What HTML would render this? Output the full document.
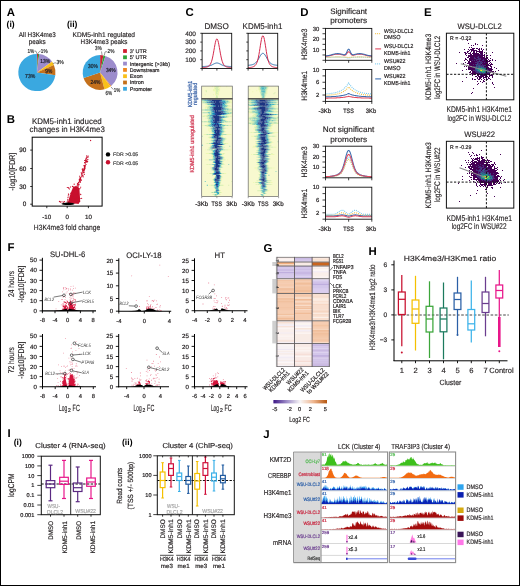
<!DOCTYPE html>
<html><head><meta charset="utf-8"><style>
html,body{margin:0;padding:0;background:#fff;overflow:hidden;}
#w{position:relative;width:520px;height:586px;}
#b{position:absolute;left:0;top:0;width:520px;height:586px;box-sizing:border-box;border:1px solid #000;}
svg{display:block;filter:blur(0.3px);}
text{font-family:"Liberation Sans",sans-serif;text-rendering:geometricPrecision;}
</style></head><body>
<div id="w">
<svg width="520" height="586" viewBox="0 0 520 586" font-family="Liberation Sans, sans-serif" font-size="6.6">
<rect x="0" y="0" width="520" height="586" fill="#fff"/>
<text x="6.8" y="16.3" font-size="11.4" font-weight="bold" fill="#000">A</text>
<text x="6.6" y="26.6" font-size="8.6" font-weight="bold" fill="#000">(i)</text>
<text x="66.9" y="26.6" font-size="8.6" font-weight="bold" fill="#000">(ii)</text>
<text x="18.8" y="36.7" font-size="6.9" fill="#231f20" textLength="36.9" lengthAdjust="spacingAndGlyphs" stroke="#231f20" stroke-width="0.17">All H3K4me3</text>
<text x="28.7" y="43.6" font-size="6.9" fill="#231f20" textLength="17" lengthAdjust="spacingAndGlyphs" stroke="#231f20" stroke-width="0.17">peaks</text>
<text x="72.6" y="36.7" font-size="6.9" fill="#231f20" textLength="62.4" lengthAdjust="spacingAndGlyphs" stroke="#231f20" stroke-width="0.17">KDM5-inh1 regulated</text>
<text x="80.6" y="43.6" font-size="6.9" fill="#231f20" textLength="46.7" lengthAdjust="spacingAndGlyphs" stroke="#231f20" stroke-width="0.17">H3K4me3 peaks</text>
<path d="M36.9 72.5L36.9 53.9A18.6 18.6 0 0 1 38.07 53.94Z" fill="#cf1f2e"/>
<path d="M36.9 72.5L38.07 53.94A18.6 18.6 0 0 1 39.23 54.05Z" fill="#2fa43a"/>
<path d="M36.9 72.5L39.23 54.05A18.6 18.6 0 0 1 51.95 61.57Z" fill="#9c8ccc"/>
<path d="M36.9 72.5L51.95 61.57A18.6 18.6 0 0 1 52.15 61.85Z" fill="#f0861f"/>
<path d="M36.9 72.5L52.15 61.85A18.6 18.6 0 0 1 53.88 64.9Z" fill="#f9c019"/>
<path d="M36.9 72.5L53.88 64.9A18.6 18.6 0 0 1 55.31 75.18Z" fill="#c4701b"/>
<path d="M36.9 72.5L55.31 75.18A18.6 18.6 0 1 1 36.9 53.9Z" fill="#3aa8e0"/>
<path d="M100.1 72.5L100.1 55.1A17.4 17.4 0 0 1 103.36 55.41Z" fill="#cf1f2e"/>
<path d="M100.1 72.5L103.36 55.41A17.4 17.4 0 0 1 105.48 55.95Z" fill="#2fa43a"/>
<path d="M100.1 72.5L105.48 55.95A17.4 17.4 0 0 1 111.19 85.91Z" fill="#9c8ccc"/>
<path d="M100.1 72.5L111.19 85.91A17.4 17.4 0 0 1 110.33 86.58Z" fill="#f0861f"/>
<path d="M100.1 72.5L110.33 86.58A17.4 17.4 0 0 1 104.43 89.35Z" fill="#f9c019"/>
<path d="M100.1 72.5L104.43 89.35A17.4 17.4 0 0 1 83.55 77.88Z" fill="#c4701b"/>
<path d="M100.1 72.5L83.55 77.88A17.4 17.4 0 0 1 100.1 55.1Z" fill="#3aa8e0"/>
<text x="27.4" y="52.6" font-size="5.8" fill="#2a2a2a" textLength="6.8" lengthAdjust="spacingAndGlyphs" stroke="#2a2a2a" stroke-width="0.2">1%</text>
<text x="40.8" y="52.6" font-size="5.8" fill="#2a2a2a" textLength="6.8" lengthAdjust="spacingAndGlyphs" stroke="#2a2a2a" stroke-width="0.2">1%</text>
<text x="40.2" y="63.3" font-size="5.8" fill="#1a1a22" textLength="10" lengthAdjust="spacingAndGlyphs" stroke="#1a1a22" stroke-width="0.2">13%</text>
<text x="56.4" y="64.3" font-size="5.8" fill="#2a2a2a" textLength="7.3" lengthAdjust="spacingAndGlyphs" stroke="#2a2a2a" stroke-width="0.2">3%</text>
<text x="45.3" y="72.5" font-size="5.8" fill="#1a1a22" textLength="7" lengthAdjust="spacingAndGlyphs" stroke="#1a1a22" stroke-width="0.2">9%</text>
<text x="25.1" y="78.3" font-size="5.8" fill="#1a1a22" textLength="10.2" lengthAdjust="spacingAndGlyphs" stroke="#1a1a22" stroke-width="0.2">73%</text>
<path d="M34.4 51 L36 51.2 L37.1 53.9" fill="none" stroke="#333" stroke-width="0.5" stroke-linejoin="round"/>
<path d="M40.7 51 L39.5 51.4 L37.6 53.9" fill="none" stroke="#333" stroke-width="0.5" stroke-linejoin="round"/>
<path d="M56.2 62.8 L54.5 63 L52.8 63.7" fill="none" stroke="#333" stroke-width="0.5" stroke-linejoin="round"/>
<text x="95.1" y="50.2" font-size="5.8" fill="#2a2a2a" textLength="6.6" lengthAdjust="spacingAndGlyphs" stroke="#2a2a2a" stroke-width="0.2">3%</text>
<text x="107.6" y="52.8" font-size="5.8" fill="#2a2a2a" textLength="6.9" lengthAdjust="spacingAndGlyphs" stroke="#2a2a2a" stroke-width="0.2">2%</text>
<text x="88.1" y="67.8" font-size="5.8" fill="#1a1a22" textLength="9.8" lengthAdjust="spacingAndGlyphs" stroke="#1a1a22" stroke-width="0.2">30%</text>
<text x="105.9" y="72.4" font-size="5.8" fill="#1a1a22" textLength="9.8" lengthAdjust="spacingAndGlyphs" stroke="#1a1a22" stroke-width="0.2">34%</text>
<text x="90.5" y="84.4" font-size="5.8" fill="#1a1a22" textLength="9.9" lengthAdjust="spacingAndGlyphs" stroke="#1a1a22" stroke-width="0.2">24%</text>
<text x="113.8" y="91.6" font-size="5.8" fill="#2a2a2a" textLength="6.5" lengthAdjust="spacingAndGlyphs" stroke="#2a2a2a" stroke-width="0.2">1%</text>
<text x="105.4" y="94.5" font-size="5.8" fill="#2a2a2a" textLength="6.7" lengthAdjust="spacingAndGlyphs" stroke="#2a2a2a" stroke-width="0.2">6%</text>
<path d="M101.5 51.5 L102.1 55.2" fill="none" stroke="#333" stroke-width="0.5" stroke-linejoin="round"/>
<path d="M107.2 51.6 L105 51.9 L104.3 55.4" fill="none" stroke="#333" stroke-width="0.5" stroke-linejoin="round"/>
<path d="M113.4 89.6 L111 87" fill="none" stroke="#333" stroke-width="0.5" stroke-linejoin="round"/>
<rect x="123.1" y="49.1" width="3.8" height="3.8" fill="#cf1f2e"/>
<text x="129.8" y="52.9" font-size="5.45" fill="#231f20" textLength="17" lengthAdjust="spacingAndGlyphs" stroke="#231f20" stroke-width="0.2">3’  UTR</text>
<rect x="123.1" y="55.4" width="3.8" height="3.8" fill="#2fa43a"/>
<text x="129.8" y="59.2" font-size="5.45" fill="#231f20" textLength="17" lengthAdjust="spacingAndGlyphs" stroke="#231f20" stroke-width="0.2">5’  UTR</text>
<rect x="123.1" y="61.7" width="3.8" height="3.8" fill="#9c8ccc"/>
<text x="129.8" y="65.5" font-size="5.45" fill="#231f20" textLength="40.3" lengthAdjust="spacingAndGlyphs" stroke="#231f20" stroke-width="0.2">Intergenic (&gt;3kb)</text>
<rect x="123.1" y="68" width="3.8" height="3.8" fill="#f0861f"/>
<text x="129.8" y="71.8" font-size="5.45" fill="#231f20" textLength="29.7" lengthAdjust="spacingAndGlyphs" stroke="#231f20" stroke-width="0.2">Downstream</text>
<rect x="123.1" y="74.3" width="3.8" height="3.8" fill="#f9c019"/>
<text x="129.8" y="78.1" font-size="5.45" fill="#231f20" textLength="13" lengthAdjust="spacingAndGlyphs" stroke="#231f20" stroke-width="0.2">Exon</text>
<rect x="123.1" y="80.6" width="3.8" height="3.8" fill="#c4701b"/>
<text x="129.8" y="84.4" font-size="5.45" fill="#231f20" textLength="14" lengthAdjust="spacingAndGlyphs" stroke="#231f20" stroke-width="0.2">Intron</text>
<rect x="123.1" y="86.9" width="3.8" height="3.8" fill="#3aa8e0"/>
<text x="129.8" y="90.7" font-size="5.45" fill="#231f20" textLength="22.2" lengthAdjust="spacingAndGlyphs" stroke="#231f20" stroke-width="0.2">Promoter</text>
<text x="6.7" y="122.7" font-size="11.4" font-weight="bold" fill="#000">B</text>
<text x="31.9" y="123.8" font-size="8.1" fill="#231f20" textLength="69.9" lengthAdjust="spacingAndGlyphs" stroke="#231f20" stroke-width="0.15">KDM5-inh1 induced</text>
<text x="29.6" y="131.9" font-size="8.1" fill="#231f20" textLength="75.2" lengthAdjust="spacingAndGlyphs" stroke="#231f20" stroke-width="0.15">changes in H3K4me3</text>
<path d="M67.6 203.6 L69.5 197 L71.5 191 L73.3 186.8 L75.5 186.2 L78.3 187 L79.5 190 L79.9 196 L80.2 201.5 L78.5 203.8" fill="#c8102e"/>
<path fill="#c8102e" d="M77.88 181.65h1v1h-1zM82.43 169.57h1v1h-1zM83 168.85h1v1h-1zM85.26 161.86h1v1h-1zM79.11 180.94h1v1h-1zM83.8 173.98h1v1h-1zM84.07 161.9h1v1h-1zM77.83 184.53h1v1h-1zM83.64 168.55h1v1h-1zM83.44 165.04h1v1h-1zM84.63 167.34h1v1h-1zM83.03 169.99h1v1h-1zM80.89 179.56h1v1h-1zM81.51 173.9h1v1h-1zM84.82 165.78h1v1h-1zM85.26 159.1h1v1h-1zM80.62 176.47h1v1h-1zM85.47 158.63h1v1h-1zM86.02 160.5h1v1h-1zM78.64 182.34h1v1h-1zM85.59 157.64h1v1h-1zM79.75 179.57h1v1h-1zM81.02 172.76h1v1h-1zM82.92 170.19h1v1h-1zM83.42 170.22h1v1h-1zM85.53 158.84h1v1h-1zM86.61 161.24h1v1h-1zM77.73 184.12h1v1h-1zM87.16 161.1h1v1h-1zM81.88 170.72h1v1h-1zM84.22 165.94h1v1h-1zM83.77 170.57h1v1h-1zM80.58 180.1h1v1h-1zM87.5 156.84h1v1h-1zM77.23 186.58h1v1h-1zM76.88 184.52h1v1h-1zM79.42 179.8h1v1h-1zM74.87 188.04h1v1h-1zM83.98 169.22h1v1h-1zM80 178.58h1v1h-1zM86.63 160.43h1v1h-1zM86.87 156.55h1v1h-1zM80.36 179.28h1v1h-1zM76.85 188.46h1v1h-1zM77.25 182.99h1v1h-1zM78.32 184.35h1v1h-1zM76.93 188.1h1v1h-1zM86.03 157.86h1v1h-1zM85.22 159.91h1v1h-1zM82.34 172.34h1v1h-1zM82.24 168.25h1v1h-1zM82.24 169.04h1v1h-1zM85.5 158.46h1v1h-1zM83.89 165.73h1v1h-1zM77.92 181.66h1v1h-1zM83.83 172.3h1v1h-1zM82.86 171.4h1v1h-1zM82.44 170.36h1v1h-1zM75.38 188.84h1v1h-1zM75.91 187.52h1v1h-1zM81.72 168.8h1v1h-1zM80.13 177.86h1v1h-1zM83.76 166.17h1v1h-1zM76.5 187.5h1v1h-1zM84.03 167.19h1v1h-1zM80.88 174.44h1v1h-1zM82.2 169.94h1v1h-1zM80.13 179.18h1v1h-1zM79.5 177.32h1v1h-1zM79.77 177.05h1v1h-1zM85.52 164.01h1v1h-1zM84.26 165.24h1v1h-1zM79.66 179.27h1v1h-1zM80.05 181.62h1v1h-1zM76.92 183.32h1v1h-1zM77.61 186.14h1v1h-1zM78.78 178.88h1v1h-1zM82.13 175.03h1v1h-1zM85.76 161.27h1v1h-1zM83.79 168.04h1v1h-1zM85.19 160.3h1v1h-1zM77.5 185.51h1v1h-1zM82.35 172.02h1v1h-1zM86.57 161.83h1v1h-1zM77.76 183.44h1v1h-1zM84.49 168.32h1v1h-1zM84.63 162.89h1v1h-1zM79.56 179.87h1v1h-1zM84.63 163.3h1v1h-1zM81.32 175.74h1v1h-1zM79.1 175.65h1v1h-1zM78.69 184.35h1v1h-1zM77.6 189.35h1v1h-1zM86.28 156.93h1v1h-1zM82.52 175.17h1v1h-1zM77.88 182.17h1v1h-1zM84.81 164.9h1v1h-1zM80.7 172.37h1v1h-1zM78.87 179.96h1v1h-1zM77.23 187.25h1v1h-1zM82.14 170.07h1v1h-1zM77.92 188.01h1v1h-1zM85.31 159.68h1v1h-1zM84.16 159.91h1v1h-1zM85.78 159.81h1v1h-1zM84.14 164.91h1v1h-1zM77.53 183.83h1v1h-1zM82.9 172.18h1v1h-1zM81.57 175.85h1v1h-1zM79.34 178.24h1v1h-1zM70.03 186.5h1v1h-1zM73.18 188.66h1v1h-1zM71.43 200.75h1v1h-1zM73.98 187.74h1v1h-1zM68.9 188.41h1v1h-1zM79.4 188.03h1v1h-1zM78.03 202.49h1v1h-1zM75.3 186.48h1v1h-1zM67.2 199.67h1v1h-1zM70.26 194.84h1v1h-1zM72.42 196h1v1h-1zM77.37 202.5h1v1h-1zM67.27 201.6h1v1h-1zM68.24 202.14h1v1h-1zM80.15 186.7h1v1h-1zM67.71 195.38h1v1h-1zM70.92 198.97h1v1h-1zM71.42 192.09h1v1h-1zM74.71 198.16h1v1h-1zM69.18 198.73h1v1h-1zM68.23 194.22h1v1h-1zM76.52 197.81h1v1h-1zM67.62 200.99h1v1h-1zM71.73 193.1h1v1h-1zM77.46 197.81h1v1h-1zM77.72 192.67h1v1h-1zM72.54 197.95h1v1h-1zM73.45 190.71h1v1h-1zM72.39 190.93h1v1h-1zM72.95 200.07h1v1h-1zM74 190.91h1v1h-1zM67.5 196.96h1v1h-1zM72.46 186h1v1h-1zM79.61 197.92h1v1h-1zM79.07 188.43h1v1h-1zM70.17 196.18h1v1h-1zM68.22 187.83h1v1h-1zM75.77 185.78h1v1h-1zM77.59 191.59h1v1h-1zM76.77 194.03h1v1h-1zM67.94 193.49h1v1h-1zM66.57 201.41h1v1h-1zM77.34 202.31h1v1h-1zM67.79 201.87h1v1h-1zM78.83 200.98h1v1h-1zM66.83 187.06h1v1h-1zM68.2 186.99h1v1h-1zM75.93 187.21h1v1h-1zM79.83 193.69h1v1h-1zM77.68 202.36h1v1h-1zM77.24 195.19h1v1h-1zM76.51 201.8h1v1h-1zM76.99 184.43h1v1h-1zM67.36 198.81h1v1h-1zM74.4 187.43h1v1h-1zM69.89 200.98h1v1h-1zM70 192.83h1v1h-1zM77.05 197.56h1v1h-1zM71.64 197.5h1v1h-1zM71.4 197.09h1v1h-1z"/>
<circle cx="90.6" cy="140.5" r="0.65" fill="#c8102e"/>
<circle cx="59.5" cy="201.5" r="0.65" fill="#c8102e"/>
<circle cx="60.5" cy="202" r="0.65" fill="#c8102e"/>
<circle cx="62" cy="201.8" r="0.65" fill="#c8102e"/>
<circle cx="63.5" cy="202.2" r="0.65" fill="#c8102e"/>
<circle cx="64.5" cy="201.6" r="0.65" fill="#c8102e"/>
<circle cx="86.7" cy="156" r="0.65" fill="#c8102e"/>
<circle cx="88.2" cy="156.1" r="0.65" fill="#c8102e"/>
<circle cx="87.8" cy="159.5" r="0.65" fill="#c8102e"/>
<circle cx="82" cy="173.5" r="0.65" fill="#c8102e"/>
<circle cx="80.2" cy="182" r="0.65" fill="#c8102e"/>
<circle cx="84.5" cy="167.5" r="0.65" fill="#c8102e"/>
<circle cx="81.6" cy="198.3" r="0.65" fill="#c8102e"/>
<circle cx="80.8" cy="194.6" r="0.65" fill="#c8102e"/>
<circle cx="85.5" cy="162" r="0.65" fill="#c8102e"/>
<circle cx="83.2" cy="176.8" r="0.65" fill="#c8102e"/>
<circle cx="74.2" cy="184.2" r="0.65" fill="#c8102e"/>
<circle cx="72.5" cy="186.5" r="0.65" fill="#c8102e"/>
<ellipse cx="68.0" cy="203.8" rx="6.6" ry="1.3" fill="#000"/>
<rect x="32.2" y="137.2" width="69.9" height="68.9" fill="none" stroke="#000" stroke-width="1"/>
<line x1="30.2" y1="150.1" x2="32.2" y2="150.1" stroke="#000" stroke-width="0.8"/>
<text x="26.4" y="152.3" font-size="6.4" text-anchor="end" fill="#231f20" stroke="#231f20" stroke-width="0.2">90</text>
<line x1="30.2" y1="168.5" x2="32.2" y2="168.5" stroke="#000" stroke-width="0.8"/>
<text x="26.4" y="170.7" font-size="6.4" text-anchor="end" fill="#231f20" stroke="#231f20" stroke-width="0.2">60</text>
<line x1="30.2" y1="186.5" x2="32.2" y2="186.5" stroke="#000" stroke-width="0.8"/>
<text x="26.4" y="188.7" font-size="6.4" text-anchor="end" fill="#231f20" stroke="#231f20" stroke-width="0.2">30</text>
<line x1="30.2" y1="204.2" x2="32.2" y2="204.2" stroke="#000" stroke-width="0.8"/>
<text x="26.4" y="206.4" font-size="6.4" text-anchor="end" fill="#231f20" stroke="#231f20" stroke-width="0.2">0</text>
<line x1="46.8" y1="206.1" x2="46.8" y2="208.2" stroke="#000" stroke-width="0.8"/>
<text x="46.8" y="218.5" font-size="6.2" text-anchor="middle" fill="#231f20" stroke="#231f20" stroke-width="0.2">-10</text>
<line x1="67.2" y1="206.1" x2="67.2" y2="208.2" stroke="#000" stroke-width="0.8"/>
<text x="67.2" y="218.5" font-size="6.2" text-anchor="middle" fill="#231f20" stroke="#231f20" stroke-width="0.2">0</text>
<line x1="88.4" y1="206.1" x2="88.4" y2="208.2" stroke="#000" stroke-width="0.8"/>
<text x="88.4" y="218.5" font-size="6.2" text-anchor="middle" fill="#231f20" stroke="#231f20" stroke-width="0.2">10</text>
<text x="14.6" y="190.5" font-size="8.4" fill="#231f20" textLength="37.7" lengthAdjust="spacingAndGlyphs" transform="rotate(-90 14.6 190.5)" stroke="#231f20" stroke-width="0.15">-log10[FDR]</text>
<text x="33.8" y="229.5" font-size="7.7" fill="#231f20" textLength="66.5" lengthAdjust="spacingAndGlyphs" stroke="#231f20" stroke-width="0.15">H3K4me3 fold change</text>
<circle cx="108" cy="154.4" r="2.2" fill="#000"/>
<circle cx="108" cy="162.3" r="2.2" fill="#c8102e"/>
<text x="113.1" y="156.2" font-size="5.1" fill="#444" textLength="25.1" lengthAdjust="spacingAndGlyphs" stroke="#444" stroke-width="0.2">FDR &gt;0.05</text>
<text x="113.1" y="164.5" font-size="5.1" fill="#444" textLength="25.1" lengthAdjust="spacingAndGlyphs" stroke="#444" stroke-width="0.2">FDR &lt;0.05</text>
<text x="185.6" y="16.3" font-size="11.4" font-weight="bold" fill="#000">C</text>
<text x="204.5" y="28.8" font-size="8.3" fill="#231f20" textLength="24.3" lengthAdjust="spacingAndGlyphs" stroke="#231f20" stroke-width="0.15">DMSO</text>
<text x="242.6" y="28.8" font-size="8.3" fill="#231f20" textLength="39.8" lengthAdjust="spacingAndGlyphs" stroke="#231f20" stroke-width="0.15">KDM5-inh1</text>
<path d="M202.1 66.52 L202.59 66.51 L203.09 66.5 L203.58 66.48 L204.07 66.46 L204.57 66.44 L205.06 66.41 L205.55 66.39 L206.05 66.35 L206.54 66.31 L207.03 66.27 L207.53 66.21 L208.02 66.14 L208.51 66.06 L209.01 65.96 L209.5 65.84 L209.99 65.7 L210.49 65.54 L210.98 65.35 L211.47 65.14 L211.97 64.91 L212.46 64.67 L212.95 64.41 L213.45 64.14 L213.94 63.89 L214.43 63.65 L214.93 63.43 L215.42 63.25 L215.91 63.11 L216.41 63.03 L216.9 63 L217.39 63.03 L217.89 63.11 L218.38 63.25 L218.87 63.43 L219.37 63.65 L219.86 63.89 L220.35 64.14 L220.85 64.41 L221.34 64.67 L221.83 64.91 L222.33 65.14 L222.82 65.35 L223.31 65.54 L223.81 65.7 L224.3 65.84 L224.79 65.96 L225.29 66.06 L225.78 66.14 L226.27 66.21 L226.77 66.27 L227.26 66.31 L227.75 66.35 L228.25 66.39 L228.74 66.41 L229.23 66.44 L229.73 66.46 L230.22 66.48 L230.71 66.5 L231.21 66.51 L231.7 66.52" fill="none" stroke="#2f6fab" stroke-width="1" stroke-linejoin="round"/>
<path d="M202.1 67.63 L202.59 67.61 L203.09 67.59 L203.58 67.55 L204.07 67.51 L204.57 67.45 L205.06 67.38 L205.55 67.3 L206.05 67.2 L206.54 67.08 L207.03 66.93 L207.53 66.75 L208.02 66.52 L208.51 66.24 L209.01 65.87 L209.5 65.41 L209.99 64.8 L210.49 64 L210.98 62.98 L211.47 61.67 L211.97 60.04 L212.46 58.06 L212.95 55.75 L213.45 53.14 L213.94 50.34 L214.43 47.48 L214.93 44.74 L215.42 42.33 L215.91 40.43 L216.41 39.22 L216.9 38.8 L217.39 39.22 L217.89 40.43 L218.38 42.33 L218.87 44.74 L219.37 47.48 L219.86 50.34 L220.35 53.14 L220.85 55.75 L221.34 58.06 L221.83 60.04 L222.33 61.67 L222.82 62.98 L223.31 64 L223.81 64.8 L224.3 65.41 L224.79 65.87 L225.29 66.24 L225.78 66.52 L226.27 66.75 L226.77 66.93 L227.26 67.08 L227.75 67.2 L228.25 67.3 L228.74 67.38 L229.23 67.45 L229.73 67.51 L230.22 67.55 L230.71 67.59 L231.21 67.61 L231.7 67.63" fill="none" stroke="#d52a4d" stroke-width="1" stroke-linejoin="round"/>
<rect x="202.1" y="33.3" width="29.6" height="35.2" fill="none" stroke="#111" stroke-width="0.9"/>
<line x1="200.3" y1="33.3" x2="202.1" y2="33.3" stroke="#111" stroke-width="0.8"/>
<line x1="200.3" y1="42.1" x2="202.1" y2="42.1" stroke="#111" stroke-width="0.8"/>
<line x1="200.3" y1="50.9" x2="202.1" y2="50.9" stroke="#111" stroke-width="0.8"/>
<line x1="200.3" y1="59.7" x2="202.1" y2="59.7" stroke="#111" stroke-width="0.8"/>
<line x1="200.3" y1="68.5" x2="202.1" y2="68.5" stroke="#111" stroke-width="0.8"/>
<line x1="202.1" y1="68.5" x2="202.1" y2="70.6" stroke="#111" stroke-width="0.8"/>
<line x1="216.9" y1="68.5" x2="216.9" y2="70.6" stroke="#111" stroke-width="0.8"/>
<line x1="231.7" y1="68.5" x2="231.7" y2="70.6" stroke="#111" stroke-width="0.8"/>
<path d="M248.1 65.33 L248.59 65.29 L249.09 65.24 L249.58 65.19 L250.07 65.12 L250.57 65.05 L251.06 64.97 L251.55 64.87 L252.05 64.76 L252.54 64.62 L253.03 64.46 L253.53 64.26 L254.02 64.03 L254.51 63.75 L255.01 63.41 L255.5 63 L255.99 62.53 L256.49 61.97 L256.98 61.33 L257.47 60.62 L257.97 59.83 L258.46 58.99 L258.95 58.11 L259.45 57.21 L259.94 56.33 L260.43 55.51 L260.93 54.77 L261.42 54.15 L261.91 53.69 L262.41 53.4 L262.9 53.3 L263.39 53.4 L263.89 53.69 L264.38 54.15 L264.87 54.77 L265.37 55.51 L265.86 56.33 L266.35 57.21 L266.85 58.11 L267.34 58.99 L267.83 59.83 L268.33 60.62 L268.82 61.33 L269.31 61.97 L269.81 62.53 L270.3 63 L270.79 63.41 L271.29 63.75 L271.78 64.03 L272.27 64.26 L272.77 64.46 L273.26 64.62 L273.75 64.76 L274.25 64.87 L274.74 64.97 L275.23 65.05 L275.73 65.12 L276.22 65.19 L276.71 65.24 L277.21 65.29 L277.7 65.33" fill="none" stroke="#2f6fab" stroke-width="1" stroke-linejoin="round"/>
<path d="M248.1 67.63 L248.59 67.6 L249.09 67.57 L249.58 67.53 L250.07 67.48 L250.57 67.42 L251.06 67.35 L251.55 67.26 L252.05 67.14 L252.54 67.01 L253.03 66.84 L253.53 66.64 L254.02 66.39 L254.51 66.07 L255.01 65.67 L255.5 65.15 L255.99 64.48 L256.49 63.59 L256.98 62.45 L257.47 61 L257.97 59.19 L258.46 57 L258.95 54.42 L259.45 51.53 L259.94 48.42 L260.43 45.24 L260.93 42.2 L261.42 39.52 L261.91 37.41 L262.41 36.06 L262.9 35.6 L263.39 36.06 L263.89 37.41 L264.38 39.52 L264.87 42.2 L265.37 45.24 L265.86 48.42 L266.35 51.53 L266.85 54.42 L267.34 57 L267.83 59.19 L268.33 61 L268.82 62.45 L269.31 63.59 L269.81 64.48 L270.3 65.15 L270.79 65.67 L271.29 66.07 L271.78 66.39 L272.27 66.64 L272.77 66.84 L273.26 67.01 L273.75 67.14 L274.25 67.26 L274.74 67.35 L275.23 67.42 L275.73 67.48 L276.22 67.53 L276.71 67.57 L277.21 67.6 L277.7 67.63" fill="none" stroke="#d52a4d" stroke-width="1" stroke-linejoin="round"/>
<rect x="248.1" y="33.3" width="29.6" height="35.2" fill="none" stroke="#111" stroke-width="0.9"/>
<line x1="246.3" y1="33.3" x2="248.1" y2="33.3" stroke="#111" stroke-width="0.8"/>
<line x1="246.3" y1="42.1" x2="248.1" y2="42.1" stroke="#111" stroke-width="0.8"/>
<line x1="246.3" y1="50.9" x2="248.1" y2="50.9" stroke="#111" stroke-width="0.8"/>
<line x1="246.3" y1="59.7" x2="248.1" y2="59.7" stroke="#111" stroke-width="0.8"/>
<line x1="246.3" y1="68.5" x2="248.1" y2="68.5" stroke="#111" stroke-width="0.8"/>
<line x1="248.1" y1="68.5" x2="248.1" y2="70.6" stroke="#111" stroke-width="0.8"/>
<line x1="262.9" y1="68.5" x2="262.9" y2="70.6" stroke="#111" stroke-width="0.8"/>
<line x1="277.7" y1="68.5" x2="277.7" y2="70.6" stroke="#111" stroke-width="0.8"/>
<text x="196" y="35.5" font-size="6.5" text-anchor="end" fill="#231f20" stroke="#231f20" stroke-width="0.17">400</text>
<text x="196" y="44.3" font-size="6.5" text-anchor="end" fill="#231f20" stroke="#231f20" stroke-width="0.17">300</text>
<text x="196" y="53.1" font-size="6.5" text-anchor="end" fill="#231f20" stroke="#231f20" stroke-width="0.17">200</text>
<text x="196" y="61.9" font-size="6.5" text-anchor="end" fill="#231f20" stroke="#231f20" stroke-width="0.17">100</text>
<defs><filter id="hb" x="-5%" y="-5%" width="110%" height="110%"><feGaussianBlur stdDeviation="0.35"/></filter></defs>
<rect x="201.7" y="86.1" width="30.6" height="110.5" fill="#f8f9cf"/>
<g filter="url(#hb)">
<path fill="#eef8b4" d="M211.9 86.1h1.04v1.03h-1.04zM213.94 86.1h1.04v1.03h-1.04zM219.04 86.1h2.06v1.03h-2.06zM226.18 86.1h1.04v1.03h-1.04zM213.94 87.11h2.06v1.03h-2.06zM218.02 87.11h1.04v1.03h-1.04zM213.94 88.12h1.04v1.03h-1.04zM218.02 88.12h2.06v1.03h-2.06zM212.92 89.12h3.08v1.03h-3.08zM219.04 89.12h1.04v1.03h-1.04zM204.76 90.13h1.04v1.03h-1.04zM212.92 90.13h3.08v1.03h-3.08zM218.02 90.13h2.06v1.03h-2.06zM214.96 91.14h1.04v1.03h-1.04zM218.02 91.14h1.04v1.03h-1.04zM214.96 92.15h1.04v1.03h-1.04zM217 92.15h2.06v1.03h-2.06zM231.28 92.15h1.04v1.03h-1.04zM214.96 93.16h1.04v1.03h-1.04zM218.02 93.16h1.04v1.03h-1.04zM204.76 94.17h1.04v1.03h-1.04zM212.92 94.17h1.04v1.03h-1.04zM214.96 94.17h4.1v1.03h-4.1zM217 95.17h1.04v1.03h-1.04zM214.96 97.19h1.04v1.03h-1.04zM227.2 99.5h1.04v0.93h-1.04zM229.24 99.5h1.04v0.93h-1.04zM229.24 100.41h3.08v0.93h-3.08zM201.7 101.31h1.04v0.93h-1.04zM230.26 101.31h1.04v0.93h-1.04zM230.26 102.22h2.06v0.93h-2.06zM205.78 103.13h1.04v0.93h-1.04zM227.2 103.13h2.06v0.93h-2.06zM204.76 104.04h2.06v0.93h-2.06zM207.82 104.94h2.06v0.93h-2.06zM228.22 104.94h2.06v0.93h-2.06zM205.78 105.85h2.06v0.93h-2.06zM228.22 105.85h3.08v0.93h-3.08zM204.76 106.76h2.06v0.93h-2.06zM226.18 106.76h2.06v0.93h-2.06zM204.76 107.67h1.04v0.93h-1.04zM227.2 107.67h2.06v0.93h-2.06zM204.76 108.57h1.04v0.93h-1.04zM206.8 110.39h2.06v0.93h-2.06zM228.22 110.39h2.06v0.93h-2.06zM206.8 111.3h2.06v0.93h-2.06zM230.26 111.3h2.06v0.93h-2.06zM231.28 113.11h1.04v0.93h-1.04zM206.8 114.02h2.06v0.93h-2.06zM228.22 114.02h2.06v0.93h-2.06zM203.74 114.93h3.08v0.93h-3.08zM221.08 114.93h1.04v0.93h-1.04zM201.7 115.83h1.04v0.93h-1.04zM204.76 115.83h1.04v0.93h-1.04zM229.24 115.83h1.04v0.93h-1.04zM231.28 115.83h1.04v0.93h-1.04zM206.8 116.74h1.04v0.93h-1.04zM228.22 116.74h1.04v0.93h-1.04zM204.76 117.65h2.06v0.93h-2.06zM223.12 117.65h1.04v0.93h-1.04zM223.12 118.56h1.04v0.93h-1.04zM224.14 119.46h2.06v0.93h-2.06zM226.18 120.37h1.04v0.93h-1.04zM206.8 122.19h1.04v0.93h-1.04zM224.14 122.19h1.04v0.93h-1.04zM226.18 122.19h1.04v0.93h-1.04zM207.82 123.09h1.04v0.93h-1.04zM206.8 124h1.04v0.93h-1.04zM224.14 124h2.06v0.93h-2.06zM201.7 124.91h3.08v0.93h-3.08zM231.28 124.91h1.04v0.93h-1.04zM205.78 125.82h1.04v0.93h-1.04zM224.14 125.82h1.04v0.93h-1.04zM210.88 126.72h1.04v0.93h-1.04zM223.12 126.72h1.04v0.93h-1.04zM207.82 127.63h2.06v0.93h-2.06zM226.18 127.63h2.06v0.93h-2.06zM209.86 128.54h1.04v0.93h-1.04zM223.12 128.54h1.04v0.93h-1.04zM207.82 129.45h3.08v0.93h-3.08zM224.14 129.45h1.04v0.93h-1.04zM210.88 130.35h1.04v0.93h-1.04zM208.84 131.26h2.06v0.93h-2.06zM225.16 131.26h1.04v0.93h-1.04zM210.88 132.17h1.04v0.93h-1.04zM223.12 132.17h1.04v0.93h-1.04zM223.12 133.08h1.04v0.93h-1.04zM203.74 133.98h2.06v0.93h-2.06zM227.2 133.98h4.1v0.93h-4.1zM210.88 134.89h1.04v0.93h-1.04zM222.1 135.8h1.04v0.93h-1.04zM207.82 136.71h1.04v0.93h-1.04zM221.08 136.71h2.06v0.93h-2.06zM208.84 137.61h2.06v0.93h-2.06zM224.14 137.61h2.06v0.93h-2.06zM212.92 138.52h1.04v0.93h-1.04zM226.18 138.52h1.04v0.93h-1.04zM223.12 139.43h1.04v0.93h-1.04zM208.84 140.34h2.06v0.93h-2.06zM211.9 141.24h1.04v0.93h-1.04zM223.12 142.15h1.04v0.93h-1.04zM205.78 143.06h1.04v0.93h-1.04zM207.82 143.06h1.04v0.93h-1.04zM226.18 143.06h2.06v0.93h-2.06zM211.9 143.97h1.04v0.93h-1.04zM209.86 144.87h2.06v0.93h-2.06zM219.04 144.87h1.04v0.93h-1.04zM209.86 146.69h1.04v0.93h-1.04zM207.82 147.6h1.04v0.93h-1.04zM220.06 147.6h1.04v0.93h-1.04zM213.94 148.5h1.04v0.93h-1.04zM204.76 149.41h1.04v0.93h-1.04zM228.22 149.41h3.08v0.93h-3.08zM210.88 150.32h1.04v0.93h-1.04zM210.88 152.13h1.04v0.93h-1.04zM205.78 153.04h3.08v0.93h-3.08zM222.1 153.04h1.04v0.93h-1.04zM224.14 153.04h1.04v0.93h-1.04zM210.88 153.95h1.04v0.93h-1.04zM222.1 153.95h2.06v0.93h-2.06zM211.9 154.86h1.04v0.93h-1.04zM210.88 155.76h2.06v0.93h-2.06zM222.1 155.76h1.04v0.93h-1.04zM211.9 156.67h1.04v0.93h-1.04zM211.9 157.58h1.04v0.93h-1.04zM224.14 157.58h1.04v0.93h-1.04zM204.76 159.39h4.1v0.93h-4.1zM225.16 159.39h1.04v0.93h-1.04zM227.2 159.39h1.04v0.93h-1.04zM221.08 160.3h1.04v0.93h-1.04zM223.12 161.21h1.04v0.93h-1.04zM211.9 162.12h1.04v0.93h-1.04zM213.94 163.02h1.04v0.93h-1.04zM223.12 163.02h1.04v0.93h-1.04zM205.78 163.93h1.04v0.93h-1.04zM207.82 163.93h1.04v0.93h-1.04zM224.14 163.93h1.04v0.93h-1.04zM212.92 164.84h1.04v0.93h-1.04zM221.08 164.84h1.04v0.93h-1.04zM212.92 165.75h1.04v0.93h-1.04zM221.08 165.75h1.04v0.93h-1.04zM209.86 167.56h1.04v0.93h-1.04zM211.9 168.47h1.04v0.93h-1.04zM212.92 170.28h1.04v0.93h-1.04zM212.92 171.19h1.04v0.93h-1.04zM212.92 172.1h1.04v0.93h-1.04zM206.8 173.01h1.04v0.93h-1.04zM208.84 173.01h1.04v0.93h-1.04zM224.14 173.01h2.06v0.93h-2.06zM214.96 174.82h1.04v0.93h-1.04zM222.1 176.64h1.04v0.93h-1.04zM213.94 177.54h1.04v0.93h-1.04zM212.92 178.45h1.04v0.93h-1.04zM221.08 178.45h1.04v0.93h-1.04zM211.9 179.36h1.04v0.93h-1.04zM212.92 180.27h1.04v0.93h-1.04zM221.08 180.27h1.04v0.93h-1.04zM212.92 182.08h1.04v0.93h-1.04zM220.06 182.99h1.04v0.93h-1.04zM213.94 183.9h1.04v0.93h-1.04zM208.84 184.8h2.06v0.93h-2.06zM223.12 184.8h1.04v0.93h-1.04zM219.04 185.71h1.04v0.93h-1.04zM212.92 186.62h1.04v0.93h-1.04zM219.04 186.62h1.04v0.93h-1.04zM213.94 188.43h1.04v0.93h-1.04zM214.96 189.34h1.04v0.93h-1.04zM220.06 190.25h1.04v0.93h-1.04zM218.02 191.16h1.04v0.93h-1.04zM221.08 192.06h1.04v0.93h-1.04zM219.04 192.97h1.04v0.93h-1.04zM211.9 193.88h1.04v0.93h-1.04zM220.06 193.88h1.04v0.93h-1.04zM217 195.69h1.04v0.93h-1.04z"/>
<path fill="#d5eeb2" d="M214.96 86.1h4.1v1.03h-4.1zM215.98 87.11h2.06v1.03h-2.06zM214.96 88.12h3.08v1.03h-3.08zM215.98 89.12h3.08v1.03h-3.08zM205.78 90.13h1.04v1.03h-1.04zM215.98 90.13h2.06v1.03h-2.06zM205.78 91.14h1.04v1.03h-1.04zM215.98 91.14h2.06v1.03h-2.06zM215.98 92.15h1.04v1.03h-1.04zM215.98 93.16h2.06v1.03h-2.06zM215.98 95.17h1.04v1.03h-1.04zM215.98 96.18h2.06v1.03h-2.06zM215.98 97.19h2.06v1.03h-2.06zM225.16 99.5h2.06v0.93h-2.06zM228.22 100.41h1.04v0.93h-1.04zM202.72 101.31h3.08v0.93h-3.08zM229.24 101.31h1.04v0.93h-1.04zM201.7 102.22h1.04v0.93h-1.04zM228.22 102.22h2.06v0.93h-2.06zM207.82 103.13h2.06v0.93h-2.06zM225.16 104.04h2.06v0.93h-2.06zM209.86 104.94h1.04v0.93h-1.04zM207.82 105.85h1.04v0.93h-1.04zM227.2 105.85h1.04v0.93h-1.04zM206.8 106.76h1.04v0.93h-1.04zM206.8 107.67h3.08v0.93h-3.08zM225.16 107.67h1.04v0.93h-1.04zM206.8 108.57h2.06v0.93h-2.06zM229.24 108.57h3.08v0.93h-3.08zM226.18 109.48h1.04v0.93h-1.04zM231.28 109.48h1.04v0.93h-1.04zM209.86 110.39h1.04v0.93h-1.04zM226.18 110.39h2.06v0.93h-2.06zM208.84 111.3h1.04v0.93h-1.04zM228.22 111.3h2.06v0.93h-2.06zM201.7 112.2h1.04v0.93h-1.04zM229.24 112.2h1.04v0.93h-1.04zM209.86 113.11h1.04v0.93h-1.04zM227.2 114.02h1.04v0.93h-1.04zM206.8 114.93h1.04v0.93h-1.04zM202.72 115.83h2.06v0.93h-2.06zM205.78 115.83h1.04v0.93h-1.04zM207.82 115.83h1.04v0.93h-1.04zM227.2 115.83h2.06v0.93h-2.06zM230.26 115.83h1.04v0.93h-1.04zM207.82 116.74h1.04v0.93h-1.04zM227.2 116.74h1.04v0.93h-1.04zM222.1 117.65h1.04v0.93h-1.04zM207.82 118.56h3.08v0.93h-3.08zM224.14 118.56h1.04v0.93h-1.04zM207.82 119.46h1.04v0.93h-1.04zM207.82 120.37h2.06v0.93h-2.06zM225.16 120.37h1.04v0.93h-1.04zM202.72 121.28h1.04v0.93h-1.04zM206.8 121.28h1.04v0.93h-1.04zM224.14 121.28h1.04v0.93h-1.04zM228.22 121.28h1.04v0.93h-1.04zM230.26 121.28h2.06v0.93h-2.06zM207.82 122.19h1.04v0.93h-1.04zM208.84 123.09h2.06v0.93h-2.06zM220.06 123.09h2.06v0.93h-2.06zM207.82 124h1.04v0.93h-1.04zM223.12 124h1.04v0.93h-1.04zM206.8 124.91h1.04v0.93h-1.04zM228.22 124.91h2.06v0.93h-2.06zM206.8 125.82h2.06v0.93h-2.06zM211.9 126.72h1.04v0.93h-1.04zM225.16 127.63h1.04v0.93h-1.04zM210.88 128.54h2.06v0.93h-2.06zM222.1 128.54h1.04v0.93h-1.04zM210.88 131.26h1.04v0.93h-1.04zM224.14 131.26h1.04v0.93h-1.04zM211.9 132.17h1.04v0.93h-1.04zM211.9 133.08h1.04v0.93h-1.04zM222.1 133.08h1.04v0.93h-1.04zM205.78 133.98h1.04v0.93h-1.04zM207.82 133.98h1.04v0.93h-1.04zM226.18 133.98h1.04v0.93h-1.04zM221.08 134.89h2.06v0.93h-2.06zM210.88 135.8h1.04v0.93h-1.04zM221.08 135.8h1.04v0.93h-1.04zM208.84 136.71h1.04v0.93h-1.04zM223.12 137.61h1.04v0.93h-1.04zM225.16 138.52h1.04v0.93h-1.04zM210.88 139.43h2.06v0.93h-2.06zM222.1 139.43h1.04v0.93h-1.04zM224.14 140.34h1.04v0.93h-1.04zM223.12 141.24h1.04v0.93h-1.04zM210.88 142.15h1.04v0.93h-1.04zM206.8 143.06h1.04v0.93h-1.04zM223.12 143.06h3.08v0.93h-3.08zM212.92 143.97h1.04v0.93h-1.04zM224.14 143.97h1.04v0.93h-1.04zM209.86 145.78h1.04v0.93h-1.04zM222.1 145.78h1.04v0.93h-1.04zM210.88 146.69h1.04v0.93h-1.04zM223.12 146.69h2.06v0.93h-2.06zM208.84 147.6h1.04v0.93h-1.04zM223.12 148.5h1.04v0.93h-1.04zM206.8 149.41h2.06v0.93h-2.06zM212.92 149.41h1.04v0.93h-1.04zM225.16 149.41h3.08v0.93h-3.08zM221.08 150.32h1.04v0.93h-1.04zM211.9 151.23h1.04v0.93h-1.04zM220.06 151.23h1.04v0.93h-1.04zM211.9 152.13h1.04v0.93h-1.04zM208.84 153.04h2.06v0.93h-2.06zM221.08 153.04h1.04v0.93h-1.04zM223.12 153.04h1.04v0.93h-1.04zM220.06 154.86h1.04v0.93h-1.04zM223.12 156.67h1.04v0.93h-1.04zM223.12 157.58h1.04v0.93h-1.04zM211.9 158.49h1.04v0.93h-1.04zM222.1 158.49h1.04v0.93h-1.04zM223.12 159.39h2.06v0.93h-2.06zM213.94 160.3h1.04v0.93h-1.04zM221.08 162.12h1.04v0.93h-1.04zM222.1 163.02h1.04v0.93h-1.04zM206.8 163.93h1.04v0.93h-1.04zM208.84 163.93h3.08v0.93h-3.08zM223.12 163.93h1.04v0.93h-1.04zM222.1 166.65h1.04v0.93h-1.04zM210.88 167.56h1.04v0.93h-1.04zM219.04 167.56h1.04v0.93h-1.04zM220.06 168.47h1.04v0.93h-1.04zM210.88 169.38h1.04v0.93h-1.04zM220.06 171.19h1.04v0.93h-1.04zM209.86 173.01h2.06v0.93h-2.06zM222.1 173.01h2.06v0.93h-2.06zM219.04 173.91h1.04v0.93h-1.04zM211.9 174.82h1.04v0.93h-1.04zM221.08 175.73h1.04v0.93h-1.04zM213.94 176.64h1.04v0.93h-1.04zM221.08 176.64h1.04v0.93h-1.04zM219.04 179.36h1.04v0.93h-1.04zM213.94 181.17h1.04v0.93h-1.04zM219.04 181.17h1.04v0.93h-1.04zM231.28 181.17h1.04v0.93h-1.04zM220.06 182.08h1.04v0.93h-1.04zM210.88 184.8h3.08v0.93h-3.08zM220.06 184.8h3.08v0.93h-3.08zM228.22 184.8h1.04v0.93h-1.04zM214.96 185.71h1.04v0.93h-1.04zM213.94 187.53h1.04v0.93h-1.04zM210.88 192.06h1.04v0.93h-1.04zM212.92 192.06h1.04v0.93h-1.04zM219.04 192.06h2.06v0.93h-2.06zM215.98 192.97h1.04v0.93h-1.04zM212.92 193.88h1.04v0.93h-1.04zM219.04 193.88h1.04v0.93h-1.04zM213.94 194.79h1.04v0.93h-1.04zM215.98 194.79h1.04v0.93h-1.04z"/>
<path fill="#addeb6" d="M224.14 99.5h1.04v0.93h-1.04zM201.7 100.41h2.06v0.93h-2.06zM226.18 100.41h1.04v0.93h-1.04zM205.78 101.31h1.04v0.93h-1.04zM207.82 101.31h1.04v0.93h-1.04zM228.22 101.31h1.04v0.93h-1.04zM202.72 102.22h2.06v0.93h-2.06zM226.18 102.22h2.06v0.93h-2.06zM209.86 103.13h1.04v0.93h-1.04zM226.18 103.13h1.04v0.93h-1.04zM206.8 104.04h1.04v0.93h-1.04zM210.88 104.94h1.04v0.93h-1.04zM226.18 104.94h2.06v0.93h-2.06zM208.84 105.85h2.06v0.93h-2.06zM207.82 106.76h2.06v0.93h-2.06zM225.16 106.76h1.04v0.93h-1.04zM226.18 107.67h1.04v0.93h-1.04zM228.22 108.57h1.04v0.93h-1.04zM201.7 109.48h3.08v0.93h-3.08zM208.84 109.48h1.04v0.93h-1.04zM224.14 109.48h1.04v0.93h-1.04zM228.22 109.48h3.08v0.93h-3.08zM208.84 110.39h1.04v0.93h-1.04zM225.16 110.39h1.04v0.93h-1.04zM209.86 111.3h1.04v0.93h-1.04zM227.2 111.3h1.04v0.93h-1.04zM202.72 112.2h5.12v0.93h-5.12zM209.86 112.2h1.04v0.93h-1.04zM226.18 112.2h3.08v0.93h-3.08zM231.28 112.2h1.04v0.93h-1.04zM208.84 113.11h1.04v0.93h-1.04zM229.24 113.11h2.06v0.93h-2.06zM208.84 114.02h2.06v0.93h-2.06zM226.18 114.02h1.04v0.93h-1.04zM220.06 114.93h1.04v0.93h-1.04zM206.8 115.83h1.04v0.93h-1.04zM208.84 115.83h1.04v0.93h-1.04zM225.16 115.83h1.04v0.93h-1.04zM208.84 116.74h1.04v0.93h-1.04zM226.18 116.74h1.04v0.93h-1.04zM206.8 117.65h2.06v0.93h-2.06zM208.84 119.46h1.04v0.93h-1.04zM223.12 119.46h1.04v0.93h-1.04zM209.86 120.37h1.04v0.93h-1.04zM201.7 121.28h1.04v0.93h-1.04zM203.74 121.28h3.08v0.93h-3.08zM222.1 121.28h2.06v0.93h-2.06zM226.18 121.28h2.06v0.93h-2.06zM229.24 121.28h1.04v0.93h-1.04zM208.84 122.19h1.04v0.93h-1.04zM223.12 122.19h1.04v0.93h-1.04zM208.84 124h1.04v0.93h-1.04zM222.1 124h1.04v0.93h-1.04zM204.76 124.91h2.06v0.93h-2.06zM225.16 124.91h2.06v0.93h-2.06zM230.26 124.91h1.04v0.93h-1.04zM208.84 125.82h1.04v0.93h-1.04zM222.1 125.82h2.06v0.93h-2.06zM222.1 126.72h1.04v0.93h-1.04zM209.86 127.63h1.04v0.93h-1.04zM224.14 127.63h1.04v0.93h-1.04zM210.88 129.45h1.04v0.93h-1.04zM223.12 129.45h1.04v0.93h-1.04zM211.9 130.35h1.04v0.93h-1.04zM222.1 130.35h1.04v0.93h-1.04zM212.92 132.17h1.04v0.93h-1.04zM222.1 132.17h1.04v0.93h-1.04zM212.92 133.08h1.04v0.93h-1.04zM206.8 133.98h1.04v0.93h-1.04zM208.84 133.98h2.06v0.93h-2.06zM222.1 133.98h4.1v0.93h-4.1zM211.9 134.89h1.04v0.93h-1.04zM201.7 135.8h1.04v0.93h-1.04zM220.06 135.8h1.04v0.93h-1.04zM209.86 136.71h1.04v0.93h-1.04zM210.88 137.61h1.04v0.93h-1.04zM213.94 138.52h1.04v0.93h-1.04zM210.88 140.34h1.04v0.93h-1.04zM223.12 140.34h1.04v0.93h-1.04zM222.1 141.24h1.04v0.93h-1.04zM211.9 142.15h1.04v0.93h-1.04zM208.84 143.06h2.06v0.93h-2.06zM229.24 145.78h1.04v0.93h-1.04zM211.9 146.69h1.04v0.93h-1.04zM208.84 149.41h2.06v0.93h-2.06zM223.12 149.41h2.06v0.93h-2.06zM211.9 150.32h1.04v0.93h-1.04zM212.92 152.13h1.04v0.93h-1.04zM219.04 152.13h1.04v0.93h-1.04zM210.88 153.04h1.04v0.93h-1.04zM220.06 153.04h1.04v0.93h-1.04zM211.9 153.95h1.04v0.93h-1.04zM212.92 154.86h1.04v0.93h-1.04zM221.08 155.76h1.04v0.93h-1.04zM212.92 156.67h1.04v0.93h-1.04zM212.92 157.58h1.04v0.93h-1.04zM220.06 159.39h3.08v0.93h-3.08zM220.06 160.3h1.04v0.93h-1.04zM222.1 161.21h1.04v0.93h-1.04zM220.06 162.12h1.04v0.93h-1.04zM222.1 163.93h1.04v0.93h-1.04zM212.92 166.65h1.04v0.93h-1.04zM220.06 169.38h1.04v0.93h-1.04zM219.04 170.28h1.04v0.93h-1.04zM220.06 172.1h1.04v0.93h-1.04zM211.9 173.01h1.04v0.93h-1.04zM221.08 173.01h1.04v0.93h-1.04zM211.9 173.91h1.04v0.93h-1.04zM220.06 174.82h1.04v0.93h-1.04zM214.96 175.73h1.04v0.93h-1.04zM220.06 177.54h1.04v0.93h-1.04zM220.06 178.45h1.04v0.93h-1.04zM212.92 179.36h1.04v0.93h-1.04zM214.96 182.99h1.04v0.93h-1.04zM219.04 183.9h1.04v0.93h-1.04zM218.02 187.53h1.04v0.93h-1.04zM218.02 188.43h1.04v0.93h-1.04zM214.96 190.25h1.04v0.93h-1.04zM219.04 190.25h1.04v0.93h-1.04zM213.94 191.16h1.04v0.93h-1.04zM211.9 192.06h1.04v0.93h-1.04zM213.94 193.88h1.04v0.93h-1.04zM218.02 193.88h1.04v0.93h-1.04zM214.96 194.79h1.04v0.93h-1.04zM214.96 195.69h1.04v0.93h-1.04z"/>
<path fill="#78cabb" d="M201.7 99.5h2.06v0.93h-2.06zM203.74 100.41h2.06v0.93h-2.06zM227.2 100.41h1.04v0.93h-1.04zM206.8 101.31h1.04v0.93h-1.04zM225.16 101.31h3.08v0.93h-3.08zM204.76 102.22h2.06v0.93h-2.06zM210.88 103.13h1.04v0.93h-1.04zM224.14 103.13h2.06v0.93h-2.06zM207.82 104.04h2.06v0.93h-2.06zM211.9 104.94h1.04v0.93h-1.04zM210.88 105.85h2.06v0.93h-2.06zM223.12 105.85h1.04v0.93h-1.04zM225.16 105.85h2.06v0.93h-2.06zM224.14 106.76h1.04v0.93h-1.04zM210.88 107.67h1.04v0.93h-1.04zM224.14 107.67h1.04v0.93h-1.04zM208.84 108.57h3.08v0.93h-3.08zM226.18 108.57h2.06v0.93h-2.06zM204.76 109.48h4.1v0.93h-4.1zM225.16 109.48h1.04v0.93h-1.04zM227.2 109.48h1.04v0.93h-1.04zM210.88 110.39h1.04v0.93h-1.04zM224.14 110.39h1.04v0.93h-1.04zM210.88 111.3h1.04v0.93h-1.04zM226.18 111.3h1.04v0.93h-1.04zM210.88 112.2h2.06v0.93h-2.06zM225.16 112.2h1.04v0.93h-1.04zM230.26 112.2h1.04v0.93h-1.04zM210.88 113.11h1.04v0.93h-1.04zM227.2 113.11h2.06v0.93h-2.06zM210.88 114.02h1.04v0.93h-1.04zM225.16 114.02h1.04v0.93h-1.04zM207.82 114.93h2.06v0.93h-2.06zM219.04 114.93h1.04v0.93h-1.04zM210.88 115.83h1.04v0.93h-1.04zM221.08 115.83h1.04v0.93h-1.04zM224.14 115.83h1.04v0.93h-1.04zM226.18 115.83h1.04v0.93h-1.04zM209.86 116.74h1.04v0.93h-1.04zM225.16 116.74h1.04v0.93h-1.04zM221.08 117.65h1.04v0.93h-1.04zM210.88 118.56h1.04v0.93h-1.04zM222.1 118.56h1.04v0.93h-1.04zM222.1 119.46h1.04v0.93h-1.04zM223.12 120.37h2.06v0.93h-2.06zM207.82 121.28h2.06v0.93h-2.06zM225.16 121.28h1.04v0.93h-1.04zM209.86 122.19h1.04v0.93h-1.04zM222.1 122.19h1.04v0.93h-1.04zM219.04 123.09h1.04v0.93h-1.04zM209.86 124h1.04v0.93h-1.04zM207.82 124.91h1.04v0.93h-1.04zM209.86 124.91h1.04v0.93h-1.04zM221.08 124.91h1.04v0.93h-1.04zM227.2 124.91h1.04v0.93h-1.04zM210.88 125.82h1.04v0.93h-1.04zM223.12 127.63h1.04v0.93h-1.04zM222.1 129.45h1.04v0.93h-1.04zM212.92 130.35h1.04v0.93h-1.04zM221.08 130.35h1.04v0.93h-1.04zM223.12 131.26h1.04v0.93h-1.04zM221.08 133.08h1.04v0.93h-1.04zM210.88 133.98h1.04v0.93h-1.04zM221.08 133.98h1.04v0.93h-1.04zM211.9 135.8h1.04v0.93h-1.04zM210.88 136.71h1.04v0.93h-1.04zM222.1 137.61h1.04v0.93h-1.04zM214.96 138.52h1.04v0.93h-1.04zM224.14 138.52h1.04v0.93h-1.04zM212.92 139.43h1.04v0.93h-1.04zM211.9 140.34h1.04v0.93h-1.04zM212.92 141.24h2.06v0.93h-2.06zM222.1 142.15h1.04v0.93h-1.04zM221.08 143.06h2.06v0.93h-2.06zM223.12 143.97h1.04v0.93h-1.04zM218.02 144.87h1.04v0.93h-1.04zM210.88 145.78h1.04v0.93h-1.04zM222.1 146.69h1.04v0.93h-1.04zM209.86 147.6h1.04v0.93h-1.04zM219.04 147.6h1.04v0.93h-1.04zM214.96 148.5h1.04v0.93h-1.04zM222.1 148.5h1.04v0.93h-1.04zM210.88 149.41h2.06v0.93h-2.06zM221.08 149.41h2.06v0.93h-2.06zM211.9 153.04h1.04v0.93h-1.04zM221.08 153.95h1.04v0.93h-1.04zM219.04 154.86h1.04v0.93h-1.04zM222.1 156.67h1.04v0.93h-1.04zM212.92 158.49h1.04v0.93h-1.04zM208.84 159.39h4.1v0.93h-4.1zM212.92 161.21h1.04v0.93h-1.04zM212.92 162.12h1.04v0.93h-1.04zM221.08 163.02h1.04v0.93h-1.04zM211.9 163.93h1.04v0.93h-1.04zM220.06 163.93h2.06v0.93h-2.06zM228.22 163.93h1.04v0.93h-1.04zM220.06 165.75h1.04v0.93h-1.04zM221.08 166.65h1.04v0.93h-1.04zM212.92 168.47h1.04v0.93h-1.04zM219.04 168.47h1.04v0.93h-1.04zM211.9 169.38h1.04v0.93h-1.04zM213.94 170.28h1.04v0.93h-1.04zM213.94 172.1h1.04v0.93h-1.04zM214.96 177.54h1.04v0.93h-1.04zM220.06 180.27h1.04v0.93h-1.04zM213.94 182.08h1.04v0.93h-1.04zM219.04 182.08h1.04v0.93h-1.04zM219.04 182.99h1.04v0.93h-1.04zM213.94 186.62h1.04v0.93h-1.04zM214.96 188.43h1.04v0.93h-1.04zM214.96 191.16h1.04v0.93h-1.04zM217 191.16h1.04v0.93h-1.04zM213.94 192.06h2.06v0.93h-2.06zM215.98 193.88h1.04v0.93h-1.04zM215.98 195.69h1.04v0.93h-1.04z"/>
<path fill="#49b9c2" d="M203.74 99.5h1.04v0.93h-1.04zM205.78 99.5h1.04v0.93h-1.04zM222.1 99.5h2.06v0.93h-2.06zM225.16 100.41h1.04v0.93h-1.04zM208.84 101.31h1.04v0.93h-1.04zM209.86 104.04h1.04v0.93h-1.04zM223.12 104.04h2.06v0.93h-2.06zM224.14 104.94h2.06v0.93h-2.06zM223.12 106.76h1.04v0.93h-1.04zM209.86 107.67h1.04v0.93h-1.04zM209.86 109.48h1.04v0.93h-1.04zM223.12 109.48h1.04v0.93h-1.04zM211.9 110.39h1.04v0.93h-1.04zM223.12 110.39h1.04v0.93h-1.04zM225.16 111.3h1.04v0.93h-1.04zM207.82 112.2h2.06v0.93h-2.06zM223.12 112.2h2.06v0.93h-2.06zM226.18 113.11h1.04v0.93h-1.04zM211.9 114.02h1.04v0.93h-1.04zM224.14 114.02h1.04v0.93h-1.04zM209.86 114.93h1.04v0.93h-1.04zM209.86 115.83h1.04v0.93h-1.04zM222.1 115.83h2.06v0.93h-2.06zM210.88 116.74h1.04v0.93h-1.04zM224.14 116.74h1.04v0.93h-1.04zM220.06 117.65h1.04v0.93h-1.04zM221.08 118.56h1.04v0.93h-1.04zM209.86 119.46h1.04v0.93h-1.04zM221.08 119.46h1.04v0.93h-1.04zM210.88 120.37h2.06v0.93h-2.06zM222.1 120.37h1.04v0.93h-1.04zM209.86 121.28h1.04v0.93h-1.04zM220.06 121.28h2.06v0.93h-2.06zM210.88 122.19h1.04v0.93h-1.04zM210.88 123.09h2.06v0.93h-2.06zM210.88 124h1.04v0.93h-1.04zM208.84 124.91h1.04v0.93h-1.04zM222.1 124.91h3.08v0.93h-3.08zM209.86 125.82h1.04v0.93h-1.04zM221.08 125.82h1.04v0.93h-1.04zM212.92 126.72h2.06v0.93h-2.06zM210.88 127.63h1.04v0.93h-1.04zM222.1 127.63h1.04v0.93h-1.04zM212.92 128.54h1.04v0.93h-1.04zM220.06 128.54h2.06v0.93h-2.06zM212.92 129.45h1.04v0.93h-1.04zM221.08 129.45h1.04v0.93h-1.04zM211.9 131.26h1.04v0.93h-1.04zM222.1 131.26h1.04v0.93h-1.04zM221.08 132.17h1.04v0.93h-1.04zM213.94 133.08h1.04v0.93h-1.04zM219.04 135.8h1.04v0.93h-1.04zM220.06 136.71h1.04v0.93h-1.04zM211.9 137.61h1.04v0.93h-1.04zM223.12 138.52h1.04v0.93h-1.04zM220.06 139.43h2.06v0.93h-2.06zM222.1 140.34h1.04v0.93h-1.04zM221.08 141.24h1.04v0.93h-1.04zM210.88 143.06h1.04v0.93h-1.04zM220.06 143.06h1.04v0.93h-1.04zM201.7 144.87h1.04v0.93h-1.04zM211.9 144.87h1.04v0.93h-1.04zM211.9 145.78h1.04v0.93h-1.04zM221.08 145.78h1.04v0.93h-1.04zM221.08 146.69h1.04v0.93h-1.04zM218.02 147.6h1.04v0.93h-1.04zM213.94 149.41h1.04v0.93h-1.04zM220.06 149.41h1.04v0.93h-1.04zM212.92 150.32h1.04v0.93h-1.04zM219.04 150.32h2.06v0.93h-2.06zM212.92 151.23h1.04v0.93h-1.04zM212.92 153.04h1.04v0.93h-1.04zM219.04 153.04h1.04v0.93h-1.04zM212.92 153.95h1.04v0.93h-1.04zM220.06 153.95h1.04v0.93h-1.04zM212.92 155.76h1.04v0.93h-1.04zM220.06 155.76h1.04v0.93h-1.04zM213.94 156.67h2.06v0.93h-2.06zM222.1 157.58h1.04v0.93h-1.04zM213.94 158.49h1.04v0.93h-1.04zM221.08 158.49h1.04v0.93h-1.04zM212.92 159.39h1.04v0.93h-1.04zM218.02 159.39h2.06v0.93h-2.06zM214.96 163.02h1.04v0.93h-1.04zM212.92 163.93h1.04v0.93h-1.04zM219.04 163.93h1.04v0.93h-1.04zM220.06 164.84h1.04v0.93h-1.04zM220.06 166.65h1.04v0.93h-1.04zM213.94 171.19h1.04v0.93h-1.04zM212.92 173.01h1.04v0.93h-1.04zM220.06 176.64h1.04v0.93h-1.04zM213.94 179.36h1.04v0.93h-1.04zM218.02 179.36h1.04v0.93h-1.04zM213.94 180.27h1.04v0.93h-1.04zM204.76 181.17h1.04v0.93h-1.04zM218.02 181.17h1.04v0.93h-1.04zM206.8 184.8h1.04v0.93h-1.04zM213.94 184.8h1.04v0.93h-1.04zM219.04 184.8h1.04v0.93h-1.04zM218.02 185.71h1.04v0.93h-1.04zM214.96 186.62h1.04v0.93h-1.04zM218.02 186.62h1.04v0.93h-1.04zM215.98 189.34h1.04v0.93h-1.04zM218.02 189.34h1.04v0.93h-1.04zM215.98 192.06h1.04v0.93h-1.04zM218.02 192.06h1.04v0.93h-1.04zM217 192.97h1.04v0.93h-1.04zM214.96 193.88h1.04v0.93h-1.04zM217 193.88h1.04v0.93h-1.04z"/>
<path fill="#2b9fc1" d="M205.78 100.41h2.06v0.93h-2.06zM222.1 100.41h3.08v0.93h-3.08zM209.86 101.31h1.04v0.93h-1.04zM223.12 101.31h2.06v0.93h-2.06zM225.16 102.22h1.04v0.93h-1.04zM211.9 103.13h1.04v0.93h-1.04zM222.1 104.04h1.04v0.93h-1.04zM212.92 104.94h1.04v0.93h-1.04zM223.12 104.94h1.04v0.93h-1.04zM212.92 105.85h1.04v0.93h-1.04zM222.1 105.85h1.04v0.93h-1.04zM224.14 105.85h1.04v0.93h-1.04zM209.86 106.76h2.06v0.93h-2.06zM211.9 107.67h1.04v0.93h-1.04zM225.16 108.57h1.04v0.93h-1.04zM222.1 109.48h1.04v0.93h-1.04zM222.1 110.39h1.04v0.93h-1.04zM212.92 112.2h1.04v0.93h-1.04zM211.9 113.11h1.04v0.93h-1.04zM212.92 114.02h1.04v0.93h-1.04zM222.1 114.02h1.04v0.93h-1.04zM211.9 115.83h1.04v0.93h-1.04zM208.84 117.65h2.06v0.93h-2.06zM211.9 118.56h2.06v0.93h-2.06zM210.88 119.46h2.06v0.93h-2.06zM220.06 119.46h1.04v0.93h-1.04zM219.04 121.28h1.04v0.93h-1.04zM221.08 122.19h1.04v0.93h-1.04zM213.94 123.09h1.04v0.93h-1.04zM218.02 123.09h1.04v0.93h-1.04zM221.08 124h1.04v0.93h-1.04zM210.88 124.91h2.06v0.93h-2.06zM212.92 125.82h1.04v0.93h-1.04zM219.04 125.82h2.06v0.93h-2.06zM219.04 128.54h1.04v0.93h-1.04zM211.9 129.45h1.04v0.93h-1.04zM220.06 130.35h1.04v0.93h-1.04zM212.92 131.26h1.04v0.93h-1.04zM220.06 132.17h1.04v0.93h-1.04zM220.06 133.08h1.04v0.93h-1.04zM211.9 133.98h1.04v0.93h-1.04zM220.06 133.98h1.04v0.93h-1.04zM212.92 134.89h1.04v0.93h-1.04zM220.06 134.89h1.04v0.93h-1.04zM212.92 136.71h1.04v0.93h-1.04zM219.04 136.71h1.04v0.93h-1.04zM221.08 137.61h1.04v0.93h-1.04zM212.92 140.34h1.04v0.93h-1.04zM220.06 141.24h1.04v0.93h-1.04zM213.94 143.97h1.04v0.93h-1.04zM212.92 146.69h1.04v0.93h-1.04zM210.88 147.6h1.04v0.93h-1.04zM213.94 151.23h1.04v0.93h-1.04zM213.94 152.13h1.04v0.93h-1.04zM213.94 155.76h1.04v0.93h-1.04zM221.08 156.67h1.04v0.93h-1.04zM213.94 157.58h1.04v0.93h-1.04zM213.94 161.21h1.04v0.93h-1.04zM221.08 161.21h1.04v0.93h-1.04zM213.94 162.12h1.04v0.93h-1.04zM218.02 163.93h1.04v0.93h-1.04zM213.94 164.84h1.04v0.93h-1.04zM213.94 166.65h1.04v0.93h-1.04zM211.9 167.56h1.04v0.93h-1.04zM218.02 167.56h1.04v0.93h-1.04zM219.04 169.38h1.04v0.93h-1.04zM218.02 170.28h1.04v0.93h-1.04zM214.96 172.1h1.04v0.93h-1.04zM220.06 173.01h1.04v0.93h-1.04zM212.92 173.91h1.04v0.93h-1.04zM218.02 173.91h1.04v0.93h-1.04zM220.06 175.73h1.04v0.93h-1.04zM214.96 176.64h1.04v0.93h-1.04zM213.94 178.45h1.04v0.93h-1.04zM214.96 182.08h1.04v0.93h-1.04zM218.02 182.99h1.04v0.93h-1.04zM214.96 183.9h1.04v0.93h-1.04zM218.02 183.9h1.04v0.93h-1.04zM214.96 184.8h1.04v0.93h-1.04zM218.02 184.8h1.04v0.93h-1.04zM215.98 185.71h1.04v0.93h-1.04zM214.96 187.53h3.08v0.93h-3.08zM217 189.34h1.04v0.93h-1.04zM215.98 191.16h1.04v0.93h-1.04zM217 192.06h1.04v0.93h-1.04zM218.02 192.97h1.04v0.93h-1.04z"/>
<path fill="#1e7eb7" d="M204.76 99.5h1.04v0.93h-1.04zM206.8 99.5h2.06v0.93h-2.06zM208.84 100.41h1.04v0.93h-1.04zM211.9 101.31h1.04v0.93h-1.04zM221.08 101.31h2.06v0.93h-2.06zM206.8 102.22h2.06v0.93h-2.06zM223.12 102.22h2.06v0.93h-2.06zM212.92 103.13h1.04v0.93h-1.04zM222.1 103.13h2.06v0.93h-2.06zM213.94 104.94h1.04v0.93h-1.04zM222.1 104.94h1.04v0.93h-1.04zM213.94 105.85h1.04v0.93h-1.04zM222.1 106.76h1.04v0.93h-1.04zM223.12 107.67h1.04v0.93h-1.04zM211.9 108.57h1.04v0.93h-1.04zM224.14 108.57h1.04v0.93h-1.04zM210.88 109.48h1.04v0.93h-1.04zM212.92 110.39h2.06v0.93h-2.06zM221.08 110.39h1.04v0.93h-1.04zM211.9 111.3h2.06v0.93h-2.06zM224.14 111.3h1.04v0.93h-1.04zM212.92 113.11h2.06v0.93h-2.06zM225.16 113.11h1.04v0.93h-1.04zM213.94 114.02h1.04v0.93h-1.04zM223.12 114.02h1.04v0.93h-1.04zM210.88 114.93h1.04v0.93h-1.04zM218.02 114.93h1.04v0.93h-1.04zM220.06 115.83h1.04v0.93h-1.04zM211.9 116.74h1.04v0.93h-1.04zM222.1 116.74h2.06v0.93h-2.06zM221.08 120.37h1.04v0.93h-1.04zM210.88 121.28h2.06v0.93h-2.06zM211.9 122.19h1.04v0.93h-1.04zM212.92 123.09h1.04v0.93h-1.04zM212.92 124h1.04v0.93h-1.04zM219.04 124h1.04v0.93h-1.04zM219.04 124.91h2.06v0.93h-2.06zM221.08 126.72h1.04v0.93h-1.04zM211.9 127.63h1.04v0.93h-1.04zM213.94 128.54h1.04v0.93h-1.04zM220.06 129.45h1.04v0.93h-1.04zM213.94 131.26h1.04v0.93h-1.04zM221.08 131.26h1.04v0.93h-1.04zM213.94 132.17h1.04v0.93h-1.04zM219.04 133.08h1.04v0.93h-1.04zM212.92 135.8h1.04v0.93h-1.04zM211.9 136.71h1.04v0.93h-1.04zM218.02 136.71h1.04v0.93h-1.04zM212.92 137.61h1.04v0.93h-1.04zM222.1 138.52h1.04v0.93h-1.04zM213.94 139.43h1.04v0.93h-1.04zM219.04 139.43h1.04v0.93h-1.04zM221.08 140.34h1.04v0.93h-1.04zM214.96 141.24h1.04v0.93h-1.04zM212.92 142.15h1.04v0.93h-1.04zM221.08 142.15h1.04v0.93h-1.04zM211.9 143.06h1.04v0.93h-1.04zM222.1 143.97h1.04v0.93h-1.04zM212.92 145.78h1.04v0.93h-1.04zM213.94 146.69h1.04v0.93h-1.04zM220.06 146.69h1.04v0.93h-1.04zM221.08 148.5h1.04v0.93h-1.04zM214.96 149.41h1.04v0.93h-1.04zM219.04 149.41h1.04v0.93h-1.04zM213.94 150.32h1.04v0.93h-1.04zM213.94 153.95h1.04v0.93h-1.04zM218.02 154.86h1.04v0.93h-1.04zM220.06 156.67h1.04v0.93h-1.04zM214.96 158.49h1.04v0.93h-1.04zM220.06 158.49h1.04v0.93h-1.04zM220.06 161.21h1.04v0.93h-1.04zM219.04 162.12h1.04v0.93h-1.04zM213.94 163.93h1.04v0.93h-1.04zM213.94 165.75h1.04v0.93h-1.04zM219.04 165.75h1.04v0.93h-1.04zM219.04 166.65h1.04v0.93h-1.04zM212.92 169.38h1.04v0.93h-1.04zM214.96 171.19h1.04v0.93h-1.04zM219.04 171.19h1.04v0.93h-1.04zM219.04 172.1h1.04v0.93h-1.04zM217 173.91h1.04v0.93h-1.04zM215.98 177.54h1.04v0.93h-1.04zM217 179.36h1.04v0.93h-1.04zM219.04 180.27h1.04v0.93h-1.04zM214.96 181.17h2.06v0.93h-2.06zM218.02 182.08h1.04v0.93h-1.04zM215.98 182.99h2.06v0.93h-2.06zM215.98 188.43h2.06v0.93h-2.06zM218.02 190.25h1.04v0.93h-1.04z"/>
<path fill="#225aa5" d="M221.08 99.5h1.04v0.93h-1.04zM207.82 100.41h1.04v0.93h-1.04zM209.86 100.41h2.06v0.93h-2.06zM221.08 100.41h1.04v0.93h-1.04zM210.88 101.31h1.04v0.93h-1.04zM212.92 101.31h1.04v0.93h-1.04zM220.06 101.31h1.04v0.93h-1.04zM208.84 102.22h2.06v0.93h-2.06zM222.1 102.22h1.04v0.93h-1.04zM213.94 103.13h1.04v0.93h-1.04zM221.08 103.13h1.04v0.93h-1.04zM210.88 104.04h2.06v0.93h-2.06zM220.06 104.04h1.04v0.93h-1.04zM218.02 105.85h1.04v0.93h-1.04zM220.06 105.85h2.06v0.93h-2.06zM211.9 106.76h1.04v0.93h-1.04zM212.92 107.67h1.04v0.93h-1.04zM222.1 107.67h1.04v0.93h-1.04zM212.92 108.57h1.04v0.93h-1.04zM222.1 108.57h2.06v0.93h-2.06zM211.9 109.48h1.04v0.93h-1.04zM221.08 109.48h1.04v0.93h-1.04zM219.04 110.39h2.06v0.93h-2.06zM223.12 111.3h1.04v0.93h-1.04zM213.94 112.2h1.04v0.93h-1.04zM214.96 113.11h1.04v0.93h-1.04zM224.14 113.11h1.04v0.93h-1.04zM221.08 114.02h1.04v0.93h-1.04zM211.9 114.93h1.04v0.93h-1.04zM210.88 117.65h1.04v0.93h-1.04zM219.04 117.65h1.04v0.93h-1.04zM219.04 119.46h1.04v0.93h-1.04zM212.92 121.28h1.04v0.93h-1.04zM215.98 123.09h1.04v0.93h-1.04zM211.9 124h1.04v0.93h-1.04zM215.98 124h1.04v0.93h-1.04zM220.06 124h1.04v0.93h-1.04zM211.9 125.82h1.04v0.93h-1.04zM214.96 125.82h2.06v0.93h-2.06zM220.06 126.72h1.04v0.93h-1.04zM221.08 127.63h1.04v0.93h-1.04zM218.02 128.54h1.04v0.93h-1.04zM213.94 129.45h1.04v0.93h-1.04zM213.94 130.35h1.04v0.93h-1.04zM220.06 131.26h1.04v0.93h-1.04zM214.96 133.08h1.04v0.93h-1.04zM212.92 133.98h1.04v0.93h-1.04zM213.94 134.89h1.04v0.93h-1.04zM215.98 136.71h1.04v0.93h-1.04zM213.94 137.61h1.04v0.93h-1.04zM218.02 139.43h1.04v0.93h-1.04zM213.94 140.34h1.04v0.93h-1.04zM220.06 142.15h1.04v0.93h-1.04zM218.02 143.06h2.06v0.93h-2.06zM214.96 143.97h1.04v0.93h-1.04zM212.92 144.87h1.04v0.93h-1.04zM217 144.87h1.04v0.93h-1.04zM220.06 145.78h1.04v0.93h-1.04zM218.02 150.32h1.04v0.93h-1.04zM219.04 151.23h1.04v0.93h-1.04zM218.02 152.13h1.04v0.93h-1.04zM218.02 153.04h1.04v0.93h-1.04zM213.94 154.86h1.04v0.93h-1.04zM219.04 155.76h1.04v0.93h-1.04zM221.08 157.58h1.04v0.93h-1.04zM214.96 160.3h1.04v0.93h-1.04zM219.04 160.3h1.04v0.93h-1.04zM220.06 163.02h1.04v0.93h-1.04zM214.96 164.84h1.04v0.93h-1.04zM212.92 167.56h1.04v0.93h-1.04zM213.94 168.47h1.04v0.93h-1.04zM214.96 170.28h1.04v0.93h-1.04zM213.94 173.01h1.04v0.93h-1.04zM219.04 173.01h1.04v0.93h-1.04zM213.94 173.91h1.04v0.93h-1.04zM215.98 174.82h1.04v0.93h-1.04zM215.98 175.73h1.04v0.93h-1.04zM219.04 176.64h1.04v0.93h-1.04zM219.04 178.45h1.04v0.93h-1.04zM217 181.17h1.04v0.93h-1.04zM215.98 182.08h1.04v0.93h-1.04zM217 185.71h1.04v0.93h-1.04zM215.98 186.62h2.06v0.93h-2.06zM215.98 190.25h2.06v0.93h-2.06z"/>
<path fill="#244096" d="M208.84 99.5h1.04v0.93h-1.04zM210.88 99.5h1.04v0.93h-1.04zM220.06 99.5h1.04v0.93h-1.04zM220.06 100.41h1.04v0.93h-1.04zM214.96 101.31h1.04v0.93h-1.04zM219.04 101.31h1.04v0.93h-1.04zM221.08 102.22h1.04v0.93h-1.04zM220.06 103.13h1.04v0.93h-1.04zM221.08 104.04h1.04v0.93h-1.04zM220.06 104.94h2.06v0.93h-2.06zM214.96 105.85h1.04v0.93h-1.04zM221.08 106.76h1.04v0.93h-1.04zM221.08 107.67h1.04v0.93h-1.04zM215.98 110.39h1.04v0.93h-1.04zM218.02 110.39h1.04v0.93h-1.04zM213.94 111.3h1.04v0.93h-1.04zM221.08 112.2h2.06v0.93h-2.06zM215.98 113.11h1.04v0.93h-1.04zM220.06 113.11h1.04v0.93h-1.04zM222.1 113.11h1.04v0.93h-1.04zM214.96 114.02h2.06v0.93h-2.06zM213.94 114.93h2.06v0.93h-2.06zM217 114.93h1.04v0.93h-1.04zM212.92 115.83h1.04v0.93h-1.04zM219.04 115.83h1.04v0.93h-1.04zM212.92 116.74h1.04v0.93h-1.04zM221.08 116.74h1.04v0.93h-1.04zM213.94 118.56h1.04v0.93h-1.04zM220.06 118.56h1.04v0.93h-1.04zM212.92 119.46h1.04v0.93h-1.04zM212.92 120.37h2.06v0.93h-2.06zM219.04 120.37h1.04v0.93h-1.04zM217 121.28h2.06v0.93h-2.06zM212.92 122.19h1.04v0.93h-1.04zM219.04 122.19h2.06v0.93h-2.06zM214.96 123.09h1.04v0.93h-1.04zM217 123.09h1.04v0.93h-1.04zM213.94 124h1.04v0.93h-1.04zM218.02 124h1.04v0.93h-1.04zM212.92 124.91h2.06v0.93h-2.06zM213.94 125.82h1.04v0.93h-1.04zM217 125.82h1.04v0.93h-1.04zM214.96 126.72h1.04v0.93h-1.04zM214.96 128.54h2.06v0.93h-2.06zM219.04 130.35h1.04v0.93h-1.04zM215.98 131.26h1.04v0.93h-1.04zM219.04 132.17h1.04v0.93h-1.04zM219.04 133.98h1.04v0.93h-1.04zM219.04 134.89h1.04v0.93h-1.04zM213.94 135.8h1.04v0.93h-1.04zM218.02 135.8h1.04v0.93h-1.04zM213.94 136.71h2.06v0.93h-2.06zM220.06 137.61h1.04v0.93h-1.04zM215.98 138.52h1.04v0.93h-1.04zM220.06 138.52h2.06v0.93h-2.06zM214.96 139.43h1.04v0.93h-1.04zM217 141.24h3.08v0.93h-3.08zM212.92 143.06h1.04v0.93h-1.04zM213.94 144.87h1.04v0.93h-1.04zM213.94 145.78h1.04v0.93h-1.04zM219.04 145.78h1.04v0.93h-1.04zM211.9 147.6h1.04v0.93h-1.04zM217 147.6h1.04v0.93h-1.04zM215.98 148.5h1.04v0.93h-1.04zM218.02 149.41h1.04v0.93h-1.04zM214.96 150.32h1.04v0.93h-1.04zM217 150.32h1.04v0.93h-1.04zM214.96 152.13h1.04v0.93h-1.04zM213.94 153.04h1.04v0.93h-1.04zM214.96 153.95h1.04v0.93h-1.04zM219.04 153.95h1.04v0.93h-1.04zM215.98 156.67h1.04v0.93h-1.04zM218.02 156.67h2.06v0.93h-2.06zM213.94 159.39h1.04v0.93h-1.04zM214.96 161.21h1.04v0.93h-1.04zM219.04 161.21h1.04v0.93h-1.04zM214.96 162.12h1.04v0.93h-1.04zM214.96 163.93h1.04v0.93h-1.04zM219.04 164.84h1.04v0.93h-1.04zM214.96 166.65h1.04v0.93h-1.04zM217 167.56h1.04v0.93h-1.04zM218.02 168.47h1.04v0.93h-1.04zM215.98 170.28h2.06v0.93h-2.06zM218.02 172.1h1.04v0.93h-1.04zM215.98 173.91h1.04v0.93h-1.04zM219.04 174.82h1.04v0.93h-1.04zM219.04 175.73h1.04v0.93h-1.04zM214.96 178.45h1.04v0.93h-1.04zM214.96 179.36h2.06v0.93h-2.06zM217 182.08h1.04v0.93h-1.04zM217 183.9h1.04v0.93h-1.04zM217 184.8h1.04v0.93h-1.04z"/>
<path fill="#1e3482" d="M209.86 99.5h1.04v0.93h-1.04zM211.9 99.5h8.18v0.93h-8.18zM211.9 100.41h8.18v0.93h-8.18zM213.94 101.31h1.04v0.93h-1.04zM215.98 101.31h3.08v0.93h-3.08zM210.88 102.22h10.22v0.93h-10.22zM214.96 103.13h5.12v0.93h-5.12zM212.92 104.04h7.16v0.93h-7.16zM214.96 104.94h5.12v0.93h-5.12zM215.98 105.85h2.06v0.93h-2.06zM219.04 105.85h1.04v0.93h-1.04zM212.92 106.76h8.18v0.93h-8.18zM213.94 107.67h7.16v0.93h-7.16zM213.94 108.57h8.18v0.93h-8.18zM212.92 109.48h8.18v0.93h-8.18zM214.96 110.39h1.04v0.93h-1.04zM217 110.39h1.04v0.93h-1.04zM214.96 111.3h8.18v0.93h-8.18zM214.96 112.2h6.14v0.93h-6.14zM217 113.11h3.08v0.93h-3.08zM221.08 113.11h1.04v0.93h-1.04zM223.12 113.11h1.04v0.93h-1.04zM217 114.02h4.1v0.93h-4.1zM212.92 114.93h1.04v0.93h-1.04zM215.98 114.93h1.04v0.93h-1.04zM213.94 115.83h5.12v0.93h-5.12zM213.94 116.74h7.16v0.93h-7.16zM211.9 117.65h7.16v0.93h-7.16zM214.96 118.56h5.12v0.93h-5.12zM213.94 119.46h5.12v0.93h-5.12zM214.96 120.37h4.1v0.93h-4.1zM220.06 120.37h1.04v0.93h-1.04zM213.94 121.28h3.08v0.93h-3.08zM213.94 122.19h5.12v0.93h-5.12zM214.96 124h1.04v0.93h-1.04zM217 124h1.04v0.93h-1.04zM214.96 124.91h4.1v0.93h-4.1zM218.02 125.82h1.04v0.93h-1.04zM215.98 126.72h4.1v0.93h-4.1zM212.92 127.63h8.18v0.93h-8.18zM217 128.54h1.04v0.93h-1.04zM214.96 129.45h5.12v0.93h-5.12zM214.96 130.35h4.1v0.93h-4.1zM214.96 131.26h1.04v0.93h-1.04zM217 131.26h3.08v0.93h-3.08zM214.96 132.17h4.1v0.93h-4.1zM215.98 133.08h3.08v0.93h-3.08zM213.94 133.98h5.12v0.93h-5.12zM214.96 134.89h4.1v0.93h-4.1zM214.96 135.8h3.08v0.93h-3.08zM217 136.71h1.04v0.93h-1.04zM214.96 137.61h5.12v0.93h-5.12zM217 138.52h3.08v0.93h-3.08zM215.98 139.43h2.06v0.93h-2.06zM214.96 140.34h6.14v0.93h-6.14zM215.98 141.24h1.04v0.93h-1.04zM213.94 142.15h6.14v0.93h-6.14zM213.94 143.06h4.1v0.93h-4.1zM215.98 143.97h6.14v0.93h-6.14zM214.96 144.87h2.06v0.93h-2.06zM214.96 145.78h4.1v0.93h-4.1zM214.96 146.69h5.12v0.93h-5.12zM212.92 147.6h4.1v0.93h-4.1zM217 148.5h4.1v0.93h-4.1zM215.98 149.41h2.06v0.93h-2.06zM215.98 150.32h1.04v0.93h-1.04zM214.96 151.23h4.1v0.93h-4.1zM215.98 152.13h2.06v0.93h-2.06zM214.96 153.04h3.08v0.93h-3.08zM215.98 153.95h3.08v0.93h-3.08zM214.96 154.86h3.08v0.93h-3.08zM214.96 155.76h4.1v0.93h-4.1zM217 156.67h1.04v0.93h-1.04zM214.96 157.58h6.14v0.93h-6.14zM215.98 158.49h4.1v0.93h-4.1zM214.96 159.39h3.08v0.93h-3.08zM215.98 160.3h3.08v0.93h-3.08zM215.98 161.21h3.08v0.93h-3.08zM215.98 162.12h3.08v0.93h-3.08zM215.98 163.02h4.1v0.93h-4.1zM215.98 163.93h2.06v0.93h-2.06zM215.98 164.84h3.08v0.93h-3.08zM214.96 165.75h4.1v0.93h-4.1zM215.98 166.65h3.08v0.93h-3.08zM213.94 167.56h3.08v0.93h-3.08zM214.96 168.47h3.08v0.93h-3.08zM213.94 169.38h5.12v0.93h-5.12zM215.98 171.19h3.08v0.93h-3.08zM215.98 172.1h2.06v0.93h-2.06zM214.96 173.01h4.1v0.93h-4.1zM214.96 173.91h1.04v0.93h-1.04zM217 174.82h2.06v0.93h-2.06zM217 175.73h2.06v0.93h-2.06zM215.98 176.64h3.08v0.93h-3.08zM217 177.54h3.08v0.93h-3.08zM215.98 178.45h3.08v0.93h-3.08zM214.96 180.27h4.1v0.93h-4.1zM215.98 183.9h1.04v0.93h-1.04zM215.98 184.8h1.04v0.93h-1.04z"/>
</g>
<rect x="201.7" y="86.1" width="30.6" height="110.5" fill="none" stroke="#666" stroke-width="0.7"/>
<line x1="201.4" y1="98.8" x2="232.6" y2="98.8" stroke="#444" stroke-width="1.4"/>
<rect x="248.2" y="86.1" width="30.3" height="110.5" fill="#f8f9cf"/>
<g filter="url(#hb)">
<path fill="#eef8b4" d="M258.3 86.1h1.03v1.03h-1.03zM258.3 87.11h1.03v1.03h-1.03zM267.39 87.11h1.03v1.03h-1.03zM258.3 88.12h1.03v1.03h-1.03zM267.39 88.12h1.03v1.03h-1.03zM249.21 89.12h1.03v1.03h-1.03zM258.3 89.12h1.03v1.03h-1.03zM256.28 90.13h1.03v1.03h-1.03zM259.31 90.13h1.03v1.03h-1.03zM266.38 90.13h1.03v1.03h-1.03zM252.24 91.14h1.03v1.03h-1.03zM259.31 91.14h1.03v1.03h-1.03zM266.38 91.14h1.03v1.03h-1.03zM266.38 92.15h1.03v1.03h-1.03zM266.38 93.16h1.03v1.03h-1.03zM260.32 94.17h1.03v1.03h-1.03zM265.37 94.17h1.03v1.03h-1.03zM260.32 95.17h1.03v1.03h-1.03zM265.37 95.17h1.03v1.03h-1.03zM264.36 97.19h1.03v1.03h-1.03zM248.2 101.31h2.04v0.93h-2.04zM272.44 101.31h3.05v0.93h-3.05zM250.22 103.13h2.04v0.93h-2.04zM253.25 103.13h1.03v0.93h-1.03zM273.45 103.13h2.04v0.93h-2.04zM273.45 104.94h2.04v0.93h-2.04zM254.26 105.85h1.03v0.93h-1.03zM256.28 105.85h1.03v0.93h-1.03zM274.46 105.85h2.04v0.93h-2.04zM252.24 106.76h2.04v0.93h-2.04zM273.45 106.76h1.03v0.93h-1.03zM248.2 107.67h1.03v0.93h-1.03zM277.49 107.67h1.03v0.93h-1.03zM249.21 109.48h2.04v0.93h-2.04zM274.46 109.48h2.04v0.93h-2.04zM252.24 110.39h3.05v0.93h-3.05zM249.21 111.3h1.03v0.93h-1.03zM248.2 112.2h2.04v0.93h-2.04zM269.41 112.2h1.03v0.93h-1.03zM255.27 113.11h1.03v0.93h-1.03zM272.44 113.11h1.03v0.93h-1.03zM253.25 114.02h1.03v0.93h-1.03zM252.24 114.93h1.03v0.93h-1.03zM254.26 114.93h1.03v0.93h-1.03zM274.46 114.93h2.04v0.93h-2.04zM252.24 115.83h2.04v0.93h-2.04zM270.42 115.83h1.03v0.93h-1.03zM248.2 116.74h2.04v0.93h-2.04zM276.48 116.74h1.03v0.93h-1.03zM255.27 119.46h1.03v0.93h-1.03zM271.43 119.46h1.03v0.93h-1.03zM248.2 120.37h1.03v0.93h-1.03zM250.22 121.28h2.04v0.93h-2.04zM270.42 121.28h2.04v0.93h-2.04zM277.49 122.19h1.03v0.93h-1.03zM250.22 124h2.04v0.93h-2.04zM270.42 124h3.05v0.93h-3.05zM255.27 124.91h1.03v0.93h-1.03zM254.26 125.82h2.04v0.93h-2.04zM270.42 125.82h2.04v0.93h-2.04zM268.4 126.72h3.05v0.93h-3.05zM256.28 127.63h1.03v0.93h-1.03zM270.42 127.63h2.04v0.93h-2.04zM253.25 128.54h2.04v0.93h-2.04zM269.41 128.54h2.04v0.93h-2.04zM254.26 129.45h1.03v0.93h-1.03zM269.41 130.35h3.05v0.93h-3.05zM249.21 132.17h2.04v0.93h-2.04zM252.24 132.17h1.03v0.93h-1.03zM274.46 132.17h4.06v0.93h-4.06zM258.3 133.08h1.03v0.93h-1.03zM272.44 133.08h2.04v0.93h-2.04zM256.28 133.98h1.03v0.93h-1.03zM268.4 133.98h1.03v0.93h-1.03zM251.23 135.8h3.05v0.93h-3.05zM275.47 135.8h1.03v0.93h-1.03zM255.27 136.71h1.03v0.93h-1.03zM256.28 137.61h1.03v0.93h-1.03zM268.4 137.61h1.03v0.93h-1.03zM254.26 138.52h1.03v0.93h-1.03zM270.42 138.52h1.03v0.93h-1.03zM258.3 139.43h1.03v0.93h-1.03zM270.42 139.43h1.03v0.93h-1.03zM257.29 140.34h1.03v0.93h-1.03zM269.41 140.34h1.03v0.93h-1.03zM271.43 141.24h1.03v0.93h-1.03zM258.3 142.15h1.03v0.93h-1.03zM271.43 142.15h2.04v0.93h-2.04zM255.27 143.06h1.03v0.93h-1.03zM270.42 143.06h1.03v0.93h-1.03zM256.28 143.97h1.03v0.93h-1.03zM267.39 143.97h1.03v0.93h-1.03zM255.27 144.87h1.03v0.93h-1.03zM253.25 145.78h2.04v0.93h-2.04zM252.24 146.69h4.06v0.93h-4.06zM273.45 146.69h1.03v0.93h-1.03zM275.47 146.69h1.03v0.93h-1.03zM257.29 147.6h1.03v0.93h-1.03zM267.39 147.6h1.03v0.93h-1.03zM257.29 149.41h1.03v0.93h-1.03zM270.42 149.41h1.03v0.93h-1.03zM257.29 151.23h1.03v0.93h-1.03zM255.27 152.13h1.03v0.93h-1.03zM268.4 152.13h1.03v0.93h-1.03zM257.29 153.04h1.03v0.93h-1.03zM251.23 153.95h1.03v0.93h-1.03zM270.42 153.95h4.06v0.93h-4.06zM257.29 154.86h1.03v0.93h-1.03zM267.39 154.86h1.03v0.93h-1.03zM269.41 155.76h1.03v0.93h-1.03zM259.31 157.58h1.03v0.93h-1.03zM267.39 157.58h1.03v0.93h-1.03zM258.3 158.49h1.03v0.93h-1.03zM267.39 159.39h1.03v0.93h-1.03zM257.29 160.3h1.03v0.93h-1.03zM268.4 160.3h1.03v0.93h-1.03zM257.29 161.21h1.03v0.93h-1.03zM267.39 162.12h1.03v0.93h-1.03zM257.29 163.02h1.03v0.93h-1.03zM266.38 163.02h1.03v0.93h-1.03zM256.28 163.93h1.03v0.93h-1.03zM257.29 165.75h1.03v0.93h-1.03zM258.3 166.65h1.03v0.93h-1.03zM254.26 167.56h3.05v0.93h-3.05zM269.41 167.56h1.03v0.93h-1.03zM271.43 167.56h1.03v0.93h-1.03zM273.45 167.56h1.03v0.93h-1.03zM256.28 169.38h1.03v0.93h-1.03zM260.32 170.28h1.03v0.93h-1.03zM268.4 170.28h1.03v0.93h-1.03zM267.39 172.1h1.03v0.93h-1.03zM258.3 173.91h1.03v0.93h-1.03zM266.38 174.82h1.03v0.93h-1.03zM266.38 175.73h1.03v0.93h-1.03zM259.31 176.64h1.03v0.93h-1.03zM265.37 176.64h1.03v0.93h-1.03zM266.38 177.54h1.03v0.93h-1.03zM266.38 179.36h1.03v0.93h-1.03zM256.28 180.27h1.03v0.93h-1.03zM258.3 180.27h1.03v0.93h-1.03zM253.25 182.08h1.03v0.93h-1.03zM270.42 182.08h2.04v0.93h-2.04zM258.3 182.99h1.03v0.93h-1.03zM255.27 183.9h1.03v0.93h-1.03zM257.29 183.9h1.03v0.93h-1.03zM271.43 183.9h1.03v0.93h-1.03zM260.32 184.8h1.03v0.93h-1.03zM259.31 185.71h1.03v0.93h-1.03zM266.38 185.71h1.03v0.93h-1.03zM260.32 186.62h1.03v0.93h-1.03zM266.38 186.62h1.03v0.93h-1.03zM259.31 187.53h1.03v0.93h-1.03zM266.38 188.43h1.03v0.93h-1.03zM267.39 190.25h2.04v0.93h-2.04zM261.33 191.16h1.03v0.93h-1.03zM266.38 191.16h1.03v0.93h-1.03zM262.34 192.97h1.03v0.93h-1.03z"/>
<path fill="#d5eeb2" d="M266.38 86.1h2.04v1.03h-2.04zM277.49 86.1h1.03v1.03h-1.03zM259.31 87.11h1.03v1.03h-1.03zM259.31 88.12h1.03v1.03h-1.03zM266.38 88.12h1.03v1.03h-1.03zM259.31 89.12h1.03v1.03h-1.03zM265.37 89.12h2.04v1.03h-2.04zM260.32 90.13h1.03v1.03h-1.03zM260.32 91.14h1.03v1.03h-1.03zM265.37 91.14h1.03v1.03h-1.03zM265.37 92.15h1.03v1.03h-1.03zM274.46 92.15h1.03v1.03h-1.03zM260.32 93.16h1.03v1.03h-1.03zM265.37 93.16h1.03v1.03h-1.03zM273.45 93.16h1.03v1.03h-1.03zM264.36 94.17h1.03v1.03h-1.03zM261.33 96.18h1.03v1.03h-1.03zM264.36 96.18h1.03v1.03h-1.03zM261.33 97.19h1.03v1.03h-1.03zM250.22 99.5h1.03v0.93h-1.03zM276.48 99.5h1.03v0.93h-1.03zM250.22 101.31h2.04v0.93h-2.04zM271.43 101.31h1.03v0.93h-1.03zM276.48 102.22h2.04v0.93h-2.04zM252.24 103.13h1.03v0.93h-1.03zM270.42 103.13h1.03v0.93h-1.03zM272.44 103.13h1.03v0.93h-1.03zM249.21 104.04h2.04v0.93h-2.04zM276.48 104.04h1.03v0.93h-1.03zM272.44 104.94h1.03v0.93h-1.03zM272.44 105.85h2.04v0.93h-2.04zM270.42 106.76h3.05v0.93h-3.05zM250.22 107.67h1.03v0.93h-1.03zM275.47 107.67h2.04v0.93h-2.04zM273.45 108.57h1.03v0.93h-1.03zM275.47 108.57h2.04v0.93h-2.04zM251.23 109.48h1.03v0.93h-1.03zM272.44 109.48h2.04v0.93h-2.04zM271.43 110.39h2.04v0.93h-2.04zM250.22 111.3h2.04v0.93h-2.04zM274.46 111.3h4.06v0.93h-4.06zM250.22 112.2h2.04v0.93h-2.04zM268.4 112.2h1.03v0.93h-1.03zM271.43 113.11h1.03v0.93h-1.03zM254.26 114.02h2.04v0.93h-2.04zM253.25 114.93h1.03v0.93h-1.03zM272.44 114.93h2.04v0.93h-2.04zM254.26 115.83h2.04v0.93h-2.04zM269.41 115.83h1.03v0.93h-1.03zM250.22 116.74h2.04v0.93h-2.04zM256.28 116.74h1.03v0.93h-1.03zM274.46 116.74h2.04v0.93h-2.04zM248.2 117.65h1.03v0.93h-1.03zM250.22 117.65h1.03v0.93h-1.03zM252.24 117.65h1.03v0.93h-1.03zM276.48 117.65h2.04v0.93h-2.04zM249.21 118.56h1.03v0.93h-1.03zM251.23 118.56h1.03v0.93h-1.03zM272.44 118.56h1.03v0.93h-1.03zM276.48 118.56h2.04v0.93h-2.04zM256.28 119.46h1.03v0.93h-1.03zM249.21 120.37h2.04v0.93h-2.04zM275.47 120.37h3.05v0.93h-3.05zM252.24 121.28h2.04v0.93h-2.04zM269.41 121.28h1.03v0.93h-1.03zM248.2 122.19h5.07v0.93h-5.07zM272.44 122.19h1.03v0.93h-1.03zM276.48 122.19h1.03v0.93h-1.03zM248.2 123.09h1.03v0.93h-1.03zM251.23 123.09h1.03v0.93h-1.03zM272.44 123.09h2.04v0.93h-2.04zM275.47 123.09h3.05v0.93h-3.05zM256.28 124.91h1.03v0.93h-1.03zM271.43 124.91h1.03v0.93h-1.03zM254.26 126.72h1.03v0.93h-1.03zM257.29 127.63h1.03v0.93h-1.03zM269.41 127.63h1.03v0.93h-1.03zM268.4 128.54h1.03v0.93h-1.03zM266.38 129.45h1.03v0.93h-1.03zM255.27 130.35h2.04v0.93h-2.04zM256.28 131.26h2.04v0.93h-2.04zM269.41 131.26h1.03v0.93h-1.03zM251.23 132.17h1.03v0.93h-1.03zM253.25 132.17h1.03v0.93h-1.03zM272.44 132.17h2.04v0.93h-2.04zM259.31 133.08h1.03v0.93h-1.03zM257.29 133.98h1.03v0.93h-1.03zM256.28 134.89h1.03v0.93h-1.03zM268.4 134.89h1.03v0.93h-1.03zM270.42 135.8h2.04v0.93h-2.04zM273.45 135.8h2.04v0.93h-2.04zM256.28 136.71h1.03v0.93h-1.03zM268.4 136.71h1.03v0.93h-1.03zM257.29 137.61h1.03v0.93h-1.03zM267.39 137.61h1.03v0.93h-1.03zM255.27 138.52h1.03v0.93h-1.03zM269.41 138.52h1.03v0.93h-1.03zM259.31 139.43h1.03v0.93h-1.03zM269.41 139.43h1.03v0.93h-1.03zM268.4 140.34h1.03v0.93h-1.03zM255.27 141.24h1.03v0.93h-1.03zM269.41 141.24h1.03v0.93h-1.03zM269.41 143.06h1.03v0.93h-1.03zM265.37 143.97h2.04v0.93h-2.04zM256.28 144.87h1.03v0.93h-1.03zM269.41 144.87h2.04v0.93h-2.04zM269.41 145.78h1.03v0.93h-1.03zM258.3 146.69h1.03v0.93h-1.03zM269.41 146.69h2.04v0.93h-2.04zM272.44 146.69h1.03v0.93h-1.03zM274.46 146.69h1.03v0.93h-1.03zM266.38 147.6h1.03v0.93h-1.03zM257.29 148.5h1.03v0.93h-1.03zM269.41 148.5h1.03v0.93h-1.03zM256.28 150.32h1.03v0.93h-1.03zM267.39 150.32h1.03v0.93h-1.03zM266.38 153.04h1.03v0.93h-1.03zM271.43 153.04h1.03v0.93h-1.03zM253.25 153.95h3.05v0.93h-3.05zM259.31 155.76h1.03v0.93h-1.03zM256.28 156.67h1.03v0.93h-1.03zM266.38 156.67h1.03v0.93h-1.03zM259.31 158.49h1.03v0.93h-1.03zM269.41 158.49h1.03v0.93h-1.03zM256.28 159.39h1.03v0.93h-1.03zM258.3 160.3h1.03v0.93h-1.03zM258.3 161.21h1.03v0.93h-1.03zM268.4 161.21h1.03v0.93h-1.03zM256.28 162.12h1.03v0.93h-1.03zM258.3 163.02h1.03v0.93h-1.03zM257.29 163.93h1.03v0.93h-1.03zM265.37 163.93h1.03v0.93h-1.03zM259.31 164.84h1.03v0.93h-1.03zM267.39 164.84h1.03v0.93h-1.03zM267.39 165.75h1.03v0.93h-1.03zM267.39 166.65h1.03v0.93h-1.03zM268.4 167.56h1.03v0.93h-1.03zM270.42 167.56h1.03v0.93h-1.03zM268.4 168.47h1.03v0.93h-1.03zM257.29 169.38h1.03v0.93h-1.03zM267.39 170.28h1.03v0.93h-1.03zM258.3 171.19h1.03v0.93h-1.03zM267.39 171.19h1.03v0.93h-1.03zM259.31 172.1h1.03v0.93h-1.03zM266.38 172.1h1.03v0.93h-1.03zM259.31 174.82h1.03v0.93h-1.03zM259.31 175.73h1.03v0.93h-1.03zM258.3 177.54h1.03v0.93h-1.03zM266.38 178.45h1.03v0.93h-1.03zM258.3 179.36h1.03v0.93h-1.03zM257.29 180.27h1.03v0.93h-1.03zM259.31 180.27h1.03v0.93h-1.03zM268.4 180.27h3.05v0.93h-3.05zM260.32 181.17h1.03v0.93h-1.03zM266.38 181.17h1.03v0.93h-1.03zM255.27 182.08h3.05v0.93h-3.05zM268.4 182.08h2.04v0.93h-2.04zM256.28 183.9h1.03v0.93h-1.03zM259.31 183.9h1.03v0.93h-1.03zM268.4 183.9h3.05v0.93h-3.05zM265.37 184.8h1.03v0.93h-1.03zM260.32 188.43h1.03v0.93h-1.03zM265.37 188.43h1.03v0.93h-1.03zM262.34 189.34h1.03v0.93h-1.03zM257.29 190.25h3.05v0.93h-3.05zM265.37 191.16h1.03v0.93h-1.03zM264.36 192.06h1.03v0.93h-1.03zM265.37 192.97h1.03v0.93h-1.03zM263.35 194.79h1.03v0.93h-1.03z"/>
<path fill="#addeb6" d="M259.31 86.1h1.03v1.03h-1.03zM265.37 86.1h1.03v1.03h-1.03zM260.32 87.11h1.03v1.03h-1.03zM266.38 87.11h1.03v1.03h-1.03zM260.32 89.12h1.03v1.03h-1.03zM265.37 90.13h1.03v1.03h-1.03zM260.32 92.15h2.04v1.03h-2.04zM264.36 93.16h1.03v1.03h-1.03zM261.33 95.17h1.03v1.03h-1.03zM264.36 95.17h1.03v1.03h-1.03zM248.2 99.5h2.04v0.93h-2.04zM273.45 99.5h3.05v0.93h-3.05zM248.2 100.41h3.05v0.93h-3.05zM275.47 100.41h1.03v0.93h-1.03zM277.49 100.41h1.03v0.93h-1.03zM252.24 101.31h2.04v0.93h-2.04zM270.42 101.31h1.03v0.93h-1.03zM248.2 102.22h3.05v0.93h-3.05zM254.26 103.13h1.03v0.93h-1.03zM271.43 103.13h1.03v0.93h-1.03zM251.23 104.04h1.03v0.93h-1.03zM275.47 104.04h1.03v0.93h-1.03zM248.2 104.94h1.03v0.93h-1.03zM271.43 104.94h1.03v0.93h-1.03zM257.29 105.85h1.03v0.93h-1.03zM271.43 105.85h1.03v0.93h-1.03zM254.26 106.76h2.04v0.93h-2.04zM269.41 106.76h1.03v0.93h-1.03zM249.21 107.67h1.03v0.93h-1.03zM251.23 107.67h1.03v0.93h-1.03zM274.46 107.67h1.03v0.93h-1.03zM248.2 108.57h3.05v0.93h-3.05zM269.41 108.57h2.04v0.93h-2.04zM277.49 108.57h1.03v0.93h-1.03zM252.24 109.48h3.05v0.93h-3.05zM271.43 109.48h1.03v0.93h-1.03zM255.27 110.39h1.03v0.93h-1.03zM248.2 111.3h1.03v0.93h-1.03zM255.27 111.3h1.03v0.93h-1.03zM273.45 111.3h1.03v0.93h-1.03zM252.24 112.2h3.05v0.93h-3.05zM267.39 112.2h1.03v0.93h-1.03zM256.28 113.11h2.04v0.93h-2.04zM269.41 113.11h2.04v0.93h-2.04zM256.28 114.02h1.03v0.93h-1.03zM277.49 114.02h1.03v0.93h-1.03zM255.27 114.93h2.04v0.93h-2.04zM268.4 115.83h1.03v0.93h-1.03zM252.24 116.74h4.06v0.93h-4.06zM272.44 116.74h2.04v0.93h-2.04zM249.21 117.65h1.03v0.93h-1.03zM251.23 117.65h1.03v0.93h-1.03zM257.29 117.65h2.04v0.93h-2.04zM274.46 117.65h2.04v0.93h-2.04zM248.2 118.56h1.03v0.93h-1.03zM253.25 118.56h1.03v0.93h-1.03zM255.27 118.56h1.03v0.93h-1.03zM271.43 118.56h1.03v0.93h-1.03zM274.46 118.56h2.04v0.93h-2.04zM268.4 119.46h2.04v0.93h-2.04zM251.23 120.37h1.03v0.93h-1.03zM270.42 120.37h1.03v0.93h-1.03zM273.45 120.37h1.03v0.93h-1.03zM254.26 121.28h1.03v0.93h-1.03zM253.25 122.19h1.03v0.93h-1.03zM269.41 122.19h3.05v0.93h-3.05zM273.45 122.19h3.05v0.93h-3.05zM249.21 123.09h2.04v0.93h-2.04zM252.24 123.09h2.04v0.93h-2.04zM268.4 123.09h1.03v0.93h-1.03zM271.43 123.09h1.03v0.93h-1.03zM274.46 123.09h1.03v0.93h-1.03zM252.24 124h2.04v0.93h-2.04zM255.27 124h1.03v0.93h-1.03zM268.4 124h1.03v0.93h-1.03zM269.41 124.91h2.04v0.93h-2.04zM256.28 125.82h1.03v0.93h-1.03zM268.4 125.82h1.03v0.93h-1.03zM255.27 126.72h2.04v0.93h-2.04zM267.39 126.72h1.03v0.93h-1.03zM258.3 127.63h1.03v0.93h-1.03zM255.27 128.54h2.04v0.93h-2.04zM267.39 128.54h1.03v0.93h-1.03zM268.4 130.35h1.03v0.93h-1.03zM268.4 131.26h1.03v0.93h-1.03zM254.26 132.17h4.06v0.93h-4.06zM270.42 132.17h1.03v0.93h-1.03zM270.42 133.08h2.04v0.93h-2.04zM267.39 133.98h1.03v0.93h-1.03zM257.29 134.89h1.03v0.93h-1.03zM254.26 135.8h3.05v0.93h-3.05zM268.4 135.8h2.04v0.93h-2.04zM272.44 135.8h1.03v0.93h-1.03zM268.4 138.52h1.03v0.93h-1.03zM258.3 140.34h1.03v0.93h-1.03zM256.28 141.24h1.03v0.93h-1.03zM268.4 141.24h1.03v0.93h-1.03zM270.42 141.24h1.03v0.93h-1.03zM277.49 141.24h1.03v0.93h-1.03zM270.42 142.15h1.03v0.93h-1.03zM256.28 143.06h1.03v0.93h-1.03zM268.4 143.06h1.03v0.93h-1.03zM257.29 143.97h1.03v0.93h-1.03zM257.29 144.87h1.03v0.93h-1.03zM268.4 144.87h1.03v0.93h-1.03zM255.27 145.78h1.03v0.93h-1.03zM268.4 145.78h1.03v0.93h-1.03zM256.28 146.69h1.03v0.93h-1.03zM271.43 146.69h1.03v0.93h-1.03zM258.3 147.6h1.03v0.93h-1.03zM258.3 148.5h1.03v0.93h-1.03zM268.4 148.5h1.03v0.93h-1.03zM258.3 149.41h1.03v0.93h-1.03zM269.41 149.41h1.03v0.93h-1.03zM257.29 150.32h1.03v0.93h-1.03zM258.3 151.23h1.03v0.93h-1.03zM267.39 151.23h1.03v0.93h-1.03zM256.28 152.13h1.03v0.93h-1.03zM267.39 152.13h1.03v0.93h-1.03zM256.28 153.95h1.03v0.93h-1.03zM267.39 153.95h3.05v0.93h-3.05zM258.3 154.86h1.03v0.93h-1.03zM268.4 155.76h1.03v0.93h-1.03zM257.29 156.67h1.03v0.93h-1.03zM265.37 156.67h1.03v0.93h-1.03zM257.29 159.39h1.03v0.93h-1.03zM266.38 159.39h1.03v0.93h-1.03zM267.39 160.3h1.03v0.93h-1.03zM266.38 162.12h1.03v0.93h-1.03zM258.3 163.93h1.03v0.93h-1.03zM258.3 165.75h1.03v0.93h-1.03zM266.38 165.75h1.03v0.93h-1.03zM259.31 166.65h1.03v0.93h-1.03zM257.29 167.56h1.03v0.93h-1.03zM259.31 167.56h1.03v0.93h-1.03zM266.38 167.56h2.04v0.93h-2.04zM260.32 168.47h1.03v0.93h-1.03zM267.39 168.47h1.03v0.93h-1.03zM266.38 169.38h1.03v0.93h-1.03zM259.31 171.19h1.03v0.93h-1.03zM260.32 173.01h1.03v0.93h-1.03zM259.31 173.91h1.03v0.93h-1.03zM260.32 176.64h1.03v0.93h-1.03zM259.31 178.45h1.03v0.93h-1.03zM265.37 179.36h1.03v0.93h-1.03zM260.32 180.27h1.03v0.93h-1.03zM267.39 180.27h1.03v0.93h-1.03zM265.37 182.08h1.03v0.93h-1.03zM267.39 182.08h1.03v0.93h-1.03zM265.37 182.99h1.03v0.93h-1.03zM258.3 183.9h1.03v0.93h-1.03zM261.33 183.9h1.03v0.93h-1.03zM266.38 183.9h2.04v0.93h-2.04zM260.32 185.71h1.03v0.93h-1.03zM264.36 187.53h1.03v0.93h-1.03zM260.32 190.25h1.03v0.93h-1.03zM265.37 190.25h2.04v0.93h-2.04zM261.33 192.06h1.03v0.93h-1.03zM260.32 193.88h1.03v0.93h-1.03zM262.34 193.88h1.03v0.93h-1.03zM261.33 194.79h1.03v0.93h-1.03zM262.34 195.69h1.03v0.93h-1.03z"/>
<path fill="#78cabb" d="M260.32 86.1h2.04v1.03h-2.04zM264.36 86.1h1.03v1.03h-1.03zM262.34 87.11h1.03v1.03h-1.03zM264.36 87.11h2.04v1.03h-2.04zM260.32 88.12h1.03v1.03h-1.03zM264.36 88.12h2.04v1.03h-2.04zM261.33 89.12h1.03v1.03h-1.03zM263.35 89.12h2.04v1.03h-2.04zM262.34 90.13h1.03v1.03h-1.03zM264.36 90.13h1.03v1.03h-1.03zM262.34 92.15h3.05v1.03h-3.05zM261.33 93.16h1.03v1.03h-1.03zM263.35 93.16h1.03v1.03h-1.03zM261.33 94.17h2.04v1.03h-2.04zM263.35 95.17h1.03v1.03h-1.03zM262.34 96.18h2.04v1.03h-2.04zM263.35 97.19h1.03v1.03h-1.03zM251.23 99.5h4.06v0.93h-4.06zM277.49 99.5h1.03v0.93h-1.03zM251.23 100.41h1.03v0.93h-1.03zM276.48 100.41h1.03v0.93h-1.03zM254.26 101.31h1.03v0.93h-1.03zM268.4 101.31h2.04v0.93h-2.04zM273.45 102.22h3.05v0.93h-3.05zM255.27 103.13h1.03v0.93h-1.03zM268.4 103.13h2.04v0.93h-2.04zM248.2 104.04h1.03v0.93h-1.03zM252.24 104.04h2.04v0.93h-2.04zM274.46 104.04h1.03v0.93h-1.03zM277.49 104.04h1.03v0.93h-1.03zM249.21 104.94h1.03v0.93h-1.03zM258.3 105.85h1.03v0.93h-1.03zM256.28 106.76h1.03v0.93h-1.03zM273.45 107.67h1.03v0.93h-1.03zM251.23 108.57h2.04v0.93h-2.04zM268.4 108.57h1.03v0.93h-1.03zM271.43 108.57h2.04v0.93h-2.04zM274.46 108.57h1.03v0.93h-1.03zM256.28 109.48h1.03v0.93h-1.03zM270.42 109.48h1.03v0.93h-1.03zM256.28 110.39h1.03v0.93h-1.03zM270.42 110.39h1.03v0.93h-1.03zM252.24 111.3h2.04v0.93h-2.04zM256.28 111.3h1.03v0.93h-1.03zM272.44 111.3h1.03v0.93h-1.03zM266.38 112.2h1.03v0.93h-1.03zM257.29 114.02h1.03v0.93h-1.03zM276.48 114.02h1.03v0.93h-1.03zM270.42 114.93h2.04v0.93h-2.04zM257.29 116.74h1.03v0.93h-1.03zM277.49 116.74h1.03v0.93h-1.03zM253.25 117.65h4.06v0.93h-4.06zM271.43 117.65h1.03v0.93h-1.03zM273.45 117.65h1.03v0.93h-1.03zM250.22 118.56h1.03v0.93h-1.03zM252.24 118.56h1.03v0.93h-1.03zM270.42 118.56h1.03v0.93h-1.03zM273.45 118.56h1.03v0.93h-1.03zM257.29 119.46h1.03v0.93h-1.03zM252.24 120.37h2.04v0.93h-2.04zM255.27 120.37h1.03v0.93h-1.03zM267.39 120.37h1.03v0.93h-1.03zM274.46 120.37h1.03v0.93h-1.03zM255.27 121.28h1.03v0.93h-1.03zM268.4 121.28h1.03v0.93h-1.03zM254.26 122.19h2.04v0.93h-2.04zM254.26 123.09h2.04v0.93h-2.04zM266.38 123.09h1.03v0.93h-1.03zM270.42 123.09h1.03v0.93h-1.03zM254.26 124h1.03v0.93h-1.03zM269.41 124h1.03v0.93h-1.03zM257.29 124.91h1.03v0.93h-1.03zM257.29 125.82h1.03v0.93h-1.03zM269.41 125.82h1.03v0.93h-1.03zM266.38 126.72h1.03v0.93h-1.03zM268.4 127.63h1.03v0.93h-1.03zM255.27 129.45h1.03v0.93h-1.03zM265.37 129.45h1.03v0.93h-1.03zM257.29 130.35h1.03v0.93h-1.03zM268.4 132.17h1.03v0.93h-1.03zM271.43 132.17h1.03v0.93h-1.03zM267.39 134.89h1.03v0.93h-1.03zM257.29 135.8h1.03v0.93h-1.03zM267.39 135.8h1.03v0.93h-1.03zM257.29 136.71h2.04v0.93h-2.04zM267.39 136.71h1.03v0.93h-1.03zM258.3 137.61h1.03v0.93h-1.03zM256.28 138.52h1.03v0.93h-1.03zM268.4 139.43h1.03v0.93h-1.03zM259.31 140.34h1.03v0.93h-1.03zM259.31 142.15h1.03v0.93h-1.03zM269.41 142.15h1.03v0.93h-1.03zM267.39 144.87h1.03v0.93h-1.03zM256.28 145.78h1.03v0.93h-1.03zM257.29 146.69h1.03v0.93h-1.03zM268.4 146.69h1.03v0.93h-1.03zM265.37 147.6h1.03v0.93h-1.03zM266.38 150.32h1.03v0.93h-1.03zM257.29 152.13h1.03v0.93h-1.03zM265.37 153.04h1.03v0.93h-1.03zM257.29 153.95h1.03v0.93h-1.03zM259.31 153.95h1.03v0.93h-1.03zM266.38 153.95h1.03v0.93h-1.03zM266.38 154.86h1.03v0.93h-1.03zM260.32 157.58h1.03v0.93h-1.03zM266.38 157.58h1.03v0.93h-1.03zM268.4 158.49h1.03v0.93h-1.03zM258.3 159.39h1.03v0.93h-1.03zM259.31 160.3h1.03v0.93h-1.03zM257.29 162.12h1.03v0.93h-1.03zM265.37 163.02h1.03v0.93h-1.03zM266.38 164.84h1.03v0.93h-1.03zM266.38 166.65h1.03v0.93h-1.03zM258.3 167.56h1.03v0.93h-1.03zM260.32 167.56h1.03v0.93h-1.03zM258.3 169.38h1.03v0.93h-1.03zM261.33 170.28h1.03v0.93h-1.03zM266.38 171.19h1.03v0.93h-1.03zM275.47 171.19h1.03v0.93h-1.03zM266.38 173.01h1.03v0.93h-1.03zM264.36 173.91h1.03v0.93h-1.03zM260.32 174.82h1.03v0.93h-1.03zM268.4 174.82h1.03v0.93h-1.03zM265.37 175.73h1.03v0.93h-1.03zM259.31 177.54h1.03v0.93h-1.03zM266.38 180.27h1.03v0.93h-1.03zM261.33 181.17h1.03v0.93h-1.03zM258.3 182.08h1.03v0.93h-1.03zM264.36 182.08h1.03v0.93h-1.03zM266.38 182.08h1.03v0.93h-1.03zM259.31 182.99h1.03v0.93h-1.03zM260.32 183.9h1.03v0.93h-1.03zM265.37 185.71h1.03v0.93h-1.03zM261.33 186.62h1.03v0.93h-1.03zM260.32 187.53h1.03v0.93h-1.03zM266.38 189.34h1.03v0.93h-1.03zM264.36 190.25h1.03v0.93h-1.03zM264.36 191.16h1.03v0.93h-1.03zM262.34 192.06h1.03v0.93h-1.03zM263.35 192.97h2.04v0.93h-2.04zM261.33 195.69h1.03v0.93h-1.03z"/>
<path fill="#49b9c2" d="M263.35 86.1h1.03v1.03h-1.03zM261.33 87.11h1.03v1.03h-1.03zM263.35 87.11h1.03v1.03h-1.03zM261.33 88.12h3.05v1.03h-3.05zM262.34 89.12h1.03v1.03h-1.03zM261.33 90.13h1.03v1.03h-1.03zM263.35 90.13h1.03v1.03h-1.03zM261.33 91.14h4.06v1.03h-4.06zM262.34 93.16h1.03v1.03h-1.03zM263.35 94.17h1.03v1.03h-1.03zM262.34 95.17h1.03v1.03h-1.03zM262.34 97.19h1.03v1.03h-1.03zM270.42 99.5h3.05v0.93h-3.05zM252.24 100.41h1.03v0.93h-1.03zM273.45 100.41h1.03v0.93h-1.03zM251.23 102.22h2.04v0.93h-2.04zM271.43 102.22h2.04v0.93h-2.04zM256.28 103.13h1.03v0.93h-1.03zM254.26 104.04h1.03v0.93h-1.03zM271.43 104.04h3.05v0.93h-3.05zM250.22 104.94h3.05v0.93h-3.05zM270.42 104.94h1.03v0.93h-1.03zM269.41 105.85h2.04v0.93h-2.04zM257.29 106.76h1.03v0.93h-1.03zM268.4 106.76h1.03v0.93h-1.03zM252.24 107.67h2.04v0.93h-2.04zM272.44 107.67h1.03v0.93h-1.03zM253.25 108.57h1.03v0.93h-1.03zM255.27 109.48h1.03v0.93h-1.03zM268.4 109.48h2.04v0.93h-2.04zM268.4 110.39h2.04v0.93h-2.04zM254.26 111.3h1.03v0.93h-1.03zM257.29 111.3h1.03v0.93h-1.03zM267.39 111.3h5.07v0.93h-5.07zM255.27 112.2h2.04v0.93h-2.04zM265.37 112.2h1.03v0.93h-1.03zM268.4 113.11h1.03v0.93h-1.03zM274.46 114.02h2.04v0.93h-2.04zM258.3 114.93h1.03v0.93h-1.03zM268.4 114.93h2.04v0.93h-2.04zM256.28 115.83h1.03v0.93h-1.03zM266.38 115.83h2.04v0.93h-2.04zM259.31 117.65h1.03v0.93h-1.03zM270.42 117.65h1.03v0.93h-1.03zM272.44 117.65h1.03v0.93h-1.03zM254.26 118.56h1.03v0.93h-1.03zM256.28 118.56h1.03v0.93h-1.03zM258.3 119.46h1.03v0.93h-1.03zM267.39 119.46h1.03v0.93h-1.03zM254.26 120.37h1.03v0.93h-1.03zM268.4 120.37h2.04v0.93h-2.04zM271.43 120.37h2.04v0.93h-2.04zM256.28 121.28h1.03v0.93h-1.03zM268.4 122.19h1.03v0.93h-1.03zM256.28 123.09h1.03v0.93h-1.03zM265.37 123.09h1.03v0.93h-1.03zM267.39 123.09h1.03v0.93h-1.03zM269.41 123.09h1.03v0.93h-1.03zM268.4 124.91h1.03v0.93h-1.03zM258.3 125.82h1.03v0.93h-1.03zM267.39 125.82h1.03v0.93h-1.03zM257.29 126.72h1.03v0.93h-1.03zM265.37 126.72h1.03v0.93h-1.03zM259.31 127.63h1.03v0.93h-1.03zM267.39 127.63h1.03v0.93h-1.03zM257.29 128.54h1.03v0.93h-1.03zM266.38 128.54h1.03v0.93h-1.03zM256.28 129.45h1.03v0.93h-1.03zM258.3 130.35h1.03v0.93h-1.03zM267.39 130.35h1.03v0.93h-1.03zM258.3 131.26h2.04v0.93h-2.04zM267.39 131.26h1.03v0.93h-1.03zM258.3 132.17h3.05v0.93h-3.05zM267.39 132.17h1.03v0.93h-1.03zM269.41 132.17h1.03v0.93h-1.03zM260.32 133.08h1.03v0.93h-1.03zM269.41 133.08h1.03v0.93h-1.03zM258.3 133.98h1.03v0.93h-1.03zM266.38 133.98h1.03v0.93h-1.03zM258.3 135.8h1.03v0.93h-1.03zM260.32 139.43h1.03v0.93h-1.03zM267.39 140.34h1.03v0.93h-1.03zM257.29 141.24h1.03v0.93h-1.03zM266.38 141.24h1.03v0.93h-1.03zM260.32 142.15h1.03v0.93h-1.03zM257.29 143.06h1.03v0.93h-1.03zM267.39 143.06h1.03v0.93h-1.03zM258.3 143.97h1.03v0.93h-1.03zM258.3 144.87h1.03v0.93h-1.03zM259.31 146.69h2.04v0.93h-2.04zM268.4 149.41h1.03v0.93h-1.03zM258.3 150.32h1.03v0.93h-1.03zM259.31 151.23h1.03v0.93h-1.03zM266.38 152.13h1.03v0.93h-1.03zM258.3 153.04h1.03v0.93h-1.03zM258.3 153.95h1.03v0.93h-1.03zM260.32 153.95h1.03v0.93h-1.03zM259.31 154.86h1.03v0.93h-1.03zM258.3 156.67h1.03v0.93h-1.03zM265.37 157.58h1.03v0.93h-1.03zM265.37 159.39h1.03v0.93h-1.03zM259.31 161.21h1.03v0.93h-1.03zM267.39 161.21h1.03v0.93h-1.03zM259.31 163.02h1.03v0.93h-1.03zM261.33 167.56h1.03v0.93h-1.03zM266.38 168.47h1.03v0.93h-1.03zM260.32 172.1h1.03v0.93h-1.03zM265.37 172.1h1.03v0.93h-1.03zM260.32 173.91h1.03v0.93h-1.03zM265.37 174.82h1.03v0.93h-1.03zM260.32 177.54h1.03v0.93h-1.03zM265.37 178.45h1.03v0.93h-1.03zM260.32 182.99h1.03v0.93h-1.03zM265.37 183.9h1.03v0.93h-1.03zM261.33 184.8h1.03v0.93h-1.03zM265.37 186.62h1.03v0.93h-1.03zM261.33 187.53h1.03v0.93h-1.03zM263.35 187.53h1.03v0.93h-1.03zM264.36 188.43h1.03v0.93h-1.03zM261.33 190.25h2.04v0.93h-2.04zM262.34 191.16h1.03v0.93h-1.03zM263.35 192.06h1.03v0.93h-1.03zM262.34 194.79h1.03v0.93h-1.03z"/>
<path fill="#2b9fc1" d="M262.34 86.1h1.03v1.03h-1.03zM255.27 99.5h1.03v0.93h-1.03zM267.39 99.5h1.03v0.93h-1.03zM269.41 99.5h1.03v0.93h-1.03zM253.25 100.41h1.03v0.93h-1.03zM271.43 100.41h1.03v0.93h-1.03zM274.46 100.41h1.03v0.93h-1.03zM255.27 101.31h1.03v0.93h-1.03zM267.39 101.31h1.03v0.93h-1.03zM253.25 102.22h1.03v0.93h-1.03zM255.27 102.22h1.03v0.93h-1.03zM270.42 102.22h1.03v0.93h-1.03zM256.28 104.04h1.03v0.93h-1.03zM269.41 104.04h2.04v0.93h-2.04zM269.41 104.94h1.03v0.93h-1.03zM266.38 106.76h2.04v0.93h-2.04zM271.43 107.67h1.03v0.93h-1.03zM257.29 110.39h3.05v0.93h-3.05zM266.38 111.3h1.03v0.93h-1.03zM257.29 112.2h1.03v0.93h-1.03zM258.3 113.11h2.04v0.93h-2.04zM267.39 113.11h1.03v0.93h-1.03zM258.3 114.02h1.03v0.93h-1.03zM273.45 114.02h1.03v0.93h-1.03zM257.29 114.93h1.03v0.93h-1.03zM266.38 114.93h1.03v0.93h-1.03zM257.29 115.83h1.03v0.93h-1.03zM258.3 116.74h1.03v0.93h-1.03zM271.43 116.74h1.03v0.93h-1.03zM260.32 117.65h1.03v0.93h-1.03zM268.4 117.65h2.04v0.93h-2.04zM257.29 118.56h2.04v0.93h-2.04zM259.31 119.46h1.03v0.93h-1.03zM256.28 120.37h2.04v0.93h-2.04zM257.29 121.28h1.03v0.93h-1.03zM267.39 121.28h1.03v0.93h-1.03zM256.28 122.19h1.03v0.93h-1.03zM256.28 124h2.04v0.93h-2.04zM266.38 124h2.04v0.93h-2.04zM258.3 124.91h1.03v0.93h-1.03zM267.39 124.91h1.03v0.93h-1.03zM259.31 125.82h1.03v0.93h-1.03zM258.3 126.72h1.03v0.93h-1.03zM258.3 128.54h1.03v0.93h-1.03zM266.38 130.35h1.03v0.93h-1.03zM260.32 131.26h1.03v0.93h-1.03zM266.38 131.26h1.03v0.93h-1.03zM261.33 133.08h1.03v0.93h-1.03zM258.3 134.89h1.03v0.93h-1.03zM265.37 134.89h2.04v0.93h-2.04zM259.31 135.8h1.03v0.93h-1.03zM266.38 135.8h1.03v0.93h-1.03zM266.38 136.71h1.03v0.93h-1.03zM259.31 137.61h1.03v0.93h-1.03zM266.38 137.61h1.03v0.93h-1.03zM266.38 138.52h2.04v0.93h-2.04zM266.38 139.43h2.04v0.93h-2.04zM260.32 140.34h1.03v0.93h-1.03zM267.39 141.24h1.03v0.93h-1.03zM268.4 142.15h1.03v0.93h-1.03zM266.38 143.06h1.03v0.93h-1.03zM264.36 143.97h1.03v0.93h-1.03zM259.31 144.87h1.03v0.93h-1.03zM257.29 145.78h1.03v0.93h-1.03zM267.39 145.78h1.03v0.93h-1.03zM261.33 146.69h1.03v0.93h-1.03zM267.39 146.69h1.03v0.93h-1.03zM264.36 147.6h1.03v0.93h-1.03zM259.31 148.5h1.03v0.93h-1.03zM267.39 148.5h1.03v0.93h-1.03zM259.31 149.41h1.03v0.93h-1.03zM259.31 150.32h1.03v0.93h-1.03zM266.38 151.23h1.03v0.93h-1.03zM265.37 152.13h1.03v0.93h-1.03zM265.37 153.95h1.03v0.93h-1.03zM265.37 154.86h1.03v0.93h-1.03zM260.32 155.76h1.03v0.93h-1.03zM259.31 156.67h1.03v0.93h-1.03zM260.32 158.49h1.03v0.93h-1.03zM267.39 158.49h1.03v0.93h-1.03zM264.36 159.39h1.03v0.93h-1.03zM260.32 161.21h1.03v0.93h-1.03zM266.38 161.21h1.03v0.93h-1.03zM265.37 162.12h1.03v0.93h-1.03zM264.36 163.02h1.03v0.93h-1.03zM259.31 163.93h1.03v0.93h-1.03zM264.36 163.93h1.03v0.93h-1.03zM266.38 170.28h1.03v0.93h-1.03zM260.32 175.73h1.03v0.93h-1.03zM264.36 176.64h1.03v0.93h-1.03zM265.37 177.54h1.03v0.93h-1.03zM260.32 178.45h1.03v0.93h-1.03zM264.36 179.36h1.03v0.93h-1.03zM265.37 181.17h1.03v0.93h-1.03zM259.31 182.08h2.04v0.93h-2.04zM264.36 182.99h1.03v0.93h-1.03zM261.33 185.71h1.03v0.93h-1.03zM261.33 188.43h1.03v0.93h-1.03zM263.35 188.43h1.03v0.93h-1.03zM263.35 190.25h1.03v0.93h-1.03zM261.33 193.88h1.03v0.93h-1.03z"/>
<path fill="#1e7eb7" d="M257.29 99.5h1.03v0.93h-1.03zM268.4 99.5h1.03v0.93h-1.03zM254.26 100.41h1.03v0.93h-1.03zM270.42 100.41h1.03v0.93h-1.03zM272.44 100.41h1.03v0.93h-1.03zM256.28 101.31h2.04v0.93h-2.04zM254.26 102.22h1.03v0.93h-1.03zM269.41 102.22h1.03v0.93h-1.03zM257.29 103.13h1.03v0.93h-1.03zM267.39 103.13h1.03v0.93h-1.03zM255.27 104.04h1.03v0.93h-1.03zM268.4 104.04h1.03v0.93h-1.03zM253.25 104.94h1.03v0.93h-1.03zM255.27 104.94h1.03v0.93h-1.03zM267.39 104.94h1.03v0.93h-1.03zM259.31 105.85h2.04v0.93h-2.04zM265.37 105.85h1.03v0.93h-1.03zM267.39 105.85h2.04v0.93h-2.04zM254.26 107.67h2.04v0.93h-2.04zM268.4 107.67h1.03v0.93h-1.03zM270.42 107.67h1.03v0.93h-1.03zM254.26 108.57h1.03v0.93h-1.03zM256.28 108.57h1.03v0.93h-1.03zM257.29 109.48h1.03v0.93h-1.03zM267.39 109.48h1.03v0.93h-1.03zM258.3 111.3h1.03v0.93h-1.03zM258.3 112.2h1.03v0.93h-1.03zM266.38 113.11h1.03v0.93h-1.03zM259.31 114.02h1.03v0.93h-1.03zM272.44 114.02h1.03v0.93h-1.03zM270.42 116.74h1.03v0.93h-1.03zM261.33 117.65h1.03v0.93h-1.03zM268.4 118.56h2.04v0.93h-2.04zM266.38 119.46h1.03v0.93h-1.03zM266.38 120.37h1.03v0.93h-1.03zM258.3 121.28h1.03v0.93h-1.03zM265.37 121.28h2.04v0.93h-2.04zM257.29 122.19h1.03v0.93h-1.03zM267.39 122.19h1.03v0.93h-1.03zM257.29 123.09h1.03v0.93h-1.03zM264.36 123.09h1.03v0.93h-1.03zM259.31 124.91h1.03v0.93h-1.03zM264.36 126.72h1.03v0.93h-1.03zM260.32 127.63h1.03v0.93h-1.03zM266.38 127.63h1.03v0.93h-1.03zM259.31 128.54h1.03v0.93h-1.03zM265.37 128.54h1.03v0.93h-1.03zM257.29 129.45h1.03v0.93h-1.03zM262.34 133.08h1.03v0.93h-1.03zM259.31 133.98h1.03v0.93h-1.03zM259.31 136.71h1.03v0.93h-1.03zM265.37 137.61h1.03v0.93h-1.03zM257.29 138.52h2.04v0.93h-2.04zM259.31 143.97h2.04v0.93h-2.04zM265.37 144.87h1.03v0.93h-1.03zM266.38 146.69h1.03v0.93h-1.03zM259.31 147.6h1.03v0.93h-1.03zM267.39 149.41h1.03v0.93h-1.03zM265.37 150.32h1.03v0.93h-1.03zM260.32 151.23h1.03v0.93h-1.03zM258.3 152.13h1.03v0.93h-1.03zM259.31 153.04h1.03v0.93h-1.03zM264.36 153.95h1.03v0.93h-1.03zM267.39 155.76h1.03v0.93h-1.03zM264.36 156.67h1.03v0.93h-1.03zM261.33 158.49h1.03v0.93h-1.03zM264.36 158.49h1.03v0.93h-1.03zM266.38 158.49h1.03v0.93h-1.03zM259.31 159.39h1.03v0.93h-1.03zM266.38 160.3h1.03v0.93h-1.03zM260.32 164.84h1.03v0.93h-1.03zM259.31 165.75h1.03v0.93h-1.03zM265.37 165.75h1.03v0.93h-1.03zM265.37 167.56h1.03v0.93h-1.03zM261.33 168.47h1.03v0.93h-1.03zM265.37 168.47h1.03v0.93h-1.03zM265.37 169.38h1.03v0.93h-1.03zM260.32 171.19h1.03v0.93h-1.03zM261.33 173.01h1.03v0.93h-1.03zM264.36 173.01h2.04v0.93h-2.04zM261.33 174.82h1.03v0.93h-1.03zM264.36 174.82h1.03v0.93h-1.03zM264.36 175.73h1.03v0.93h-1.03zM261.33 177.54h1.03v0.93h-1.03zM261.33 180.27h1.03v0.93h-1.03zM264.36 183.9h1.03v0.93h-1.03zM264.36 184.8h1.03v0.93h-1.03zM262.34 186.62h1.03v0.93h-1.03zM264.36 186.62h1.03v0.93h-1.03zM262.34 187.53h1.03v0.93h-1.03zM262.34 188.43h1.03v0.93h-1.03zM263.35 189.34h1.03v0.93h-1.03zM265.37 189.34h1.03v0.93h-1.03zM263.35 191.16h1.03v0.93h-1.03z"/>
<path fill="#225aa5" d="M256.28 99.5h1.03v0.93h-1.03zM258.3 99.5h1.03v0.93h-1.03zM255.27 100.41h2.04v0.93h-2.04zM258.3 101.31h1.03v0.93h-1.03zM266.38 101.31h1.03v0.93h-1.03zM267.39 102.22h2.04v0.93h-2.04zM265.37 103.13h2.04v0.93h-2.04zM258.3 104.04h1.03v0.93h-1.03zM268.4 104.94h1.03v0.93h-1.03zM256.28 107.67h1.03v0.93h-1.03zM269.41 107.67h1.03v0.93h-1.03zM255.27 108.57h1.03v0.93h-1.03zM265.37 108.57h1.03v0.93h-1.03zM267.39 108.57h1.03v0.93h-1.03zM258.3 109.48h3.05v0.93h-3.05zM266.38 109.48h1.03v0.93h-1.03zM266.38 110.39h2.04v0.93h-2.04zM259.31 111.3h2.04v0.93h-2.04zM265.37 111.3h1.03v0.93h-1.03zM264.36 112.2h1.03v0.93h-1.03zM260.32 113.11h1.03v0.93h-1.03zM264.36 113.11h1.03v0.93h-1.03zM271.43 114.02h1.03v0.93h-1.03zM264.36 114.93h1.03v0.93h-1.03zM267.39 114.93h1.03v0.93h-1.03zM258.3 115.83h1.03v0.93h-1.03zM265.37 115.83h1.03v0.93h-1.03zM259.31 116.74h2.04v0.93h-2.04zM266.38 117.65h2.04v0.93h-2.04zM259.31 118.56h1.03v0.93h-1.03zM266.38 118.56h2.04v0.93h-2.04zM258.3 120.37h1.03v0.93h-1.03zM264.36 120.37h1.03v0.93h-1.03zM259.31 121.28h1.03v0.93h-1.03zM264.36 121.28h1.03v0.93h-1.03zM260.32 122.19h1.03v0.93h-1.03zM258.3 124h1.03v0.93h-1.03zM265.37 124h1.03v0.93h-1.03zM266.38 125.82h1.03v0.93h-1.03zM260.32 126.72h1.03v0.93h-1.03zM260.32 128.54h1.03v0.93h-1.03zM264.36 128.54h1.03v0.93h-1.03zM259.31 130.35h1.03v0.93h-1.03zM263.35 130.35h1.03v0.93h-1.03zM265.37 130.35h1.03v0.93h-1.03zM266.38 132.17h1.03v0.93h-1.03zM267.39 133.08h2.04v0.93h-2.04zM259.31 134.89h1.03v0.93h-1.03zM260.32 135.8h2.04v0.93h-2.04zM265.37 135.8h1.03v0.93h-1.03zM265.37 136.71h1.03v0.93h-1.03zM260.32 137.61h1.03v0.93h-1.03zM265.37 138.52h1.03v0.93h-1.03zM266.38 140.34h1.03v0.93h-1.03zM258.3 141.24h2.04v0.93h-2.04zM265.37 141.24h1.03v0.93h-1.03zM267.39 142.15h1.03v0.93h-1.03zM258.3 143.06h2.04v0.93h-2.04zM264.36 144.87h1.03v0.93h-1.03zM266.38 144.87h1.03v0.93h-1.03zM258.3 145.78h1.03v0.93h-1.03zM266.38 145.78h1.03v0.93h-1.03zM262.34 146.69h1.03v0.93h-1.03zM260.32 147.6h1.03v0.93h-1.03zM266.38 149.41h1.03v0.93h-1.03zM260.32 150.32h1.03v0.93h-1.03zM265.37 151.23h1.03v0.93h-1.03zM259.31 152.13h1.03v0.93h-1.03zM261.33 153.95h1.03v0.93h-1.03zM261.33 155.76h1.03v0.93h-1.03zM266.38 155.76h1.03v0.93h-1.03zM265.37 158.49h1.03v0.93h-1.03zM260.32 159.39h1.03v0.93h-1.03zM265.37 161.21h1.03v0.93h-1.03zM258.3 162.12h1.03v0.93h-1.03zM260.32 163.93h1.03v0.93h-1.03zM265.37 164.84h1.03v0.93h-1.03zM260.32 166.65h1.03v0.93h-1.03zM264.36 167.56h1.03v0.93h-1.03zM265.37 171.19h1.03v0.93h-1.03zM264.36 172.1h1.03v0.93h-1.03zM261.33 173.91h1.03v0.93h-1.03zM263.35 173.91h1.03v0.93h-1.03zM261.33 175.73h2.04v0.93h-2.04zM264.36 177.54h1.03v0.93h-1.03zM261.33 178.45h1.03v0.93h-1.03zM259.31 179.36h1.03v0.93h-1.03zM265.37 180.27h1.03v0.93h-1.03zM262.34 181.17h1.03v0.93h-1.03zM263.35 182.08h1.03v0.93h-1.03zM263.35 183.9h1.03v0.93h-1.03zM262.34 185.71h3.05v0.93h-3.05zM263.35 186.62h1.03v0.93h-1.03z"/>
<path fill="#244096" d="M265.37 99.5h2.04v0.93h-2.04zM258.3 100.41h1.03v0.93h-1.03zM268.4 100.41h2.04v0.93h-2.04zM259.31 101.31h3.05v0.93h-3.05zM263.35 101.31h3.05v0.93h-3.05zM256.28 102.22h1.03v0.93h-1.03zM258.3 103.13h1.03v0.93h-1.03zM257.29 104.04h1.03v0.93h-1.03zM265.37 104.04h3.05v0.93h-3.05zM257.29 104.94h1.03v0.93h-1.03zM261.33 105.85h2.04v0.93h-2.04zM264.36 105.85h1.03v0.93h-1.03zM266.38 105.85h1.03v0.93h-1.03zM258.3 106.76h1.03v0.93h-1.03zM265.37 106.76h1.03v0.93h-1.03zM266.38 107.67h1.03v0.93h-1.03zM258.3 108.57h1.03v0.93h-1.03zM265.37 110.39h1.03v0.93h-1.03zM264.36 111.3h1.03v0.93h-1.03zM260.32 112.2h1.03v0.93h-1.03zM263.35 113.11h1.03v0.93h-1.03zM269.41 114.02h2.04v0.93h-2.04zM259.31 114.93h1.03v0.93h-1.03zM262.34 114.93h2.04v0.93h-2.04zM261.33 116.74h1.03v0.93h-1.03zM268.4 116.74h2.04v0.93h-2.04zM263.35 117.65h1.03v0.93h-1.03zM265.37 119.46h1.03v0.93h-1.03zM259.31 120.37h1.03v0.93h-1.03zM265.37 120.37h1.03v0.93h-1.03zM260.32 121.28h2.04v0.93h-2.04zM259.31 122.19h1.03v0.93h-1.03zM265.37 122.19h2.04v0.93h-2.04zM259.31 123.09h2.04v0.93h-2.04zM259.31 124h1.03v0.93h-1.03zM264.36 124h1.03v0.93h-1.03zM266.38 124.91h1.03v0.93h-1.03zM265.37 125.82h1.03v0.93h-1.03zM259.31 126.72h1.03v0.93h-1.03zM262.34 126.72h2.04v0.93h-2.04zM265.37 127.63h1.03v0.93h-1.03zM258.3 129.45h1.03v0.93h-1.03zM264.36 129.45h1.03v0.93h-1.03zM260.32 130.35h1.03v0.93h-1.03zM261.33 131.26h1.03v0.93h-1.03zM264.36 131.26h2.04v0.93h-2.04zM261.33 132.17h1.03v0.93h-1.03zM264.36 133.08h1.03v0.93h-1.03zM266.38 133.08h1.03v0.93h-1.03zM262.34 135.8h3.05v0.93h-3.05zM261.33 140.34h1.03v0.93h-1.03zM260.32 141.24h1.03v0.93h-1.03zM261.33 142.15h2.04v0.93h-2.04zM261.33 143.97h1.03v0.93h-1.03zM263.35 143.97h1.03v0.93h-1.03zM260.32 144.87h1.03v0.93h-1.03zM263.35 144.87h1.03v0.93h-1.03zM264.36 146.69h2.04v0.93h-2.04zM266.38 148.5h1.03v0.93h-1.03zM260.32 149.41h1.03v0.93h-1.03zM261.33 150.32h2.04v0.93h-2.04zM261.33 151.23h1.03v0.93h-1.03zM264.36 153.04h1.03v0.93h-1.03zM260.32 154.86h1.03v0.93h-1.03zM264.36 154.86h1.03v0.93h-1.03zM265.37 155.76h1.03v0.93h-1.03zM260.32 156.67h1.03v0.93h-1.03zM262.34 156.67h1.03v0.93h-1.03zM261.33 157.58h1.03v0.93h-1.03zM264.36 157.58h1.03v0.93h-1.03zM263.35 158.49h1.03v0.93h-1.03zM263.35 159.39h1.03v0.93h-1.03zM260.32 160.3h2.04v0.93h-2.04zM262.34 161.21h1.03v0.93h-1.03zM259.31 162.12h1.03v0.93h-1.03zM264.36 162.12h1.03v0.93h-1.03zM260.32 163.02h1.03v0.93h-1.03zM261.33 163.93h1.03v0.93h-1.03zM263.35 163.93h1.03v0.93h-1.03zM261.33 164.84h1.03v0.93h-1.03zM264.36 164.84h1.03v0.93h-1.03zM265.37 166.65h1.03v0.93h-1.03zM262.34 168.47h2.04v0.93h-2.04zM259.31 169.38h2.04v0.93h-2.04zM262.34 170.28h2.04v0.93h-2.04zM261.33 171.19h1.03v0.93h-1.03zM264.36 171.19h1.03v0.93h-1.03zM263.35 173.01h1.03v0.93h-1.03zM263.35 175.73h1.03v0.93h-1.03zM262.34 177.54h1.03v0.93h-1.03zM264.36 180.27h1.03v0.93h-1.03zM263.35 181.17h1.03v0.93h-1.03zM262.34 182.08h1.03v0.93h-1.03zM261.33 182.99h1.03v0.93h-1.03zM263.35 182.99h1.03v0.93h-1.03zM262.34 183.9h1.03v0.93h-1.03zM264.36 189.34h1.03v0.93h-1.03z"/>
<path fill="#1e3482" d="M259.31 99.5h6.08v0.93h-6.08zM257.29 100.41h1.03v0.93h-1.03zM259.31 100.41h9.11v0.93h-9.11zM262.34 101.31h1.03v0.93h-1.03zM257.29 102.22h10.12v0.93h-10.12zM259.31 103.13h6.08v0.93h-6.08zM259.31 104.04h6.08v0.93h-6.08zM254.26 104.94h1.03v0.93h-1.03zM256.28 104.94h1.03v0.93h-1.03zM258.3 104.94h9.11v0.93h-9.11zM263.35 105.85h1.03v0.93h-1.03zM259.31 106.76h6.08v0.93h-6.08zM257.29 107.67h9.11v0.93h-9.11zM267.39 107.67h1.03v0.93h-1.03zM257.29 108.57h1.03v0.93h-1.03zM259.31 108.57h6.08v0.93h-6.08zM266.38 108.57h1.03v0.93h-1.03zM261.33 109.48h5.07v0.93h-5.07zM260.32 110.39h5.07v0.93h-5.07zM261.33 111.3h3.05v0.93h-3.05zM259.31 112.2h1.03v0.93h-1.03zM261.33 112.2h3.05v0.93h-3.05zM261.33 113.11h2.04v0.93h-2.04zM265.37 113.11h1.03v0.93h-1.03zM260.32 114.02h9.11v0.93h-9.11zM260.32 114.93h2.04v0.93h-2.04zM265.37 114.93h1.03v0.93h-1.03zM259.31 115.83h6.08v0.93h-6.08zM262.34 116.74h6.08v0.93h-6.08zM262.34 117.65h1.03v0.93h-1.03zM264.36 117.65h2.04v0.93h-2.04zM260.32 118.56h6.08v0.93h-6.08zM260.32 119.46h5.07v0.93h-5.07zM260.32 120.37h4.06v0.93h-4.06zM262.34 121.28h2.04v0.93h-2.04zM258.3 122.19h1.03v0.93h-1.03zM261.33 122.19h4.06v0.93h-4.06zM258.3 123.09h1.03v0.93h-1.03zM261.33 123.09h3.05v0.93h-3.05zM260.32 124h4.06v0.93h-4.06zM260.32 124.91h6.08v0.93h-6.08zM260.32 125.82h5.07v0.93h-5.07zM261.33 126.72h1.03v0.93h-1.03zM261.33 127.63h4.06v0.93h-4.06zM261.33 128.54h3.05v0.93h-3.05zM259.31 129.45h5.07v0.93h-5.07zM261.33 130.35h2.04v0.93h-2.04zM264.36 130.35h1.03v0.93h-1.03zM262.34 131.26h2.04v0.93h-2.04zM262.34 132.17h4.06v0.93h-4.06zM263.35 133.08h1.03v0.93h-1.03zM265.37 133.08h1.03v0.93h-1.03zM260.32 133.98h6.08v0.93h-6.08zM260.32 134.89h5.07v0.93h-5.07zM260.32 136.71h5.07v0.93h-5.07zM261.33 137.61h4.06v0.93h-4.06zM259.31 138.52h6.08v0.93h-6.08zM261.33 139.43h5.07v0.93h-5.07zM262.34 140.34h4.06v0.93h-4.06zM261.33 141.24h4.06v0.93h-4.06zM263.35 142.15h4.06v0.93h-4.06zM260.32 143.06h6.08v0.93h-6.08zM262.34 143.97h1.03v0.93h-1.03zM261.33 144.87h2.04v0.93h-2.04zM259.31 145.78h7.09v0.93h-7.09zM263.35 146.69h1.03v0.93h-1.03zM261.33 147.6h3.05v0.93h-3.05zM260.32 148.5h6.08v0.93h-6.08zM261.33 149.41h5.07v0.93h-5.07zM263.35 150.32h2.04v0.93h-2.04zM262.34 151.23h3.05v0.93h-3.05zM260.32 152.13h5.07v0.93h-5.07zM260.32 153.04h4.06v0.93h-4.06zM262.34 153.95h2.04v0.93h-2.04zM261.33 154.86h3.05v0.93h-3.05zM262.34 155.76h3.05v0.93h-3.05zM261.33 156.67h1.03v0.93h-1.03zM263.35 156.67h1.03v0.93h-1.03zM262.34 157.58h2.04v0.93h-2.04zM262.34 158.49h1.03v0.93h-1.03zM261.33 159.39h2.04v0.93h-2.04zM262.34 160.3h4.06v0.93h-4.06zM261.33 161.21h1.03v0.93h-1.03zM263.35 161.21h2.04v0.93h-2.04zM260.32 162.12h4.06v0.93h-4.06zM261.33 163.02h3.05v0.93h-3.05zM262.34 163.93h1.03v0.93h-1.03zM262.34 164.84h2.04v0.93h-2.04zM260.32 165.75h5.07v0.93h-5.07zM261.33 166.65h4.06v0.93h-4.06zM262.34 167.56h2.04v0.93h-2.04zM264.36 168.47h1.03v0.93h-1.03zM261.33 169.38h4.06v0.93h-4.06zM264.36 170.28h2.04v0.93h-2.04zM262.34 171.19h2.04v0.93h-2.04zM261.33 172.1h3.05v0.93h-3.05zM262.34 173.01h1.03v0.93h-1.03zM262.34 173.91h1.03v0.93h-1.03zM262.34 174.82h2.04v0.93h-2.04zM261.33 176.64h3.05v0.93h-3.05zM263.35 177.54h1.03v0.93h-1.03zM262.34 178.45h3.05v0.93h-3.05zM260.32 179.36h4.06v0.93h-4.06zM262.34 180.27h2.04v0.93h-2.04zM264.36 181.17h1.03v0.93h-1.03zM261.33 182.08h1.03v0.93h-1.03zM262.34 182.99h1.03v0.93h-1.03zM262.34 184.8h2.04v0.93h-2.04z"/>
</g>
<rect x="248.2" y="86.1" width="30.3" height="110.5" fill="none" stroke="#666" stroke-width="0.7"/>
<line x1="247.9" y1="98.8" x2="278.8" y2="98.8" stroke="#444" stroke-width="1.4"/>
<line x1="201.7" y1="196.6" x2="201.7" y2="198.2" stroke="#666" stroke-width="0.6"/>
<line x1="216.9" y1="196.6" x2="216.9" y2="198.2" stroke="#666" stroke-width="0.6"/>
<line x1="232.1" y1="196.6" x2="232.1" y2="198.2" stroke="#666" stroke-width="0.6"/>
<line x1="248.2" y1="196.6" x2="248.2" y2="198.2" stroke="#666" stroke-width="0.6"/>
<line x1="263.4" y1="196.6" x2="263.4" y2="198.2" stroke="#666" stroke-width="0.6"/>
<line x1="278.6" y1="196.6" x2="278.6" y2="198.2" stroke="#666" stroke-width="0.6"/>
<text x="195.2" y="206.3" font-size="6.4" fill="#231f20" textLength="13" lengthAdjust="spacingAndGlyphs" stroke="#231f20" stroke-width="0.2">-3Kb</text>
<text x="211.6" y="206.3" font-size="6.4" fill="#231f20" textLength="10.4" lengthAdjust="spacingAndGlyphs" stroke="#231f20" stroke-width="0.2">TSS</text>
<text x="226.2" y="206.3" font-size="6.4" fill="#231f20" textLength="11" lengthAdjust="spacingAndGlyphs" stroke="#231f20" stroke-width="0.2">3Kb</text>
<text x="241.7" y="206.3" font-size="6.4" fill="#231f20" textLength="13" lengthAdjust="spacingAndGlyphs" stroke="#231f20" stroke-width="0.2">-3Kb</text>
<text x="258.1" y="206.3" font-size="6.4" fill="#231f20" textLength="10.4" lengthAdjust="spacingAndGlyphs" stroke="#231f20" stroke-width="0.2">TSS</text>
<text x="272.7" y="206.3" font-size="6.4" fill="#231f20" textLength="11" lengthAdjust="spacingAndGlyphs" stroke="#231f20" stroke-width="0.2">3Kb</text>
<text x="192" y="107.2" font-size="5.9" fill="#3a63a8" textLength="26.5" lengthAdjust="spacingAndGlyphs" transform="rotate(-90 192 107.2)" stroke="#3a63a8" stroke-width="0.2">KDM5-inh1</text>
<text x="196.9" y="104.9" font-size="5.9" fill="#3a63a8" textLength="22" lengthAdjust="spacingAndGlyphs" transform="rotate(-90 196.9 104.9)" stroke="#3a63a8" stroke-width="0.2">regulated</text>
<text x="194.5" y="172.6" font-size="5.9" fill="#d0334f" textLength="57.5" lengthAdjust="spacingAndGlyphs" transform="rotate(-90 194.5 172.6)" stroke="#d0334f" stroke-width="0.2">KDM5-inh1 unregulated</text>
<text x="300.3" y="16.3" font-size="11.4" font-weight="bold" fill="#000">D</text>
<text x="330.2" y="13.8" font-size="7.85" fill="#231f20" textLength="36.9" lengthAdjust="spacingAndGlyphs" stroke="#231f20" stroke-width="0.15">Significant</text>
<text x="330.2" y="23" font-size="7.85" fill="#231f20" textLength="37" lengthAdjust="spacingAndGlyphs" stroke="#231f20" stroke-width="0.15">promoters</text>
<path d="M325.5 57.5 L326.08 57.49 L326.66 57.48 L327.24 57.46 L327.81 57.45 L328.39 57.43 L328.97 57.41 L329.55 57.39 L330.13 57.37 L330.71 57.34 L331.29 57.32 L331.87 57.29 L332.44 57.26 L333.02 57.24 L333.6 57.21 L334.18 57.19 L334.76 57.16 L335.34 57.15 L335.92 57.13 L336.5 57.12 L337.07 57.11 L337.65 57.11 L338.23 57.11 L338.81 57.12 L339.39 57.13 L339.97 57.15 L340.55 57.17 L341.13 57.19 L341.7 57.21 L342.28 57.24 L342.86 57.26 L343.44 57.29 L344.02 57.33 L344.6 57.37 L345.18 57.43 L345.76 57.52 L346.33 57.64 L346.91 57.79 L347.49 57.94 L348.07 58.06 L348.65 58.12 L349.23 58.06 L349.81 57.94 L350.39 57.79 L350.97 57.64 L351.54 57.52 L352.12 57.43 L352.7 57.37 L353.28 57.33 L353.86 57.29 L354.44 57.26 L355.02 57.24 L355.6 57.21 L356.17 57.19 L356.75 57.17 L357.33 57.15 L357.91 57.13 L358.49 57.12 L359.07 57.11 L359.65 57.11 L360.23 57.11 L360.8 57.12 L361.38 57.13 L361.96 57.15 L362.54 57.16 L363.12 57.19 L363.7 57.21 L364.28 57.24 L364.86 57.26 L365.43 57.29 L366.01 57.32 L366.59 57.34 L367.17 57.37 L367.75 57.39 L368.33 57.41 L368.91 57.43 L369.49 57.45 L370.06 57.46 L370.64 57.48 L371.22 57.49 L371.8 57.5" fill="none" stroke="#75c8ee" stroke-width="1.1" stroke-dasharray="1.0 1.0" stroke-linejoin="round"/>
<path d="M325.5 57.19 L326.08 57.18 L326.66 57.17 L327.24 57.16 L327.81 57.15 L328.39 57.14 L328.97 57.12 L329.55 57.11 L330.13 57.09 L330.71 57.07 L331.29 57.05 L331.87 57.03 L332.44 57.01 L333.02 56.99 L333.6 56.97 L334.18 56.95 L334.76 56.94 L335.34 56.92 L335.92 56.91 L336.5 56.9 L337.07 56.9 L337.65 56.9 L338.23 56.9 L338.81 56.9 L339.39 56.91 L339.97 56.92 L340.55 56.94 L341.13 56.96 L341.7 56.97 L342.28 56.99 L342.86 57.01 L343.44 57.03 L344.02 57.06 L344.6 57.09 L345.18 57.12 L345.76 57.17 L346.33 57.24 L346.91 57.32 L347.49 57.4 L348.07 57.46 L348.65 57.49 L349.23 57.46 L349.81 57.4 L350.39 57.32 L350.97 57.24 L351.54 57.17 L352.12 57.12 L352.7 57.09 L353.28 57.06 L353.86 57.03 L354.44 57.01 L355.02 56.99 L355.6 56.97 L356.17 56.96 L356.75 56.94 L357.33 56.92 L357.91 56.91 L358.49 56.9 L359.07 56.9 L359.65 56.9 L360.23 56.9 L360.8 56.9 L361.38 56.91 L361.96 56.92 L362.54 56.94 L363.12 56.95 L363.7 56.97 L364.28 56.99 L364.86 57.01 L365.43 57.03 L366.01 57.05 L366.59 57.07 L367.17 57.09 L367.75 57.11 L368.33 57.12 L368.91 57.14 L369.49 57.15 L370.06 57.16 L370.64 57.17 L371.22 57.18 L371.8 57.19" fill="none" stroke="#f4c040" stroke-width="1.1" stroke-dasharray="1.0 1.0" stroke-linejoin="round"/>
<path d="M325.5 56.27 L326.08 56.22 L326.66 56.15 L327.24 56.08 L327.81 56 L328.39 55.9 L328.97 55.8 L329.55 55.68 L330.13 55.55 L330.71 55.42 L331.29 55.27 L331.87 55.13 L332.44 54.98 L333.02 54.83 L333.6 54.69 L334.18 54.55 L334.76 54.43 L335.34 54.33 L335.92 54.25 L336.5 54.18 L337.07 54.15 L337.65 54.13 L338.23 54.15 L338.81 54.18 L339.39 54.25 L339.97 54.33 L340.55 54.44 L341.13 54.56 L341.7 54.69 L342.28 54.83 L342.86 54.97 L343.44 55.11 L344.02 55.21 L344.6 55.24 L345.18 55.13 L345.76 54.81 L346.33 54.23 L346.91 53.43 L347.49 52.56 L348.07 51.9 L348.65 51.69 L349.23 51.9 L349.81 52.56 L350.39 53.43 L350.97 54.23 L351.54 54.81 L352.12 55.13 L352.7 55.24 L353.28 55.21 L353.86 55.11 L354.44 54.97 L355.02 54.83 L355.6 54.69 L356.17 54.56 L356.75 54.44 L357.33 54.33 L357.91 54.25 L358.49 54.18 L359.07 54.15 L359.65 54.13 L360.23 54.15 L360.8 54.18 L361.38 54.25 L361.96 54.33 L362.54 54.43 L363.12 54.55 L363.7 54.69 L364.28 54.83 L364.86 54.98 L365.43 55.13 L366.01 55.27 L366.59 55.42 L367.17 55.55 L367.75 55.68 L368.33 55.8 L368.91 55.9 L369.49 56 L370.06 56.08 L370.64 56.15 L371.22 56.22 L371.8 56.27" fill="none" stroke="#e1485f" stroke-width="1.05" stroke-linejoin="round"/>
<path d="M325.5 55.93 L326.08 55.87 L326.66 55.81 L327.24 55.73 L327.81 55.64 L328.39 55.53 L328.97 55.42 L329.55 55.29 L330.13 55.15 L330.71 55 L331.29 54.85 L331.87 54.68 L332.44 54.52 L333.02 54.36 L333.6 54.21 L334.18 54.06 L334.76 53.93 L335.34 53.82 L335.92 53.72 L336.5 53.66 L337.07 53.61 L337.65 53.6 L338.23 53.62 L338.81 53.66 L339.39 53.73 L339.97 53.82 L340.55 53.93 L341.13 54.06 L341.7 54.21 L342.28 54.36 L342.86 54.51 L343.44 54.65 L344.02 54.75 L344.6 54.73 L345.18 54.52 L345.76 53.99 L346.33 53.07 L346.91 51.82 L347.49 50.48 L348.07 49.45 L348.65 49.11 L349.23 49.45 L349.81 50.48 L350.39 51.82 L350.97 53.07 L351.54 53.99 L352.12 54.52 L352.7 54.73 L353.28 54.75 L353.86 54.65 L354.44 54.51 L355.02 54.36 L355.6 54.21 L356.17 54.06 L356.75 53.93 L357.33 53.82 L357.91 53.73 L358.49 53.66 L359.07 53.62 L359.65 53.6 L360.23 53.61 L360.8 53.66 L361.38 53.72 L361.96 53.82 L362.54 53.93 L363.12 54.06 L363.7 54.21 L364.28 54.36 L364.86 54.52 L365.43 54.68 L366.01 54.85 L366.59 55 L367.17 55.15 L367.75 55.29 L368.33 55.42 L368.91 55.53 L369.49 55.64 L370.06 55.73 L370.64 55.81 L371.22 55.87 L371.8 55.93" fill="none" stroke="#3d6eb0" stroke-width="1.05" stroke-linejoin="round"/>
<rect x="325.5" y="28.4" width="46.3" height="31.9" fill="none" stroke="#111" stroke-width="0.9"/>
<line x1="322.5" y1="60.3" x2="325.5" y2="60.3" stroke="#111" stroke-width="0.8"/>
<line x1="322.5" y1="54.98" x2="325.5" y2="54.98" stroke="#111" stroke-width="0.8"/>
<line x1="322.5" y1="49.67" x2="325.5" y2="49.67" stroke="#111" stroke-width="0.8"/>
<line x1="322.5" y1="44.35" x2="325.5" y2="44.35" stroke="#111" stroke-width="0.8"/>
<line x1="322.5" y1="39.03" x2="325.5" y2="39.03" stroke="#111" stroke-width="0.8"/>
<line x1="322.5" y1="33.72" x2="325.5" y2="33.72" stroke="#111" stroke-width="0.8"/>
<line x1="322.5" y1="28.4" x2="325.5" y2="28.4" stroke="#111" stroke-width="0.8"/>
<text x="319.2" y="51.77" font-size="5.9" text-anchor="end" fill="#231f20" stroke="#231f20" stroke-width="0.2">10</text>
<text x="319.2" y="41.13" font-size="5.9" text-anchor="end" fill="#231f20" stroke="#231f20" stroke-width="0.2">20</text>
<text x="319.2" y="30.5" font-size="5.9" text-anchor="end" fill="#231f20" stroke="#231f20" stroke-width="0.2">30</text>
<line x1="325.5" y1="60.3" x2="325.5" y2="62.8" stroke="#111" stroke-width="0.8"/>
<line x1="348.65" y1="60.3" x2="348.65" y2="62.8" stroke="#111" stroke-width="0.8"/>
<line x1="371.8" y1="60.3" x2="371.8" y2="62.8" stroke="#111" stroke-width="0.8"/>
<path d="M325.5 93.96 L326.27 93.91 L327.04 93.86 L327.81 93.8 L328.59 93.73 L329.36 93.65 L330.13 93.57 L330.9 93.47 L331.67 93.37 L332.44 93.25 L333.22 93.12 L333.99 92.97 L334.76 92.8 L335.53 92.62 L336.3 92.41 L337.07 92.18 L337.85 91.93 L338.62 91.64 L339.39 91.32 L340.16 90.97 L340.93 90.57 L341.7 90.12 L342.48 89.63 L343.25 89.07 L344.02 88.45 L344.79 87.76 L345.56 86.99 L346.33 86.13 L347.11 85.17 L347.88 84.1 L348.65 82.9 L349.42 84.1 L350.19 85.17 L350.97 86.13 L351.74 86.99 L352.51 87.76 L353.28 88.45 L354.05 89.07 L354.82 89.63 L355.6 90.12 L356.37 90.57 L357.14 90.97 L357.91 91.32 L358.68 91.64 L359.45 91.93 L360.23 92.18 L361 92.41 L361.77 92.62 L362.54 92.8 L363.31 92.97 L364.08 93.12 L364.86 93.25 L365.63 93.37 L366.4 93.47 L367.17 93.57 L367.94 93.65 L368.71 93.73 L369.49 93.8 L370.26 93.86 L371.03 93.91 L371.8 93.96" fill="none" stroke="#75c8ee" stroke-width="1.1" stroke-dasharray="1.0 1.0" stroke-linejoin="round"/>
<path d="M325.5 95.34 L326.27 95.31 L327.04 95.26 L327.81 95.22 L328.59 95.17 L329.36 95.11 L330.13 95.05 L330.9 94.98 L331.67 94.9 L332.44 94.81 L333.22 94.71 L333.99 94.6 L334.76 94.47 L335.53 94.34 L336.3 94.18 L337.07 94.01 L337.85 93.82 L338.62 93.6 L339.39 93.36 L340.16 93.1 L340.93 92.8 L341.7 92.46 L342.48 92.09 L343.25 91.68 L344.02 91.21 L344.79 90.69 L345.56 90.12 L346.33 89.47 L347.11 88.75 L347.88 87.94 L348.65 87.05 L349.42 87.94 L350.19 88.75 L350.97 89.47 L351.74 90.12 L352.51 90.69 L353.28 91.21 L354.05 91.68 L354.82 92.09 L355.6 92.46 L356.37 92.8 L357.14 93.1 L357.91 93.36 L358.68 93.6 L359.45 93.82 L360.23 94.01 L361 94.18 L361.77 94.34 L362.54 94.47 L363.31 94.6 L364.08 94.71 L364.86 94.81 L365.63 94.9 L366.4 94.98 L367.17 95.05 L367.94 95.11 L368.71 95.17 L369.49 95.22 L370.26 95.26 L371.03 95.31 L371.8 95.34" fill="none" stroke="#f4c040" stroke-width="1.1" stroke-dasharray="1.0 1.0" stroke-linejoin="round"/>
<path d="M325.5 98.14 L326.27 98.13 L327.04 98.12 L327.81 98.11 L328.59 98.1 L329.36 98.09 L330.13 98.07 L330.9 98.06 L331.67 98.04 L332.44 98.02 L333.22 98 L333.99 97.97 L334.76 97.95 L335.53 97.92 L336.3 97.88 L337.07 97.84 L337.85 97.8 L338.62 97.75 L339.39 97.7 L340.16 97.64 L340.93 97.57 L341.7 97.5 L342.48 97.42 L343.25 97.33 L344.02 97.22 L344.79 97.11 L345.56 96.98 L346.33 96.83 L347.11 96.67 L347.88 96.5 L348.65 96.3 L349.42 96.5 L350.19 96.67 L350.97 96.83 L351.74 96.98 L352.51 97.11 L353.28 97.22 L354.05 97.33 L354.82 97.42 L355.6 97.5 L356.37 97.57 L357.14 97.64 L357.91 97.7 L358.68 97.75 L359.45 97.8 L360.23 97.84 L361 97.88 L361.77 97.92 L362.54 97.95 L363.31 97.97 L364.08 98 L364.86 98.02 L365.63 98.04 L366.4 98.06 L367.17 98.07 L367.94 98.09 L368.71 98.1 L369.49 98.11 L370.26 98.12 L371.03 98.13 L371.8 98.14" fill="none" stroke="#e1485f" stroke-width="1.05" stroke-linejoin="round"/>
<path d="M325.5 96.81 L326.27 96.79 L327.04 96.77 L327.81 96.76 L328.59 96.73 L329.36 96.71 L330.13 96.69 L330.9 96.66 L331.67 96.62 L332.44 96.59 L333.22 96.55 L333.99 96.5 L334.76 96.45 L335.53 96.4 L336.3 96.33 L337.07 96.26 L337.85 96.18 L338.62 96.1 L339.39 96 L340.16 95.89 L340.93 95.77 L341.7 95.63 L342.48 95.48 L343.25 95.31 L344.02 95.12 L344.79 94.91 L345.56 94.68 L346.33 94.41 L347.11 94.12 L347.88 93.79 L348.65 93.43 L349.42 93.79 L350.19 94.12 L350.97 94.41 L351.74 94.68 L352.51 94.91 L353.28 95.12 L354.05 95.31 L354.82 95.48 L355.6 95.63 L356.37 95.77 L357.14 95.89 L357.91 96 L358.68 96.1 L359.45 96.18 L360.23 96.26 L361 96.33 L361.77 96.4 L362.54 96.45 L363.31 96.5 L364.08 96.55 L364.86 96.59 L365.63 96.62 L366.4 96.66 L367.17 96.69 L367.94 96.71 L368.71 96.73 L369.49 96.76 L370.26 96.77 L371.03 96.79 L371.8 96.81" fill="none" stroke="#3d6eb0" stroke-width="1.05" stroke-linejoin="round"/>
<rect x="325.5" y="69.5" width="46.3" height="31.9" fill="none" stroke="#111" stroke-width="0.9"/>
<line x1="322.5" y1="101.4" x2="325.5" y2="101.4" stroke="#111" stroke-width="0.8"/>
<line x1="322.5" y1="95.02" x2="325.5" y2="95.02" stroke="#111" stroke-width="0.8"/>
<line x1="322.5" y1="88.64" x2="325.5" y2="88.64" stroke="#111" stroke-width="0.8"/>
<line x1="322.5" y1="82.26" x2="325.5" y2="82.26" stroke="#111" stroke-width="0.8"/>
<line x1="322.5" y1="75.88" x2="325.5" y2="75.88" stroke="#111" stroke-width="0.8"/>
<line x1="322.5" y1="69.5" x2="325.5" y2="69.5" stroke="#111" stroke-width="0.8"/>
<text x="319.2" y="97.12" font-size="5.9" text-anchor="end" fill="#231f20" stroke="#231f20" stroke-width="0.2">2</text>
<text x="319.2" y="84.36" font-size="5.9" text-anchor="end" fill="#231f20" stroke="#231f20" stroke-width="0.2">6</text>
<text x="319.2" y="71.6" font-size="5.9" text-anchor="end" fill="#231f20" stroke="#231f20" stroke-width="0.2">10</text>
<line x1="325.5" y1="101.4" x2="325.5" y2="103.9" stroke="#111" stroke-width="0.8"/>
<line x1="348.65" y1="101.4" x2="348.65" y2="103.9" stroke="#111" stroke-width="0.8"/>
<line x1="371.8" y1="101.4" x2="371.8" y2="103.9" stroke="#111" stroke-width="0.8"/>
<text x="318.4" y="112.9" font-size="6.3" fill="#231f20" textLength="12.8" lengthAdjust="spacingAndGlyphs" stroke="#231f20" stroke-width="0.2">-3Kb</text>
<text x="343.3" y="112.9" font-size="6.3" fill="#231f20" textLength="10.5" lengthAdjust="spacingAndGlyphs" stroke="#231f20" stroke-width="0.2">TSS</text>
<text x="365.8" y="112.9" font-size="6.3" fill="#231f20" textLength="10.4" lengthAdjust="spacingAndGlyphs" stroke="#231f20" stroke-width="0.2">3Kb</text>
<text x="318.4" y="230.6" font-size="6.3" fill="#231f20" textLength="12.8" lengthAdjust="spacingAndGlyphs" stroke="#231f20" stroke-width="0.2">-3Kb</text>
<text x="343.3" y="230.6" font-size="6.3" fill="#231f20" textLength="10.5" lengthAdjust="spacingAndGlyphs" stroke="#231f20" stroke-width="0.2">TSS</text>
<text x="365.8" y="230.6" font-size="6.3" fill="#231f20" textLength="10.4" lengthAdjust="spacingAndGlyphs" stroke="#231f20" stroke-width="0.2">3Kb</text>
<text x="322.8" y="132.4" font-size="7.85" fill="#231f20" textLength="51.5" lengthAdjust="spacingAndGlyphs" stroke="#231f20" stroke-width="0.15">Not significant</text>
<text x="330.2" y="141.5" font-size="7.85" fill="#231f20" textLength="37" lengthAdjust="spacingAndGlyphs" stroke="#231f20" stroke-width="0.15">promoters</text>
<path d="M325.5 176.9 L326.08 176.89 L326.66 176.87 L327.24 176.85 L327.81 176.83 L328.39 176.8 L328.97 176.77 L329.55 176.73 L330.13 176.69 L330.71 176.64 L331.29 176.59 L331.87 176.53 L332.44 176.46 L333.02 176.38 L333.6 176.3 L334.18 176.2 L334.76 176.1 L335.34 175.98 L335.92 175.85 L336.5 175.71 L337.07 175.56 L337.65 175.38 L338.23 175.17 L338.81 174.93 L339.39 174.64 L339.97 174.28 L340.55 173.84 L341.13 173.28 L341.7 172.6 L342.28 171.76 L342.86 170.76 L343.44 169.58 L344.02 168.26 L344.6 166.81 L345.18 165.29 L345.76 163.78 L346.33 162.36 L346.91 161.13 L347.49 160.18 L348.07 159.57 L348.65 159.37 L349.23 159.57 L349.81 160.18 L350.39 161.13 L350.97 162.36 L351.54 163.78 L352.12 165.29 L352.7 166.81 L353.28 168.26 L353.86 169.58 L354.44 170.76 L355.02 171.76 L355.6 172.6 L356.17 173.28 L356.75 173.84 L357.33 174.28 L357.91 174.64 L358.49 174.93 L359.07 175.17 L359.65 175.38 L360.23 175.56 L360.8 175.71 L361.38 175.85 L361.96 175.98 L362.54 176.1 L363.12 176.2 L363.7 176.3 L364.28 176.38 L364.86 176.46 L365.43 176.53 L366.01 176.59 L366.59 176.64 L367.17 176.69 L367.75 176.73 L368.33 176.77 L368.91 176.8 L369.49 176.83 L370.06 176.85 L370.64 176.87 L371.22 176.89 L371.8 176.9" fill="none" stroke="#f4c040" stroke-width="1.1" stroke-dasharray="1.0 1.0" stroke-linejoin="round"/>
<path d="M325.5 176.79 L326.08 176.77 L326.66 176.75 L327.24 176.73 L327.81 176.71 L328.39 176.68 L328.97 176.64 L329.55 176.6 L330.13 176.56 L330.71 176.5 L331.29 176.44 L331.87 176.37 L332.44 176.3 L333.02 176.21 L333.6 176.12 L334.18 176.01 L334.76 175.89 L335.34 175.77 L335.92 175.62 L336.5 175.47 L337.07 175.29 L337.65 175.09 L338.23 174.87 L338.81 174.6 L339.39 174.27 L339.97 173.87 L340.55 173.38 L341.13 172.76 L341.7 172 L342.28 171.06 L342.86 169.95 L343.44 168.64 L344.02 167.16 L344.6 165.55 L345.18 163.86 L345.76 162.18 L346.33 160.6 L346.91 159.23 L347.49 158.17 L348.07 157.49 L348.65 157.26 L349.23 157.49 L349.81 158.17 L350.39 159.23 L350.97 160.6 L351.54 162.18 L352.12 163.86 L352.7 165.55 L353.28 167.16 L353.86 168.64 L354.44 169.95 L355.02 171.06 L355.6 172 L356.17 172.76 L356.75 173.38 L357.33 173.87 L357.91 174.27 L358.49 174.6 L359.07 174.87 L359.65 175.09 L360.23 175.29 L360.8 175.47 L361.38 175.62 L361.96 175.77 L362.54 175.89 L363.12 176.01 L363.7 176.12 L364.28 176.21 L364.86 176.3 L365.43 176.37 L366.01 176.44 L366.59 176.5 L367.17 176.56 L367.75 176.6 L368.33 176.64 L368.91 176.68 L369.49 176.71 L370.06 176.73 L370.64 176.75 L371.22 176.77 L371.8 176.79" fill="none" stroke="#75c8ee" stroke-width="1.1" stroke-dasharray="1.0 1.0" stroke-linejoin="round"/>
<path d="M325.5 176.66 L326.08 176.64 L326.66 176.61 L327.24 176.59 L327.81 176.55 L328.39 176.51 L328.97 176.47 L329.55 176.41 L330.13 176.35 L330.71 176.28 L331.29 176.2 L331.87 176.11 L332.44 176 L333.02 175.89 L333.6 175.76 L334.18 175.62 L334.76 175.46 L335.34 175.29 L335.92 175.1 L336.5 174.89 L337.07 174.65 L337.65 174.38 L338.23 174.08 L338.81 173.72 L339.39 173.28 L339.97 172.74 L340.55 172.08 L341.13 171.25 L341.7 170.22 L342.28 168.97 L342.86 167.46 L343.44 165.71 L344.02 163.72 L344.6 161.55 L345.18 159.28 L345.76 157.02 L346.33 154.9 L346.91 153.06 L347.49 151.63 L348.07 150.72 L348.65 150.41 L349.23 150.72 L349.81 151.63 L350.39 153.06 L350.97 154.9 L351.54 157.02 L352.12 159.28 L352.7 161.55 L353.28 163.72 L353.86 165.71 L354.44 167.46 L355.02 168.97 L355.6 170.22 L356.17 171.25 L356.75 172.08 L357.33 172.74 L357.91 173.28 L358.49 173.72 L359.07 174.08 L359.65 174.38 L360.23 174.65 L360.8 174.89 L361.38 175.1 L361.96 175.29 L362.54 175.46 L363.12 175.62 L363.7 175.76 L364.28 175.89 L364.86 176 L365.43 176.11 L366.01 176.2 L366.59 176.28 L367.17 176.35 L367.75 176.41 L368.33 176.47 L368.91 176.51 L369.49 176.55 L370.06 176.59 L370.64 176.61 L371.22 176.64 L371.8 176.66" fill="none" stroke="#3d6eb0" stroke-width="1.05" stroke-linejoin="round"/>
<path d="M325.5 176.67 L326.08 176.65 L326.66 176.63 L327.24 176.61 L327.81 176.58 L328.39 176.55 L328.97 176.51 L329.55 176.46 L330.13 176.41 L330.71 176.35 L331.29 176.28 L331.87 176.2 L332.44 176.12 L333.02 176.02 L333.6 175.91 L334.18 175.79 L334.76 175.65 L335.34 175.51 L335.92 175.35 L336.5 175.17 L337.07 174.97 L337.65 174.74 L338.23 174.48 L338.81 174.18 L339.39 173.81 L339.97 173.35 L340.55 172.79 L341.13 172.08 L341.7 171.21 L342.28 170.15 L342.86 168.87 L343.44 167.39 L344.02 165.7 L344.6 163.86 L345.18 161.94 L345.76 160.02 L346.33 158.22 L346.91 156.66 L347.49 155.45 L348.07 154.68 L348.65 154.42 L349.23 154.68 L349.81 155.45 L350.39 156.66 L350.97 158.22 L351.54 160.02 L352.12 161.94 L352.7 163.86 L353.28 165.7 L353.86 167.39 L354.44 168.87 L355.02 170.15 L355.6 171.21 L356.17 172.08 L356.75 172.79 L357.33 173.35 L357.91 173.81 L358.49 174.18 L359.07 174.48 L359.65 174.74 L360.23 174.97 L360.8 175.17 L361.38 175.35 L361.96 175.51 L362.54 175.65 L363.12 175.79 L363.7 175.91 L364.28 176.02 L364.86 176.12 L365.43 176.2 L366.01 176.28 L366.59 176.35 L367.17 176.41 L367.75 176.46 L368.33 176.51 L368.91 176.55 L369.49 176.58 L370.06 176.61 L370.64 176.63 L371.22 176.65 L371.8 176.67" fill="none" stroke="#e1485f" stroke-width="1.05" stroke-linejoin="round"/>
<rect x="325.5" y="146.2" width="46.3" height="31.6" fill="none" stroke="#111" stroke-width="0.9"/>
<line x1="322.5" y1="177.8" x2="325.5" y2="177.8" stroke="#111" stroke-width="0.8"/>
<line x1="322.5" y1="172.53" x2="325.5" y2="172.53" stroke="#111" stroke-width="0.8"/>
<line x1="322.5" y1="167.27" x2="325.5" y2="167.27" stroke="#111" stroke-width="0.8"/>
<line x1="322.5" y1="162" x2="325.5" y2="162" stroke="#111" stroke-width="0.8"/>
<line x1="322.5" y1="156.73" x2="325.5" y2="156.73" stroke="#111" stroke-width="0.8"/>
<line x1="322.5" y1="151.47" x2="325.5" y2="151.47" stroke="#111" stroke-width="0.8"/>
<line x1="322.5" y1="146.2" x2="325.5" y2="146.2" stroke="#111" stroke-width="0.8"/>
<text x="319.2" y="169.37" font-size="5.9" text-anchor="end" fill="#231f20" stroke="#231f20" stroke-width="0.2">10</text>
<text x="319.2" y="158.83" font-size="5.9" text-anchor="end" fill="#231f20" stroke="#231f20" stroke-width="0.2">20</text>
<text x="319.2" y="148.3" font-size="5.9" text-anchor="end" fill="#231f20" stroke="#231f20" stroke-width="0.2">30</text>
<line x1="325.5" y1="177.8" x2="325.5" y2="180.3" stroke="#111" stroke-width="0.8"/>
<line x1="348.65" y1="177.8" x2="348.65" y2="180.3" stroke="#111" stroke-width="0.8"/>
<line x1="371.8" y1="177.8" x2="371.8" y2="180.3" stroke="#111" stroke-width="0.8"/>
<path d="M325.5 214.4 L326.08 214.4 L326.66 214.4 L327.24 214.4 L327.81 214.4 L328.39 214.4 L328.97 214.4 L329.55 214.39 L330.13 214.39 L330.71 214.38 L331.29 214.37 L331.87 214.34 L332.44 214.31 L333.02 214.26 L333.6 214.19 L334.18 214.09 L334.76 213.95 L335.34 213.77 L335.92 213.55 L336.5 213.27 L337.07 212.95 L337.65 212.58 L338.23 212.18 L338.81 211.76 L339.39 211.35 L339.97 210.97 L340.55 210.65 L341.13 210.41 L341.7 210.28 L342.28 210.25 L342.86 210.34 L343.44 210.54 L344.02 210.84 L344.6 211.23 L345.18 211.68 L345.76 212.18 L346.33 212.69 L346.91 213.19 L347.49 213.64 L348.07 214.02 L348.65 214.3 L349.23 214.02 L349.81 213.64 L350.39 213.19 L350.97 212.69 L351.54 212.18 L352.12 211.68 L352.7 211.23 L353.28 210.84 L353.86 210.54 L354.44 210.34 L355.02 210.25 L355.6 210.28 L356.17 210.41 L356.75 210.65 L357.33 210.97 L357.91 211.35 L358.49 211.76 L359.07 212.18 L359.65 212.58 L360.23 212.95 L360.8 213.27 L361.38 213.55 L361.96 213.77 L362.54 213.95 L363.12 214.09 L363.7 214.19 L364.28 214.26 L364.86 214.31 L365.43 214.34 L366.01 214.37 L366.59 214.38 L367.17 214.39 L367.75 214.39 L368.33 214.4 L368.91 214.4 L369.49 214.4 L370.06 214.4 L370.64 214.4 L371.22 214.4 L371.8 214.4" fill="none" stroke="#75c8ee" stroke-width="1.1" stroke-dasharray="1.0 1.0" stroke-linejoin="round"/>
<path d="M325.5 215.36 L326.08 215.36 L326.66 215.36 L327.24 215.36 L327.81 215.36 L328.39 215.36 L328.97 215.36 L329.55 215.36 L330.13 215.35 L330.71 215.35 L331.29 215.34 L331.87 215.33 L332.44 215.31 L333.02 215.27 L333.6 215.23 L334.18 215.17 L334.76 215.08 L335.34 214.97 L335.92 214.84 L336.5 214.67 L337.07 214.47 L337.65 214.24 L338.23 213.99 L338.81 213.74 L339.39 213.48 L339.97 213.25 L340.55 213.05 L341.13 212.91 L341.7 212.82 L342.28 212.8 L342.86 212.86 L343.44 212.98 L344.02 213.16 L344.6 213.4 L345.18 213.67 L345.76 213.97 L346.33 214.27 L346.91 214.57 L347.49 214.83 L348.07 215.05 L348.65 215.22 L349.23 215.05 L349.81 214.83 L350.39 214.57 L350.97 214.27 L351.54 213.97 L352.12 213.67 L352.7 213.4 L353.28 213.16 L353.86 212.98 L354.44 212.86 L355.02 212.8 L355.6 212.82 L356.17 212.91 L356.75 213.05 L357.33 213.25 L357.91 213.48 L358.49 213.74 L359.07 213.99 L359.65 214.24 L360.23 214.47 L360.8 214.67 L361.38 214.84 L361.96 214.97 L362.54 215.08 L363.12 215.17 L363.7 215.23 L364.28 215.27 L364.86 215.31 L365.43 215.33 L366.01 215.34 L366.59 215.35 L367.17 215.35 L367.75 215.36 L368.33 215.36 L368.91 215.36 L369.49 215.36 L370.06 215.36 L370.64 215.36 L371.22 215.36 L371.8 215.36" fill="none" stroke="#f4c040" stroke-width="1.1" stroke-dasharray="1.0 1.0" stroke-linejoin="round"/>
<path d="M325.5 216 L326.08 216 L326.66 216 L327.24 216 L327.81 216 L328.39 216 L328.97 216 L329.55 216 L330.13 216 L330.71 215.99 L331.29 215.99 L331.87 215.99 L332.44 215.98 L333.02 215.96 L333.6 215.94 L334.18 215.92 L334.76 215.88 L335.34 215.83 L335.92 215.77 L336.5 215.7 L337.07 215.61 L337.65 215.51 L338.23 215.4 L338.81 215.29 L339.39 215.18 L339.97 215.08 L340.55 214.99 L341.13 214.93 L341.7 214.89 L342.28 214.88 L342.86 214.91 L343.44 214.96 L344.02 215.05 L344.6 215.16 L345.18 215.3 L345.76 215.45 L346.33 215.62 L346.91 215.78 L347.49 215.92 L348.07 216.04 L348.65 216.12 L349.23 216.04 L349.81 215.92 L350.39 215.78 L350.97 215.62 L351.54 215.45 L352.12 215.3 L352.7 215.16 L353.28 215.05 L353.86 214.96 L354.44 214.91 L355.02 214.88 L355.6 214.89 L356.17 214.93 L356.75 214.99 L357.33 215.08 L357.91 215.18 L358.49 215.29 L359.07 215.4 L359.65 215.51 L360.23 215.61 L360.8 215.7 L361.38 215.77 L361.96 215.83 L362.54 215.88 L363.12 215.92 L363.7 215.94 L364.28 215.96 L364.86 215.98 L365.43 215.99 L366.01 215.99 L366.59 215.99 L367.17 216 L367.75 216 L368.33 216 L368.91 216 L369.49 216 L370.06 216 L370.64 216 L371.22 216 L371.8 216" fill="none" stroke="#3d6eb0" stroke-width="1.05" stroke-linejoin="round"/>
<path d="M325.5 216.8 L326.08 216.8 L326.66 216.8 L327.24 216.8 L327.81 216.8 L328.39 216.8 L328.97 216.8 L329.55 216.8 L330.13 216.8 L330.71 216.8 L331.29 216.79 L331.87 216.79 L332.44 216.78 L333.02 216.77 L333.6 216.75 L334.18 216.73 L334.76 216.7 L335.34 216.66 L335.92 216.6 L336.5 216.54 L337.07 216.46 L337.65 216.38 L338.23 216.29 L338.81 216.19 L339.39 216.1 L339.97 216.01 L340.55 215.94 L341.13 215.88 L341.7 215.85 L342.28 215.84 L342.86 215.87 L343.44 215.92 L344.02 216.01 L344.6 216.13 L345.18 216.28 L345.76 216.46 L346.33 216.66 L346.91 216.86 L347.49 217.04 L348.07 217.18 L348.65 217.27 L349.23 217.18 L349.81 217.04 L350.39 216.86 L350.97 216.66 L351.54 216.46 L352.12 216.28 L352.7 216.13 L353.28 216.01 L353.86 215.92 L354.44 215.87 L355.02 215.84 L355.6 215.85 L356.17 215.88 L356.75 215.94 L357.33 216.01 L357.91 216.1 L358.49 216.19 L359.07 216.29 L359.65 216.38 L360.23 216.46 L360.8 216.54 L361.38 216.6 L361.96 216.66 L362.54 216.7 L363.12 216.73 L363.7 216.75 L364.28 216.77 L364.86 216.78 L365.43 216.79 L366.01 216.79 L366.59 216.8 L367.17 216.8 L367.75 216.8 L368.33 216.8 L368.91 216.8 L369.49 216.8 L370.06 216.8 L370.64 216.8 L371.22 216.8 L371.8 216.8" fill="none" stroke="#e1485f" stroke-width="1.05" stroke-linejoin="round"/>
<rect x="325.5" y="187.2" width="46.3" height="32" fill="none" stroke="#111" stroke-width="0.9"/>
<line x1="322.5" y1="219.2" x2="325.5" y2="219.2" stroke="#111" stroke-width="0.8"/>
<line x1="322.5" y1="212.8" x2="325.5" y2="212.8" stroke="#111" stroke-width="0.8"/>
<line x1="322.5" y1="206.4" x2="325.5" y2="206.4" stroke="#111" stroke-width="0.8"/>
<line x1="322.5" y1="200" x2="325.5" y2="200" stroke="#111" stroke-width="0.8"/>
<line x1="322.5" y1="193.6" x2="325.5" y2="193.6" stroke="#111" stroke-width="0.8"/>
<line x1="322.5" y1="187.2" x2="325.5" y2="187.2" stroke="#111" stroke-width="0.8"/>
<text x="319.2" y="214.9" font-size="5.9" text-anchor="end" fill="#231f20" stroke="#231f20" stroke-width="0.2">2</text>
<text x="319.2" y="202.1" font-size="5.9" text-anchor="end" fill="#231f20" stroke="#231f20" stroke-width="0.2">6</text>
<text x="319.2" y="189.3" font-size="5.9" text-anchor="end" fill="#231f20" stroke="#231f20" stroke-width="0.2">10</text>
<line x1="325.5" y1="219.2" x2="325.5" y2="221.7" stroke="#111" stroke-width="0.8"/>
<line x1="348.65" y1="219.2" x2="348.65" y2="221.7" stroke="#111" stroke-width="0.8"/>
<line x1="371.8" y1="219.2" x2="371.8" y2="221.7" stroke="#111" stroke-width="0.8"/>
<text x="307.3" y="59.8" font-size="8" fill="#231f20" textLength="31.3" lengthAdjust="spacingAndGlyphs" transform="rotate(-90 307.3 59.8)" stroke="#231f20" stroke-width="0.15">H3K4me3</text>
<text x="307.3" y="100.7" font-size="8" fill="#231f20" textLength="29.8" lengthAdjust="spacingAndGlyphs" transform="rotate(-90 307.3 100.7)" stroke="#231f20" stroke-width="0.15">H3K4me1</text>
<text x="307.3" y="177.6" font-size="8" fill="#231f20" textLength="31.3" lengthAdjust="spacingAndGlyphs" transform="rotate(-90 307.3 177.6)" stroke="#231f20" stroke-width="0.15">H3K4me3</text>
<text x="307.3" y="218.5" font-size="8" fill="#231f20" textLength="29.8" lengthAdjust="spacingAndGlyphs" transform="rotate(-90 307.3 218.5)" stroke="#231f20" stroke-width="0.15">H3K4me1</text>
<line x1="375.2" y1="33.6" x2="381.1" y2="33.6" stroke="#f4c040" stroke-width="1.1" stroke-dasharray="0.9 1.1"/>
<text x="384" y="32.7" font-size="5.8" fill="#231f20" textLength="29.3" lengthAdjust="spacingAndGlyphs" stroke="#231f20" stroke-width="0.2">WSU-DLCL2</text>
<text x="384" y="39.2" font-size="5.8" fill="#231f20" textLength="16.6" lengthAdjust="spacingAndGlyphs" stroke="#231f20" stroke-width="0.2">DMSO</text>
<line x1="375.2" y1="48.9" x2="381.1" y2="48.9" stroke="#e1485f" stroke-width="1.1"/>
<text x="384" y="48" font-size="5.8" fill="#231f20" textLength="29.3" lengthAdjust="spacingAndGlyphs" stroke="#231f20" stroke-width="0.2">WSU-DLCL2</text>
<text x="384" y="54.5" font-size="5.8" fill="#231f20" textLength="26.5" lengthAdjust="spacingAndGlyphs" stroke="#231f20" stroke-width="0.2">KDM5-inh1</text>
<line x1="375.2" y1="63.9" x2="381.1" y2="63.9" stroke="#75c8ee" stroke-width="1.1" stroke-dasharray="0.9 1.1"/>
<text x="384" y="63" font-size="5.8" fill="#231f20" textLength="21.5" lengthAdjust="spacingAndGlyphs" stroke="#231f20" stroke-width="0.2">WSU#22</text>
<text x="384" y="69.5" font-size="5.8" fill="#231f20" textLength="16.6" lengthAdjust="spacingAndGlyphs" stroke="#231f20" stroke-width="0.2">DMSO</text>
<line x1="375.2" y1="78.9" x2="381.1" y2="78.9" stroke="#3d6eb0" stroke-width="1.1"/>
<text x="384" y="78" font-size="5.8" fill="#231f20" textLength="21.5" lengthAdjust="spacingAndGlyphs" stroke="#231f20" stroke-width="0.2">WSU#22</text>
<text x="384" y="84.5" font-size="5.8" fill="#231f20" textLength="26.5" lengthAdjust="spacingAndGlyphs" stroke="#231f20" stroke-width="0.2">KDM5-inh1</text>
<text x="424.1" y="16.3" font-size="11.4" font-weight="bold" fill="#000">E</text>
<defs><filter id="sb" x="-5%" y="-5%" width="110%" height="110%"><feGaussianBlur stdDeviation="0.3"/></filter></defs>
<g filter="url(#sb)">
<path fill="#440154" d="M475 57h1v1h-1zM481 58h1v1h-1zM476 63h1v1h-1zM483 64h1v1h-1zM483 75h1v1h-1zM486 77h1v1h-1zM488 65h1v1h-1zM479 54h1v1h-1zM472 57h1v1h-1zM487 62h1v1h-1zM474 64h1v1h-1zM475 44h1v1h-1zM473 62h1v1h-1zM471 58h1v1h-1zM472 59h1v1h-1zM472 73h1v1h-1zM476 55h1v1h-1zM488 59h1v1h-1zM466 69h1v1h-1zM483 61h1v1h-1zM479 57h1v1h-1zM490 58h1v1h-1zM478 79h1v1h-1zM471 59h1v1h-1zM483 57h1v1h-1zM473 65h1v1h-1zM475 61h1v1h-1zM474 48h1v1h-1zM473 52h1v1h-1zM475 60h1v1h-1zM468 69h1v1h-1zM485 76h1v1h-1zM474 61h1v1h-1zM475 63h1v1h-1zM473 68h1v1h-1zM476 51h1v1h-1zM484 66h1v1h-1zM472 61h1v1h-1zM481 64h1v1h-1zM477 48h1v1h-1zM472 79h1v1h-1zM479 73h1v1h-1zM482 56h1v1h-1zM474 67h1v1h-1zM470 49h1v1h-1zM471 61h1v1h-1zM485 60h1v1h-1zM473 55h1v1h-1zM474 52h1v1h-1zM476 54h1v1h-1zM479 78h1v1h-1zM484 52h1v1h-1zM475 76h1v1h-1zM488 77h1v1h-1zM478 60h1v1h-1zM478 76h1v1h-1zM484 64h1v1h-1zM472 65h1v1h-1zM483 80h1v1h-1zM485 63h1v1h-1zM469 64h1v1h-1zM481 54h1v1h-1zM488 74h1v1h-1zM478 54h1v1h-1zM481 57h1v1h-1zM477 60h1v1h-1zM484 63h1v1h-1zM472 67h1v1h-1zM476 61h1v1h-1zM483 76h1v1h-1zM482 53h1v1h-1zM480 52h1v1h-1zM468 57h1v1h-1zM489 63h1v1h-1zM472 55h1v1h-1zM485 66h1v1h-1zM480 55h1v1h-1zM482 61h1v1h-1zM472 66h1v1h-1zM474 65h1v1h-1zM473 60h1v1h-1zM471 55h1v1h-1zM475 56h1v1h-1zM464 49h1v1h-1zM478 53h1v1h-1zM472 70h1v1h-1zM473 67h1v1h-1zM472 56h1v1h-1zM484 59h1v1h-1zM484 56h1v1h-1zM480 74h1v1h-1zM486 75h1v1h-1zM477 56h1v1h-1zM474 56h1v1h-1zM479 56h1v1h-1zM473 58h1v1h-1zM472 53h1v1h-1zM471 56h1v1h-1zM471 60h1v1h-1zM474 74h1v1h-1zM487 65h1v1h-1zM475 55h1v1h-1zM472 68h1v1h-1zM481 55h1v1h-1zM483 78h1v1h-1zM474 73h1v1h-1zM475 53h1v1h-1zM473 48h1v1h-1zM469 72h1v1h-1zM478 74h1v1h-1zM481 53h1v1h-1zM486 60h1v1h-1zM471 64h1v1h-1zM477 58h1v1h-1zM476 52h1v1h-1zM483 63h1v1h-1zM473 53h1v1h-1zM477 74h1v1h-1zM484 57h1v1h-1zM482 63h1v1h-1zM483 58h1v1h-1zM470 65h1v1h-1zM489 65h1v1h-1zM471 63h1v1h-1zM468 49h1v1h-1zM486 58h1v1h-1zM468 61h1v1h-1zM485 74h1v1h-1zM489 74h1v1h-1zM475 59h1v1h-1zM471 65h1v1h-1zM482 58h1v1h-1zM470 63h1v1h-1zM471 51h1v1h-1zM471 45h1v1h-1zM470 54h1v1h-1zM475 67h1v1h-1zM474 72h1v1h-1zM477 55h1v1h-1zM489 76h1v1h-1zM481 59h1v1h-1zM470 58h1v1h-1zM479 48h1v1h-1zM485 59h1v1h-1zM481 51h1v1h-1zM472 74h1v1h-1zM467 65h1v1h-1zM473 51h1v1h-1zM482 50h1v1h-1zM491 66h1v1h-1zM474 62h1v1h-1zM473 57h1v1h-1zM477 81h1v1h-1zM485 62h1v1h-1zM474 63h1v1h-1zM472 62h1v1h-1zM487 79h1v1h-1zM476 50h1v1h-1zM481 60h1v1h-1zM470 59h1v1h-1zM476 53h1v1h-1zM472 63h1v1h-1zM471 50h1v1h-1zM474 55h1v1h-1zM480 78h1v1h-1zM487 63h1v1h-1zM475 74h1v1h-1zM468 67h1v1h-1zM481 76h1v1h-1zM482 76h1v1h-1zM474 59h1v1h-1zM476 57h1v1h-1zM473 61h1v1h-1zM491 63h1v1h-1zM475 65h1v1h-1zM465 58h1v1h-1zM481 56h1v1h-1zM480 53h1v1h-1zM464 52h1v1h-1zM465 62h1v1h-1zM480 57h1v1h-1zM475 50h1v1h-1zM487 74h1v1h-1zM487 67h1v1h-1zM466 66h1v1h-1zM486 76h1v1h-1zM479 52h1v1h-1zM474 53h1v1h-1zM474 68h1v1h-1zM489 61h1v1h-1zM480 60h1v1h-1zM475 54h1v1h-1zM474 69h1v1h-1zM490 60h1v1h-1zM486 61h1v1h-1zM486 79h1v1h-1zM473 69h1v1h-1zM470 56h1v1h-1zM471 67h1v1h-1zM466 59h1v1h-1zM488 68h1v1h-1zM466 55h1v1h-1zM479 51h1v1h-1zM487 66h1v1h-1zM473 59h1v1h-1zM465 54h1v1h-1zM489 78h1v1h-1zM487 68h1v1h-1zM476 76h1v1h-1zM486 55h1v1h-1zM469 53h1v1h-1zM484 61h1v1h-1zM474 71h1v1h-1zM469 56h1v1h-1zM488 61h1v1h-1zM470 52h1v1h-1zM471 54h1v1h-1zM485 58h1v1h-1zM463 63h1v1h-1zM469 68h1v1h-1zM474 54h1v1h-1zM491 70h1v1h-1zM473 49h1v1h-1zM491 67h1v1h-1zM468 55h1v1h-1zM477 75h1v1h-1zM490 65h1v1h-1zM490 64h1v1h-1zM469 59h1v1h-1zM475 43h1v1h-1zM471 73h1v1h-1zM464 60h1v1h-1zM473 50h1v1h-1zM472 58h1v1h-1zM471 69h1v1h-1zM471 68h1v1h-1zM478 55h1v1h-1zM468 53h1v1h-1zM469 63h1v1h-1zM484 54h1v1h-1zM479 50h1v1h-1zM470 64h1v1h-1zM477 53h1v1h-1zM477 44h1v1h-1zM482 59h1v1h-1zM491 68h1v1h-1zM465 52h1v1h-1zM469 47h1v1h-1zM479 49h1v1h-1zM470 55h1v1h-1zM482 54h1v1h-1zM486 65h1v1h-1zM468 62h1v1h-1zM485 64h1v1h-1zM471 49h1v1h-1zM490 55h1v1h-1zM469 50h1v1h-1zM486 63h1v1h-1zM492 60h1v1h-1zM478 75h1v1h-1zM469 67h1v1h-1zM472 69h1v1h-1zM480 56h1v1h-1zM487 57h1v1h-1zM474 50h1v1h-1zM485 75h1v1h-1zM482 55h1v1h-1zM472 48h1v1h-1zM479 62h1v1h-1zM476 58h1v1h-1zM478 83h1v1h-1zM469 66h1v1h-1zM487 61h1v1h-1zM471 57h1v1h-1zM473 71h1v1h-1zM477 51h1v1h-1zM472 49h1v1h-1zM467 60h1v1h-1zM481 52h1v1h-1zM472 50h1v1h-1zM480 51h1v1h-1zM470 67h1v1h-1zM477 54h1v1h-1zM487 58h1v1h-1zM476 56h1v1h-1zM490 68h1v1h-1zM486 57h1v1h-1zM486 62h1v1h-1zM473 63h1v1h-1zM488 67h1v1h-1zM480 77h1v1h-1zM476 48h1v1h-1zM472 71h1v1h-1zM472 64h1v1h-1zM481 48h1v1h-1zM489 68h1v1h-1zM482 45h1v1h-1zM483 62h1v1h-1zM470 53h1v1h-1zM472 78h1v1h-1zM482 52h1v1h-1zM487 76h1v1h-1zM488 64h1v1h-1zM487 60h1v1h-1zM470 72h1v1h-1zM473 54h1v1h-1zM469 62h1v1h-1zM484 55h1v1h-1zM482 82h1v1h-1zM484 75h1v1h-1zM470 57h1v1h-1zM484 81h1v1h-1zM469 58h1v1h-1zM471 70h1v1h-1zM489 73h1v1h-1zM479 77h1v1h-1zM470 74h1v1h-1zM469 65h1v1h-1zM486 59h1v1h-1zM471 62h1v1h-1zM484 74h1v1h-1zM492 76h1v1h-1zM482 51h1v1h-1zM480 76h1v1h-1zM465 53h1v1h-1zM481 77h1v1h-1zM485 61h1v1h-1zM477 78h1v1h-1zM484 79h1v1h-1zM481 75h1v1h-1zM493 84h1v1h-1zM490 72h1v1h-1zM489 70h1v1h-1zM467 52h1v1h-1zM478 51h1v1h-1zM484 58h1v1h-1zM473 56h1v1h-1zM486 78h1v1h-1zM492 75h1v1h-1zM492 71h1v1h-1zM489 60h1v1h-1zM468 63h1v1h-1zM492 59h1v1h-1zM489 69h1v1h-1zM489 71h1v1h-1zM475 79h1v1h-1zM481 79h1v1h-1zM490 62h1v1h-1zM471 47h1v1h-1zM469 69h1v1h-1zM480 81h1v1h-1zM492 72h1v1h-1zM484 60h1v1h-1zM479 76h1v1h-1zM470 71h1v1h-1zM481 49h1v1h-1zM474 51h1v1h-1zM479 79h1v1h-1zM469 55h1v1h-1zM490 71h1v1h-1zM490 75h1v1h-1zM469 61h1v1h-1zM473 73h1v1h-1zM469 60h1v1h-1zM478 49h1v1h-1zM467 51h1v1h-1zM468 56h1v1h-1zM470 68h1v1h-1zM468 66h1v1h-1zM468 68h1v1h-1zM488 69h1v1h-1zM486 74h1v1h-1zM483 55h1v1h-1zM474 79h1v1h-1zM472 72h1v1h-1zM482 57h1v1h-1zM470 60h1v1h-1zM492 77h1v1h-1zM468 43h1v1h-1zM483 49h1v1h-1zM473 45h1v1h-1zM479 55h1v1h-1zM490 79h1v1h-1zM483 81h1v1h-1zM468 51h1v1h-1zM488 78h1v1h-1zM483 77h1v1h-1zM490 66h1v1h-1zM487 64h1v1h-1zM486 66h1v1h-1zM467 57h1v1h-1zM472 75h1v1h-1zM467 63h1v1h-1zM470 69h1v1h-1zM484 77h1v1h-1zM485 77h1v1h-1zM482 75h1v1h-1zM489 75h1v1h-1zM466 53h1v1h-1zM491 75h1v1h-1zM476 73h1v1h-1zM483 74h1v1h-1zM475 72h1v1h-1zM487 73h1v1h-1zM477 73h1v1h-1zM479 74h1v1h-1zM491 69h1v1h-1zM491 74h1v1h-1zM491 71h1v1h-1zM490 70h1v1h-1zM492 69h1v1h-1zM493 71h1v1h-1zM490 69h1v1h-1zM495 71h1v1h-1zM496 73h1v1h-1zM493 73h1v1h-1zM475 73h1v1h-1zM462 81h1v1h-1zM494 87h1v1h-1zM466 77h1v1h-1zM473 72h1v1h-1zM477 77h1v1h-1zM495 60h1v1h-1zM472 92h1v1h-1zM459 52h1v1h-1zM492 82h1v1h-1zM491 64h1v1h-1zM467 40h1v1h-1zM471 93h1v1h-1zM456 63h1v1h-1zM496 68h1v1h-1zM473 88h1v1h-1zM487 55h1v1h-1zM492 64h1v1h-1zM494 67h1v1h-1zM465 59h1v1h-1zM492 83h1v1h-1zM464 66h1v1h-1zM462 70h1v1h-1zM492 52h1v1h-1zM477 84h1v1h-1zM498 70h1v1h-1z"/>
<path fill="#462d7a" d="M482 73h1v1h-1zM480 75h1v1h-1zM475 62h1v1h-1zM477 62h1v1h-1zM479 60h1v1h-1zM486 67h1v1h-1zM483 60h1v1h-1zM473 64h1v1h-1zM481 62h1v1h-1zM480 61h1v1h-1zM475 66h1v1h-1zM481 65h1v1h-1zM479 59h1v1h-1zM485 65h1v1h-1zM479 63h1v1h-1zM478 57h1v1h-1zM482 66h1v1h-1zM481 61h1v1h-1zM484 67h1v1h-1zM477 61h1v1h-1zM480 54h1v1h-1zM482 74h1v1h-1zM478 73h1v1h-1zM482 62h1v1h-1zM474 58h1v1h-1zM476 72h1v1h-1zM472 60h1v1h-1zM483 65h1v1h-1zM479 58h1v1h-1zM478 63h1v1h-1zM475 58h1v1h-1zM475 64h1v1h-1zM479 64h1v1h-1zM475 70h1v1h-1zM477 59h1v1h-1zM481 73h1v1h-1zM487 70h1v1h-1zM485 67h1v1h-1zM480 59h1v1h-1zM476 71h1v1h-1zM480 63h1v1h-1zM478 56h1v1h-1zM477 57h1v1h-1zM476 59h1v1h-1zM478 64h1v1h-1zM476 62h1v1h-1zM481 74h1v1h-1zM473 70h1v1h-1zM480 64h1v1h-1zM474 60h1v1h-1zM480 62h1v1h-1zM476 60h1v1h-1zM484 65h1v1h-1zM477 65h1v1h-1zM482 65h1v1h-1zM478 59h1v1h-1zM478 62h1v1h-1zM488 73h1v1h-1zM480 65h1v1h-1zM482 64h1v1h-1zM482 60h1v1h-1zM483 59h1v1h-1zM478 58h1v1h-1zM473 66h1v1h-1zM480 58h1v1h-1zM477 67h1v1h-1zM474 57h1v1h-1zM478 61h1v1h-1zM470 62h1v1h-1zM485 73h1v1h-1zM486 73h1v1h-1zM474 66h1v1h-1zM489 72h1v1h-1zM484 62h1v1h-1zM488 71h1v1h-1zM484 73h1v1h-1zM475 71h1v1h-1zM474 70h1v1h-1zM487 69h1v1h-1zM478 72h1v1h-1zM488 70h1v1h-1zM488 72h1v1h-1z"/>
<path fill="#3c4d89" d="M483 66h1v1h-1zM483 67h1v1h-1zM475 69h1v1h-1zM480 73h1v1h-1zM478 66h1v1h-1zM487 72h1v1h-1zM486 72h1v1h-1zM476 65h1v1h-1zM481 63h1v1h-1zM480 66h1v1h-1zM477 63h1v1h-1zM478 65h1v1h-1zM487 71h1v1h-1zM483 73h1v1h-1zM477 66h1v1h-1zM480 67h1v1h-1zM481 72h1v1h-1zM479 65h1v1h-1zM486 68h1v1h-1zM477 64h1v1h-1zM479 61h1v1h-1zM481 66h1v1h-1zM478 71h1v1h-1zM476 70h1v1h-1zM477 71h1v1h-1zM486 69h1v1h-1zM476 64h1v1h-1zM477 72h1v1h-1zM485 72h1v1h-1z"/>
<path fill="#2f6b8e" d="M479 66h1v1h-1zM476 66h1v1h-1zM485 68h1v1h-1zM478 67h1v1h-1zM485 69h1v1h-1zM484 68h1v1h-1zM479 67h1v1h-1zM476 67h1v1h-1zM479 72h1v1h-1zM481 67h1v1h-1zM482 67h1v1h-1zM477 70h1v1h-1zM485 71h1v1h-1zM480 72h1v1h-1zM475 68h1v1h-1zM476 68h1v1h-1zM477 69h1v1h-1zM483 72h1v1h-1zM476 69h1v1h-1zM486 70h1v1h-1z"/>
<path fill="#25848d" d="M482 68h1v1h-1zM486 71h1v1h-1zM483 68h1v1h-1zM477 68h1v1h-1zM480 71h1v1h-1zM479 71h1v1h-1zM485 70h1v1h-1zM479 70h1v1h-1z"/>
<path fill="#20a087" d="M478 69h1v1h-1zM479 68h1v1h-1zM484 72h1v1h-1zM478 68h1v1h-1zM482 72h1v1h-1zM484 70h1v1h-1zM484 71h1v1h-1zM478 70h1v1h-1z"/>
<path fill="#38b877" d="M482 70h1v1h-1zM480 68h1v1h-1zM483 69h1v1h-1zM484 69h1v1h-1zM481 68h1v1h-1zM483 71h1v1h-1zM482 71h1v1h-1zM479 69h1v1h-1zM481 71h1v1h-1z"/>
<path fill="#6fcd57" d="M480 69h1v1h-1zM481 69h1v1h-1zM483 70h1v1h-1z"/>
<path fill="#b5de2b" d="M480 70h1v1h-1zM482 69h1v1h-1z"/>
<path fill="#fce625" d="M481 70h1v1h-1z"/>
</g>
<line x1="460.8" y1="63.7" x2="506.3" y2="76.3" stroke="#8a8a8a" stroke-width="1.1"/>
<line x1="446.4" y1="74.3" x2="513.8" y2="74.3" stroke="#111" stroke-width="1" stroke-dasharray="2.2 1.6"/>
<line x1="486.4" y1="33.2" x2="486.4" y2="99.8" stroke="#111" stroke-width="1" stroke-dasharray="2.2 1.6"/>
<rect x="446.4" y="33.2" width="67.4" height="66.6" fill="none" stroke="#111" stroke-width="1"/>
<text x="450" y="40.4" font-size="5.5" fill="#231f20" textLength="21.3" lengthAdjust="spacingAndGlyphs" stroke="#231f20" stroke-width="0.2">R = -0.22</text>
<text x="457.5" y="28.6" font-size="8" fill="#231f20" textLength="44.2" lengthAdjust="spacingAndGlyphs" stroke="#231f20" stroke-width="0.15">WSU-DLCL2</text>
<text x="431.3" y="100.1" font-size="8" fill="#231f20" textLength="66.3" lengthAdjust="spacingAndGlyphs" transform="rotate(-90 431.3 100.1)" stroke="#231f20" stroke-width="0.15">KDM5-inh1 H3K4me3</text>
<text x="440.4" y="98.8" font-size="8" fill="#231f20" textLength="63" lengthAdjust="spacingAndGlyphs" transform="rotate(-90 440.4 98.8)" stroke="#231f20" stroke-width="0.15">log2FC in WSU-DLCL2</text>
<text x="446.4" y="112.4" font-size="8.3" fill="#231f20" textLength="65.6" lengthAdjust="spacingAndGlyphs" stroke="#231f20" stroke-width="0.15">KDM5-inh1 H3K4me1</text>
<text x="447.4" y="121.1" font-size="8.3" fill="#231f20" textLength="63.9" lengthAdjust="spacingAndGlyphs" stroke="#231f20" stroke-width="0.15">log2FC in WSU-DLCL2</text>
<g filter="url(#sb)">
<path fill="#440154" d="M505 182h1v1h-1zM472 160h1v1h-1zM478 158h1v1h-1zM489 168h1v1h-1zM488 167h1v1h-1zM493 171h1v1h-1zM491 172h1v1h-1zM480 163h1v1h-1zM482 185h1v1h-1zM479 179h1v1h-1zM490 182h1v1h-1zM496 179h1v1h-1zM476 173h1v1h-1zM487 171h1v1h-1zM477 168h1v1h-1zM500 187h1v1h-1zM472 175h1v1h-1zM490 172h1v1h-1zM478 168h1v1h-1zM473 166h1v1h-1zM473 174h1v1h-1zM489 171h1v1h-1zM475 168h1v1h-1zM493 174h1v1h-1zM473 170h1v1h-1zM485 162h1v1h-1zM472 159h1v1h-1zM479 172h1v1h-1zM498 181h1v1h-1zM493 170h1v1h-1zM490 169h1v1h-1zM471 155h1v1h-1zM485 169h1v1h-1zM476 179h1v1h-1zM488 182h1v1h-1zM475 177h1v1h-1zM479 160h1v1h-1zM467 164h1v1h-1zM488 168h1v1h-1zM497 178h1v1h-1zM479 161h1v1h-1zM469 166h1v1h-1zM488 170h1v1h-1zM476 163h1v1h-1zM475 182h1v1h-1zM492 171h1v1h-1zM492 169h1v1h-1zM496 181h1v1h-1zM471 164h1v1h-1zM489 172h1v1h-1zM497 180h1v1h-1zM501 183h1v1h-1zM472 169h1v1h-1zM490 170h1v1h-1zM475 171h1v1h-1zM486 165h1v1h-1zM475 170h1v1h-1zM473 164h1v1h-1zM482 182h1v1h-1zM474 167h1v1h-1zM476 177h1v1h-1zM471 179h1v1h-1zM479 168h1v1h-1zM479 162h1v1h-1zM473 172h1v1h-1zM491 185h1v1h-1zM474 171h1v1h-1zM488 183h1v1h-1zM493 180h1v1h-1zM470 164h1v1h-1zM474 172h1v1h-1zM484 182h1v1h-1zM491 184h1v1h-1zM491 169h1v1h-1zM496 172h1v1h-1zM477 171h1v1h-1zM487 168h1v1h-1zM478 180h1v1h-1zM482 181h1v1h-1zM485 165h1v1h-1zM482 166h1v1h-1zM496 177h1v1h-1zM486 166h1v1h-1zM479 180h1v1h-1zM484 181h1v1h-1zM483 186h1v1h-1zM474 173h1v1h-1zM476 167h1v1h-1zM476 164h1v1h-1zM473 173h1v1h-1zM471 167h1v1h-1zM490 165h1v1h-1zM475 173h1v1h-1zM484 162h1v1h-1zM461 165h1v1h-1zM475 176h1v1h-1zM474 169h1v1h-1zM474 166h1v1h-1zM466 162h1v1h-1zM476 165h1v1h-1zM484 166h1v1h-1zM492 172h1v1h-1zM483 163h1v1h-1zM474 176h1v1h-1zM477 173h1v1h-1zM481 156h1v1h-1zM490 181h1v1h-1zM482 160h1v1h-1zM494 174h1v1h-1zM473 171h1v1h-1zM477 164h1v1h-1zM491 170h1v1h-1zM473 167h1v1h-1zM474 170h1v1h-1zM473 168h1v1h-1zM477 165h1v1h-1zM494 175h1v1h-1zM477 167h1v1h-1zM472 164h1v1h-1zM485 166h1v1h-1zM480 162h1v1h-1zM492 173h1v1h-1zM477 162h1v1h-1zM479 158h1v1h-1zM476 172h1v1h-1zM487 162h1v1h-1zM481 165h1v1h-1zM478 166h1v1h-1zM469 176h1v1h-1zM475 161h1v1h-1zM489 164h1v1h-1zM470 166h1v1h-1zM487 169h1v1h-1zM477 163h1v1h-1zM477 159h1v1h-1zM501 176h1v1h-1zM494 182h1v1h-1zM492 170h1v1h-1zM480 165h1v1h-1zM488 166h1v1h-1zM486 163h1v1h-1zM490 166h1v1h-1zM489 185h1v1h-1zM491 164h1v1h-1zM490 168h1v1h-1zM491 183h1v1h-1zM480 181h1v1h-1zM491 182h1v1h-1zM476 184h1v1h-1zM494 162h1v1h-1zM477 172h1v1h-1zM486 164h1v1h-1zM481 161h1v1h-1zM487 160h1v1h-1zM483 181h1v1h-1zM482 168h1v1h-1zM488 165h1v1h-1zM489 182h1v1h-1zM468 160h1v1h-1zM474 163h1v1h-1zM482 169h1v1h-1zM474 178h1v1h-1zM477 160h1v1h-1zM478 161h1v1h-1zM471 163h1v1h-1zM472 165h1v1h-1zM474 159h1v1h-1zM485 167h1v1h-1zM484 164h1v1h-1zM476 159h1v1h-1zM489 162h1v1h-1zM481 163h1v1h-1zM481 185h1v1h-1zM469 167h1v1h-1zM471 173h1v1h-1zM477 174h1v1h-1zM477 186h1v1h-1zM472 163h1v1h-1zM491 171h1v1h-1zM472 173h1v1h-1zM482 163h1v1h-1zM495 178h1v1h-1zM474 168h1v1h-1zM489 167h1v1h-1zM476 176h1v1h-1zM475 158h1v1h-1zM494 166h1v1h-1zM481 166h1v1h-1zM478 164h1v1h-1zM492 180h1v1h-1zM493 172h1v1h-1zM470 156h1v1h-1zM494 177h1v1h-1zM481 181h1v1h-1zM487 163h1v1h-1zM488 164h1v1h-1zM479 157h1v1h-1zM483 159h1v1h-1zM490 171h1v1h-1zM477 169h1v1h-1zM475 172h1v1h-1zM476 158h1v1h-1zM481 180h1v1h-1zM479 165h1v1h-1zM478 160h1v1h-1zM491 173h1v1h-1zM467 173h1v1h-1zM492 174h1v1h-1zM484 161h1v1h-1zM478 163h1v1h-1zM474 179h1v1h-1zM483 168h1v1h-1zM476 180h1v1h-1zM492 166h1v1h-1zM481 170h1v1h-1zM492 188h1v1h-1zM489 173h1v1h-1zM479 163h1v1h-1zM495 172h1v1h-1zM479 181h1v1h-1zM471 166h1v1h-1zM471 168h1v1h-1zM483 160h1v1h-1zM476 155h1v1h-1zM469 168h1v1h-1zM491 161h1v1h-1zM495 181h1v1h-1zM482 161h1v1h-1zM489 165h1v1h-1zM494 176h1v1h-1zM485 186h1v1h-1zM472 170h1v1h-1zM493 164h1v1h-1zM479 164h1v1h-1zM475 165h1v1h-1zM480 186h1v1h-1zM491 181h1v1h-1zM475 167h1v1h-1zM475 162h1v1h-1zM490 183h1v1h-1zM497 173h1v1h-1zM483 182h1v1h-1zM488 185h1v1h-1zM473 163h1v1h-1zM483 180h1v1h-1zM476 161h1v1h-1zM486 162h1v1h-1zM489 170h1v1h-1zM475 174h1v1h-1zM484 167h1v1h-1zM485 160h1v1h-1zM476 174h1v1h-1zM486 184h1v1h-1zM495 173h1v1h-1zM473 158h1v1h-1zM497 169h1v1h-1zM477 178h1v1h-1zM487 186h1v1h-1zM488 160h1v1h-1zM491 168h1v1h-1zM472 162h1v1h-1zM491 166h1v1h-1zM468 166h1v1h-1zM486 183h1v1h-1zM474 174h1v1h-1zM475 175h1v1h-1zM477 181h1v1h-1zM473 181h1v1h-1zM497 167h1v1h-1zM470 168h1v1h-1zM481 150h1v1h-1zM471 174h1v1h-1zM475 169h1v1h-1zM474 175h1v1h-1zM494 170h1v1h-1zM495 179h1v1h-1zM498 176h1v1h-1zM494 167h1v1h-1zM492 165h1v1h-1zM474 177h1v1h-1zM476 183h1v1h-1zM473 177h1v1h-1zM497 181h1v1h-1zM481 164h1v1h-1zM495 170h1v1h-1zM476 162h1v1h-1zM479 154h1v1h-1zM481 182h1v1h-1zM474 164h1v1h-1zM482 164h1v1h-1zM482 157h1v1h-1zM499 183h1v1h-1zM475 179h1v1h-1zM495 184h1v1h-1zM492 164h1v1h-1zM471 158h1v1h-1zM478 169h1v1h-1zM476 168h1v1h-1zM498 173h1v1h-1zM493 169h1v1h-1zM480 182h1v1h-1zM495 171h1v1h-1zM479 185h1v1h-1zM497 177h1v1h-1zM469 171h1v1h-1zM472 161h1v1h-1zM495 175h1v1h-1zM485 182h1v1h-1zM468 167h1v1h-1zM485 183h1v1h-1zM473 160h1v1h-1zM487 187h1v1h-1zM469 172h1v1h-1zM481 162h1v1h-1zM474 155h1v1h-1zM491 174h1v1h-1zM477 179h1v1h-1zM473 153h1v1h-1zM487 182h1v1h-1zM472 167h1v1h-1zM480 179h1v1h-1zM488 162h1v1h-1zM475 164h1v1h-1zM476 171h1v1h-1zM494 179h1v1h-1zM486 189h1v1h-1zM470 169h1v1h-1zM477 155h1v1h-1zM472 152h1v1h-1zM492 187h1v1h-1zM471 169h1v1h-1zM479 182h1v1h-1zM470 162h1v1h-1zM483 157h1v1h-1zM480 161h1v1h-1zM496 176h1v1h-1zM479 159h1v1h-1zM472 172h1v1h-1zM487 165h1v1h-1zM491 187h1v1h-1zM494 168h1v1h-1zM468 152h1v1h-1zM491 167h1v1h-1zM485 164h1v1h-1zM474 162h1v1h-1zM482 159h1v1h-1zM503 180h1v1h-1zM475 159h1v1h-1zM482 162h1v1h-1zM482 158h1v1h-1zM495 168h1v1h-1zM496 170h1v1h-1zM473 165h1v1h-1zM495 182h1v1h-1zM494 163h1v1h-1zM494 184h1v1h-1zM492 185h1v1h-1zM469 173h1v1h-1zM465 167h1v1h-1zM497 172h1v1h-1zM481 160h1v1h-1zM484 185h1v1h-1zM484 184h1v1h-1zM499 179h1v1h-1zM486 168h1v1h-1zM471 171h1v1h-1zM493 184h1v1h-1zM470 177h1v1h-1zM488 171h1v1h-1zM471 161h1v1h-1zM483 162h1v1h-1zM494 183h1v1h-1zM493 165h1v1h-1zM477 166h1v1h-1zM496 173h1v1h-1zM488 181h1v1h-1zM496 174h1v1h-1zM469 170h1v1h-1zM477 158h1v1h-1zM473 176h1v1h-1zM475 166h1v1h-1zM486 154h1v1h-1zM481 157h1v1h-1zM469 164h1v1h-1zM474 161h1v1h-1zM484 183h1v1h-1zM490 184h1v1h-1zM487 164h1v1h-1zM484 160h1v1h-1zM477 157h1v1h-1zM484 165h1v1h-1zM487 159h1v1h-1zM489 184h1v1h-1zM483 164h1v1h-1zM487 185h1v1h-1zM481 184h1v1h-1zM494 171h1v1h-1zM473 169h1v1h-1zM489 160h1v1h-1zM473 179h1v1h-1zM480 183h1v1h-1zM480 184h1v1h-1zM485 184h1v1h-1zM472 166h1v1h-1zM494 172h1v1h-1zM493 179h1v1h-1zM485 189h1v1h-1zM490 167h1v1h-1zM489 166h1v1h-1zM490 185h1v1h-1zM483 184h1v1h-1zM470 165h1v1h-1zM484 159h1v1h-1zM504 179h1v1h-1zM494 181h1v1h-1zM468 162h1v1h-1zM496 183h1v1h-1zM495 164h1v1h-1zM497 176h1v1h-1zM483 161h1v1h-1zM465 160h1v1h-1zM489 183h1v1h-1zM488 161h1v1h-1zM473 162h1v1h-1zM476 154h1v1h-1zM496 168h1v1h-1zM497 182h1v1h-1zM500 180h1v1h-1zM474 165h1v1h-1zM496 178h1v1h-1zM494 169h1v1h-1zM478 162h1v1h-1zM493 183h1v1h-1zM502 170h1v1h-1zM477 177h1v1h-1zM493 181h1v1h-1zM485 185h1v1h-1zM494 180h1v1h-1zM473 175h1v1h-1zM500 178h1v1h-1zM473 178h1v1h-1zM492 181h1v1h-1zM471 175h1v1h-1zM495 180h1v1h-1zM478 178h1v1h-1zM495 176h1v1h-1zM488 184h1v1h-1zM498 175h1v1h-1zM478 179h1v1h-1zM480 180h1v1h-1zM494 173h1v1h-1zM500 177h1v1h-1zM486 182h1v1h-1zM498 180h1v1h-1zM493 182h1v1h-1zM497 179h1v1h-1zM497 175h1v1h-1zM495 177h1v1h-1zM496 180h1v1h-1zM476 193h1v1h-1zM471 177h1v1h-1zM469 180h1v1h-1zM458 183h1v1h-1zM500 154h1v1h-1zM459 201h1v1h-1zM476 185h1v1h-1zM462 179h1v1h-1zM482 184h1v1h-1zM490 161h1v1h-1zM499 182h1v1h-1zM499 176h1v1h-1zM469 154h1v1h-1zM481 158h1v1h-1zM498 183h1v1h-1zM495 174h1v1h-1zM477 190h1v1h-1zM487 193h1v1h-1zM494 196h1v1h-1zM462 176h1v1h-1zM470 195h1v1h-1z"/>
<path fill="#462d7a" d="M486 172h1v1h-1zM480 166h1v1h-1zM488 172h1v1h-1zM476 169h1v1h-1zM477 175h1v1h-1zM480 164h1v1h-1zM479 175h1v1h-1zM487 167h1v1h-1zM479 166h1v1h-1zM487 181h1v1h-1zM479 171h1v1h-1zM478 177h1v1h-1zM476 175h1v1h-1zM482 165h1v1h-1zM482 171h1v1h-1zM489 169h1v1h-1zM483 166h1v1h-1zM484 170h1v1h-1zM478 171h1v1h-1zM478 172h1v1h-1zM485 168h1v1h-1zM492 177h1v1h-1zM480 174h1v1h-1zM484 168h1v1h-1zM480 169h1v1h-1zM476 166h1v1h-1zM480 172h1v1h-1zM479 167h1v1h-1zM479 176h1v1h-1zM494 178h1v1h-1zM480 171h1v1h-1zM480 178h1v1h-1zM487 170h1v1h-1zM488 169h1v1h-1zM481 167h1v1h-1zM486 171h1v1h-1zM493 175h1v1h-1zM476 170h1v1h-1zM479 169h1v1h-1zM482 180h1v1h-1zM493 173h1v1h-1zM478 173h1v1h-1zM478 167h1v1h-1zM483 165h1v1h-1zM479 173h1v1h-1zM479 174h1v1h-1zM479 177h1v1h-1zM478 165h1v1h-1zM491 179h1v1h-1zM480 167h1v1h-1zM485 170h1v1h-1zM491 180h1v1h-1zM492 175h1v1h-1zM485 171h1v1h-1zM493 178h1v1h-1zM478 170h1v1h-1zM483 167h1v1h-1zM478 174h1v1h-1zM493 176h1v1h-1zM486 167h1v1h-1zM484 172h1v1h-1zM481 169h1v1h-1zM477 170h1v1h-1zM486 181h1v1h-1zM491 175h1v1h-1zM482 167h1v1h-1zM488 180h1v1h-1zM484 180h1v1h-1zM480 168h1v1h-1zM485 181h1v1h-1zM478 175h1v1h-1zM493 177h1v1h-1zM482 179h1v1h-1zM486 169h1v1h-1zM478 176h1v1h-1zM479 178h1v1h-1zM485 180h1v1h-1zM489 180h1v1h-1z"/>
<path fill="#3c4d89" d="M486 170h1v1h-1zM481 168h1v1h-1zM481 172h1v1h-1zM480 175h1v1h-1zM482 170h1v1h-1zM489 175h1v1h-1zM484 171h1v1h-1zM483 171h1v1h-1zM480 170h1v1h-1zM479 170h1v1h-1zM487 172h1v1h-1zM484 169h1v1h-1zM481 171h1v1h-1zM485 173h1v1h-1zM483 179h1v1h-1zM483 172h1v1h-1zM486 173h1v1h-1zM481 179h1v1h-1zM477 176h1v1h-1zM482 173h1v1h-1zM483 169h1v1h-1zM488 173h1v1h-1zM492 179h1v1h-1zM492 176h1v1h-1zM488 174h1v1h-1zM487 180h1v1h-1zM490 180h1v1h-1zM485 172h1v1h-1zM490 177h1v1h-1zM490 174h1v1h-1zM490 173h1v1h-1zM489 181h1v1h-1zM490 179h1v1h-1zM487 173h1v1h-1zM489 174h1v1h-1zM480 177h1v1h-1zM492 178h1v1h-1z"/>
<path fill="#2f6b8e" d="M483 170h1v1h-1zM484 173h1v1h-1zM490 175h1v1h-1zM483 174h1v1h-1zM483 173h1v1h-1zM480 173h1v1h-1zM482 172h1v1h-1zM481 175h1v1h-1zM485 179h1v1h-1zM484 179h1v1h-1zM481 174h1v1h-1zM480 176h1v1h-1zM491 176h1v1h-1zM486 180h1v1h-1zM482 178h1v1h-1zM484 174h1v1h-1zM489 179h1v1h-1zM488 175h1v1h-1z"/>
<path fill="#25848d" d="M482 174h1v1h-1zM490 176h1v1h-1zM481 178h1v1h-1zM481 173h1v1h-1zM483 178h1v1h-1zM490 178h1v1h-1zM481 176h1v1h-1zM485 174h1v1h-1zM487 174h1v1h-1zM481 177h1v1h-1zM491 178h1v1h-1zM491 177h1v1h-1zM488 179h1v1h-1z"/>
<path fill="#20a087" d="M482 175h1v1h-1zM487 179h1v1h-1zM486 174h1v1h-1zM487 178h1v1h-1zM483 175h1v1h-1zM489 177h1v1h-1zM487 176h1v1h-1zM487 175h1v1h-1zM486 179h1v1h-1zM482 176h1v1h-1zM485 175h1v1h-1zM489 176h1v1h-1z"/>
<path fill="#38b877" d="M484 175h1v1h-1zM484 177h1v1h-1zM489 178h1v1h-1zM482 177h1v1h-1zM483 177h1v1h-1zM488 178h1v1h-1zM485 177h1v1h-1zM488 177h1v1h-1zM484 178h1v1h-1z"/>
<path fill="#6fcd57" d="M486 177h1v1h-1zM486 175h1v1h-1z"/>
<path fill="#b5de2b" d="M484 176h1v1h-1zM486 178h1v1h-1zM486 176h1v1h-1zM488 176h1v1h-1zM487 177h1v1h-1z"/>
<path fill="#fce625" d="M485 178h1v1h-1zM483 176h1v1h-1zM485 176h1v1h-1z"/>
</g>
<line x1="459.5" y1="167.8" x2="487" y2="178" stroke="#8a8a8a" stroke-width="1.1"/>
<line x1="446.4" y1="182.1" x2="513.8" y2="182.1" stroke="#111" stroke-width="1" stroke-dasharray="2.2 1.6"/>
<line x1="486.4" y1="141.3" x2="486.4" y2="208.1" stroke="#111" stroke-width="1" stroke-dasharray="2.2 1.6"/>
<rect x="446.4" y="141.3" width="67.4" height="66.8" fill="none" stroke="#111" stroke-width="1"/>
<text x="450" y="148.5" font-size="5.5" fill="#231f20" textLength="21.3" lengthAdjust="spacingAndGlyphs" stroke="#231f20" stroke-width="0.2">R = -0.29</text>
<text x="464.2" y="136.7" font-size="8" fill="#231f20" textLength="30.8" lengthAdjust="spacingAndGlyphs" stroke="#231f20" stroke-width="0.15">WSU#22</text>
<text x="431.3" y="208.4" font-size="8" fill="#231f20" textLength="66.3" lengthAdjust="spacingAndGlyphs" transform="rotate(-90 431.3 208.4)" stroke="#231f20" stroke-width="0.15">KDM5-inh1 H3K4me3</text>
<text x="440.4" y="202.1" font-size="8" fill="#231f20" textLength="54.8" lengthAdjust="spacingAndGlyphs" transform="rotate(-90 440.4 202.1)" stroke="#231f20" stroke-width="0.15">log2FC in WSU#22</text>
<text x="446.4" y="220.7" font-size="8.3" fill="#231f20" textLength="65.6" lengthAdjust="spacingAndGlyphs" stroke="#231f20" stroke-width="0.15">KDM5-inh1 H3K4me1</text>
<text x="451.7" y="229.4" font-size="8.3" fill="#231f20" textLength="54.8" lengthAdjust="spacingAndGlyphs" stroke="#231f20" stroke-width="0.15">log2FC in WSU#22</text>
<text x="7.6" y="250.8" font-size="11.4" font-weight="bold" fill="#000">F</text>
<text x="50" y="257.3" font-size="8" fill="#231f20" textLength="35.4" lengthAdjust="spacingAndGlyphs" stroke="#231f20" stroke-width="0.15">SU-DHL-6</text>
<text x="126.2" y="257.6" font-size="8" fill="#231f20" textLength="35.4" lengthAdjust="spacingAndGlyphs" stroke="#231f20" stroke-width="0.15">OCI-LY-18</text>
<text x="214.6" y="257.6" font-size="8" fill="#231f20" textLength="10.4" lengthAdjust="spacingAndGlyphs" stroke="#231f20" stroke-width="0.15">HT</text>
<path fill="#e2506e" opacity="0.75" d="M65.05 296.92h0.76v0.76h-0.76zM65.86 288.12h0.76v0.76h-0.76zM65.6 289.11h0.76v0.76h-0.76zM62.26 305.06h0.76v0.76h-0.76zM66.55 300.16h0.76v0.76h-0.76zM66.35 309.42h0.76v0.76h-0.76zM64.32 308.49h0.76v0.76h-0.76zM64.68 302.4h0.76v0.76h-0.76zM62.18 308.77h0.76v0.76h-0.76zM63.43 289.4h0.76v0.76h-0.76zM65.72 309.19h0.76v0.76h-0.76zM65.87 309.3h0.76v0.76h-0.76zM65.02 309.36h0.76v0.76h-0.76zM62.13 291.52h0.76v0.76h-0.76zM63.1 308.78h0.76v0.76h-0.76zM66.74 291.48h0.76v0.76h-0.76zM63.48 287.15h0.76v0.76h-0.76zM64.65 299.21h0.76v0.76h-0.76zM63.08 288.19h0.76v0.76h-0.76zM65.37 286.89h0.76v0.76h-0.76zM66.32 307.9h0.76v0.76h-0.76zM63.82 309.15h0.76v0.76h-0.76zM62.8 309.56h0.76v0.76h-0.76zM63.54 301.57h0.76v0.76h-0.76zM62.14 299.2h0.76v0.76h-0.76zM63.71 307.76h0.76v0.76h-0.76zM65.97 304.73h0.76v0.76h-0.76zM63.6 304.72h0.76v0.76h-0.76zM65.43 309.58h0.76v0.76h-0.76zM66.7 309.61h0.76v0.76h-0.76zM65.64 292.71h0.76v0.76h-0.76zM62.2 295.13h0.76v0.76h-0.76zM63.84 302.27h0.76v0.76h-0.76zM62.16 309.59h0.76v0.76h-0.76zM62.97 287.47h0.76v0.76h-0.76zM63.04 296.39h0.76v0.76h-0.76zM66.49 288.14h0.76v0.76h-0.76zM63.74 307.11h0.76v0.76h-0.76zM64.59 295.61h0.76v0.76h-0.76zM62.63 296.67h0.76v0.76h-0.76zM73.64 292.41h0.76v0.76h-0.76zM68.09 288.39h0.76v0.76h-0.76zM68.49 307.37h0.76v0.76h-0.76zM72.28 289.73h0.76v0.76h-0.76zM70.3 289.44h0.76v0.76h-0.76zM71.8 307.76h0.76v0.76h-0.76zM70.13 309.09h0.76v0.76h-0.76zM68.39 309.26h0.76v0.76h-0.76zM72.85 285.79h0.76v0.76h-0.76zM69 309.59h0.76v0.76h-0.76zM75.02 303.59h0.76v0.76h-0.76zM70.78 308.61h0.76v0.76h-0.76zM72.16 293.85h0.76v0.76h-0.76zM71.15 306.03h0.76v0.76h-0.76zM68.23 289.83h0.76v0.76h-0.76zM68.06 304.54h0.76v0.76h-0.76zM73.94 309.35h0.76v0.76h-0.76zM73.16 288.19h0.76v0.76h-0.76zM72.42 295.41h0.76v0.76h-0.76zM68.6 305.78h0.76v0.76h-0.76zM68.91 293.06h0.76v0.76h-0.76zM69.97 305.41h0.76v0.76h-0.76zM75.11 292.74h0.76v0.76h-0.76zM74.94 305.41h0.76v0.76h-0.76zM71.38 297.63h0.76v0.76h-0.76zM71.32 308.03h0.76v0.76h-0.76zM70.77 309.27h0.76v0.76h-0.76zM70.57 286.23h0.76v0.76h-0.76zM74.83 301.03h0.76v0.76h-0.76zM71.47 307.41h0.76v0.76h-0.76zM68.47 308.25h0.76v0.76h-0.76zM73.53 292.07h0.76v0.76h-0.76zM70.46 295.49h0.76v0.76h-0.76zM73.48 298.85h0.76v0.76h-0.76zM72.67 296.51h0.76v0.76h-0.76zM70.47 298.52h0.76v0.76h-0.76zM69.87 304.72h0.76v0.76h-0.76zM73.44 298.98h0.76v0.76h-0.76zM69.97 288.4h0.76v0.76h-0.76zM72.56 302.36h0.76v0.76h-0.76zM67.9 303.26h0.76v0.76h-0.76zM69.65 299.62h0.76v0.76h-0.76zM71.2 294.25h0.76v0.76h-0.76zM72.55 295.03h0.76v0.76h-0.76zM70.36 300.5h0.76v0.76h-0.76zM73.21 293.77h0.76v0.76h-0.76zM70.38 293.14h0.76v0.76h-0.76zM74.17 299.07h0.76v0.76h-0.76zM74.95 287.86h0.76v0.76h-0.76zM71.6 303.7h0.76v0.76h-0.76zM69.03 293.41h0.76v0.76h-0.76zM74.66 304.91h0.76v0.76h-0.76zM72.87 297.98h0.76v0.76h-0.76zM73.15 309.12h0.76v0.76h-0.76zM73.52 302.36h0.76v0.76h-0.76zM71.59 308.45h0.76v0.76h-0.76zM70.59 302.46h0.76v0.76h-0.76zM70.9 303.73h0.76v0.76h-0.76zM56.28 309.97h0.76v0.76h-0.76zM66.21 305.18h0.76v0.76h-0.76zM60.88 304.47h0.76v0.76h-0.76zM70.76 310.11h0.76v0.76h-0.76zM66.94 309.77h0.76v0.76h-0.76zM56.92 310.03h0.76v0.76h-0.76zM63.24 309.92h0.76v0.76h-0.76zM60.26 310.12h0.76v0.76h-0.76zM66.79 308.83h0.76v0.76h-0.76zM70.3 306.24h0.76v0.76h-0.76zM61.33 298.88h0.76v0.76h-0.76zM55.64 308.6h0.76v0.76h-0.76zM62.3 308.56h0.76v0.76h-0.76zM58.38 300.98h0.76v0.76h-0.76zM64.59 310.12h0.76v0.76h-0.76zM70.35 310.08h0.76v0.76h-0.76zM68.71 309.15h0.76v0.76h-0.76zM69.56 297.08h0.76v0.76h-0.76zM75.26 308.47h0.76v0.76h-0.76zM75.13 305.33h0.76v0.76h-0.76zM64.49 310.01h0.76v0.76h-0.76zM69.92 306.66h0.76v0.76h-0.76z"/>
<path d="M63.6 310.5 L64.6 306 L65.2 303.6 L65.8 306 L66.8 310.5" fill="#d4143c"/>
<path d="M68.7 310.5 L69.3 305.5 L70.2 302.5 L71.8 303.5 L73.2 306.5 L74.7 310.5" fill="#d4143c"/>
<path fill="#d4143c" d="M66.86 301h0.9v0.9h-0.9zM65.29 308.07h0.9v0.9h-0.9zM66.57 310.05h0.9v0.9h-0.9zM63.04 306.01h0.9v0.9h-0.9zM65.32 309.55h0.9v0.9h-0.9zM65.38 302.06h0.9v0.9h-0.9zM64.24 307.36h0.9v0.9h-0.9zM63.57 308.55h0.9v0.9h-0.9zM66.93 307.83h0.9v0.9h-0.9zM66.88 301.75h0.9v0.9h-0.9zM65.23 308.79h0.9v0.9h-0.9zM66.96 306.73h0.9v0.9h-0.9zM64.42 308.34h0.9v0.9h-0.9zM66.98 306.77h0.9v0.9h-0.9zM63.84 306.92h0.9v0.9h-0.9zM63.1 305.39h0.9v0.9h-0.9zM64.55 308.54h0.9v0.9h-0.9zM66.07 302.91h0.9v0.9h-0.9zM62.61 306.36h0.9v0.9h-0.9zM63.78 301.46h0.9v0.9h-0.9zM66.07 308.89h0.9v0.9h-0.9zM63.75 309.47h0.9v0.9h-0.9zM67 308.54h0.9v0.9h-0.9zM65.29 306.94h0.9v0.9h-0.9zM65.45 305.59h0.9v0.9h-0.9zM65.9 309.66h0.9v0.9h-0.9zM65.97 308.48h0.9v0.9h-0.9zM64.95 308.2h0.9v0.9h-0.9zM63.89 306.39h0.9v0.9h-0.9zM64.64 307.99h0.9v0.9h-0.9zM65.9 305.74h0.9v0.9h-0.9zM62.71 308.85h0.9v0.9h-0.9zM64.6 301.71h0.9v0.9h-0.9zM66.55 306.22h0.9v0.9h-0.9zM62.62 303.53h0.9v0.9h-0.9zM64.47 305.9h0.9v0.9h-0.9zM65.74 305.27h0.9v0.9h-0.9zM64.72 301.78h0.9v0.9h-0.9zM64.28 307.72h0.9v0.9h-0.9zM66.38 309.22h0.9v0.9h-0.9zM69.98 302.11h0.9v0.9h-0.9zM68.33 302.02h0.9v0.9h-0.9zM72.85 307.06h0.9v0.9h-0.9zM69.91 302.81h0.9v0.9h-0.9zM74.41 309.48h0.9v0.9h-0.9zM71.29 305.78h0.9v0.9h-0.9zM71.43 308.05h0.9v0.9h-0.9zM68.96 305.34h0.9v0.9h-0.9zM73.7 309.86h0.9v0.9h-0.9zM69.51 302.26h0.9v0.9h-0.9zM73.55 304.37h0.9v0.9h-0.9zM68.03 303.6h0.9v0.9h-0.9zM74.9 299.58h0.9v0.9h-0.9zM72.9 309.94h0.9v0.9h-0.9zM73.91 308.97h0.9v0.9h-0.9zM72.5 300.29h0.9v0.9h-0.9zM72.98 309.53h0.9v0.9h-0.9zM69.96 300.81h0.9v0.9h-0.9zM68.93 305.04h0.9v0.9h-0.9zM70.83 309.37h0.9v0.9h-0.9zM72.33 309.95h0.9v0.9h-0.9zM68.63 307.6h0.9v0.9h-0.9zM68.37 309.9h0.9v0.9h-0.9zM71.99 303.33h0.9v0.9h-0.9zM74.17 309.53h0.9v0.9h-0.9zM70.96 308.2h0.9v0.9h-0.9zM72.17 306.45h0.9v0.9h-0.9zM74.61 307.65h0.9v0.9h-0.9zM68.25 303.94h0.9v0.9h-0.9zM68.94 304.78h0.9v0.9h-0.9zM71.49 300.93h0.9v0.9h-0.9zM71.85 304.91h0.9v0.9h-0.9zM69.75 305.75h0.9v0.9h-0.9zM69.68 303.22h0.9v0.9h-0.9zM71.57 309.54h0.9v0.9h-0.9zM69.54 307.68h0.9v0.9h-0.9zM73.15 309.25h0.9v0.9h-0.9zM72.99 304.48h0.9v0.9h-0.9zM68.46 304.32h0.9v0.9h-0.9zM68.51 309.59h0.9v0.9h-0.9zM72.13 308.83h0.9v0.9h-0.9zM74.16 306.55h0.9v0.9h-0.9zM70.18 302.59h0.9v0.9h-0.9zM68.06 303.57h0.9v0.9h-0.9zM68.24 309.44h0.9v0.9h-0.9zM74.7 304.15h0.9v0.9h-0.9zM69.46 309.63h0.9v0.9h-0.9zM74.85 304.36h0.9v0.9h-0.9zM73.76 309.5h0.9v0.9h-0.9zM72.35 307.84h0.9v0.9h-0.9zM69.54 308.03h0.9v0.9h-0.9zM72.27 307.89h0.9v0.9h-0.9zM70.63 309.52h0.9v0.9h-0.9zM73.83 304.57h0.9v0.9h-0.9zM73.64 307.05h0.9v0.9h-0.9zM73.98 306.14h0.9v0.9h-0.9zM72.12 305.49h0.9v0.9h-0.9zM73.18 307.44h0.9v0.9h-0.9zM68.55 309.99h0.9v0.9h-0.9zM69.31 309.97h0.9v0.9h-0.9z"/>
<path d="M54 311 L60 310.3 L63.5 309.6 L66.5 308.8 L67.7 310.6 L69 308.8 L73 309.4 L78 310.3 L82 311" fill="#000"/>
<line x1="42.4" y1="257.8" x2="42.4" y2="311.4" stroke="#000" stroke-width="1"/>
<line x1="41.9" y1="310.9" x2="96" y2="310.9" stroke="#000" stroke-width="1.1"/>
<line x1="39.5" y1="310.9" x2="42.4" y2="310.9" stroke="#000" stroke-width="0.9"/>
<text x="36.8" y="313" font-size="6.1" text-anchor="end" fill="#231f20" stroke="#231f20" stroke-width="0.2">0</text>
<line x1="39.5" y1="300.7" x2="42.4" y2="300.7" stroke="#000" stroke-width="0.9"/>
<text x="36.8" y="302.8" font-size="6.1" text-anchor="end" fill="#231f20" stroke="#231f20" stroke-width="0.2">10</text>
<line x1="39.5" y1="290.6" x2="42.4" y2="290.6" stroke="#000" stroke-width="0.9"/>
<text x="36.8" y="292.7" font-size="6.1" text-anchor="end" fill="#231f20" stroke="#231f20" stroke-width="0.2">20</text>
<line x1="39.5" y1="280.4" x2="42.4" y2="280.4" stroke="#000" stroke-width="0.9"/>
<text x="36.8" y="282.5" font-size="6.1" text-anchor="end" fill="#231f20" stroke="#231f20" stroke-width="0.2">30</text>
<line x1="39.5" y1="270.3" x2="42.4" y2="270.3" stroke="#000" stroke-width="0.9"/>
<text x="36.8" y="272.4" font-size="6.1" text-anchor="end" fill="#231f20" stroke="#231f20" stroke-width="0.2">40</text>
<line x1="39.5" y1="260.1" x2="42.4" y2="260.1" stroke="#000" stroke-width="0.9"/>
<text x="36.8" y="262.2" font-size="6.1" text-anchor="end" fill="#231f20" stroke="#231f20" stroke-width="0.2">50</text>
<line x1="42.4" y1="310.9" x2="42.4" y2="313.2" stroke="#000" stroke-width="0.9"/>
<text x="42.4" y="322.4" font-size="5.8" text-anchor="middle" fill="#231f20" stroke="#231f20" stroke-width="0.2">-8</text>
<line x1="55" y1="310.9" x2="55" y2="313.2" stroke="#000" stroke-width="0.9"/>
<text x="55" y="322.4" font-size="5.8" text-anchor="middle" fill="#231f20" stroke="#231f20" stroke-width="0.2">-4</text>
<line x1="67.7" y1="310.9" x2="67.7" y2="313.2" stroke="#000" stroke-width="0.9"/>
<text x="67.7" y="322.4" font-size="5.8" text-anchor="middle" fill="#231f20" stroke="#231f20" stroke-width="0.2">0</text>
<line x1="80.4" y1="310.9" x2="80.4" y2="313.2" stroke="#000" stroke-width="0.9"/>
<text x="80.4" y="322.4" font-size="5.8" text-anchor="middle" fill="#231f20" stroke="#231f20" stroke-width="0.2">4</text>
<line x1="93" y1="310.9" x2="93" y2="313.2" stroke="#000" stroke-width="0.9"/>
<text x="93" y="322.4" font-size="5.8" text-anchor="middle" fill="#231f20" stroke="#231f20" stroke-width="0.2">8</text>
<line x1="62.6" y1="295.5" x2="53.7" y2="297.1" stroke="#222" stroke-width="0.6"/>
<circle cx="64" cy="295.3" r="1.35" fill="none" stroke="#111" stroke-width="0.6"/>
<text x="44.5" y="301.2" font-size="4.8" font-style="italic" fill="#333" textLength="9.5" lengthAdjust="spacingAndGlyphs">BCL2</text>
<line x1="72.3" y1="294.1" x2="82.6" y2="292.1" stroke="#222" stroke-width="0.6"/>
<circle cx="70.9" cy="294.4" r="1.35" fill="none" stroke="#111" stroke-width="0.6"/>
<text x="82.9" y="293.6" font-size="4.8" font-style="italic" fill="#333" textLength="8" lengthAdjust="spacingAndGlyphs">LCK</text>
<line x1="72" y1="302.7" x2="81.9" y2="300.8" stroke="#222" stroke-width="0.6"/>
<circle cx="70.6" cy="303.1" r="1.35" fill="none" stroke="#111" stroke-width="0.6"/>
<text x="82.2" y="302.6" font-size="4.8" font-style="italic" fill="#333" textLength="11.6" lengthAdjust="spacingAndGlyphs">FCRL5</text>
<path fill="#e2506e" opacity="0.75" d="M159.44 306.6h0.8v0.8h-0.8zM157.51 310.1h0.8v0.8h-0.8zM153.15 301.29h0.8v0.8h-0.8zM155.39 307.15h0.8v0.8h-0.8zM153.08 309.77h0.8v0.8h-0.8zM148.42 309.43h0.8v0.8h-0.8zM151.72 307.59h0.8v0.8h-0.8zM159.31 309.48h0.8v0.8h-0.8zM149.91 308.57h0.8v0.8h-0.8zM148.52 308.49h0.8v0.8h-0.8zM149.63 306.59h0.8v0.8h-0.8zM146.58 300.77h0.8v0.8h-0.8zM151.63 300.56h0.8v0.8h-0.8zM156.42 304.29h0.8v0.8h-0.8zM153.18 300.45h0.8v0.8h-0.8zM147.87 304.36h0.8v0.8h-0.8zM150.47 304.28h0.8v0.8h-0.8zM157.04 309.41h0.8v0.8h-0.8zM149.12 310.06h0.8v0.8h-0.8zM149.56 309.87h0.8v0.8h-0.8zM152.12 300.01h0.8v0.8h-0.8zM151.56 308.27h0.8v0.8h-0.8zM153.12 308.52h0.8v0.8h-0.8zM157.09 303.71h0.8v0.8h-0.8zM148.55 308.86h0.8v0.8h-0.8zM156.18 300.52h0.8v0.8h-0.8zM155.79 307.13h0.8v0.8h-0.8zM160.73 310.09h0.8v0.8h-0.8zM147.01 302.88h0.8v0.8h-0.8zM152.25 310h0.8v0.8h-0.8zM154.33 299.76h0.8v0.8h-0.8zM153.88 307.93h0.8v0.8h-0.8zM147.51 309.9h0.8v0.8h-0.8zM159.58 306.49h0.8v0.8h-0.8zM160.14 309.97h0.8v0.8h-0.8zM149.75 309.98h0.8v0.8h-0.8zM152.06 309.95h0.8v0.8h-0.8zM149.93 307.37h0.8v0.8h-0.8zM150.69 309.98h0.8v0.8h-0.8zM146.66 300.04h0.8v0.8h-0.8zM148.79 306.29h0.8v0.8h-0.8zM152.14 306.03h0.8v0.8h-0.8zM147.37 308.25h0.8v0.8h-0.8zM147.72 305.91h0.8v0.8h-0.8zM159.92 305.24h0.8v0.8h-0.8zM131.3 275.4h0.8v0.8h-0.8zM159.4 264.8h0.8v0.8h-0.8zM167.9 275.9h0.8v0.8h-0.8zM148.9 295.9h0.8v0.8h-0.8zM135.9 299.9h0.8v0.8h-0.8zM139.1 306.1h0.8v0.8h-0.8z"/>
<path fill="#d4143c" d="M150.76 309.37h0.9v0.9h-0.9zM146.15 307.81h0.9v0.9h-0.9zM148.73 307.63h0.9v0.9h-0.9zM148.12 307.34h0.9v0.9h-0.9zM150.04 305.61h0.9v0.9h-0.9zM147.74 308.28h0.9v0.9h-0.9zM150.6 309.34h0.9v0.9h-0.9zM146.69 308.95h0.9v0.9h-0.9zM146.53 306.48h0.9v0.9h-0.9zM150.56 308.95h0.9v0.9h-0.9zM146.76 309.86h0.9v0.9h-0.9zM147.4 309.85h0.9v0.9h-0.9z"/>
<path d="M128 311.2 L135 310.8 L137.5 310.2 L139 309 L140.5 310 L141.5 311 L145 310.6 L146.8 309.2 L150 308.6 L153.5 309.3 L156 310.4 L163 311.2" fill="#000"/>
<line x1="118.8" y1="258.3" x2="118.8" y2="311.7" stroke="#000" stroke-width="1"/>
<line x1="118.3" y1="311.2" x2="171.2" y2="311.2" stroke="#000" stroke-width="1.1"/>
<line x1="115.9" y1="311.2" x2="118.8" y2="311.2" stroke="#000" stroke-width="0.9"/>
<text x="113.2" y="313.3" font-size="6.1" text-anchor="end" fill="#231f20" stroke="#231f20" stroke-width="0.2">0</text>
<line x1="115.9" y1="298.5" x2="118.8" y2="298.5" stroke="#000" stroke-width="0.9"/>
<text x="113.2" y="300.6" font-size="6.1" text-anchor="end" fill="#231f20" stroke="#231f20" stroke-width="0.2">5</text>
<line x1="115.9" y1="285.8" x2="118.8" y2="285.8" stroke="#000" stroke-width="0.9"/>
<text x="113.2" y="287.9" font-size="6.1" text-anchor="end" fill="#231f20" stroke="#231f20" stroke-width="0.2">10</text>
<line x1="115.9" y1="273.1" x2="118.8" y2="273.1" stroke="#000" stroke-width="0.9"/>
<text x="113.2" y="275.2" font-size="6.1" text-anchor="end" fill="#231f20" stroke="#231f20" stroke-width="0.2">15</text>
<line x1="115.9" y1="260.4" x2="118.8" y2="260.4" stroke="#000" stroke-width="0.9"/>
<text x="113.2" y="262.5" font-size="6.1" text-anchor="end" fill="#231f20" stroke="#231f20" stroke-width="0.2">20</text>
<line x1="118.8" y1="311.2" x2="118.8" y2="313.5" stroke="#000" stroke-width="0.9"/>
<text x="118.8" y="322.7" font-size="5.8" text-anchor="middle" fill="#231f20" stroke="#231f20" stroke-width="0.2">-4</text>
<line x1="144.3" y1="311.2" x2="144.3" y2="313.5" stroke="#000" stroke-width="0.9"/>
<text x="144.3" y="322.7" font-size="5.8" text-anchor="middle" fill="#231f20" stroke="#231f20" stroke-width="0.2">0</text>
<line x1="169.4" y1="311.2" x2="169.4" y2="313.5" stroke="#000" stroke-width="0.9"/>
<text x="169.4" y="322.7" font-size="5.8" text-anchor="middle" fill="#231f20" stroke="#231f20" stroke-width="0.2">4</text>
<line x1="134.7" y1="306.1" x2="128.8" y2="305.8" stroke="#222" stroke-width="0.6"/>
<circle cx="136.1" cy="306.1" r="1.35" fill="none" stroke="#111" stroke-width="0.6"/>
<text x="119.6" y="305" font-size="4.8" font-style="italic" fill="#333" textLength="9" lengthAdjust="spacingAndGlyphs">BCL2</text>
<path fill="#e2506e" opacity="0.8" d="M214.67 302.01h0.8v0.8h-0.8zM213.57 308.71h0.8v0.8h-0.8zM216.3 308.82h0.8v0.8h-0.8zM213.3 306.25h0.8v0.8h-0.8zM214.34 308.39h0.8v0.8h-0.8zM214.62 305.88h0.8v0.8h-0.8zM216.61 302.34h0.8v0.8h-0.8zM217.48 300.75h0.8v0.8h-0.8zM216.66 302.04h0.8v0.8h-0.8zM214.75 297.95h0.8v0.8h-0.8zM216.03 295.45h0.8v0.8h-0.8zM216.47 299.96h0.8v0.8h-0.8zM213.71 298.04h0.8v0.8h-0.8zM214.39 308.08h0.8v0.8h-0.8zM212.5 307.66h0.8v0.8h-0.8zM213.68 300.39h0.8v0.8h-0.8zM213.81 308.7h0.8v0.8h-0.8zM216.68 302.32h0.8v0.8h-0.8zM221.04 308.84h0.8v0.8h-0.8zM221.95 305.82h0.8v0.8h-0.8zM228.37 297.42h0.8v0.8h-0.8zM226.19 307.24h0.8v0.8h-0.8zM224.57 305.76h0.8v0.8h-0.8zM223.71 309.06h0.8v0.8h-0.8zM225.94 299.34h0.8v0.8h-0.8zM227.2 308.51h0.8v0.8h-0.8zM225.47 307.84h0.8v0.8h-0.8zM227.04 304.72h0.8v0.8h-0.8zM229.06 299.83h0.8v0.8h-0.8zM221.84 306.29h0.8v0.8h-0.8zM228.85 304.53h0.8v0.8h-0.8zM224.62 304.78h0.8v0.8h-0.8zM227.55 297.63h0.8v0.8h-0.8zM225.49 297.09h0.8v0.8h-0.8zM226.04 308.44h0.8v0.8h-0.8zM227.97 305.06h0.8v0.8h-0.8zM221.26 296.96h0.8v0.8h-0.8zM221.09 302.98h0.8v0.8h-0.8zM225.04 298.49h0.8v0.8h-0.8zM224.26 307.4h0.8v0.8h-0.8zM208.3 282.6h0.8v0.8h-0.8zM213.9 284.4h0.8v0.8h-0.8zM202.6 303.6h0.8v0.8h-0.8zM228.3 301.9h0.8v0.8h-0.8zM214.4 293.4h0.8v0.8h-0.8z"/>
<path d="M208 310.7 L213 309.8 L215.5 308.9 L216.8 308.4 L218.5 310.2 L220.5 310.2 L221.8 308.2 L224 308.9 L227 310 L232 310.7" fill="#000"/>
<line x1="194.5" y1="258.3" x2="194.5" y2="311.2" stroke="#000" stroke-width="1"/>
<line x1="194" y1="310.7" x2="247.5" y2="310.7" stroke="#000" stroke-width="1.1"/>
<line x1="191.6" y1="310.7" x2="194.5" y2="310.7" stroke="#000" stroke-width="0.9"/>
<text x="188.9" y="312.8" font-size="6.1" text-anchor="end" fill="#231f20" stroke="#231f20" stroke-width="0.2">0</text>
<line x1="191.6" y1="300.6" x2="194.5" y2="300.6" stroke="#000" stroke-width="0.9"/>
<text x="188.9" y="302.7" font-size="6.1" text-anchor="end" fill="#231f20" stroke="#231f20" stroke-width="0.2">5</text>
<line x1="191.6" y1="290.6" x2="194.5" y2="290.6" stroke="#000" stroke-width="0.9"/>
<text x="188.9" y="292.7" font-size="6.1" text-anchor="end" fill="#231f20" stroke="#231f20" stroke-width="0.2">10</text>
<line x1="191.6" y1="280.5" x2="194.5" y2="280.5" stroke="#000" stroke-width="0.9"/>
<text x="188.9" y="282.6" font-size="6.1" text-anchor="end" fill="#231f20" stroke="#231f20" stroke-width="0.2">15</text>
<line x1="191.6" y1="270.4" x2="194.5" y2="270.4" stroke="#000" stroke-width="0.9"/>
<text x="188.9" y="272.5" font-size="6.1" text-anchor="end" fill="#231f20" stroke="#231f20" stroke-width="0.2">20</text>
<line x1="191.6" y1="260.4" x2="194.5" y2="260.4" stroke="#000" stroke-width="0.9"/>
<text x="188.9" y="262.5" font-size="6.1" text-anchor="end" fill="#231f20" stroke="#231f20" stroke-width="0.2">25</text>
<line x1="194.7" y1="310.7" x2="194.7" y2="313" stroke="#000" stroke-width="0.9"/>
<text x="194.7" y="322.2" font-size="5.8" text-anchor="middle" fill="#231f20" stroke="#231f20" stroke-width="0.2">-4</text>
<line x1="207.3" y1="310.7" x2="207.3" y2="313" stroke="#000" stroke-width="0.9"/>
<text x="207.3" y="322.2" font-size="5.8" text-anchor="middle" fill="#231f20" stroke="#231f20" stroke-width="0.2">-2</text>
<line x1="219.8" y1="310.7" x2="219.8" y2="313" stroke="#000" stroke-width="0.9"/>
<text x="219.8" y="322.2" font-size="5.8" text-anchor="middle" fill="#231f20" stroke="#231f20" stroke-width="0.2">0</text>
<line x1="232.3" y1="310.7" x2="232.3" y2="313" stroke="#000" stroke-width="0.9"/>
<text x="232.3" y="322.2" font-size="5.8" text-anchor="middle" fill="#231f20" stroke="#231f20" stroke-width="0.2">2</text>
<line x1="244.9" y1="310.7" x2="244.9" y2="313" stroke="#000" stroke-width="0.9"/>
<text x="244.9" y="322.2" font-size="5.8" text-anchor="middle" fill="#231f20" stroke="#231f20" stroke-width="0.2">4</text>
<line x1="211.9" y1="291.2" x2="208.7" y2="294.2" stroke="#222" stroke-width="0.6"/>
<circle cx="213.1" cy="290.5" r="1.35" fill="none" stroke="#111" stroke-width="0.6"/>
<text x="196" y="299.2" font-size="4.8" font-style="italic" fill="#333" textLength="16.2" lengthAdjust="spacingAndGlyphs">FCGR2B</text>
<path fill="#e2506e" opacity="0.7" d="M62.27 384.85h0.76v0.76h-0.76zM69.12 382.19h0.76v0.76h-0.76zM73.65 384.38h0.76v0.76h-0.76zM64.06 384.28h0.76v0.76h-0.76zM79.2 353.82h0.76v0.76h-0.76zM76.02 371.3h0.76v0.76h-0.76zM65.24 385.3h0.76v0.76h-0.76zM75.58 377.79h0.76v0.76h-0.76zM56.53 385.12h0.76v0.76h-0.76zM57.99 364.51h0.76v0.76h-0.76zM77.22 384.87h0.76v0.76h-0.76zM74.75 382.95h0.76v0.76h-0.76zM72.01 351.52h0.76v0.76h-0.76zM70.57 357.6h0.76v0.76h-0.76zM64.65 385.62h0.76v0.76h-0.76zM67.9 373.12h0.76v0.76h-0.76zM60.05 381.32h0.76v0.76h-0.76zM63.23 385.62h0.76v0.76h-0.76zM63.11 381.5h0.76v0.76h-0.76zM67.05 365.59h0.76v0.76h-0.76zM65.2 337.88h0.76v0.76h-0.76zM75.19 344.92h0.76v0.76h-0.76zM72.25 367.96h0.76v0.76h-0.76zM68.5 357.75h0.76v0.76h-0.76zM64.33 372.74h0.76v0.76h-0.76zM71.93 376.39h0.76v0.76h-0.76zM62.44 385.55h0.76v0.76h-0.76zM57.71 382.21h0.76v0.76h-0.76zM69.55 361.16h0.76v0.76h-0.76zM72.77 383.3h0.76v0.76h-0.76zM77.92 383.88h0.76v0.76h-0.76zM72.81 385.57h0.76v0.76h-0.76zM73.7 367.97h0.76v0.76h-0.76zM78.59 347.91h0.76v0.76h-0.76zM72.12 354.02h0.76v0.76h-0.76zM73.35 371.73h0.76v0.76h-0.76zM60.63 376.64h0.76v0.76h-0.76zM77.13 384.41h0.76v0.76h-0.76zM79.01 375.35h0.76v0.76h-0.76zM65.06 385.62h0.76v0.76h-0.76zM64.98 385.06h0.76v0.76h-0.76zM71.29 347.65h0.76v0.76h-0.76zM77.46 371.58h0.76v0.76h-0.76zM64.9 385.46h0.76v0.76h-0.76zM72.15 374.88h0.76v0.76h-0.76zM72.79 381.74h0.76v0.76h-0.76zM76.9 384.73h0.76v0.76h-0.76zM62.95 384h0.76v0.76h-0.76zM70.55 347.9h0.76v0.76h-0.76zM59.64 370.4h0.76v0.76h-0.76zM74.02 384.59h0.76v0.76h-0.76zM57.12 374.24h0.76v0.76h-0.76zM75.55 349.91h0.76v0.76h-0.76zM73.09 380.48h0.76v0.76h-0.76zM65.83 376.08h0.76v0.76h-0.76zM77.33 383.39h0.76v0.76h-0.76zM62.36 372.06h0.76v0.76h-0.76zM78.82 384.98h0.76v0.76h-0.76zM56.35 385.44h0.76v0.76h-0.76zM69.12 372.17h0.76v0.76h-0.76zM60.03 384.95h0.76v0.76h-0.76zM69.89 369.54h0.76v0.76h-0.76zM72.19 363.64h0.76v0.76h-0.76zM57.09 378.01h0.76v0.76h-0.76zM75.65 340.99h0.76v0.76h-0.76zM63.26 352.82h0.76v0.76h-0.76zM71.1 344.6h0.76v0.76h-0.76zM61.12 366.07h0.76v0.76h-0.76zM75.8 378.33h0.76v0.76h-0.76zM58.04 384.92h0.76v0.76h-0.76zM60.79 385.15h0.76v0.76h-0.76zM60.76 375.95h0.76v0.76h-0.76zM60.41 372.14h0.76v0.76h-0.76zM65.14 370.44h0.76v0.76h-0.76zM65.65 373.39h0.76v0.76h-0.76zM66.55 366.05h0.76v0.76h-0.76zM64.31 365.78h0.76v0.76h-0.76zM60.39 385.07h0.76v0.76h-0.76zM60.1 383.94h0.76v0.76h-0.76zM62.43 379.59h0.76v0.76h-0.76zM64.72 372.57h0.76v0.76h-0.76zM60.25 380.71h0.76v0.76h-0.76zM63.7 381.24h0.76v0.76h-0.76zM60.5 376.42h0.76v0.76h-0.76zM62.43 374.19h0.76v0.76h-0.76zM63.34 365.86h0.76v0.76h-0.76zM66.71 385.31h0.76v0.76h-0.76zM65.32 373.17h0.76v0.76h-0.76zM61.84 384.94h0.76v0.76h-0.76zM63.21 381.63h0.76v0.76h-0.76zM65.15 367.29h0.76v0.76h-0.76zM62.49 382.71h0.76v0.76h-0.76zM63.36 373.84h0.76v0.76h-0.76zM65.54 376.94h0.76v0.76h-0.76zM61.84 381.94h0.76v0.76h-0.76zM76.1 377.21h0.76v0.76h-0.76zM68.12 379.61h0.76v0.76h-0.76zM70 373.09h0.76v0.76h-0.76zM68.35 382.65h0.76v0.76h-0.76zM68.58 378.26h0.76v0.76h-0.76zM77.47 376.63h0.76v0.76h-0.76zM71.48 364.11h0.76v0.76h-0.76zM68.54 381.03h0.76v0.76h-0.76zM75.73 385.61h0.76v0.76h-0.76zM75.28 380.92h0.76v0.76h-0.76zM67.78 382.99h0.76v0.76h-0.76zM72.2 380.46h0.76v0.76h-0.76zM72.79 385.4h0.76v0.76h-0.76zM69.81 362.6h0.76v0.76h-0.76zM72.05 378.4h0.76v0.76h-0.76zM68.47 382.5h0.76v0.76h-0.76zM77.17 372.46h0.76v0.76h-0.76zM72.7 385.4h0.76v0.76h-0.76zM71.55 369.54h0.76v0.76h-0.76zM71.97 375.2h0.76v0.76h-0.76zM76.64 373.72h0.76v0.76h-0.76zM73.98 385.5h0.76v0.76h-0.76zM67.86 369.84h0.76v0.76h-0.76zM71.75 366.26h0.76v0.76h-0.76zM75.88 364.79h0.76v0.76h-0.76zM71.41 361.66h0.76v0.76h-0.76zM75.18 365.64h0.76v0.76h-0.76zM69.1 369.46h0.76v0.76h-0.76zM71.84 362.68h0.76v0.76h-0.76zM77.56 383.54h0.76v0.76h-0.76zM71.83 382.65h0.76v0.76h-0.76zM72.32 382.37h0.76v0.76h-0.76zM74.29 384.78h0.76v0.76h-0.76zM69.31 378.75h0.76v0.76h-0.76zM68.36 380.49h0.76v0.76h-0.76zM76.59 365.87h0.76v0.76h-0.76zM69.59 385.58h0.76v0.76h-0.76zM75.9 363.11h0.76v0.76h-0.76zM73.61 384.63h0.76v0.76h-0.76zM69.99 364.61h0.76v0.76h-0.76z"/>
<path d="M62.5 386.5 L63.5 380 L64.5 373.6 L65.5 378.5 L67.2 386.5" fill="#d4143c"/>
<path d="M68.5 386.5 L69.2 379 L69.9 375 L71.5 374.3 L73.2 376 L74 379.5 L74.8 386.5" fill="#d4143c"/>
<path fill="#d4143c" d="M66.54 385.95h0.9v0.9h-0.9zM62.77 382.23h0.9v0.9h-0.9zM63.18 377.63h0.9v0.9h-0.9zM63.71 377.3h0.9v0.9h-0.9zM62.61 381.07h0.9v0.9h-0.9zM66.72 378.43h0.9v0.9h-0.9zM62.3 385.47h0.9v0.9h-0.9zM65.07 382.88h0.9v0.9h-0.9zM63.69 381.61h0.9v0.9h-0.9zM64.76 374.14h0.9v0.9h-0.9zM63.05 380.38h0.9v0.9h-0.9zM63.17 380.7h0.9v0.9h-0.9zM65.51 385.3h0.9v0.9h-0.9zM64.26 378.38h0.9v0.9h-0.9zM61.89 377.36h0.9v0.9h-0.9zM63.94 381.26h0.9v0.9h-0.9zM64.9 377.02h0.9v0.9h-0.9zM62.13 381.31h0.9v0.9h-0.9zM62.04 382.76h0.9v0.9h-0.9zM63.58 385.99h0.9v0.9h-0.9zM63.34 381.96h0.9v0.9h-0.9zM65.12 374.85h0.9v0.9h-0.9zM63.7 380.91h0.9v0.9h-0.9zM65.42 374.63h0.9v0.9h-0.9zM66.6 373.76h0.9v0.9h-0.9zM63.36 385.03h0.9v0.9h-0.9zM66.51 385.7h0.9v0.9h-0.9zM64.09 377.91h0.9v0.9h-0.9zM64.49 382.72h0.9v0.9h-0.9zM66.47 383.74h0.9v0.9h-0.9zM71.82 375.66h0.9v0.9h-0.9zM68.84 382.93h0.9v0.9h-0.9zM71.41 379.97h0.9v0.9h-0.9zM69.34 381.58h0.9v0.9h-0.9zM68.28 385.6h0.9v0.9h-0.9zM70.31 385.16h0.9v0.9h-0.9zM74.82 383.97h0.9v0.9h-0.9zM69.84 376.45h0.9v0.9h-0.9zM73.19 383.98h0.9v0.9h-0.9zM73.82 379.05h0.9v0.9h-0.9zM70.65 379h0.9v0.9h-0.9zM69.62 383.96h0.9v0.9h-0.9zM74.16 381.79h0.9v0.9h-0.9zM74.31 384.86h0.9v0.9h-0.9zM68.84 385.84h0.9v0.9h-0.9zM73.18 380.04h0.9v0.9h-0.9zM67.92 385.88h0.9v0.9h-0.9zM73.78 381.01h0.9v0.9h-0.9zM74.12 385.9h0.9v0.9h-0.9zM72.09 385.38h0.9v0.9h-0.9zM73.04 379.27h0.9v0.9h-0.9zM72.26 384.41h0.9v0.9h-0.9zM74.68 385.43h0.9v0.9h-0.9zM68.31 378.12h0.9v0.9h-0.9zM68.52 385.74h0.9v0.9h-0.9zM71.16 378.68h0.9v0.9h-0.9zM74.27 377.51h0.9v0.9h-0.9zM68.35 378.77h0.9v0.9h-0.9zM73.92 385.35h0.9v0.9h-0.9zM73.28 384.02h0.9v0.9h-0.9zM70 386.05h0.9v0.9h-0.9zM73.31 380.71h0.9v0.9h-0.9zM74.34 381.42h0.9v0.9h-0.9zM68.97 384.47h0.9v0.9h-0.9zM69.75 373.55h0.9v0.9h-0.9zM69.33 385.6h0.9v0.9h-0.9zM70.39 385.66h0.9v0.9h-0.9zM70.91 379.11h0.9v0.9h-0.9zM72.53 384.88h0.9v0.9h-0.9zM68.85 381.06h0.9v0.9h-0.9zM72.8 381.68h0.9v0.9h-0.9zM71.98 374.18h0.9v0.9h-0.9zM68.89 383.92h0.9v0.9h-0.9zM71.41 380.41h0.9v0.9h-0.9zM74.33 380.13h0.9v0.9h-0.9zM72.62 382.05h0.9v0.9h-0.9zM73.5 375.55h0.9v0.9h-0.9zM69.96 385.45h0.9v0.9h-0.9zM69.72 382.85h0.9v0.9h-0.9zM74.26 383.95h0.9v0.9h-0.9z"/>
<path d="M56 387 L62 386.3 L66 385.6 L67.7 386.6 L69.4 385.6 L74 386.1 L80 386.6 L84 387" fill="#000"/>
<line x1="42.5" y1="334" x2="42.5" y2="387.3" stroke="#000" stroke-width="1"/>
<line x1="42" y1="386.8" x2="96" y2="386.8" stroke="#000" stroke-width="1.1"/>
<line x1="39.6" y1="386.8" x2="42.5" y2="386.8" stroke="#000" stroke-width="0.9"/>
<text x="36.9" y="388.9" font-size="6.1" text-anchor="end" fill="#231f20" stroke="#231f20" stroke-width="0.2">0</text>
<line x1="39.6" y1="376.6" x2="42.5" y2="376.6" stroke="#000" stroke-width="0.9"/>
<text x="36.9" y="378.7" font-size="6.1" text-anchor="end" fill="#231f20" stroke="#231f20" stroke-width="0.2">10</text>
<line x1="39.6" y1="366.5" x2="42.5" y2="366.5" stroke="#000" stroke-width="0.9"/>
<text x="36.9" y="368.6" font-size="6.1" text-anchor="end" fill="#231f20" stroke="#231f20" stroke-width="0.2">20</text>
<line x1="39.6" y1="356.5" x2="42.5" y2="356.5" stroke="#000" stroke-width="0.9"/>
<text x="36.9" y="358.6" font-size="6.1" text-anchor="end" fill="#231f20" stroke="#231f20" stroke-width="0.2">30</text>
<line x1="39.6" y1="346.4" x2="42.5" y2="346.4" stroke="#000" stroke-width="0.9"/>
<text x="36.9" y="348.5" font-size="6.1" text-anchor="end" fill="#231f20" stroke="#231f20" stroke-width="0.2">40</text>
<line x1="39.6" y1="336.2" x2="42.5" y2="336.2" stroke="#000" stroke-width="0.9"/>
<text x="36.9" y="338.3" font-size="6.1" text-anchor="end" fill="#231f20" stroke="#231f20" stroke-width="0.2">50</text>
<line x1="42.5" y1="386.8" x2="42.5" y2="389.1" stroke="#000" stroke-width="0.9"/>
<text x="42.5" y="398.3" font-size="5.8" text-anchor="middle" fill="#231f20" stroke="#231f20" stroke-width="0.2">-8</text>
<line x1="55.2" y1="386.8" x2="55.2" y2="389.1" stroke="#000" stroke-width="0.9"/>
<text x="55.2" y="398.3" font-size="5.8" text-anchor="middle" fill="#231f20" stroke="#231f20" stroke-width="0.2">-4</text>
<line x1="67.7" y1="386.8" x2="67.7" y2="389.1" stroke="#000" stroke-width="0.9"/>
<text x="67.7" y="398.3" font-size="5.8" text-anchor="middle" fill="#231f20" stroke="#231f20" stroke-width="0.2">0</text>
<line x1="80.4" y1="386.8" x2="80.4" y2="389.1" stroke="#000" stroke-width="0.9"/>
<text x="80.4" y="398.3" font-size="5.8" text-anchor="middle" fill="#231f20" stroke="#231f20" stroke-width="0.2">4</text>
<line x1="93.3" y1="386.8" x2="93.3" y2="389.1" stroke="#000" stroke-width="0.9"/>
<text x="93.3" y="398.3" font-size="5.8" text-anchor="middle" fill="#231f20" stroke="#231f20" stroke-width="0.2">8</text>
<line x1="75.8" y1="343.9" x2="78.8" y2="345.2" stroke="#222" stroke-width="0.6"/>
<circle cx="74.4" cy="343.3" r="1.35" fill="none" stroke="#111" stroke-width="0.6"/>
<text x="78" y="346.7" font-size="4.8" font-style="italic" fill="#333" textLength="12.8" lengthAdjust="spacingAndGlyphs">FCRL5</text>
<line x1="73.1" y1="355" x2="82.4" y2="354.2" stroke="#222" stroke-width="0.6"/>
<circle cx="71.7" cy="355.2" r="1.35" fill="none" stroke="#111" stroke-width="0.6"/>
<text x="82.7" y="355.4" font-size="4.8" font-style="italic" fill="#333" textLength="8.1" lengthAdjust="spacingAndGlyphs">LCK</text>
<line x1="74.2" y1="360" x2="81.5" y2="362.3" stroke="#222" stroke-width="0.6"/>
<circle cx="72.9" cy="359.4" r="1.35" fill="none" stroke="#111" stroke-width="0.6"/>
<text x="81.5" y="364.4" font-size="4.8" font-style="italic" fill="#333" textLength="12.7" lengthAdjust="spacingAndGlyphs">PTPN6</text>
<line x1="72.7" y1="370.9" x2="81.8" y2="372.8" stroke="#222" stroke-width="0.6"/>
<circle cx="71.4" cy="370.4" r="1.35" fill="none" stroke="#111" stroke-width="0.6"/>
<text x="82.1" y="374.4" font-size="4.8" font-style="italic" fill="#333" textLength="6.9" lengthAdjust="spacingAndGlyphs">SLA</text>
<line x1="63.4" y1="373.7" x2="55.5" y2="373.9" stroke="#222" stroke-width="0.6"/>
<circle cx="64.8" cy="373.6" r="1.35" fill="none" stroke="#111" stroke-width="0.6"/>
<text x="45.2" y="375" font-size="4.8" font-style="italic" fill="#333" textLength="9.8" lengthAdjust="spacingAndGlyphs">BCL2</text>
<path fill="#e2506e" opacity="0.75" d="M136.89 377.86h0.8v0.8h-0.8zM140.16 384.43h0.8v0.8h-0.8zM138.3 382.16h0.8v0.8h-0.8zM131.63 378h0.8v0.8h-0.8zM139.04 378.77h0.8v0.8h-0.8zM131.1 372.12h0.8v0.8h-0.8zM134.44 377.93h0.8v0.8h-0.8zM137.84 383.04h0.8v0.8h-0.8zM134.68 382.25h0.8v0.8h-0.8zM131.56 384.81h0.8v0.8h-0.8zM137.77 381.22h0.8v0.8h-0.8zM139.3 384.82h0.8v0.8h-0.8zM133.61 383.87h0.8v0.8h-0.8zM140.03 375.39h0.8v0.8h-0.8zM139.56 379.89h0.8v0.8h-0.8zM131.64 381.14h0.8v0.8h-0.8zM132.86 385.01h0.8v0.8h-0.8zM136.25 382.71h0.8v0.8h-0.8zM131.68 379.82h0.8v0.8h-0.8zM139.93 372.61h0.8v0.8h-0.8zM135.26 384.54h0.8v0.8h-0.8zM138.29 384.45h0.8v0.8h-0.8zM135.97 384.68h0.8v0.8h-0.8zM140.47 379.36h0.8v0.8h-0.8zM134.97 382.92h0.8v0.8h-0.8zM153.09 360.83h0.8v0.8h-0.8zM151.3 383.57h0.8v0.8h-0.8zM152.56 363.23h0.8v0.8h-0.8zM150.64 373.88h0.8v0.8h-0.8zM158.42 381.71h0.8v0.8h-0.8zM156.86 376.99h0.8v0.8h-0.8zM147.12 384.97h0.8v0.8h-0.8zM158.72 378.65h0.8v0.8h-0.8zM151.53 363.26h0.8v0.8h-0.8zM153.42 377.77h0.8v0.8h-0.8zM149.22 370.12h0.8v0.8h-0.8zM148.82 378.54h0.8v0.8h-0.8zM156.1 374.78h0.8v0.8h-0.8zM147.05 383.66h0.8v0.8h-0.8zM155.18 370.66h0.8v0.8h-0.8zM146.59 359.71h0.8v0.8h-0.8zM147.03 384.08h0.8v0.8h-0.8zM146.4 379.13h0.8v0.8h-0.8zM154.08 365.77h0.8v0.8h-0.8zM147.47 371.72h0.8v0.8h-0.8zM146.63 375.52h0.8v0.8h-0.8zM148.75 381.12h0.8v0.8h-0.8zM145.86 370.96h0.8v0.8h-0.8zM146.87 369.39h0.8v0.8h-0.8zM149.98 375.18h0.8v0.8h-0.8zM154.37 378.07h0.8v0.8h-0.8zM157.77 363.18h0.8v0.8h-0.8zM149.19 381.56h0.8v0.8h-0.8zM157.82 384.43h0.8v0.8h-0.8zM151.19 379.87h0.8v0.8h-0.8zM159.26 384.47h0.8v0.8h-0.8zM154.6 369.65h0.8v0.8h-0.8zM155.66 385.1h0.8v0.8h-0.8zM158.78 381.96h0.8v0.8h-0.8zM157.47 372.99h0.8v0.8h-0.8zM151.2 366.56h0.8v0.8h-0.8zM154.9 381.45h0.8v0.8h-0.8zM155.71 377.64h0.8v0.8h-0.8zM155.42 374.49h0.8v0.8h-0.8zM156.64 384.17h0.8v0.8h-0.8zM152.27 385.1h0.8v0.8h-0.8zM156.57 369.11h0.8v0.8h-0.8zM157.24 385.01h0.8v0.8h-0.8zM152.86 378.33h0.8v0.8h-0.8zM146.83 383.66h0.8v0.8h-0.8zM159.23 365.96h0.8v0.8h-0.8zM148.55 366.9h0.8v0.8h-0.8zM154.54 380.53h0.8v0.8h-0.8zM154.45 383.3h0.8v0.8h-0.8zM149.07 385.09h0.8v0.8h-0.8zM125.9 368.3h0.8v0.8h-0.8zM155.9 354.1h0.8v0.8h-0.8zM159.1 356.6h0.8v0.8h-0.8zM160.2 361.4h0.8v0.8h-0.8zM131.1 377.6h0.8v0.8h-0.8zM132.6 379.1h0.8v0.8h-0.8z"/>
<path fill="#d4143c" d="M139.13 382.39h1v1h-1zM139.47 382.8h1v1h-1zM138.24 383.79h1v1h-1zM139.44 383.47h1v1h-1zM138.89 381.42h1v1h-1zM138.28 381.82h1v1h-1zM136.75 384h1v1h-1zM139.86 384.5h1v1h-1zM136.73 384.97h1v1h-1zM139.56 384.66h1v1h-1zM147.33 382.96h1v1h-1zM148.71 382.74h1v1h-1zM147.59 384.93h1v1h-1zM148.68 381h1v1h-1zM147.99 380.57h1v1h-1zM147.96 381.32h1v1h-1zM148.9 381.92h1v1h-1zM145.58 380.25h1v1h-1zM149.46 384.2h1v1h-1zM145.76 383.49h1v1h-1zM145.9 383.34h1v1h-1zM145.86 384.11h1v1h-1zM145.51 383.01h1v1h-1zM146.7 381.24h1v1h-1z"/>
<path d="M130 386.8 L134.5 386.3 L136.5 385.3 L139.5 384.6 L142.3 385.3 L143.6 386.6 L144.9 385.3 L147.5 384.6 L151 385 L154 386.2 L160 386.8" fill="#000"/>
<line x1="118.7" y1="334" x2="118.7" y2="387.3" stroke="#000" stroke-width="1"/>
<line x1="118.2" y1="386.8" x2="169" y2="386.8" stroke="#000" stroke-width="1.1"/>
<line x1="115.8" y1="386.8" x2="118.7" y2="386.8" stroke="#000" stroke-width="0.9"/>
<text x="113.1" y="388.9" font-size="6.1" text-anchor="end" fill="#231f20" stroke="#231f20" stroke-width="0.2">0</text>
<line x1="115.8" y1="376.7" x2="118.7" y2="376.7" stroke="#000" stroke-width="0.9"/>
<text x="113.1" y="378.8" font-size="6.1" text-anchor="end" fill="#231f20" stroke="#231f20" stroke-width="0.2">5</text>
<line x1="115.8" y1="366.6" x2="118.7" y2="366.6" stroke="#000" stroke-width="0.9"/>
<text x="113.1" y="368.7" font-size="6.1" text-anchor="end" fill="#231f20" stroke="#231f20" stroke-width="0.2">10</text>
<line x1="115.8" y1="356.5" x2="118.7" y2="356.5" stroke="#000" stroke-width="0.9"/>
<text x="113.1" y="358.6" font-size="6.1" text-anchor="end" fill="#231f20" stroke="#231f20" stroke-width="0.2">15</text>
<line x1="115.8" y1="346.4" x2="118.7" y2="346.4" stroke="#000" stroke-width="0.9"/>
<text x="113.1" y="348.5" font-size="6.1" text-anchor="end" fill="#231f20" stroke="#231f20" stroke-width="0.2">20</text>
<line x1="115.8" y1="336.3" x2="118.7" y2="336.3" stroke="#000" stroke-width="0.9"/>
<text x="113.1" y="338.4" font-size="6.1" text-anchor="end" fill="#231f20" stroke="#231f20" stroke-width="0.2">25</text>
<line x1="126.7" y1="386.8" x2="126.7" y2="389.1" stroke="#000" stroke-width="0.9"/>
<text x="126.7" y="398.3" font-size="5.8" text-anchor="middle" fill="#231f20" stroke="#231f20" stroke-width="0.2">-4</text>
<line x1="144" y1="386.8" x2="144" y2="389.1" stroke="#000" stroke-width="0.9"/>
<text x="144" y="398.3" font-size="5.8" text-anchor="middle" fill="#231f20" stroke="#231f20" stroke-width="0.2">0</text>
<line x1="160.4" y1="386.8" x2="160.4" y2="389.1" stroke="#000" stroke-width="0.9"/>
<text x="160.4" y="398.3" font-size="5.8" text-anchor="middle" fill="#231f20" stroke="#231f20" stroke-width="0.2">4</text>
<line x1="158.5" y1="349" x2="162.3" y2="352.5" stroke="#222" stroke-width="0.6"/>
<circle cx="157.1" cy="348.2" r="1.35" fill="none" stroke="#111" stroke-width="0.6"/>
<text x="162.3" y="354.5" font-size="4.8" font-style="italic" fill="#333" textLength="7.2" lengthAdjust="spacingAndGlyphs">SLA</text>
<line x1="150.2" y1="367.7" x2="156.5" y2="369.2" stroke="#222" stroke-width="0.6"/>
<circle cx="148.8" cy="367.3" r="1.35" fill="none" stroke="#111" stroke-width="0.6"/>
<text x="156" y="370.6" font-size="4.8" font-style="italic" fill="#333" textLength="13.2" lengthAdjust="spacingAndGlyphs">FCRL2</text>
<path fill="#e2506e" opacity="0.8" d="M212.18 383.81h0.8v0.8h-0.8zM218.11 372.89h0.8v0.8h-0.8zM215.34 383.39h0.8v0.8h-0.8zM212.33 380.68h0.8v0.8h-0.8zM212.39 384.56h0.8v0.8h-0.8zM212.88 375.43h0.8v0.8h-0.8zM215.38 373.6h0.8v0.8h-0.8zM215.27 375.52h0.8v0.8h-0.8zM217.24 372.41h0.8v0.8h-0.8zM216.43 381.16h0.8v0.8h-0.8zM215.03 377.43h0.8v0.8h-0.8zM217.37 376.44h0.8v0.8h-0.8zM212.76 383.61h0.8v0.8h-0.8zM211.54 383.07h0.8v0.8h-0.8zM215.26 375.4h0.8v0.8h-0.8zM210.12 379.48h0.8v0.8h-0.8zM216.92 381.8h0.8v0.8h-0.8zM209.09 378.32h0.8v0.8h-0.8zM211.91 383.97h0.8v0.8h-0.8zM211.12 384.6h0.8v0.8h-0.8zM209.66 381.03h0.8v0.8h-0.8zM209.2 384.6h0.8v0.8h-0.8zM222.9 378.95h0.8v0.8h-0.8zM224.6 383.35h0.8v0.8h-0.8zM225.15 384.43h0.8v0.8h-0.8zM220.5 384.59h0.8v0.8h-0.8zM219.95 381.65h0.8v0.8h-0.8zM224.14 382.47h0.8v0.8h-0.8zM224.42 382.63h0.8v0.8h-0.8zM225.11 381.61h0.8v0.8h-0.8zM222.82 384.1h0.8v0.8h-0.8zM222.16 382.7h0.8v0.8h-0.8z"/>
<path d="M212.5 385.8 L213.2 382 L215 380.6 L217 380 L218 382 L218.8 385.8" fill="#d4143c"/>
<path d="M220.6 385.8 L221.2 383 L222.5 382.4 L224.2 383.5 L225 385.8" fill="#d4143c"/>
<path fill="#d4143c" d="M217.16 383.63h0.84v0.84h-0.84zM212.94 378.41h0.84v0.84h-0.84zM211.15 381.05h0.84v0.84h-0.84zM212.34 379.87h0.84v0.84h-0.84zM215.34 384.58h0.84v0.84h-0.84zM216.42 382.19h0.84v0.84h-0.84zM213.15 378.02h0.84v0.84h-0.84zM216.81 383h0.84v0.84h-0.84zM216 384.39h0.84v0.84h-0.84zM214.73 384.65h0.84v0.84h-0.84zM215.71 377.43h0.84v0.84h-0.84zM215.67 384.9h0.84v0.84h-0.84zM214.69 381.65h0.84v0.84h-0.84zM214.12 384.2h0.84v0.84h-0.84zM212.81 381.82h0.84v0.84h-0.84zM211.15 379.78h0.84v0.84h-0.84zM212.53 383.15h0.84v0.84h-0.84zM211.31 383.05h0.84v0.84h-0.84zM218.03 383.14h0.84v0.84h-0.84zM211.35 382.7h0.84v0.84h-0.84zM218.14 384.62h0.84v0.84h-0.84zM213.32 383.78h0.84v0.84h-0.84zM216.03 381.72h0.84v0.84h-0.84zM211.37 377.96h0.84v0.84h-0.84zM213.2 379.67h0.84v0.84h-0.84zM214.2 377.87h0.84v0.84h-0.84zM211.05 383.64h0.84v0.84h-0.84zM212.86 383.36h0.84v0.84h-0.84zM217.16 381.36h0.84v0.84h-0.84zM213.35 381.32h0.84v0.84h-0.84zM217.35 380.75h0.84v0.84h-0.84zM214.19 379.95h0.84v0.84h-0.84zM215.5 382.2h0.84v0.84h-0.84zM213.99 384.33h0.84v0.84h-0.84zM214.09 377.8h0.84v0.84h-0.84zM221.47 383.74h0.84v0.84h-0.84zM223.02 382.69h0.84v0.84h-0.84zM220.79 383.37h0.84v0.84h-0.84zM223.7 384.98h0.84v0.84h-0.84zM220.45 381.87h0.84v0.84h-0.84zM224.59 384.9h0.84v0.84h-0.84zM220.3 382.51h0.84v0.84h-0.84zM221.36 382.36h0.84v0.84h-0.84zM220.06 383.32h0.84v0.84h-0.84zM220.72 383.88h0.84v0.84h-0.84zM223.49 383.07h0.84v0.84h-0.84zM224.32 381.42h0.84v0.84h-0.84zM223.1 381.39h0.84v0.84h-0.84zM220.8 383.24h0.84v0.84h-0.84zM221.54 382.52h0.84v0.84h-0.84zM220.46 381.19h0.84v0.84h-0.84zM221.81 381.72h0.84v0.84h-0.84zM224.78 380.9h0.84v0.84h-0.84z"/>
<path d="M209 386.8 L213 386 L215.5 384.7 L217.5 384 L219.3 386.6 L220 386.6 L221.5 384 L224.3 384.6 L227 386 L232 386.8" fill="#000"/>
<line x1="194.5" y1="334" x2="194.5" y2="387.3" stroke="#000" stroke-width="1"/>
<line x1="194" y1="386.8" x2="247.5" y2="386.8" stroke="#000" stroke-width="1.1"/>
<line x1="191.6" y1="386.8" x2="194.5" y2="386.8" stroke="#000" stroke-width="0.9"/>
<text x="188.9" y="388.9" font-size="6.1" text-anchor="end" fill="#231f20" stroke="#231f20" stroke-width="0.2">0</text>
<line x1="191.6" y1="376.7" x2="194.5" y2="376.7" stroke="#000" stroke-width="0.9"/>
<text x="188.9" y="378.8" font-size="6.1" text-anchor="end" fill="#231f20" stroke="#231f20" stroke-width="0.2">5</text>
<line x1="191.6" y1="366.6" x2="194.5" y2="366.6" stroke="#000" stroke-width="0.9"/>
<text x="188.9" y="368.7" font-size="6.1" text-anchor="end" fill="#231f20" stroke="#231f20" stroke-width="0.2">10</text>
<line x1="191.6" y1="356.5" x2="194.5" y2="356.5" stroke="#000" stroke-width="0.9"/>
<text x="188.9" y="358.6" font-size="6.1" text-anchor="end" fill="#231f20" stroke="#231f20" stroke-width="0.2">15</text>
<line x1="191.6" y1="346.4" x2="194.5" y2="346.4" stroke="#000" stroke-width="0.9"/>
<text x="188.9" y="348.5" font-size="6.1" text-anchor="end" fill="#231f20" stroke="#231f20" stroke-width="0.2">20</text>
<line x1="191.6" y1="336.3" x2="194.5" y2="336.3" stroke="#000" stroke-width="0.9"/>
<text x="188.9" y="338.4" font-size="6.1" text-anchor="end" fill="#231f20" stroke="#231f20" stroke-width="0.2">25</text>
<line x1="194.7" y1="386.8" x2="194.7" y2="389.1" stroke="#000" stroke-width="0.9"/>
<text x="194.7" y="398.3" font-size="5.8" text-anchor="middle" fill="#231f20" stroke="#231f20" stroke-width="0.2">-6</text>
<line x1="203" y1="386.8" x2="203" y2="389.1" stroke="#000" stroke-width="0.9"/>
<text x="203" y="398.3" font-size="5.8" text-anchor="middle" fill="#231f20" stroke="#231f20" stroke-width="0.2">-4</text>
<line x1="211.4" y1="386.8" x2="211.4" y2="389.1" stroke="#000" stroke-width="0.9"/>
<text x="211.4" y="398.3" font-size="5.8" text-anchor="middle" fill="#231f20" stroke="#231f20" stroke-width="0.2">-2</text>
<line x1="219.8" y1="386.8" x2="219.8" y2="389.1" stroke="#000" stroke-width="0.9"/>
<text x="219.8" y="398.3" font-size="5.8" text-anchor="middle" fill="#231f20" stroke="#231f20" stroke-width="0.2">0</text>
<line x1="228.3" y1="386.8" x2="228.3" y2="389.1" stroke="#000" stroke-width="0.9"/>
<text x="228.3" y="398.3" font-size="5.8" text-anchor="middle" fill="#231f20" stroke="#231f20" stroke-width="0.2">2</text>
<line x1="236.7" y1="386.8" x2="236.7" y2="389.1" stroke="#000" stroke-width="0.9"/>
<text x="236.7" y="398.3" font-size="5.8" text-anchor="middle" fill="#231f20" stroke="#231f20" stroke-width="0.2">4</text>
<line x1="245.2" y1="386.8" x2="245.2" y2="389.1" stroke="#000" stroke-width="0.9"/>
<text x="245.2" y="398.3" font-size="5.8" text-anchor="middle" fill="#231f20" stroke="#231f20" stroke-width="0.2">6</text>
<text x="14.3" y="297.1" font-size="8.3" fill="#231f20" textLength="26.2" lengthAdjust="spacingAndGlyphs" transform="rotate(-90 14.3 297.1)" stroke="#231f20" stroke-width="0.15">24 hours</text>
<text x="24.4" y="302.5" font-size="8.3" fill="#231f20" textLength="37" lengthAdjust="spacingAndGlyphs" transform="rotate(-90 24.4 302.5)" stroke="#231f20" stroke-width="0.15">-log10[FDR]</text>
<text x="14.3" y="373.3" font-size="8.3" fill="#231f20" textLength="26.2" lengthAdjust="spacingAndGlyphs" transform="rotate(-90 14.3 373.3)" stroke="#231f20" stroke-width="0.15">72 hours</text>
<text x="24.4" y="378.7" font-size="8.3" fill="#231f20" textLength="37" lengthAdjust="spacingAndGlyphs" transform="rotate(-90 24.4 378.7)" stroke="#231f20" stroke-width="0.15">-log10[FDR]</text>
<text x="59.1" y="410.7" font-size="9" fill="#231f20" textLength="8.1" lengthAdjust="spacingAndGlyphs" stroke="#231f20" stroke-width="0.15">Log</text>
<text x="68.1" y="412.3" font-size="5.6" fill="#231f20" textLength="2.8" lengthAdjust="spacingAndGlyphs" stroke="#231f20" stroke-width="0.2">2</text>
<text x="72.6" y="410.7" font-size="9" fill="#231f20" textLength="7.2" lengthAdjust="spacingAndGlyphs" stroke="#231f20" stroke-width="0.15">FC</text>
<text x="133.6" y="410.7" font-size="9" fill="#231f20" textLength="8.1" lengthAdjust="spacingAndGlyphs" stroke="#231f20" stroke-width="0.15">Log</text>
<text x="142.6" y="412.3" font-size="5.6" fill="#231f20" textLength="2.8" lengthAdjust="spacingAndGlyphs" stroke="#231f20" stroke-width="0.2">2</text>
<text x="147.1" y="410.7" font-size="9" fill="#231f20" textLength="7.2" lengthAdjust="spacingAndGlyphs" stroke="#231f20" stroke-width="0.15">FC</text>
<text x="210.9" y="410.7" font-size="9" fill="#231f20" textLength="8.1" lengthAdjust="spacingAndGlyphs" stroke="#231f20" stroke-width="0.15">Log</text>
<text x="219.9" y="412.3" font-size="5.6" fill="#231f20" textLength="2.8" lengthAdjust="spacingAndGlyphs" stroke="#231f20" stroke-width="0.2">2</text>
<text x="224.4" y="410.7" font-size="9" fill="#231f20" textLength="7.2" lengthAdjust="spacingAndGlyphs" stroke="#231f20" stroke-width="0.15">FC</text>
<text x="263.4" y="251.5" font-size="11.4" font-weight="bold" fill="#000">G</text>
<rect x="276.9" y="257.5" width="17.6" height="4.1" fill="#fbf1ee"/>
<path fill="#f8ebe6" d="M276.9 257.5h17.6v0.96h-17.6z"/>
<path fill="#fbf3f1" d="M276.9 259.15h17.6v0.84h-17.6z"/>
<rect x="294.5" y="257.5" width="17.6" height="4.1" fill="#d6c9eb"/>
<path fill="#c8b8e3" d="M294.5 258.17h17.6v1.45h-17.6z"/>
<path fill="#d3c6ea" d="M294.5 259.62h17.6v0.74h-17.6zM294.5 260.36h17.6v1.24h-17.6z"/>
<rect x="312.1" y="257.5" width="17.2" height="4.1" fill="#f9e4d7"/>
<path fill="#fbeadf" d="M312.1 257.5h17.2v1.42h-17.2z"/>
<path fill="#f9e2d3" d="M312.1 258.92h17.2v1.23h-17.2z"/>
<rect x="276.9" y="262.4" width="17.6" height="3.2" fill="#f4b789"/>
<path fill="#f0a066" d="M276.9 262.4h17.6v0.9h-17.6z"/>
<path fill="#f8d8c0" d="M276.9 264h17.6v1.38h-17.6z"/>
<rect x="294.5" y="262.4" width="17.6" height="3.2" fill="#f8ece6"/>
<path fill="#f8ebe6" d="M294.5 262.4h17.6v1.35h-17.6z"/>
<rect x="312.1" y="262.4" width="17.2" height="3.2" fill="#dc7a36"/>
<path fill="#c9651f" d="M312.1 262.4h17.2v1.4h-17.2zM312.1 263.8h17.2v1.39h-17.2z"/>
<rect x="276.9" y="266.1" width="17.6" height="12.2" fill="#d6c9eb"/>
<path fill="#d3c6ea" d="M276.9 266.1h17.6v1.04h-17.6zM276.9 273.08h17.6v1.45h-17.6z"/>
<path fill="#c8b8e3" d="M276.9 269.3h17.6v1.46h-17.6z"/>
<path fill="#bfaede" d="M276.9 272.01h17.6v1.08h-17.6z"/>
<rect x="294.5" y="266.1" width="17.6" height="12.2" fill="#d2c5ea"/>
<path fill="#c8b8e3" d="M294.5 266.1h17.6v0.87h-17.6zM294.5 268.97h17.6v0.83h-17.6zM294.5 271.85h17.6v1.31h-17.6zM294.5 273.16h17.6v1.07h-17.6zM294.5 277.56h17.6v0.74h-17.6z"/>
<path fill="#d3c6ea" d="M294.5 269.8h17.6v0.72h-17.6zM294.5 270.52h17.6v0.81h-17.6z"/>
<path fill="#ddd2ef" d="M294.5 275.83h17.6v1.06h-17.6z"/>
<rect x="312.1" y="266.1" width="17.2" height="12.2" fill="#faefea"/>
<path fill="#fbf3f1" d="M312.1 266.1h17.2v0.76h-17.2zM312.1 266.86h17.2v1.11h-17.2zM312.1 276.35h17.2v1.11h-17.2zM312.1 277.46h17.2v0.78h-17.2z"/>
<path fill="#fdf7f5" d="M312.1 268.92h17.2v0.79h-17.2zM312.1 269.71h17.2v0.79h-17.2zM312.1 270.5h17.2v0.64h-17.2z"/>
<path fill="#f4eef6" d="M312.1 271.14h17.2v1.2h-17.2z"/>
<rect x="276.9" y="279.4" width="17.6" height="13.6" fill="#f7d2b9"/>
<path fill="#f3c5a6" d="M276.9 280.06h17.6v1.36h-17.6zM276.9 282.38h17.6v0.89h-17.6zM276.9 284.36h17.6v1.44h-17.6zM276.9 289.68h17.6v1.22h-17.6z"/>
<path fill="#f6cdb2" d="M276.9 283.27h17.6v1.09h-17.6zM276.9 285.8h17.6v1.04h-17.6zM276.9 290.9h17.6v0.95h-17.6z"/>
<path fill="#f0bc98" d="M276.9 288.22h17.6v1.46h-17.6zM276.9 291.85h17.6v1.15h-17.6z"/>
<rect x="294.5" y="279.4" width="17.6" height="13.6" fill="#f3c4a3"/>
<path fill="#f3c5a6" d="M294.5 279.4h17.6v1.38h-17.6zM294.5 284.71h17.6v0.58h-17.6z"/>
<path fill="#f6cdb2" d="M294.5 280.78h17.6v1.38h-17.6zM294.5 285.29h17.6v1.05h-17.6zM294.5 291.82h17.6v0.61h-17.6z"/>
<path fill="#f0bc98" d="M294.5 283.27h17.6v0.91h-17.6zM294.5 290.26h17.6v0.61h-17.6zM294.5 290.87h17.6v0.95h-17.6z"/>
<rect x="312.1" y="279.4" width="17.2" height="13.6" fill="#dacdee"/>
<path fill="#ddd2ef" d="M312.1 280.27h17.2v0.97h-17.2zM312.1 285.35h17.2v0.56h-17.2z"/>
<path fill="#d3c6ea" d="M312.1 281.24h17.2v1.37h-17.2zM312.1 283.37h17.2v0.52h-17.2zM312.1 285.9h17.2v1.11h-17.2zM312.1 287.01h17.2v1.18h-17.2z"/>
<path fill="#c8b8e3" d="M312.1 282.61h17.2v0.76h-17.2z"/>
<path fill="#bfaede" d="M312.1 283.89h17.2v1.46h-17.2z"/>
<rect x="276.9" y="293.8" width="17.6" height="26.6" fill="#f5c9ab"/>
<path fill="#f0bc98" d="M276.9 293.8h17.6v0.59h-17.6zM276.9 298.58h17.6v1.07h-17.6zM276.9 300.48h17.6v0.67h-17.6zM276.9 301.15h17.6v0.71h-17.6zM276.9 314.16h17.6v1.15h-17.6zM276.9 318.09h17.6v1.28h-17.6z"/>
<path fill="#f9dcc8" d="M276.9 294.39h17.6v0.92h-17.6zM276.9 296.69h17.6v0.93h-17.6zM276.9 312.68h17.6v0.81h-17.6zM276.9 315.31h17.6v1.01h-17.6z"/>
<path fill="#f6cdb2" d="M276.9 299.65h17.6v0.83h-17.6zM276.9 310.16h17.6v1.01h-17.6zM276.9 311.17h17.6v0.78h-17.6z"/>
<path fill="#f3c5a6" d="M276.9 301.86h17.6v1.44h-17.6zM276.9 307.09h17.6v1.27h-17.6zM276.9 313.5h17.6v0.66h-17.6zM276.9 319.87h17.6v0.52h-17.6z"/>
<rect x="294.5" y="293.8" width="17.6" height="26.6" fill="#f5ccb0"/>
<path fill="#f3c5a6" d="M294.5 295.21h17.6v0.77h-17.6zM294.5 302.61h17.6v0.71h-17.6zM294.5 303.32h17.6v0.72h-17.6zM294.5 305.95h17.6v1.31h-17.6zM294.5 310.35h17.6v0.76h-17.6z"/>
<path fill="#f9dcc8" d="M294.5 296.96h17.6v0.68h-17.6zM294.5 297.64h17.6v1.24h-17.6zM294.5 301.35h17.6v1.26h-17.6zM294.5 305.1h17.6v0.85h-17.6zM294.5 308.89h17.6v1.46h-17.6z"/>
<path fill="#f0bc98" d="M294.5 298.88h17.6v1.43h-17.6zM294.5 308.2h17.6v0.69h-17.6zM294.5 312.58h17.6v1.43h-17.6z"/>
<path fill="#f6cdb2" d="M294.5 311.11h17.6v1.47h-17.6zM294.5 314.02h17.6v1.47h-17.6zM294.5 319.02h17.6v0.83h-17.6z"/>
<rect x="312.1" y="293.8" width="17.2" height="26.6" fill="#f8dece"/>
<path fill="#fbeadf" d="M312.1 294.75h17.2v0.54h-17.2zM312.1 297.82h17.2v1.42h-17.2zM312.1 300.57h17.2v0.64h-17.2zM312.1 312.92h17.2v1.05h-17.2z"/>
<path fill="#fcf0e8" d="M312.1 299.24h17.2v1.33h-17.2zM312.1 302.55h17.2v1.12h-17.2zM312.1 316.76h17.2v1.21h-17.2z"/>
<path fill="#f6d6c2" d="M312.1 303.66h17.2v1.02h-17.2zM312.1 310.66h17.2v1.44h-17.2zM312.1 313.97h17.2v0.59h-17.2z"/>
<path fill="#f9e2d3" d="M312.1 309.23h17.2v0.75h-17.2z"/>
<rect x="276.9" y="321.2" width="17.6" height="21.8" fill="#faefec"/>
<path fill="#f8e0d4" d="M276.9 322.06h17.6v1.4h-17.6zM276.9 325.95h17.6v0.79h-17.6zM276.9 340.19h17.6v1.47h-17.6z"/>
<path fill="#f8ebe6" d="M276.9 323.46h17.6v1.02h-17.6zM276.9 327.67h17.6v0.56h-17.6zM276.9 333.51h17.6v0.58h-17.6zM276.9 339.31h17.6v0.88h-17.6z"/>
<path fill="#f4eef6" d="M276.9 324.48h17.6v1.47h-17.6zM276.9 332.59h17.6v0.92h-17.6zM276.9 341.66h17.6v1.16h-17.6z"/>
<path fill="#fdf7f5" d="M276.9 328.22h17.6v0.91h-17.6z"/>
<path fill="#fbf3f1" d="M276.9 335.57h17.6v1.48h-17.6zM276.9 338.81h17.6v0.51h-17.6z"/>
<rect x="294.5" y="321.2" width="17.6" height="21.8" fill="#f8ebe5"/>
<path fill="#f4eef6" d="M294.5 321.2h17.6v1.39h-17.6zM294.5 324.68h17.6v1.48h-17.6zM294.5 326.16h17.6v0.56h-17.6zM294.5 330.07h17.6v1.49h-17.6zM294.5 341.88h17.6v1.12h-17.6z"/>
<path fill="#fdf7f5" d="M294.5 323.37h17.6v1.31h-17.6zM294.5 326.72h17.6v1.32h-17.6zM294.5 332.59h17.6v1.08h-17.6z"/>
<path fill="#f8e0d4" d="M294.5 328.04h17.6v0.57h-17.6z"/>
<path fill="#f8ebe6" d="M294.5 339.72h17.6v1.5h-17.6z"/>
<rect x="312.1" y="321.2" width="17.2" height="21.8" fill="#f3c4a3"/>
<path fill="#f6cdb2" d="M312.1 321.78h17.2v1.43h-17.2zM312.1 323.21h17.2v1.46h-17.2zM312.1 326.35h17.2v0.79h-17.2zM312.1 327.15h17.2v1.49h-17.2zM312.1 331.49h17.2v0.66h-17.2zM312.1 336.65h17.2v0.97h-17.2zM312.1 338.37h17.2v1.23h-17.2z"/>
<path fill="#f3c5a6" d="M312.1 325.78h17.2v0.57h-17.2zM312.1 334.19h17.2v0.99h-17.2zM312.1 339.6h17.2v1.11h-17.2z"/>
<path fill="#f9dcc8" d="M312.1 328.63h17.2v1.07h-17.2zM312.1 341.7h17.2v1.3h-17.2z"/>
<path fill="#f0bc98" d="M312.1 330.22h17.2v1.28h-17.2zM312.1 333.43h17.2v0.76h-17.2z"/>
<rect x="276.9" y="343.8" width="17.6" height="22.5" fill="#f7f1f4"/>
<path fill="#f8ebe6" d="M276.9 343.8h17.6v0.63h-17.6zM276.9 350.48h17.6v1.29h-17.6zM276.9 353.2h17.6v1.31h-17.6zM276.9 360.01h17.6v0.78h-17.6zM276.9 363.32h17.6v1.44h-17.6z"/>
<path fill="#fdf7f5" d="M276.9 345.29h17.6v0.58h-17.6zM276.9 349.64h17.6v0.84h-17.6zM276.9 355.62h17.6v0.9h-17.6zM276.9 358.26h17.6v0.65h-17.6zM276.9 362.08h17.6v1.25h-17.6z"/>
<path fill="#e6def0" d="M276.9 349.13h17.6v0.51h-17.6zM276.9 357.61h17.6v0.65h-17.6z"/>
<path fill="#f4eef6" d="M276.9 356.52h17.6v1.09h-17.6z"/>
<rect x="294.5" y="343.8" width="17.6" height="22.5" fill="#f8eae6"/>
<path fill="#fdf7f5" d="M294.5 347.4h17.6v1.34h-17.6zM294.5 356.21h17.6v0.76h-17.6zM294.5 361.93h17.6v0.55h-17.6z"/>
<path fill="#f8ebe6" d="M294.5 348.74h17.6v1.04h-17.6zM294.5 362.48h17.6v1.2h-17.6zM294.5 365.8h17.6v0.5h-17.6z"/>
<path fill="#fbf3f1" d="M294.5 349.79h17.6v1.17h-17.6zM294.5 350.96h17.6v0.59h-17.6z"/>
<path fill="#f5dcd4" d="M294.5 353.73h17.6v1.09h-17.6zM294.5 360.86h17.6v1.07h-17.6zM294.5 364.84h17.6v0.96h-17.6z"/>
<rect x="312.1" y="343.8" width="17.2" height="22.5" fill="#cdbde2"/>
<path fill="#d3c6ea" d="M312.1 343.8h17.2v0.97h-17.2zM312.1 346.4h17.2v1.24h-17.2zM312.1 352.94h17.2v0.85h-17.2zM312.1 353.8h17.2v1.36h-17.2zM312.1 359.36h17.2v0.94h-17.2zM312.1 360.3h17.2v1.28h-17.2zM312.1 362.35h17.2v0.9h-17.2z"/>
<path fill="#bfaede" d="M312.1 344.77h17.2v0.97h-17.2zM312.1 349.38h17.2v0.62h-17.2zM312.1 350.72h17.2v0.9h-17.2zM312.1 355.15h17.2v1.29h-17.2z"/>
<path fill="#ddd2ef" d="M312.1 345.74h17.2v0.66h-17.2zM312.1 347.64h17.2v1.17h-17.2zM312.1 348.81h17.2v0.57h-17.2zM312.1 351.61h17.2v1.33h-17.2zM312.1 357.57h17.2v1.1h-17.2z"/>
<path fill="#c8b8e3" d="M312.1 364.68h17.2v1.42h-17.2z"/>
<rect x="276.9" y="261.6" width="52.4" height="0.85" fill="#5e5a5c"/>
<rect x="276.9" y="265.6" width="52.4" height="0.85" fill="#5e5a5c"/>
<rect x="276.9" y="278.3" width="52.4" height="0.85" fill="#5e5a5c"/>
<rect x="276.9" y="293" width="52.4" height="0.85" fill="#5e5a5c"/>
<rect x="276.9" y="320.4" width="52.4" height="0.85" fill="#5e5a5c"/>
<rect x="276.9" y="343" width="52.4" height="0.85" fill="#5e5a5c"/>
<rect x="276.9" y="256.9" width="52.4" height="0.7" fill="#5e5a5c"/>
<rect x="276.9" y="366.3" width="52.4" height="0.7" fill="#5e5a5c"/>
<rect x="276.45" y="256.9" width="0.9" height="110.1" fill="#5e5a5c"/>
<rect x="294.05" y="256.9" width="0.9" height="110.1" fill="#5e5a5c"/>
<rect x="311.65" y="256.9" width="0.9" height="110.1" fill="#5e5a5c"/>
<rect x="328.85" y="256.9" width="0.9" height="110.1" fill="#5e5a5c"/>
<text x="275.7" y="260.55" font-size="3.8" text-anchor="middle" fill="#333" transform="rotate(90 275.7 260.55)" stroke="#333" stroke-width="0.2">7</text>
<rect x="272.3" y="262" width="4.2" height="4" fill="#cfcfcf"/>
<text x="275.7" y="265" font-size="3.8" text-anchor="middle" fill="#333" transform="rotate(90 275.7 265)" stroke="#333" stroke-width="0.2">6</text>
<text x="275.7" y="273.2" font-size="3.8" text-anchor="middle" fill="#333" transform="rotate(90 275.7 273.2)" stroke="#333" stroke-width="0.2">5</text>
<rect x="272.3" y="279" width="4.2" height="14.4" fill="#cfcfcf"/>
<text x="275.7" y="287.2" font-size="3.8" text-anchor="middle" fill="#333" transform="rotate(90 275.7 287.2)" stroke="#333" stroke-width="0.2">4</text>
<text x="275.7" y="308.1" font-size="3.8" text-anchor="middle" fill="#333" transform="rotate(90 275.7 308.1)" stroke="#333" stroke-width="0.2">3</text>
<rect x="272.3" y="320.8" width="4.2" height="22.6" fill="#cfcfcf"/>
<text x="275.7" y="333.1" font-size="3.8" text-anchor="middle" fill="#333" transform="rotate(90 275.7 333.1)" stroke="#333" stroke-width="0.2">2</text>
<text x="275.7" y="356.05" font-size="3.8" text-anchor="middle" fill="#333" transform="rotate(90 275.7 356.05)" stroke="#333" stroke-width="0.2">1</text>
<line x1="276.4" y1="256.9" x2="276.4" y2="367" stroke="#9a9a9a" stroke-width="0.6"/>
<text x="332.9" y="258.1" font-size="5.7" fill="#231f20" textLength="10.8" lengthAdjust="spacingAndGlyphs" stroke="#231f20" stroke-width="0.2">BCL2</text>
<text x="332.9" y="263.2" font-size="5.7" fill="#231f20" textLength="10.6" lengthAdjust="spacingAndGlyphs" stroke="#231f20" stroke-width="0.2">RGS1</text>
<text x="332.9" y="269.1" font-size="5.7" fill="#231f20" textLength="20.6" lengthAdjust="spacingAndGlyphs" stroke="#231f20" stroke-width="0.2">TNFAIP3</text>
<text x="332.9" y="273.9" font-size="5.7" fill="#231f20" textLength="13.3" lengthAdjust="spacingAndGlyphs" stroke="#231f20" stroke-width="0.2">TNFA</text>
<text x="332.9" y="279.3" font-size="5.7" fill="#231f20" textLength="9.3" lengthAdjust="spacingAndGlyphs" stroke="#231f20" stroke-width="0.2">FOS</text>
<text x="332.9" y="287.8" font-size="5.7" fill="#231f20" textLength="9" lengthAdjust="spacingAndGlyphs" stroke="#231f20" stroke-width="0.2">LCK</text>
<text x="332.9" y="292.7" font-size="5.7" fill="#231f20" textLength="15.5" lengthAdjust="spacingAndGlyphs" stroke="#231f20" stroke-width="0.2">PRKCB</text>
<text x="332.9" y="297.8" font-size="5.7" fill="#231f20" textLength="13.4" lengthAdjust="spacingAndGlyphs" stroke="#231f20" stroke-width="0.2">FCRL2</text>
<text x="332.9" y="303" font-size="5.7" fill="#231f20" textLength="20" lengthAdjust="spacingAndGlyphs" stroke="#231f20" stroke-width="0.2">CDKN1A</text>
<text x="332.9" y="308" font-size="5.7" fill="#231f20" textLength="13.4" lengthAdjust="spacingAndGlyphs" stroke="#231f20" stroke-width="0.2">LAIR1</text>
<text x="332.9" y="312.8" font-size="5.7" fill="#231f20" textLength="7.7" lengthAdjust="spacingAndGlyphs" stroke="#231f20" stroke-width="0.2">BIK</text>
<text x="332.9" y="318" font-size="5.7" fill="#231f20" textLength="11" lengthAdjust="spacingAndGlyphs" stroke="#231f20" stroke-width="0.2">TLR7</text>
<text x="332.9" y="323" font-size="5.7" fill="#231f20" textLength="18.3" lengthAdjust="spacingAndGlyphs" stroke="#231f20" stroke-width="0.2">FCGR2B</text>
<path d="M332.8 267 L330 270.5" fill="none" stroke="#222" stroke-width="0.6" stroke-linejoin="round"/>
<path d="M332.8 285.8 L330 283" fill="none" stroke="#222" stroke-width="0.6" stroke-linejoin="round"/>
<text x="285.4" y="370.3" font-size="6" text-anchor="end" fill="#231f20" textLength="28.5" lengthAdjust="spacingAndGlyphs" transform="rotate(-45 285.4 370.3)" stroke="#231f20" stroke-width="0.2">WSU-DLCL2</text>
<text x="290.2" y="373.5" font-size="6" text-anchor="end" fill="#231f20" textLength="27" lengthAdjust="spacingAndGlyphs" transform="rotate(-45 290.2 373.5)" stroke="#231f20" stroke-width="0.2">KDM5-inh1</text>
<text x="304" y="370" font-size="6" text-anchor="end" fill="#231f20" textLength="21.5" lengthAdjust="spacingAndGlyphs" transform="rotate(-45 304 370)" stroke="#231f20" stroke-width="0.2">WSU#22</text>
<text x="309" y="373.5" font-size="6" text-anchor="end" fill="#231f20" textLength="27" lengthAdjust="spacingAndGlyphs" transform="rotate(-45 309 373.5)" stroke="#231f20" stroke-width="0.2">KDM5-inh1</text>
<text x="325" y="370.3" font-size="6" text-anchor="end" fill="#231f20" textLength="31.5" lengthAdjust="spacingAndGlyphs" transform="rotate(-45 325 370.3)" stroke="#231f20" stroke-width="0.2">WSU-DLCL2</text>
<text x="329.2" y="374.2" font-size="6" text-anchor="end" fill="#231f20" textLength="28.5" lengthAdjust="spacingAndGlyphs" transform="rotate(-45 329.2 374.2)" stroke="#231f20" stroke-width="0.2">to WSU#22</text>
<defs><linearGradient id="cbar"><stop offset="0" stop-color="#3d1786"/><stop offset="0.25" stop-color="#9e8dc8"/><stop offset="0.5" stop-color="#f8f6f6"/><stop offset="0.75" stop-color="#eeb58e"/><stop offset="1" stop-color="#b65710"/></linearGradient></defs>
<rect x="273.4" y="400" width="53.6" height="3.4" fill="url(#cbar)"/>
<text x="274.8" y="411.2" font-size="5.6" text-anchor="middle" fill="#231f20" stroke="#231f20" stroke-width="0.2">-5</text>
<text x="289.5" y="411.2" font-size="5.6" text-anchor="middle" fill="#231f20" stroke="#231f20" stroke-width="0.2">-2</text>
<text x="299.6" y="411.2" font-size="5.6" text-anchor="middle" fill="#231f20" stroke="#231f20" stroke-width="0.2">0</text>
<text x="310.2" y="411.2" font-size="5.6" text-anchor="middle" fill="#231f20" stroke="#231f20" stroke-width="0.2">2</text>
<text x="325.4" y="411.2" font-size="5.6" text-anchor="middle" fill="#231f20" stroke="#231f20" stroke-width="0.2">5</text>
<text x="289.2" y="421.6" font-size="7.4" fill="#231f20" textLength="20.8" lengthAdjust="spacingAndGlyphs" stroke="#231f20" stroke-width="0.17">Log2 FC</text>
<text x="368.6" y="254.7" font-size="11.4" font-weight="bold" fill="#000">H</text>
<text x="403.8" y="260.6" font-size="7.6" fill="#231f20" textLength="92.4" lengthAdjust="spacingAndGlyphs" stroke="#231f20" stroke-width="0.15">H3K4me3/H3Kme1 ratio</text>
<line x1="394" y1="260.5" x2="394" y2="361" stroke="#000" stroke-width="1"/>
<line x1="393.5" y1="360.8" x2="507.5" y2="360.8" stroke="#000" stroke-width="1"/>
<line x1="391.3" y1="264.8" x2="394" y2="264.8" stroke="#000" stroke-width="0.9"/>
<text x="387.2" y="267.1" text-anchor="end" fill="#231f20" stroke="#231f20" stroke-width="0.17">6</text>
<line x1="391.3" y1="289.9" x2="394" y2="289.9" stroke="#000" stroke-width="0.9"/>
<text x="387.2" y="292.2" text-anchor="end" fill="#231f20" stroke="#231f20" stroke-width="0.17">3</text>
<line x1="391.3" y1="314.9" x2="394" y2="314.9" stroke="#000" stroke-width="0.9"/>
<text x="387.2" y="317.2" text-anchor="end" fill="#231f20" stroke="#231f20" stroke-width="0.17">0</text>
<line x1="391.3" y1="339.9" x2="394" y2="339.9" stroke="#000" stroke-width="0.9"/>
<text x="387.2" y="342.2" text-anchor="end" fill="#231f20" stroke="#231f20" stroke-width="0.17">−3</text>
<line x1="394" y1="315" x2="508.8" y2="315" stroke="#444" stroke-width="1" stroke-dasharray="2.6 1.6"/>
<line x1="401.8" y1="275" x2="401.8" y2="292" stroke="#c8102e" stroke-width="1.25"/>
<line x1="401.8" y1="314.5" x2="401.8" y2="346.3" stroke="#c8102e" stroke-width="1.25"/>
<rect x="398.4" y="292" width="6.8" height="22.5" fill="none" stroke="#c8102e" stroke-width="1.25"/>
<line x1="398.4" y1="299.3" x2="405.2" y2="299.3" stroke="#c8102e" stroke-width="1.25"/>
<line x1="401.8" y1="360.8" x2="401.8" y2="363.2" stroke="#000" stroke-width="0.9"/>
<line x1="415.5" y1="275.8" x2="415.5" y2="300" stroke="#f5c000" stroke-width="1.25"/>
<line x1="415.5" y1="323.3" x2="415.5" y2="350.5" stroke="#f5c000" stroke-width="1.25"/>
<rect x="412.1" y="300" width="6.8" height="23.3" fill="none" stroke="#f5c000" stroke-width="1.25"/>
<line x1="412.1" y1="309" x2="418.9" y2="309" stroke="#f5c000" stroke-width="1.25"/>
<line x1="415.5" y1="360.8" x2="415.5" y2="363.2" stroke="#000" stroke-width="0.9"/>
<line x1="429.5" y1="281.3" x2="429.5" y2="306.3" stroke="#3ca63a" stroke-width="1.25"/>
<line x1="429.5" y1="332" x2="429.5" y2="358" stroke="#3ca63a" stroke-width="1.25"/>
<rect x="426.1" y="306.3" width="6.8" height="25.7" fill="none" stroke="#3ca63a" stroke-width="1.25"/>
<line x1="426.1" y1="319" x2="432.9" y2="319" stroke="#3ca63a" stroke-width="1.25"/>
<line x1="429.5" y1="360.8" x2="429.5" y2="363.2" stroke="#000" stroke-width="0.9"/>
<line x1="443.5" y1="282.5" x2="443.5" y2="308" stroke="#1b7a5e" stroke-width="1.25"/>
<line x1="443.5" y1="331.8" x2="443.5" y2="359.3" stroke="#1b7a5e" stroke-width="1.25"/>
<rect x="440.1" y="308" width="6.8" height="23.8" fill="none" stroke="#1b7a5e" stroke-width="1.25"/>
<line x1="440.1" y1="319" x2="446.9" y2="319" stroke="#1b7a5e" stroke-width="1.25"/>
<line x1="443.5" y1="360.8" x2="443.5" y2="363.2" stroke="#000" stroke-width="0.9"/>
<line x1="457.5" y1="276.8" x2="457.5" y2="293" stroke="#2a5fa6" stroke-width="1.25"/>
<line x1="457.5" y1="309.5" x2="457.5" y2="335" stroke="#2a5fa6" stroke-width="1.25"/>
<rect x="454.1" y="293" width="6.8" height="16.5" fill="none" stroke="#2a5fa6" stroke-width="1.25"/>
<line x1="454.1" y1="299.5" x2="460.9" y2="299.5" stroke="#2a5fa6" stroke-width="1.25"/>
<line x1="457.5" y1="360.8" x2="457.5" y2="363.2" stroke="#000" stroke-width="0.9"/>
<line x1="471.3" y1="280.5" x2="471.3" y2="309.5" stroke="#3db3ea" stroke-width="1.25"/>
<line x1="471.3" y1="330" x2="471.3" y2="342.5" stroke="#3db3ea" stroke-width="1.25"/>
<rect x="467.9" y="309.5" width="6.8" height="20.5" fill="none" stroke="#3db3ea" stroke-width="1.25"/>
<line x1="467.9" y1="323.8" x2="474.7" y2="323.8" stroke="#3db3ea" stroke-width="1.25"/>
<line x1="471.3" y1="360.8" x2="471.3" y2="363.2" stroke="#000" stroke-width="0.9"/>
<line x1="485.5" y1="276.8" x2="485.5" y2="292" stroke="#6b3d8f" stroke-width="1.25"/>
<line x1="485.5" y1="312.5" x2="485.5" y2="336.3" stroke="#6b3d8f" stroke-width="1.25"/>
<rect x="482.1" y="292" width="6.8" height="20.5" fill="none" stroke="#6b3d8f" stroke-width="1.25"/>
<line x1="482.1" y1="303.5" x2="488.9" y2="303.5" stroke="#6b3d8f" stroke-width="1.25"/>
<line x1="485.5" y1="360.8" x2="485.5" y2="363.2" stroke="#000" stroke-width="0.9"/>
<line x1="499.3" y1="270" x2="499.3" y2="285" stroke="#e8168a" stroke-width="1.25"/>
<line x1="499.3" y1="298" x2="499.3" y2="317" stroke="#e8168a" stroke-width="1.25"/>
<rect x="495.9" y="285" width="6.8" height="13" fill="none" stroke="#e8168a" stroke-width="1.25"/>
<line x1="495.9" y1="290.5" x2="502.7" y2="290.5" stroke="#e8168a" stroke-width="1.25"/>
<line x1="499.3" y1="360.8" x2="499.3" y2="363.2" stroke="#000" stroke-width="0.9"/>
<circle cx="401.8" cy="352.5" r="1" fill="#c8102e"/>
<circle cx="457.5" cy="335" r="1" fill="#2a5fa6"/>
<rect x="498" y="317" width="2.6" height="30" fill="#e8168a"/>
<circle cx="499.3" cy="351.3" r="1" fill="#e8168a"/>
<text x="401.8" y="372.7" font-size="7.6" text-anchor="middle" fill="#231f20" stroke="#231f20" stroke-width="0.15">1</text>
<text x="415.5" y="372.7" font-size="7.6" text-anchor="middle" fill="#231f20" stroke="#231f20" stroke-width="0.15">2</text>
<text x="429.5" y="372.7" font-size="7.6" text-anchor="middle" fill="#231f20" stroke="#231f20" stroke-width="0.15">3</text>
<text x="443.5" y="372.7" font-size="7.6" text-anchor="middle" fill="#231f20" stroke="#231f20" stroke-width="0.15">4</text>
<text x="457.5" y="372.7" font-size="7.6" text-anchor="middle" fill="#231f20" stroke="#231f20" stroke-width="0.15">5</text>
<text x="471.3" y="372.7" font-size="7.6" text-anchor="middle" fill="#231f20" stroke="#231f20" stroke-width="0.15">6</text>
<text x="485.5" y="372.7" font-size="7.6" text-anchor="middle" fill="#231f20" stroke="#231f20" stroke-width="0.15">7</text>
<text x="489.3" y="372.7" font-size="7.6" fill="#231f20" textLength="24.3" lengthAdjust="spacingAndGlyphs" stroke="#231f20" stroke-width="0.15">Control</text>
<text x="439.5" y="384.8" font-size="7.6" fill="#231f20" textLength="21.8" lengthAdjust="spacingAndGlyphs" stroke="#231f20" stroke-width="0.15">Cluster</text>
<text x="375" y="350.4" font-size="8" fill="#231f20" textLength="86" lengthAdjust="spacingAndGlyphs" transform="rotate(-90 375 350.4)" stroke="#231f20" stroke-width="0.15">H3K4me3/H3K4me1 log2 ratio</text>
<text x="7.6" y="437.3" font-size="11.4" font-weight="bold" fill="#000">I</text>
<text x="13.7" y="444.8" font-size="8.6" font-weight="bold" fill="#000">(i)</text>
<text x="122" y="444.8" font-size="8.6" font-weight="bold" fill="#000">(ii)</text>
<text x="35.3" y="447.6" font-size="7.2" fill="#231f20" textLength="70.3" lengthAdjust="spacingAndGlyphs" stroke="#231f20" stroke-width="0.17">Cluster 4 (RNA-seq)</text>
<text x="162.5" y="447.6" font-size="7.2" fill="#231f20" textLength="70.3" lengthAdjust="spacingAndGlyphs" stroke="#231f20" stroke-width="0.17">Cluster 4 (ChIP-seq)</text>
<line x1="41.3" y1="484" x2="100.3" y2="484" stroke="#111" stroke-width="1" stroke-dasharray="2.4 1.4"/>
<line x1="50.5" y1="465.2" x2="50.5" y2="480.6" stroke="#5b2a82" stroke-width="1.2"/>
<line x1="50.5" y1="487.7" x2="50.5" y2="500.8" stroke="#5b2a82" stroke-width="1.2"/>
<rect x="46.2" y="480.6" width="8.6" height="7.1" fill="none" stroke="#5b2a82" stroke-width="1.2"/>
<line x1="46.2" y1="484" x2="54.8" y2="484" stroke="#5b2a82" stroke-width="1.2"/>
<line x1="48.5" y1="465.2" x2="52.5" y2="465.2" stroke="#5b2a82" stroke-width="1.2"/>
<line x1="48.5" y1="500.8" x2="52.5" y2="500.8" stroke="#5b2a82" stroke-width="1.2"/>
<line x1="50.5" y1="514.7" x2="50.5" y2="516.7" stroke="#000" stroke-width="0.8"/>
<line x1="64" y1="460.4" x2="64" y2="477.3" stroke="#e8168a" stroke-width="1.2"/>
<line x1="64" y1="484.4" x2="64" y2="498.5" stroke="#e8168a" stroke-width="1.2"/>
<rect x="59.7" y="477.3" width="8.6" height="7.1" fill="none" stroke="#e8168a" stroke-width="1.2"/>
<line x1="59.7" y1="481.2" x2="68.3" y2="481.2" stroke="#e8168a" stroke-width="1.2"/>
<line x1="62" y1="460.4" x2="66" y2="460.4" stroke="#e8168a" stroke-width="1.2"/>
<line x1="62" y1="498.5" x2="66" y2="498.5" stroke="#e8168a" stroke-width="1.2"/>
<line x1="64" y1="514.7" x2="64" y2="516.7" stroke="#000" stroke-width="0.8"/>
<line x1="77.7" y1="467" x2="77.7" y2="483" stroke="#5b2a82" stroke-width="1.2"/>
<line x1="77.7" y1="491.5" x2="77.7" y2="501.7" stroke="#5b2a82" stroke-width="1.2"/>
<rect x="73.4" y="483" width="8.6" height="8.5" fill="none" stroke="#5b2a82" stroke-width="1.2"/>
<line x1="73.4" y1="487.7" x2="82" y2="487.7" stroke="#5b2a82" stroke-width="1.2"/>
<line x1="75.7" y1="467" x2="79.7" y2="467" stroke="#5b2a82" stroke-width="1.2"/>
<line x1="75.7" y1="501.7" x2="79.7" y2="501.7" stroke="#5b2a82" stroke-width="1.2"/>
<line x1="77.7" y1="514.7" x2="77.7" y2="516.7" stroke="#000" stroke-width="0.8"/>
<line x1="91" y1="460.4" x2="91" y2="478" stroke="#e8168a" stroke-width="1.2"/>
<line x1="91" y1="486.3" x2="91" y2="498.5" stroke="#e8168a" stroke-width="1.2"/>
<rect x="86.7" y="478" width="8.6" height="8.3" fill="none" stroke="#e8168a" stroke-width="1.2"/>
<line x1="86.7" y1="482" x2="95.3" y2="482" stroke="#e8168a" stroke-width="1.2"/>
<line x1="89" y1="460.4" x2="93" y2="460.4" stroke="#e8168a" stroke-width="1.2"/>
<line x1="89" y1="498.5" x2="93" y2="498.5" stroke="#e8168a" stroke-width="1.2"/>
<line x1="91" y1="514.7" x2="91" y2="516.7" stroke="#000" stroke-width="0.8"/>
<rect x="41.3" y="456.2" width="59" height="58.5" fill="none" stroke="#111" stroke-width="1"/>
<line x1="70.7" y1="456.2" x2="70.7" y2="514.7" stroke="#111" stroke-width="0.9"/>
<line x1="37.3" y1="456.2" x2="41.3" y2="456.2" stroke="#111" stroke-width="0.8"/>
<text x="34.3" y="458.1" font-size="5.6" text-anchor="end" fill="#231f20" stroke="#231f20" stroke-width="0.2">1000</text>
<line x1="37.3" y1="465.9" x2="41.3" y2="465.9" stroke="#111" stroke-width="0.8"/>
<text x="34.3" y="467.8" font-size="5.6" text-anchor="end" fill="#231f20" stroke="#231f20" stroke-width="0.2">100</text>
<line x1="37.3" y1="475.6" x2="41.3" y2="475.6" stroke="#111" stroke-width="0.8"/>
<text x="34.3" y="477.5" font-size="5.6" text-anchor="end" fill="#231f20" stroke="#231f20" stroke-width="0.2">10</text>
<line x1="37.3" y1="485.4" x2="41.3" y2="485.4" stroke="#111" stroke-width="0.8"/>
<text x="34.3" y="487.3" font-size="5.6" text-anchor="end" fill="#231f20" stroke="#231f20" stroke-width="0.2">1</text>
<line x1="37.3" y1="495.2" x2="41.3" y2="495.2" stroke="#111" stroke-width="0.8"/>
<text x="34.3" y="497.1" font-size="5.6" text-anchor="end" fill="#231f20" stroke="#231f20" stroke-width="0.2">0.1</text>
<line x1="37.3" y1="505" x2="41.3" y2="505" stroke="#111" stroke-width="0.8"/>
<text x="34.3" y="506.9" font-size="5.6" text-anchor="end" fill="#231f20" stroke="#231f20" stroke-width="0.2">0.01</text>
<line x1="37.3" y1="514.7" x2="41.3" y2="514.7" stroke="#111" stroke-width="0.8"/>
<text x="34.3" y="516.6" font-size="5.6" text-anchor="end" fill="#231f20" stroke="#231f20" stroke-width="0.2">0.001</text>
<text x="47.5" y="508" font-size="5.7" fill="#a8a8a8" textLength="12.5" lengthAdjust="spacingAndGlyphs" stroke="#a8a8a8" stroke-width="0.2">WSU-</text>
<text x="47" y="514" font-size="5.7" fill="#a8a8a8" textLength="16" lengthAdjust="spacingAndGlyphs" stroke="#a8a8a8" stroke-width="0.2">DLCL2</text>
<text x="75.3" y="512.5" font-size="5.7" fill="#a8a8a8" textLength="20.6" lengthAdjust="spacingAndGlyphs" stroke="#a8a8a8" stroke-width="0.2">WSU#22</text>
<text x="13.9" y="497.1" font-size="8.4" fill="#231f20" textLength="23.6" lengthAdjust="spacingAndGlyphs" transform="rotate(-90 13.9 497.1)" stroke="#231f20" stroke-width="0.15">logCPM</text>
<text x="52.6" y="539.7" fill="#231f20" textLength="18.7" lengthAdjust="spacingAndGlyphs" transform="rotate(-90 52.6 539.7)" stroke="#231f20" stroke-width="0.17">DMSO</text>
<text x="67.2" y="553.5" fill="#231f20" textLength="32.5" lengthAdjust="spacingAndGlyphs" transform="rotate(-90 67.2 553.5)" stroke="#231f20" stroke-width="0.17">KDM5-inh1</text>
<text x="80.8" y="539.7" fill="#231f20" textLength="18.7" lengthAdjust="spacingAndGlyphs" transform="rotate(-90 80.8 539.7)" stroke="#231f20" stroke-width="0.17">DMSO</text>
<text x="94.8" y="553.5" fill="#231f20" textLength="32.5" lengthAdjust="spacingAndGlyphs" transform="rotate(-90 94.8 553.5)" stroke="#231f20" stroke-width="0.17">KDM5-inh1</text>
<line x1="157.3" y1="480.5" x2="234.3" y2="480.5" stroke="#111" stroke-width="1" stroke-dasharray="2.4 1.4"/>
<line x1="162.6" y1="462.7" x2="162.6" y2="472" stroke="#f5c000" stroke-width="1.2"/>
<line x1="162.6" y1="487.6" x2="162.6" y2="498" stroke="#f5c000" stroke-width="1.2"/>
<rect x="160.2" y="472" width="4.8" height="15.6" fill="none" stroke="#f5c000" stroke-width="1.2"/>
<line x1="160.2" y1="480.5" x2="165" y2="480.5" stroke="#f5c000" stroke-width="1.2"/>
<line x1="161.3" y1="462.7" x2="163.9" y2="462.7" stroke="#f5c000" stroke-width="1"/>
<line x1="161.3" y1="498" x2="163.9" y2="498" stroke="#f5c000" stroke-width="1"/>
<line x1="162.6" y1="455.8" x2="162.6" y2="457.4" stroke="#000" stroke-width="0.8"/>
<line x1="162.6" y1="514.7" x2="162.6" y2="516.7" stroke="#000" stroke-width="0.8"/>
<line x1="171" y1="458" x2="171" y2="463.8" stroke="#d0103a" stroke-width="1.2"/>
<line x1="171" y1="475.4" x2="171" y2="487" stroke="#d0103a" stroke-width="1.2"/>
<rect x="168.6" y="463.8" width="4.8" height="11.6" fill="none" stroke="#d0103a" stroke-width="1.2"/>
<line x1="168.6" y1="468.5" x2="173.4" y2="468.5" stroke="#d0103a" stroke-width="1.2"/>
<line x1="169.7" y1="458" x2="172.3" y2="458" stroke="#d0103a" stroke-width="1"/>
<line x1="169.7" y1="487" x2="172.3" y2="487" stroke="#d0103a" stroke-width="1"/>
<line x1="171" y1="455.8" x2="171" y2="457.4" stroke="#000" stroke-width="0.8"/>
<line x1="171" y1="514.7" x2="171" y2="516.7" stroke="#000" stroke-width="0.8"/>
<line x1="179.3" y1="460.4" x2="179.3" y2="473" stroke="#3ab0e8" stroke-width="1.2"/>
<line x1="179.3" y1="480.5" x2="179.3" y2="491.5" stroke="#3ab0e8" stroke-width="1.2"/>
<rect x="176.9" y="473" width="4.8" height="7.5" fill="none" stroke="#3ab0e8" stroke-width="1.2"/>
<line x1="176.9" y1="476.5" x2="181.7" y2="476.5" stroke="#3ab0e8" stroke-width="1.2"/>
<line x1="178" y1="460.4" x2="180.6" y2="460.4" stroke="#3ab0e8" stroke-width="1"/>
<line x1="178" y1="491.5" x2="180.6" y2="491.5" stroke="#3ab0e8" stroke-width="1"/>
<line x1="179.3" y1="455.8" x2="179.3" y2="457.4" stroke="#000" stroke-width="0.8"/>
<line x1="179.3" y1="514.7" x2="179.3" y2="516.7" stroke="#000" stroke-width="0.8"/>
<line x1="188.3" y1="466" x2="188.3" y2="476.5" stroke="#1f5aa0" stroke-width="1.2"/>
<line x1="188.3" y1="484.2" x2="188.3" y2="493.4" stroke="#1f5aa0" stroke-width="1.2"/>
<rect x="185.9" y="476.5" width="4.8" height="7.7" fill="none" stroke="#1f5aa0" stroke-width="1.2"/>
<line x1="185.9" y1="480.5" x2="190.7" y2="480.5" stroke="#1f5aa0" stroke-width="1.2"/>
<line x1="187" y1="466" x2="189.6" y2="466" stroke="#1f5aa0" stroke-width="1"/>
<line x1="187" y1="493.4" x2="189.6" y2="493.4" stroke="#1f5aa0" stroke-width="1"/>
<line x1="188.3" y1="455.8" x2="188.3" y2="457.4" stroke="#000" stroke-width="0.8"/>
<line x1="188.3" y1="514.7" x2="188.3" y2="516.7" stroke="#000" stroke-width="0.8"/>
<line x1="197.2" y1="461.5" x2="197.2" y2="473.5" stroke="#f5c000" stroke-width="1.2"/>
<line x1="197.2" y1="489.2" x2="197.2" y2="506" stroke="#f5c000" stroke-width="1.2"/>
<rect x="194.8" y="473.5" width="4.8" height="15.7" fill="none" stroke="#f5c000" stroke-width="1.2"/>
<line x1="194.8" y1="481" x2="199.6" y2="481" stroke="#f5c000" stroke-width="1.2"/>
<line x1="195.9" y1="461.5" x2="198.5" y2="461.5" stroke="#f5c000" stroke-width="1"/>
<line x1="195.9" y1="506" x2="198.5" y2="506" stroke="#f5c000" stroke-width="1"/>
<line x1="197.2" y1="455.8" x2="197.2" y2="457.4" stroke="#000" stroke-width="0.8"/>
<line x1="197.2" y1="514.7" x2="197.2" y2="516.7" stroke="#000" stroke-width="0.8"/>
<line x1="205.4" y1="457" x2="205.4" y2="462.7" stroke="#d0103a" stroke-width="1.2"/>
<line x1="205.4" y1="475.4" x2="205.4" y2="494.3" stroke="#d0103a" stroke-width="1.2"/>
<rect x="203" y="462.7" width="4.8" height="12.7" fill="none" stroke="#d0103a" stroke-width="1.2"/>
<line x1="203" y1="468.5" x2="207.8" y2="468.5" stroke="#d0103a" stroke-width="1.2"/>
<line x1="204.1" y1="457" x2="206.7" y2="457" stroke="#d0103a" stroke-width="1"/>
<line x1="204.1" y1="494.3" x2="206.7" y2="494.3" stroke="#d0103a" stroke-width="1"/>
<line x1="205.4" y1="455.8" x2="205.4" y2="457.4" stroke="#000" stroke-width="0.8"/>
<line x1="205.4" y1="514.7" x2="205.4" y2="516.7" stroke="#000" stroke-width="0.8"/>
<line x1="214" y1="460.4" x2="214" y2="473" stroke="#3ab0e8" stroke-width="1.2"/>
<line x1="214" y1="481" x2="214" y2="491" stroke="#3ab0e8" stroke-width="1.2"/>
<rect x="211.6" y="473" width="4.8" height="8" fill="none" stroke="#3ab0e8" stroke-width="1.2"/>
<line x1="211.6" y1="477.2" x2="216.4" y2="477.2" stroke="#3ab0e8" stroke-width="1.2"/>
<line x1="212.7" y1="460.4" x2="215.3" y2="460.4" stroke="#3ab0e8" stroke-width="1"/>
<line x1="212.7" y1="491" x2="215.3" y2="491" stroke="#3ab0e8" stroke-width="1"/>
<line x1="214" y1="455.8" x2="214" y2="457.4" stroke="#000" stroke-width="0.8"/>
<line x1="214" y1="514.7" x2="214" y2="516.7" stroke="#000" stroke-width="0.8"/>
<line x1="222.9" y1="465" x2="222.9" y2="475.4" stroke="#1f5aa0" stroke-width="1.2"/>
<line x1="222.9" y1="482.8" x2="222.9" y2="489.2" stroke="#1f5aa0" stroke-width="1.2"/>
<rect x="220.5" y="475.4" width="4.8" height="7.4" fill="none" stroke="#1f5aa0" stroke-width="1.2"/>
<line x1="220.5" y1="478.8" x2="225.3" y2="478.8" stroke="#1f5aa0" stroke-width="1.2"/>
<line x1="221.6" y1="465" x2="224.2" y2="465" stroke="#1f5aa0" stroke-width="1"/>
<line x1="221.6" y1="489.2" x2="224.2" y2="489.2" stroke="#1f5aa0" stroke-width="1"/>
<line x1="222.9" y1="455.8" x2="222.9" y2="457.4" stroke="#000" stroke-width="0.8"/>
<line x1="222.9" y1="514.7" x2="222.9" y2="516.7" stroke="#000" stroke-width="0.8"/>
<rect x="157.3" y="455.8" width="77" height="58.9" fill="none" stroke="#111" stroke-width="1"/>
<line x1="192.4" y1="455.8" x2="192.4" y2="514.7" stroke="#111" stroke-width="0.9"/>
<line x1="153.3" y1="455.8" x2="157.3" y2="455.8" stroke="#111" stroke-width="0.8"/>
<text x="151.5" y="457.7" font-size="5.6" text-anchor="end" fill="#231f20" stroke="#231f20" stroke-width="0.2">1000</text>
<line x1="153.3" y1="475.4" x2="157.3" y2="475.4" stroke="#111" stroke-width="0.8"/>
<text x="151.5" y="477.3" font-size="5.6" text-anchor="end" fill="#231f20" stroke="#231f20" stroke-width="0.2">100</text>
<line x1="153.3" y1="495" x2="157.3" y2="495" stroke="#111" stroke-width="0.8"/>
<text x="151.5" y="496.9" font-size="5.6" text-anchor="end" fill="#231f20" stroke="#231f20" stroke-width="0.2">10</text>
<line x1="153.3" y1="514.6" x2="157.3" y2="514.6" stroke="#111" stroke-width="0.8"/>
<text x="151.5" y="516.5" font-size="5.6" text-anchor="end" fill="#231f20" stroke="#231f20" stroke-width="0.2">1</text>
<text x="167" y="508" font-size="5.7" fill="#a8a8a8" textLength="12.5" lengthAdjust="spacingAndGlyphs" stroke="#a8a8a8" stroke-width="0.2">WSU-</text>
<text x="166.5" y="514" font-size="5.7" fill="#a8a8a8" textLength="16" lengthAdjust="spacingAndGlyphs" stroke="#a8a8a8" stroke-width="0.2">DLCL2</text>
<text x="202.3" y="512.5" font-size="5.7" fill="#a8a8a8" textLength="20.6" lengthAdjust="spacingAndGlyphs" stroke="#a8a8a8" stroke-width="0.2">WSU#22</text>
<text x="122.5" y="503.7" font-size="7.5" fill="#231f20" textLength="35.9" lengthAdjust="spacingAndGlyphs" transform="rotate(-90 122.5 503.7)" stroke="#231f20" stroke-width="0.17">Read counts</text>
<text x="132.9" y="509.4" font-size="7.5" fill="#231f20" textLength="47.7" lengthAdjust="spacingAndGlyphs" transform="rotate(-90 132.9 509.4)" stroke="#231f20" stroke-width="0.17">(TSS +/- 500bp)</text>
<text x="164.8" y="538.5" fill="#231f20" textLength="19.2" lengthAdjust="spacingAndGlyphs" transform="rotate(-90 164.8 538.5)" stroke="#231f20" stroke-width="0.17">DMSO</text>
<text x="173.5" y="553.4" fill="#231f20" textLength="34.1" lengthAdjust="spacingAndGlyphs" transform="rotate(-90 173.5 553.4)" stroke="#231f20" stroke-width="0.17">KDM5-inh1</text>
<text x="181.6" y="538.5" fill="#231f20" textLength="19.2" lengthAdjust="spacingAndGlyphs" transform="rotate(-90 181.6 538.5)" stroke="#231f20" stroke-width="0.17">DMSO</text>
<text x="190.6" y="553.4" fill="#231f20" textLength="34.1" lengthAdjust="spacingAndGlyphs" transform="rotate(-90 190.6 553.4)" stroke="#231f20" stroke-width="0.17">KDM5-inh1</text>
<text x="198.9" y="538.5" fill="#231f20" textLength="19.2" lengthAdjust="spacingAndGlyphs" transform="rotate(-90 198.9 538.5)" stroke="#231f20" stroke-width="0.17">DMSO</text>
<text x="207.6" y="553.4" fill="#231f20" textLength="34.1" lengthAdjust="spacingAndGlyphs" transform="rotate(-90 207.6 553.4)" stroke="#231f20" stroke-width="0.17">KDM5-inh1</text>
<text x="215.8" y="538.5" fill="#231f20" textLength="19.2" lengthAdjust="spacingAndGlyphs" transform="rotate(-90 215.8 538.5)" stroke="#231f20" stroke-width="0.17">DMSO</text>
<text x="225.5" y="553.4" fill="#231f20" textLength="34.1" lengthAdjust="spacingAndGlyphs" transform="rotate(-90 225.5 553.4)" stroke="#231f20" stroke-width="0.17">KDM5-inh1</text>
<line x1="160" y1="555.3" x2="173.7" y2="555.3" stroke="#222" stroke-width="0.8"/>
<text x="166.85" y="561.3" font-size="6" text-anchor="middle" fill="#231f20" textLength="13.6" lengthAdjust="spacingAndGlyphs" stroke="#231f20" stroke-width="0.2">H3K4</text>
<text x="166.85" y="568.1" font-size="6" text-anchor="middle" fill="#231f20" textLength="12" lengthAdjust="spacingAndGlyphs" stroke="#231f20" stroke-width="0.2">me3</text>
<line x1="176.2" y1="555.3" x2="191" y2="555.3" stroke="#222" stroke-width="0.8"/>
<text x="183.6" y="561.3" font-size="6" text-anchor="middle" fill="#231f20" textLength="13.6" lengthAdjust="spacingAndGlyphs" stroke="#231f20" stroke-width="0.2">H3K4</text>
<text x="183.6" y="568.1" font-size="6" text-anchor="middle" fill="#231f20" textLength="12" lengthAdjust="spacingAndGlyphs" stroke="#231f20" stroke-width="0.2">me1</text>
<line x1="194.4" y1="555.3" x2="208" y2="555.3" stroke="#222" stroke-width="0.8"/>
<text x="201.2" y="561.3" font-size="6" text-anchor="middle" fill="#231f20" textLength="13.6" lengthAdjust="spacingAndGlyphs" stroke="#231f20" stroke-width="0.2">H3K4</text>
<text x="201.2" y="568.1" font-size="6" text-anchor="middle" fill="#231f20" textLength="12" lengthAdjust="spacingAndGlyphs" stroke="#231f20" stroke-width="0.2">me3</text>
<line x1="211.8" y1="555.3" x2="226" y2="555.3" stroke="#222" stroke-width="0.8"/>
<text x="218.9" y="561.3" font-size="6" text-anchor="middle" fill="#231f20" textLength="13.6" lengthAdjust="spacingAndGlyphs" stroke="#231f20" stroke-width="0.2">H3K4</text>
<text x="218.9" y="568.1" font-size="6" text-anchor="middle" fill="#231f20" textLength="12" lengthAdjust="spacingAndGlyphs" stroke="#231f20" stroke-width="0.2">me1</text>
<text x="263.3" y="437.8" font-size="11.4" font-weight="bold" fill="#000">J</text>
<rect x="293.5" y="452" width="27" height="110.6" fill="#d9d9d9"/>
<line x1="293.5" y1="452" x2="293.5" y2="562.6" stroke="#888" stroke-width="0.8"/>
<line x1="293.5" y1="562.6" x2="320.8" y2="562.6" stroke="#888" stroke-width="1.2"/>
<line x1="293.5" y1="452" x2="320.8" y2="452" stroke="#888" stroke-width="0.8"/>
<text x="291.4" y="462.2" font-size="7.2" text-anchor="end" fill="#231f20" textLength="21.7" lengthAdjust="spacingAndGlyphs" stroke="#231f20" stroke-width="0.17">KMT2D</text>
<text x="291.4" y="477.9" font-size="7.2" text-anchor="end" fill="#231f20" textLength="23.3" lengthAdjust="spacingAndGlyphs" stroke="#231f20" stroke-width="0.17">CREBBP</text>
<text x="291.4" y="495.3" font-size="7.2" text-anchor="end" fill="#231f20" textLength="27.7" lengthAdjust="spacingAndGlyphs" stroke="#231f20" stroke-width="0.17">H3K4me1</text>
<text x="291.4" y="518.2" font-size="7.2" text-anchor="end" fill="#231f20" textLength="27.9" lengthAdjust="spacingAndGlyphs" stroke="#231f20" stroke-width="0.17">H3K4me3</text>
<text x="291.4" y="544.6" font-size="7.2" text-anchor="end" fill="#231f20" textLength="18.5" lengthAdjust="spacingAndGlyphs" stroke="#231f20" stroke-width="0.17">mRNA</text>
<text x="320" y="462.8" font-size="4.9" text-anchor="end" fill="#4cb84c" textLength="14.5" lengthAdjust="spacingAndGlyphs" stroke="#4cb84c" stroke-width="0.2">OCI-Ly7</text>
<text x="320" y="475.6" font-size="4.9" text-anchor="end" fill="#c8203a" textLength="21.5" lengthAdjust="spacingAndGlyphs" stroke="#c8203a" stroke-width="0.2">Centroblast</text>
<text x="320" y="486.3" font-size="4.9" text-anchor="end" fill="#2a5ea8" textLength="23.3" lengthAdjust="spacingAndGlyphs" stroke="#2a5ea8" stroke-width="0.2">WSU-DLCL2</text>
<text x="320" y="500.8" font-size="4.9" text-anchor="end" fill="#2a5ea8" textLength="16.6" lengthAdjust="spacingAndGlyphs" stroke="#2a5ea8" stroke-width="0.2">WSU#22</text>
<text x="320" y="513.6" font-size="4.9" text-anchor="end" fill="#c8203a" textLength="23.3" lengthAdjust="spacingAndGlyphs" stroke="#c8203a" stroke-width="0.2">WSU-DLCL2</text>
<text x="320" y="525.4" font-size="4.9" text-anchor="end" fill="#c8203a" textLength="16.6" lengthAdjust="spacingAndGlyphs" stroke="#c8203a" stroke-width="0.2">WSU#22</text>
<text x="320" y="538.2" font-size="4.9" text-anchor="end" fill="#6b3d8f" textLength="23.3" lengthAdjust="spacingAndGlyphs" stroke="#6b3d8f" stroke-width="0.2">WSU-DLCL2</text>
<text x="320" y="549.6" font-size="4.9" text-anchor="end" fill="#6b3d8f" textLength="16.6" lengthAdjust="spacingAndGlyphs" stroke="#6b3d8f" stroke-width="0.2">WSU#22</text>
<text x="320" y="560.1" font-size="4.9" text-anchor="end" fill="#333" textLength="12.5" lengthAdjust="spacingAndGlyphs" stroke="#333" stroke-width="0.2">RefSeq</text>
<text x="338" y="448.5" font-size="7.3" fill="#231f20" textLength="42.4" lengthAdjust="spacingAndGlyphs" stroke="#231f20" stroke-width="0.17">LCK (Cluster 4)</text>
<text x="391.2" y="448.5" font-size="7.3" fill="#231f20" textLength="58.8" lengthAdjust="spacingAndGlyphs" stroke="#231f20" stroke-width="0.17">TRAF3IP3 (Cluster 4)</text>
<path d="M321.5 465.7 L321.5 464.69 L321.9 464.55 L322.3 464.47 L322.7 464.79 L323.1 464.53 L323.5 464.53 L323.9 464.48 L324.3 464.71 L324.7 464.61 L325.1 464.07 L325.5 463.2 L325.9 463.12 L326.3 461.79 L326.7 461.07 L327.1 458.19 L327.5 456.28 L327.9 457.29 L328.3 453.57 L328.7 457.68 L329.1 453.5 L329.5 453.3 L329.9 456.95 L330.3 454.13 L330.7 455.06 L331.1 453.3 L331.5 457.24 L331.9 455.84 L332.3 454.44 L332.7 455.82 L333.1 457.58 L333.5 458.91 L333.9 455.99 L334.3 458.69 L334.7 458.15 L335.1 461.67 L335.5 461.27 L335.9 462.34 L336.3 463.04 L336.7 464.41 L337.1 464.4 L337.5 464.76 L337.9 464.43 L338.3 464.68 L338.7 464.34 L339.1 464.63 L339.5 464.33 L339.9 464.14 L340.3 464.41 L340.7 463.92 L341.1 463.16 L341.5 463.17 L341.9 462.93 L342.3 462.62 L342.7 461.18 L343.1 462.04 L343.5 460.9 L343.9 460.91 L344.3 460.92 L344.7 461.97 L345.1 460.86 L345.5 460.42 L345.9 461.83 L346.3 461.93 L346.7 460.95 L347.1 461.82 L347.5 462.6 L347.9 463.27 L348.3 462.39 L348.7 463.25 L349.1 463.36 L349.5 463.82 L349.9 463.68 L350.3 463.81 L350.7 464.32 L351.1 464.61 L351.5 464.11 L351.9 464.26 L352.3 464.84 L352.7 464.58 L353.1 464.54 L353.5 464.71 L353.9 464.53 L354.3 464.38 L354.7 464.51 L355.1 464.52 L355.5 464.5 L355.9 464.26 L356.3 464.12 L356.7 463.94 L357.1 463.66 L357.5 462.8 L357.9 463.22 L358.3 463.08 L358.7 463.25 L359.1 463.68 L359.5 464.54 L359.9 464.12 L360.3 464.77 L360.7 464.47 L361.1 464.49 L361.5 464.61 L361.9 464.75 L362.3 464.92 L362.7 464.91 L363.1 464.64 L363.5 464.84 L363.9 464.69 L364.3 464.82 L364.7 464.87 L365.1 464.81 L365.5 464.6 L365.9 464.71 L366.3 464.76 L366.7 464.71 L367.1 464.68 L367.5 464.7 L367.9 464.74 L368.3 464.48 L368.7 464.58 L369.1 464.84 L369.5 464.8 L369.9 464.86 L370.3 464.78 L370.7 464.94 L371.1 464.59 L371.5 464.67 L371.9 464.74 L372.3 464.5 L372.7 464.76 L373.1 464.56 L373.5 464.21 L373.9 464.21 L374.3 463.86 L374.7 463.81 L375.1 462.94 L375.5 463.21 L375.9 463.88 L376.3 464.1 L376.7 464.2 L377.1 464.47 L377.5 464.59 L377.9 464.82 L378.3 464.62 L378.7 464.51 L379.1 464.39 L379.5 464.44 L379.9 464.26 L380.3 463.97 L380.7 463.66 L381.1 463.47 L381.5 463.86 L381.9 463.51 L382.3 462.72 L382.7 463.14 L383.1 463.79 L383.5 463.82 L383.9 464.47 L384.3 464.59 L384.7 464.56 L385.1 464.53 L385.5 464.92 L385.9 464.71 L386.3 464.5 L386.7 464.65 L387.1 464.46 L387.1 465.7" fill="#3dbf1c"/>
<path d="M321.5 478 L321.5 477.81 L321.9 477.77 L322.3 477.77 L322.7 477.81 L323.1 477.78 L323.5 477.76 L323.9 477.78 L324.3 477.73 L324.7 477.68 L325.1 477.6 L325.5 477.52 L325.9 477.4 L326.3 477.03 L326.7 476.74 L327.1 476.07 L327.5 475.52 L327.9 474.64 L328.3 473.46 L328.7 471.99 L329.1 470.57 L329.5 470.52 L329.9 470.55 L330.3 468.49 L330.7 469.22 L331.1 468.51 L331.5 468.93 L331.9 471.27 L332.3 471.05 L332.7 472.79 L333.1 473.78 L333.5 474.72 L333.9 475.42 L334.3 476.25 L334.7 476.68 L335.1 477.12 L335.5 477.4 L335.9 477.55 L336.3 477.62 L336.7 477.72 L337.1 477.76 L337.5 477.77 L337.9 477.79 L338.3 477.75 L338.7 477.75 L339.1 477.77 L339.5 477.72 L339.9 477.65 L340.3 477.55 L340.7 477.42 L341.1 477.2 L341.5 476.85 L341.9 476.67 L342.3 476.07 L342.7 475.76 L343.1 474.97 L343.5 474.57 L343.9 473.59 L344.3 473.04 L344.7 472.64 L345.1 473.18 L345.5 473.02 L345.9 473.79 L346.3 473.64 L346.7 474.13 L347.1 475 L347.5 475.63 L347.9 475.93 L348.3 476.42 L348.7 476.8 L349.1 477.21 L349.5 477.41 L349.9 477.53 L350.3 477.6 L350.7 477.64 L351.1 477.62 L351.5 477.52 L351.9 477.44 L352.3 477.25 L352.7 477.18 L353.1 477.06 L353.5 476.65 L353.9 476.7 L354.3 476.4 L354.7 476.01 L355.1 476.03 L355.5 475.56 L355.9 475.58 L356.3 475.8 L356.7 475.53 L357.1 475.6 L357.5 475.96 L357.9 476.32 L358.3 476.53 L358.7 476.48 L359.1 476.7 L359.5 476.97 L359.9 477.14 L360.3 477.29 L360.7 477.5 L361.1 477.59 L361.5 477.6 L361.9 477.66 L362.3 477.73 L362.7 477.76 L363.1 477.79 L363.5 477.78 L363.9 477.76 L364.3 477.8 L364.7 477.8 L365.1 477.81 L365.5 477.79 L365.9 477.81 L366.3 477.78 L366.7 477.79 L367.1 477.79 L367.5 477.8 L367.9 477.8 L368.3 477.77 L368.7 477.77 L369.1 477.78 L369.5 477.8 L369.9 477.8 L370.3 477.8 L370.7 477.77 L371.1 477.77 L371.5 477.8 L371.9 477.78 L372.3 477.8 L372.7 477.79 L373.1 477.81 L373.5 477.78 L373.9 477.78 L374.3 477.77 L374.7 477.79 L375.1 477.79 L375.5 477.78 L375.9 477.81 L376.3 477.77 L376.7 477.78 L377.1 477.8 L377.5 477.79 L377.9 477.78 L378.3 477.75 L378.7 477.75 L379.1 477.76 L379.5 477.68 L379.9 477.64 L380.3 477.59 L380.7 477.55 L381.1 477.47 L381.5 477.38 L381.9 477.18 L382.3 477.17 L382.7 476.97 L383.1 477.08 L383.5 477.08 L383.9 476.96 L384.3 477.05 L384.7 477.09 L385.1 477.21 L385.5 477.28 L385.9 477.32 L386.3 477.47 L386.7 477.53 L387.1 477.57 L387.1 478" fill="#f26b12"/>
<path d="M321.5 490.3 L321.5 489.18 L321.9 488.66 L322.3 487.8 L322.7 489.8 L323.1 487.45 L323.5 486.41 L323.9 486.63 L324.3 484.66 L324.7 489.21 L325.1 487.15 L325.5 485.68 L325.9 484.67 L326.3 485.79 L326.7 487.41 L327.1 488.19 L327.5 485.88 L327.9 488.38 L328.3 487.12 L328.7 489.24 L329.1 489.81 L329.5 489.02 L329.9 489.6 L330.3 488.27 L330.7 487.64 L331.1 488.76 L331.5 489.64 L331.9 488.22 L332.3 487.9 L332.7 488.17 L333.1 486.52 L333.5 487.36 L333.9 486.17 L334.3 487.51 L334.7 486.75 L335.1 488.56 L335.5 489.26 L335.9 487.43 L336.3 488.61 L336.7 489.52 L337.1 488.18 L337.5 487.54 L337.9 486.35 L338.3 488.77 L338.7 487.96 L339.1 486.35 L339.5 485.84 L339.9 487.56 L340.3 488.82 L340.7 488.83 L341.1 488.8 L341.5 485.7 L341.9 488.82 L342.3 489.81 L342.7 488.47 L343.1 485.45 L343.5 489.59 L343.9 484.74 L344.3 486.43 L344.7 488.06 L345.1 485.39 L345.5 488.87 L345.9 486.58 L346.3 486.48 L346.7 486.62 L347.1 489.19 L347.5 489.03 L347.9 485.75 L348.3 489.76 L348.7 487.63 L349.1 487.53 L349.5 488.64 L349.9 486.34 L350.3 487.93 L350.7 484.3 L351.1 488.3 L351.5 487.24 L351.9 489.2 L352.3 488.02 L352.7 485.68 L353.1 487.24 L353.5 489.75 L353.9 488.29 L354.3 486.9 L354.7 489.62 L355.1 489.58 L355.5 487.99 L355.9 488.84 L356.3 486.64 L356.7 489.76 L357.1 489.64 L357.5 486.28 L357.9 488.02 L358.3 486.72 L358.7 489.53 L359.1 486.55 L359.5 486.81 L359.9 489.67 L360.3 488.89 L360.7 486.07 L361.1 485.54 L361.5 488.27 L361.9 487.6 L362.3 486.7 L362.7 486.46 L363.1 487.17 L363.5 485.72 L363.9 487.35 L364.3 486.64 L364.7 486.49 L365.1 485.56 L365.5 486.66 L365.9 489.47 L366.3 489.42 L366.7 485.79 L367.1 488.37 L367.5 487.45 L367.9 489.39 L368.3 486.53 L368.7 487.53 L369.1 488.31 L369.5 486.83 L369.9 489.23 L370.3 489.69 L370.7 488.23 L371.1 488.04 L371.5 489.48 L371.9 487.23 L372.3 486.64 L372.7 489.09 L373.1 487.31 L373.5 487.45 L373.9 487.81 L374.3 487.93 L374.7 489.12 L375.1 488.05 L375.5 489.24 L375.9 489.12 L376.3 489.3 L376.7 487.83 L377.1 488.9 L377.5 489.06 L377.9 487.76 L378.3 487.54 L378.7 487.65 L379.1 488.7 L379.5 488.65 L379.9 489.4 L380.3 489.12 L380.7 488.21 L381.1 489.74 L381.5 487.79 L381.9 489.86 L382.3 489.2 L382.7 488.86 L383.1 488.76 L383.5 490.07 L383.9 489.49 L384.3 488.08 L384.7 488.03 L385.1 488.68 L385.5 488.92 L385.9 489.63 L386.3 489.99 L386.7 489.75 L387.1 488.73 L387.1 490.3" fill="#35a2ee"/>
<path d="M321.5 490.3 L321.5 489.75 L321.9 489.53 L322.3 488.55 L322.7 490 L323.1 488.13 L323.5 488.46 L323.9 487.53 L324.3 486.38 L324.7 489.74 L325.1 488.73 L325.5 487.66 L325.9 488.31 L326.3 488.49 L326.7 489.1 L327.1 488.98 L327.5 488.67 L327.9 489.53 L328.3 488.98 L328.7 489.54 L329.1 489.93 L329.5 489.28 L329.9 490.03 L330.3 489.31 L330.7 489.01 L331.1 489.75 L331.5 490.07 L331.9 488.75 L332.3 489.11 L332.7 488.82 L333.1 488.82 L333.5 488.88 L333.9 487.51 L334.3 488.48 L334.7 488.94 L335.1 489.66 L335.5 489.5 L335.9 489.03 L336.3 489.39 L336.7 489.74 L337.1 489.5 L337.5 488.82 L337.9 488.45 L338.3 489.42 L338.7 489.34 L339.1 487.38 L339.5 487.42 L339.9 488.36 L340.3 489.71 L340.7 489.44 L341.1 489.48 L341.5 487.41 L341.9 489.7 L342.3 490.12 L342.7 489.07 L343.1 487.76 L343.5 489.87 L343.9 488.32 L344.3 487.21 L344.7 488.92 L345.1 487.11 L345.5 489.29 L345.9 487.89 L346.3 487.55 L346.7 487.48 L347.1 489.9 L347.5 489.57 L347.9 486.83 L348.3 490.11 L348.7 488.58 L349.1 488.98 L349.5 489.19 L349.9 487.21 L350.3 488.96 L350.7 486.31 L351.1 488.95 L351.5 489.11 L351.9 489.67 L352.3 489.24 L352.7 488.15 L353.1 488.53 L353.5 489.91 L353.9 489.45 L354.3 488.79 L354.7 490.03 L355.1 489.93 L355.5 489.27 L355.9 489.23 L356.3 488.02 L356.7 489.89 L357.1 489.84 L357.5 488.15 L357.9 488.95 L358.3 487.69 L358.7 490 L359.1 488.51 L359.5 488.48 L359.9 489.84 L360.3 489.59 L360.7 487.08 L361.1 486.64 L361.5 489.37 L361.9 488.35 L362.3 488.03 L362.7 488.58 L363.1 488.6 L363.5 488.06 L363.9 488.43 L364.3 487.72 L364.7 488.74 L365.1 488.56 L365.5 488.53 L365.9 489.88 L366.3 489.91 L366.7 487.08 L367.1 489.19 L367.5 488.89 L367.9 489.8 L368.3 487.35 L368.7 488.33 L369.1 488.9 L369.5 487.67 L369.9 489.67 L370.3 489.93 L370.7 489.02 L371.1 489.16 L371.5 489.89 L371.9 488.85 L372.3 487.63 L372.7 489.63 L373.1 489.24 L373.5 488.78 L373.9 489.42 L374.3 489.41 L374.7 489.56 L375.1 489.14 L375.5 489.75 L375.9 489.77 L376.3 489.73 L376.7 488.52 L377.1 489.22 L377.5 489.4 L377.9 488.55 L378.3 488.58 L378.7 489.05 L379.1 489.33 L379.5 489.68 L379.9 489.73 L380.3 489.52 L380.7 489.05 L381.1 489.99 L381.5 489.07 L381.9 490 L382.3 489.81 L382.7 489.2 L383.1 489.62 L383.5 490.18 L383.9 489.66 L384.3 488.55 L384.7 489.22 L385.1 489.33 L385.5 489.48 L385.9 490.02 L386.3 490.09 L386.7 489.89 L387.1 489.53 L387.1 490.3" fill="#0a22b4"/>
<path d="M321.5 504.1 L321.5 498.92 L321.9 502.39 L322.3 501.06 L322.7 499.79 L323.1 495.72 L323.5 499.24 L323.9 496.66 L324.3 495.56 L324.7 495.99 L325.1 498.95 L325.5 493.83 L325.9 503 L326.3 495.87 L326.7 497.61 L327.1 498.8 L327.5 498.15 L327.9 501.75 L328.3 502.22 L328.7 502.78 L329.1 498.34 L329.5 500.76 L329.9 503.13 L330.3 501.96 L330.7 498.39 L331.1 501.74 L331.5 500.68 L331.9 502.2 L332.3 501.32 L332.7 501.81 L333.1 501.14 L333.5 502.19 L333.9 502.33 L334.3 501.28 L334.7 497.26 L335.1 500.92 L335.5 499.36 L335.9 503.25 L336.3 499.62 L336.7 502.36 L337.1 496.75 L337.5 501.72 L337.9 498.56 L338.3 502.56 L338.7 501.13 L339.1 496.38 L339.5 496.2 L339.9 501.51 L340.3 500.76 L340.7 498.9 L341.1 496.15 L341.5 500.82 L341.9 500.57 L342.3 500.77 L342.7 499.85 L343.1 496.66 L343.5 495.73 L343.9 500.5 L344.3 497.44 L344.7 498.22 L345.1 500.96 L345.5 499.59 L345.9 501.83 L346.3 495.37 L346.7 502.16 L347.1 497.78 L347.5 499.53 L347.9 501.12 L348.3 501.3 L348.7 503.25 L349.1 502.04 L349.5 497.51 L349.9 498.47 L350.3 502.78 L350.7 494.75 L351.1 502.02 L351.5 496.54 L351.9 496.78 L352.3 501.27 L352.7 500.81 L353.1 496.61 L353.5 497.42 L353.9 497.01 L354.3 502.12 L354.7 494.56 L355.1 497.37 L355.5 497.77 L355.9 497.65 L356.3 500.99 L356.7 502.85 L357.1 495.52 L357.5 499.87 L357.9 496.16 L358.3 502.04 L358.7 502.9 L359.1 497.25 L359.5 495.44 L359.9 499.41 L360.3 499.22 L360.7 499.37 L361.1 498.85 L361.5 496.89 L361.9 496.18 L362.3 500.22 L362.7 501.6 L363.1 497.81 L363.5 503.07 L363.9 499.51 L364.3 497.12 L364.7 502.68 L365.1 500.28 L365.5 502.86 L365.9 497.15 L366.3 501.09 L366.7 499.26 L367.1 503.51 L367.5 497.22 L367.9 498.45 L368.3 501.99 L368.7 502.21 L369.1 501.66 L369.5 498.24 L369.9 498.06 L370.3 499.81 L370.7 501.96 L371.1 498.46 L371.5 502.49 L371.9 500 L372.3 501.58 L372.7 501.26 L373.1 500.84 L373.5 500.08 L373.9 502.95 L374.3 501.37 L374.7 499.35 L375.1 500.68 L375.5 501.08 L375.9 501.81 L376.3 502.5 L376.7 500.37 L377.1 502.73 L377.5 500.05 L377.9 500.3 L378.3 501.13 L378.7 503.1 L379.1 502.95 L379.5 502.4 L379.9 502.59 L380.3 500.45 L380.7 502.96 L381.1 501.33 L381.5 502.37 L381.9 500.39 L382.3 502.02 L382.7 502.29 L383.1 503.75 L383.5 501 L383.9 501.3 L384.3 502.45 L384.7 503.08 L385.1 502.68 L385.5 503.55 L385.9 502.97 L386.3 502.93 L386.7 501.68 L387.1 503.22 L387.1 504.1" fill="#35a2ee"/>
<path d="M321.5 504.1 L321.5 502.07 L321.9 502.89 L322.3 501.8 L322.7 502.59 L323.1 497.44 L323.5 500.83 L323.9 501.16 L324.3 499.22 L324.7 501.24 L325.1 501.84 L325.5 500.37 L325.9 503.56 L326.3 500.51 L326.7 499.53 L327.1 501.32 L327.5 501.7 L327.9 502.36 L328.3 503.23 L328.7 503.32 L329.1 501.71 L329.5 501.59 L329.9 503.55 L330.3 502.82 L330.7 499.69 L331.1 503.06 L331.5 501.45 L331.9 503.2 L332.3 501.95 L332.7 503.1 L333.1 502.34 L333.5 502.77 L333.9 503.06 L334.3 501.99 L334.7 500.28 L335.1 502.41 L335.5 502.1 L335.9 503.7 L336.3 501.84 L336.7 503.06 L337.1 498.41 L337.5 503.06 L337.9 500.02 L338.3 503.2 L338.7 501.78 L339.1 500.55 L339.5 500.82 L339.9 502.1 L340.3 501.49 L340.7 500.81 L341.1 498.7 L341.5 502.33 L341.9 502.49 L342.3 501.88 L342.7 502.5 L343.1 499.27 L343.5 499.01 L343.9 501.54 L344.3 500.03 L344.7 501.07 L345.1 502.95 L345.5 501.49 L345.9 502.35 L346.3 499.77 L346.7 503.35 L347.1 499.72 L347.5 500.89 L347.9 502.62 L348.3 503.09 L348.7 503.46 L349.1 503.29 L349.5 500.82 L349.9 502.05 L350.3 503.35 L350.7 500.09 L351.1 502.65 L351.5 499.71 L351.9 500.43 L352.3 502.69 L352.7 502.1 L353.1 498.75 L353.5 501.19 L353.9 500.83 L354.3 503.03 L354.7 499.02 L355.1 499.38 L355.5 501.4 L355.9 499.87 L356.3 502.84 L356.7 503.27 L357.1 501.02 L357.5 501.11 L357.9 498.57 L358.3 503.05 L358.7 503.47 L359.1 500.9 L359.5 500.05 L359.9 501.31 L360.3 500.83 L360.7 500.72 L361.1 500 L361.5 498.69 L361.9 499 L362.3 502.43 L362.7 502.67 L363.1 500.54 L363.5 503.61 L363.9 502.13 L364.3 500.69 L364.7 503.02 L365.1 502.41 L365.5 503.37 L365.9 500.68 L366.3 501.88 L366.7 500.72 L367.1 503.67 L367.5 500.5 L367.9 501.81 L368.3 502.49 L368.7 503.11 L369.1 503.09 L369.5 501.83 L369.9 501.06 L370.3 501.94 L370.7 502.77 L371.1 500.52 L371.5 503.09 L371.9 500.85 L372.3 502.19 L372.7 501.84 L373.1 502.55 L373.5 501.03 L373.9 503.5 L374.3 502.01 L374.7 501.9 L375.1 501.9 L375.5 502.97 L375.9 502.36 L376.3 502.86 L376.7 502.13 L377.1 503.49 L377.5 501.56 L377.9 502.05 L378.3 502.62 L378.7 503.54 L379.1 503.45 L379.5 503.37 L379.9 502.96 L380.3 501.4 L380.7 503.47 L381.1 502.91 L381.5 502.9 L381.9 502.55 L382.3 502.91 L382.7 502.75 L383.1 503.85 L383.5 502.49 L383.9 502.15 L384.3 503.43 L384.7 503.31 L385.1 503.1 L385.5 503.71 L385.9 503.37 L386.3 503.31 L386.7 502.18 L387.1 503.63 L387.1 504.1" fill="#0a22b4"/>
<path d="M321.5 517.7 L321.5 517.03 L321.9 517.15 L322.3 517.41 L322.7 517.41 L323.1 517.17 L323.5 517.39 L323.9 517.42 L324.3 517.23 L324.7 517.31 L325.1 517.21 L325.5 517.2 L325.9 517.11 L326.3 517.36 L326.7 516.96 L327.1 517.4 L327.5 517.01 L327.9 517.21 L328.3 517.18 L328.7 517.11 L329.1 517.2 L329.5 517.15 L329.9 516.85 L330.3 517.05 L330.7 517.07 L331.1 517.23 L331.5 516.8 L331.9 516.95 L332.3 517.17 L332.7 516.71 L333.1 517.17 L333.5 516.66 L333.9 516.63 L334.3 516.7 L334.7 517.08 L335.1 516.52 L335.5 516.85 L335.9 517.25 L336.3 516.82 L336.7 516.72 L337.1 516.8 L337.5 517.18 L337.9 517 L338.3 516.89 L338.7 516.73 L339.1 516.78 L339.5 516.32 L339.9 515.99 L340.3 516.2 L340.7 516.24 L341.1 516.61 L341.5 516.24 L341.9 516.36 L342.3 516.16 L342.7 516.3 L343.1 514.95 L343.5 515.67 L343.9 515.85 L344.3 514.7 L344.7 515.29 L345.1 514.58 L345.5 514.57 L345.9 514.06 L346.3 515.71 L346.7 514.56 L347.1 513.82 L347.5 515.11 L347.9 513.53 L348.3 515.94 L348.7 515.84 L349.1 515.35 L349.5 514.85 L349.9 515.11 L350.3 514.93 L350.7 513.84 L351.1 513.5 L351.5 514.51 L351.9 512.04 L352.3 511.5 L352.7 511.42 L353.1 512.36 L353.5 511.2 L353.9 512.03 L354.3 511.06 L354.7 513.02 L355.1 510.61 L355.5 515.16 L355.9 511.68 L356.3 511.73 L356.7 514.54 L357.1 510.9 L357.5 513.17 L357.9 510.29 L358.3 509.8 L358.7 512.68 L359.1 509.72 L359.5 514.15 L359.9 513.81 L360.3 510.29 L360.7 510.83 L361.1 513.35 L361.5 512.75 L361.9 512.7 L362.3 511.12 L362.7 514.82 L363.1 512.03 L363.5 511.44 L363.9 511.27 L364.3 514.77 L364.7 513.87 L365.1 513.95 L365.5 513.01 L365.9 511.88 L366.3 512.7 L366.7 513.54 L367.1 513.36 L367.5 511.53 L367.9 511.08 L368.3 512.14 L368.7 514.27 L369.1 515.34 L369.5 513.05 L369.9 515.62 L370.3 514.82 L370.7 515.35 L371.1 514.97 L371.5 515.79 L371.9 515.73 L372.3 512.75 L372.7 513.08 L373.1 516.06 L373.5 513.5 L373.9 513.82 L374.3 513.55 L374.7 514.12 L375.1 515.6 L375.5 514.54 L375.9 516.25 L376.3 515.14 L376.7 514.71 L377.1 516.45 L377.5 516.3 L377.9 514.81 L378.3 515.87 L378.7 516.42 L379.1 516.14 L379.5 516.27 L379.9 516.86 L380.3 515.63 L380.7 516.34 L381.1 516.12 L381.5 516.11 L381.9 515.81 L382.3 516.03 L382.7 516.44 L383.1 516.7 L383.5 516.47 L383.9 516.94 L384.3 517.03 L384.7 516.52 L385.1 516.34 L385.5 516.45 L385.9 517.18 L386.3 516.67 L386.7 516.72 L387.1 516.73 L387.1 517.7" fill="#a40c0c"/>
<path d="M321.5 529.5 L321.5 529.14 L321.9 529.11 L322.3 528.98 L322.7 529.24 L323.1 529.15 L323.5 529.26 L323.9 529.05 L324.3 529.18 L324.7 528.99 L325.1 529.28 L325.5 528.93 L325.9 529.09 L326.3 529.12 L326.7 529.26 L327.1 529.17 L327.5 529.01 L327.9 529.12 L328.3 529.22 L328.7 529.24 L329.1 529.04 L329.5 529.28 L329.9 529.03 L330.3 529.07 L330.7 529.02 L331.1 529.22 L331.5 528.88 L331.9 529.19 L332.3 528.92 L332.7 528.91 L333.1 528.82 L333.5 528.93 L333.9 528.9 L334.3 528.89 L334.7 529.03 L335.1 529.07 L335.5 529.06 L335.9 528.66 L336.3 528.84 L336.7 528.85 L337.1 528.47 L337.5 528.58 L337.9 528.61 L338.3 528.57 L338.7 528.92 L339.1 528.57 L339.5 528.85 L339.9 528.26 L340.3 528.41 L340.7 528.71 L341.1 528.49 L341.5 527.74 L341.9 527.77 L342.3 528.18 L342.7 528.42 L343.1 528.43 L343.5 527.9 L343.9 528.5 L344.3 527.67 L344.7 527.65 L345.1 527.65 L345.5 526.88 L345.9 527.63 L346.3 526.56 L346.7 527.75 L347.1 526.36 L347.5 527.01 L347.9 526.97 L348.3 527.01 L348.7 527.46 L349.1 526.89 L349.5 527.83 L349.9 526.48 L350.3 525.72 L350.7 527.07 L351.1 526.29 L351.5 526.58 L351.9 526.92 L352.3 523.26 L352.7 523.17 L353.1 523.99 L353.5 525.82 L353.9 522.63 L354.3 526.09 L354.7 525.18 L355.1 526.84 L355.5 521.84 L355.9 526.07 L356.3 522.11 L356.7 522.42 L357.1 522.55 L357.5 521.72 L357.9 521.26 L358.3 523.75 L358.7 522.6 L359.1 523.75 L359.5 524.51 L359.9 524.37 L360.3 521.47 L360.7 521.55 L361.1 524.76 L361.5 524.1 L361.9 523.54 L362.3 524.26 L362.7 525.57 L363.1 523.32 L363.5 526.59 L363.9 521.05 L364.3 525.14 L364.7 523.09 L365.1 524.16 L365.5 522.97 L365.9 522.49 L366.3 526.52 L366.7 526.28 L367.1 522.42 L367.5 522.85 L367.9 525.91 L368.3 524.35 L368.7 526.49 L369.1 525.48 L369.5 525.35 L369.9 524.58 L370.3 526.06 L370.7 525.69 L371.1 526.41 L371.5 526.74 L371.9 527.63 L372.3 526.75 L372.7 525.64 L373.1 525.28 L373.5 527.07 L373.9 525.91 L374.3 527.88 L374.7 526.68 L375.1 526.39 L375.5 526.58 L375.9 526.42 L376.3 526.68 L376.7 526.95 L377.1 528.28 L377.5 527.46 L377.9 527.42 L378.3 527.59 L378.7 527.77 L379.1 527.57 L379.5 528.59 L379.9 527.68 L380.3 527.8 L380.7 528.55 L381.1 528.61 L381.5 528.36 L381.9 528.52 L382.3 529.01 L382.7 528.34 L383.1 528.79 L383.5 528.61 L383.9 528.57 L384.3 528.43 L384.7 528.89 L385.1 528.76 L385.5 528.59 L385.9 528.76 L386.3 529.02 L386.7 529.07 L387.1 528.88 L387.1 529.5" fill="#a40c0c"/>
<line x1="321" y1="466.2" x2="387.6" y2="466.2" stroke="#bdbdbd" stroke-width="0.6"/>
<line x1="321" y1="478.5" x2="387.6" y2="478.5" stroke="#bdbdbd" stroke-width="0.6"/>
<line x1="321" y1="490.8" x2="387.6" y2="490.8" stroke="#bdbdbd" stroke-width="0.6"/>
<line x1="321" y1="504.6" x2="387.6" y2="504.6" stroke="#bdbdbd" stroke-width="0.6"/>
<line x1="321" y1="518.2" x2="387.6" y2="518.2" stroke="#bdbdbd" stroke-width="0.6"/>
<line x1="321" y1="530" x2="387.6" y2="530" stroke="#bdbdbd" stroke-width="0.6"/>
<line x1="321" y1="543.5" x2="387.6" y2="543.5" stroke="#bdbdbd" stroke-width="0.6"/>
<line x1="321" y1="555.4" x2="387.6" y2="555.4" stroke="#bdbdbd" stroke-width="0.6"/>
<text x="321.8" y="456.2" font-size="4.4" fill="#4cb84c" stroke="#4cb84c" stroke-width="0.2">61</text>
<text x="321.8" y="470.4" font-size="4.4" fill="#c8203a" stroke="#c8203a" stroke-width="0.2">118</text>
<text x="321.8" y="482.7" font-size="4.4" fill="#2a5ea8" stroke="#2a5ea8" stroke-width="0.2">41</text>
<text x="321.8" y="495" font-size="4.4" fill="#2a5ea8" stroke="#2a5ea8" stroke-width="0.2">41</text>
<text x="321.8" y="508.8" font-size="4.4" fill="#c8203a" stroke="#c8203a" stroke-width="0.2">41</text>
<text x="321.8" y="522.4" font-size="4.4" fill="#c8203a" stroke="#c8203a" stroke-width="0.2">41</text>
<text x="321.8" y="534.2" font-size="4.4" fill="#6b3d8f" stroke="#6b3d8f" stroke-width="0.2">259</text>
<text x="321.8" y="547.7" font-size="4.4" fill="#6b3d8f" stroke="#6b3d8f" stroke-width="0.2">259</text>
<rect x="346.3" y="534.8" width="1.3" height="7.6" fill="#ff80e0"/>
<rect x="346.3" y="541.1" width="1.3" height="1.3" fill="#5a1a7a"/>
<text x="348.6" y="539" font-size="5.4" fill="#222" textLength="8.6" lengthAdjust="spacingAndGlyphs" stroke="#222" stroke-width="0.2">x2.4</text>
<rect x="346.3" y="546.8" width="1.3" height="7.6" fill="#ff80e0"/>
<rect x="346.3" y="553.1" width="1.3" height="1.3" fill="#5a1a7a"/>
<text x="348.6" y="551" font-size="5.4" fill="#222" textLength="8.6" lengthAdjust="spacingAndGlyphs" stroke="#222" stroke-width="0.2">x5.3</text>
<line x1="346.5" y1="558.8" x2="387.1" y2="558.8" stroke="#4a5ee8" stroke-width="0.8"/>
<rect x="346" y="557.7" width="1.6" height="2.2" fill="#2a3ac8"/>
<rect x="321" y="452" width="66.6" height="110.6" fill="none" stroke="#8c8c8c" stroke-width="1.1"/>
<path d="M389.9 465.7 L389.9 465.17 L390.3 465.23 L390.7 465.14 L391.1 465.31 L391.5 465.18 L391.9 465.1 L392.3 465.22 L392.7 465.25 L393.1 465.13 L393.5 465.18 L393.9 465.26 L394.3 465.24 L394.7 465.22 L395.1 465.24 L395.5 465.22 L395.9 465.14 L396.3 464.89 L396.7 465 L397.1 465.11 L397.5 464.79 L397.9 464.64 L398.3 464.59 L398.7 464.52 L399.1 464.64 L399.5 463.93 L399.9 464.1 L400.3 463.5 L400.7 463.22 L401.1 463.02 L401.5 462.84 L401.9 462.41 L402.3 463.15 L402.7 462.3 L403.1 461.16 L403.5 462.39 L403.9 461.1 L404.3 462.41 L404.7 462.12 L405.1 462.19 L405.5 459.95 L405.9 460.31 L406.3 459.54 L406.7 460.44 L407.1 460.04 L407.5 458.22 L407.9 459.06 L408.3 459.31 L408.7 459.24 L409.1 459.95 L409.5 457.94 L409.9 459.49 L410.3 457.59 L410.7 457.54 L411.1 457.24 L411.5 456.69 L411.9 458.92 L412.3 459.48 L412.7 458.81 L413.1 457.37 L413.5 459.32 L413.9 458.94 L414.3 460.86 L414.7 459.84 L415.1 461.2 L415.5 461.46 L415.9 462.18 L416.3 463.26 L416.7 463.51 L417.1 463.92 L417.5 463.78 L417.9 464.49 L418.3 464.44 L418.7 464.36 L419.1 464.6 L419.5 465.01 L419.9 464.94 L420.3 464.84 L420.7 464.82 L421.1 464.79 L421.5 464.99 L421.9 464.77 L422.3 464.44 L422.7 464.7 L423.1 464.31 L423.5 463.77 L423.9 463.44 L424.3 463.29 L424.7 462.96 L425.1 463.49 L425.5 463.31 L425.9 463.03 L426.3 463.31 L426.7 462.83 L427.1 462.32 L427.5 462.55 L427.9 463.66 L428.3 463.72 L428.7 463.53 L429.1 463.43 L429.5 463.74 L429.9 463.98 L430.3 463.48 L430.7 463.1 L431.1 463.6 L431.5 462.76 L431.9 463.1 L432.3 462.2 L432.7 463.3 L433.1 462.91 L433.5 463.14 L433.9 463.35 L434.3 462.6 L434.7 462.98 L435.1 462.41 L435.5 462.71 L435.9 463.87 L436.3 463.48 L436.7 463.38 L437.1 464.14 L437.5 463.77 L437.9 464.23 L438.3 463.91 L438.7 463.99 L439.1 464.38 L439.5 463.58 L439.9 464.01 L440.3 463.06 L440.7 463.3 L441.1 464.07 L441.5 464.25 L441.9 464.3 L442.3 464.32 L442.7 464.8 L443.1 464.77 L443.5 465.17 L443.9 465.16 L444.3 465.26 L444.7 465.13 L445.1 465.12 L445.5 465.26 L445.9 465.21 L446.3 465.15 L446.7 465.13 L447.1 465.29 L447.5 465.28 L447.9 465.21 L448.3 465.32 L448.7 465.13 L449.1 465.29 L449.5 465.16 L449.9 465.21 L450.3 465.15 L450.7 465.25 L451.1 465.2 L451.5 465.32 L451.9 465.11 L452.3 465.15 L452.7 465.31 L453.1 465.21 L453.5 465.22 L453.9 465.19 L454.3 465.23 L454.7 465.26 L455.1 465.26 L455.1 465.7" fill="#3dbf1c"/>
<path d="M389.9 478 L389.9 477.77 L390.3 477.78 L390.7 477.78 L391.1 477.79 L391.5 477.77 L391.9 477.79 L392.3 477.77 L392.7 477.79 L393.1 477.79 L393.5 477.78 L393.9 477.77 L394.3 477.79 L394.7 477.81 L395.1 477.77 L395.5 477.8 L395.9 477.79 L396.3 477.78 L396.7 477.76 L397.1 477.78 L397.5 477.73 L397.9 477.71 L398.3 477.67 L398.7 477.68 L399.1 477.64 L399.5 477.55 L399.9 477.54 L400.3 477.46 L400.7 477.42 L401.1 477.2 L401.5 477.21 L401.9 476.99 L402.3 476.92 L402.7 476.56 L403.1 476.49 L403.5 476.07 L403.9 476.09 L404.3 475.34 L404.7 475.42 L405.1 474.83 L405.5 474.29 L405.9 474.41 L406.3 473.6 L406.7 473.28 L407.1 473.38 L407.5 472.97 L407.9 472.61 L408.3 472.2 L408.7 472.72 L409.1 472.96 L409.5 472.75 L409.9 472.48 L410.3 472.2 L410.7 473.34 L411.1 473.21 L411.5 472.59 L411.9 473.11 L412.3 473.84 L412.7 474.06 L413.1 474.49 L413.5 474.31 L413.9 474.37 L414.3 474.61 L414.7 475.32 L415.1 475.5 L415.5 475.63 L415.9 475.36 L416.3 475.73 L416.7 475.7 L417.1 475.83 L417.5 475.33 L417.9 475.21 L418.3 475.21 L418.7 475.31 L419.1 474.87 L419.5 474.69 L419.9 474.43 L420.3 474.76 L420.7 474.27 L421.1 474.16 L421.5 474.28 L421.9 474.16 L422.3 474.25 L422.7 474.24 L423.1 473.6 L423.5 474.45 L423.9 473.6 L424.3 474.35 L424.7 473.74 L425.1 474.34 L425.5 474.07 L425.9 474.21 L426.3 473.14 L426.7 473.81 L427.1 472.41 L427.5 473.01 L427.9 472.77 L428.3 472.42 L428.7 471.14 L429.1 471.93 L429.5 470.75 L429.9 470.51 L430.3 469.87 L430.7 470.52 L431.1 470.69 L431.5 471.81 L431.9 471.48 L432.3 472.03 L432.7 472.6 L433.1 473.34 L433.5 473.57 L433.9 474.27 L434.3 473.76 L434.7 474.21 L435.1 474.94 L435.5 474.34 L435.9 474.72 L436.3 474.54 L436.7 474.98 L437.1 474.95 L437.5 475.03 L437.9 474.51 L438.3 474.44 L438.7 474.86 L439.1 474.83 L439.5 474.65 L439.9 474.85 L440.3 474.83 L440.7 474.68 L441.1 475.43 L441.5 475.59 L441.9 475.37 L442.3 475.63 L442.7 476.04 L443.1 476.07 L443.5 476.21 L443.9 476.5 L444.3 476.66 L444.7 476.65 L445.1 477.04 L445.5 477.1 L445.9 477.11 L446.3 477.34 L446.7 477.3 L447.1 477.36 L447.5 477.48 L447.9 477.49 L448.3 477.38 L448.7 477.44 L449.1 477.24 L449.5 477.15 L449.9 477.04 L450.3 477.08 L450.7 476.79 L451.1 476.87 L451.5 476.63 L451.9 476.64 L452.3 476.89 L452.7 476.84 L453.1 476.83 L453.5 477.14 L453.9 477.21 L454.3 477.29 L454.7 477.38 L455.1 477.49 L455.1 478" fill="#f26b12"/>
<path d="M389.9 490.3 L389.9 489.85 L390.3 489.59 L390.7 489.02 L391.1 489.34 L391.5 490 L391.9 489.26 L392.3 489.58 L392.7 489.14 L393.1 490.03 L393.5 488.73 L393.9 488.86 L394.3 489.65 L394.7 488.92 L395.1 488.86 L395.5 488.47 L395.9 489.38 L396.3 488.5 L396.7 488.77 L397.1 489.71 L397.5 490.07 L397.9 488.28 L398.3 490.09 L398.7 489.89 L399.1 489.87 L399.5 489.74 L399.9 489.82 L400.3 488.18 L400.7 490.04 L401.1 489.64 L401.5 489.87 L401.9 487.71 L402.3 488.63 L402.7 489.92 L403.1 488.48 L403.5 488.04 L403.9 487.52 L404.3 488.66 L404.7 488.27 L405.1 488.16 L405.5 489.63 L405.9 488.47 L406.3 487.79 L406.7 488.52 L407.1 486.93 L407.5 487.43 L407.9 487.43 L408.3 488.64 L408.7 488.92 L409.1 486.94 L409.5 486.97 L409.9 488.22 L410.3 486.98 L410.7 486.71 L411.1 486.58 L411.5 486.7 L411.9 487.38 L412.3 488.42 L412.7 487.95 L413.1 489.94 L413.5 486.86 L413.9 487.88 L414.3 486.88 L414.7 486.84 L415.1 487.53 L415.5 487.38 L415.9 487.56 L416.3 486.5 L416.7 488.23 L417.1 487.02 L417.5 489.29 L417.9 485.95 L418.3 486.64 L418.7 485.88 L419.1 489.13 L419.5 488.87 L419.9 487.81 L420.3 487.42 L420.7 485.96 L421.1 485.68 L421.5 487.92 L421.9 486.55 L422.3 487.39 L422.7 487.61 L423.1 485.67 L423.5 488.55 L423.9 485.91 L424.3 486.59 L424.7 487.64 L425.1 489.45 L425.5 489.83 L425.9 488.78 L426.3 487.25 L426.7 488.09 L427.1 489.63 L427.5 488.75 L427.9 487.14 L428.3 488.26 L428.7 489.49 L429.1 487.31 L429.5 488.16 L429.9 488.7 L430.3 488.85 L430.7 486.14 L431.1 487.69 L431.5 488.87 L431.9 487.27 L432.3 489.23 L432.7 486.85 L433.1 489.18 L433.5 487.55 L433.9 488.59 L434.3 488.87 L434.7 487.46 L435.1 489.37 L435.5 487.02 L435.9 487.8 L436.3 489.37 L436.7 486.91 L437.1 489.63 L437.5 487 L437.9 487.65 L438.3 487.67 L438.7 489.7 L439.1 488.56 L439.5 488.03 L439.9 488.56 L440.3 488.23 L440.7 490.01 L441.1 487.37 L441.5 489.52 L441.9 487.49 L442.3 489.58 L442.7 488.63 L443.1 487.79 L443.5 488.65 L443.9 489.84 L444.3 488.48 L444.7 488.31 L445.1 488.09 L445.5 487.97 L445.9 488.79 L446.3 488.45 L446.7 489.56 L447.1 489.45 L447.5 488.49 L447.9 490.1 L448.3 489.6 L448.7 488.25 L449.1 490.04 L449.5 489.67 L449.9 489.37 L450.3 489.11 L450.7 489.35 L451.1 489.58 L451.5 488.99 L451.9 490.03 L452.3 490.04 L452.7 489.15 L453.1 488.96 L453.5 489.56 L453.9 489.43 L454.3 488.96 L454.7 489.54 L455.1 489.38 L455.1 490.3" fill="#35a2ee"/>
<path d="M389.9 490.3 L389.9 489.95 L390.3 489.78 L390.7 488.93 L391.1 489.57 L391.5 490.02 L391.9 489.49 L392.3 489.61 L392.7 489.53 L393.1 490.08 L393.5 488.76 L393.9 488.69 L394.3 489.52 L394.7 489.04 L395.1 488.92 L395.5 489.2 L395.9 489.51 L396.3 488.54 L396.7 489.11 L397.1 489.6 L397.5 490.1 L397.9 488.86 L398.3 490.17 L398.7 489.97 L399.1 489.9 L399.5 489.9 L399.9 489.86 L400.3 487.97 L400.7 490.12 L401.1 489.75 L401.5 490.02 L401.9 487.89 L402.3 489.04 L402.7 489.91 L403.1 488.43 L403.5 488.56 L403.9 487.1 L404.3 488.89 L404.7 488.35 L405.1 488.71 L405.5 489.62 L405.9 488.3 L406.3 487.68 L406.7 488.93 L407.1 486.29 L407.5 487.29 L407.9 488.07 L408.3 488.73 L408.7 489.07 L409.1 486.93 L409.5 486.59 L409.9 488.58 L410.3 486.51 L410.7 486.68 L411.1 487.18 L411.5 486.9 L411.9 488.09 L412.3 488.78 L412.7 488.26 L413.1 490.04 L413.5 487.68 L413.9 488.57 L414.3 487.66 L414.7 487.72 L415.1 488.04 L415.5 486.84 L415.9 487.09 L416.3 487.33 L416.7 487.88 L417.1 487.62 L417.5 489.28 L417.9 485.56 L418.3 487.74 L418.7 485.45 L419.1 489.06 L419.5 488.91 L419.9 488.44 L420.3 488.34 L420.7 487 L421.1 486.36 L421.5 488.49 L421.9 486.52 L422.3 487.52 L422.7 488.52 L423.1 486.75 L423.5 489.12 L423.9 485.88 L424.3 487.48 L424.7 488.43 L425.1 489.75 L425.5 489.82 L425.9 488.88 L426.3 487.54 L426.7 488.41 L427.1 489.68 L427.5 489.08 L427.9 488.35 L428.3 488.6 L428.7 489.55 L429.1 487.07 L429.5 488.64 L429.9 489.09 L430.3 488.94 L430.7 487.13 L431.1 488.22 L431.5 488.86 L431.9 486.81 L432.3 489.08 L432.7 486.56 L433.1 489.33 L433.5 487.45 L433.9 489.04 L434.3 489.38 L434.7 488.26 L435.1 489.68 L435.5 486.46 L435.9 488.3 L436.3 489.29 L436.7 487.26 L437.1 489.59 L437.5 487.11 L437.9 488.35 L438.3 488.2 L438.7 489.94 L439.1 488.59 L439.5 488.04 L439.9 488.21 L440.3 487.97 L440.7 490.04 L441.1 486.89 L441.5 489.81 L441.9 487.99 L442.3 489.55 L442.7 488.84 L443.1 487.89 L443.5 488.33 L443.9 489.79 L444.3 488.55 L444.7 488.72 L445.1 488.34 L445.5 488.71 L445.9 489.01 L446.3 488.94 L446.7 489.42 L447.1 489.73 L447.5 488.35 L447.9 490.13 L448.3 489.57 L448.7 487.93 L449.1 490.13 L449.5 489.89 L449.9 489.31 L450.3 489.06 L450.7 489.47 L451.1 489.55 L451.5 489.25 L451.9 490.01 L452.3 490.12 L452.7 489.16 L453.1 489.2 L453.5 489.48 L453.9 489.28 L454.3 488.71 L454.7 489.62 L455.1 489.52 L455.1 490.3" fill="#0a22b4"/>
<path d="M389.9 504.1 L389.9 503.22 L390.3 501.73 L390.7 501.93 L391.1 503.11 L391.5 502.78 L391.9 503.48 L392.3 502.6 L392.7 502.66 L393.1 502.86 L393.5 503.04 L393.9 502.37 L394.3 502.17 L394.7 502.61 L395.1 500.91 L395.5 503.72 L395.9 503.3 L396.3 502.32 L396.7 502.24 L397.1 502.87 L397.5 500.45 L397.9 501.01 L398.3 502.41 L398.7 503.39 L399.1 502.29 L399.5 500.45 L399.9 502.45 L400.3 500.66 L400.7 502.07 L401.1 500.66 L401.5 502.68 L401.9 501.93 L402.3 500.82 L402.7 502.71 L403.1 502.18 L403.5 499.76 L403.9 502.73 L404.3 500.22 L404.7 501.43 L405.1 503.25 L405.5 502.2 L405.9 502.7 L406.3 498.86 L406.7 499.53 L407.1 499.52 L407.5 499.71 L407.9 500.03 L408.3 502.96 L408.7 499.75 L409.1 503.56 L409.5 500.59 L409.9 501.48 L410.3 501.52 L410.7 498.45 L411.1 502.38 L411.5 502.39 L411.9 498.61 L412.3 502.4 L412.7 502.32 L413.1 502.44 L413.5 501.25 L413.9 497.97 L414.3 499.19 L414.7 500.52 L415.1 502.8 L415.5 501.28 L415.9 498.3 L416.3 500.23 L416.7 499.59 L417.1 497.21 L417.5 501.08 L417.9 503.04 L418.3 498.04 L418.7 497.03 L419.1 496.81 L419.5 500.61 L419.9 501.57 L420.3 501.3 L420.7 497.28 L421.1 501.93 L421.5 501.58 L421.9 501.69 L422.3 501.54 L422.7 502.68 L423.1 498.43 L423.5 499.93 L423.9 501.59 L424.3 500.48 L424.7 496.85 L425.1 500.26 L425.5 496.85 L425.9 499.88 L426.3 501.29 L426.7 496.35 L427.1 502.56 L427.5 499.01 L427.9 502.95 L428.3 496.89 L428.7 499.3 L429.1 500.25 L429.5 498.47 L429.9 498.09 L430.3 497.09 L430.7 500.19 L431.1 498.63 L431.5 499.34 L431.9 501.24 L432.3 502.39 L432.7 502.35 L433.1 502.45 L433.5 499.77 L433.9 498.27 L434.3 498.33 L434.7 502.81 L435.1 500.26 L435.5 501.4 L435.9 500.3 L436.3 502.79 L436.7 502.39 L437.1 502.87 L437.5 498.89 L437.9 502.19 L438.3 501.62 L438.7 503.48 L439.1 499.56 L439.5 500.31 L439.9 501.36 L440.3 502.83 L440.7 499.87 L441.1 501.69 L441.5 499.72 L441.9 501.89 L442.3 500.57 L442.7 499.98 L443.1 502.33 L443.5 502.08 L443.9 503.11 L444.3 503.5 L444.7 501.09 L445.1 502.02 L445.5 501.23 L445.9 501.39 L446.3 501.92 L446.7 501.34 L447.1 502.1 L447.5 503.7 L447.9 501.47 L448.3 502.82 L448.7 503.81 L449.1 501.19 L449.5 502.81 L449.9 502.08 L450.3 503.54 L450.7 503.08 L451.1 502 L451.5 501.8 L451.9 502.63 L452.3 503.05 L452.7 501.68 L453.1 502.41 L453.5 503.67 L453.9 502.35 L454.3 502.59 L454.7 501.45 L455.1 501.82 L455.1 504.1" fill="#35a2ee"/>
<path d="M389.9 504.1 L389.9 503.44 L390.3 502.49 L390.7 502.14 L391.1 503.14 L391.5 502.94 L391.9 503.36 L392.3 502.3 L392.7 502.42 L393.1 502.85 L393.5 503.04 L393.9 502.07 L394.3 502.47 L394.7 502.53 L395.1 501.78 L395.5 503.71 L395.9 503.27 L396.3 502.67 L396.7 502.39 L397.1 503.16 L397.5 501.12 L397.9 501.14 L398.3 502.7 L398.7 503.37 L399.1 502.82 L399.5 499.93 L399.9 502.29 L400.3 500.34 L400.7 501.98 L401.1 501.3 L401.5 502.73 L401.9 502.22 L402.3 500.39 L402.7 502.95 L403.1 502.83 L403.5 499.27 L403.9 502.56 L404.3 499.83 L404.7 502.25 L405.1 503.32 L405.5 502.92 L405.9 503.24 L406.3 500.3 L406.7 501.36 L407.1 499.43 L407.5 500.31 L407.9 501.43 L408.3 503.3 L408.7 499.93 L409.1 503.46 L409.5 500.13 L409.9 501.47 L410.3 501.61 L410.7 498.32 L411.1 502.42 L411.5 502.83 L411.9 499.71 L412.3 502.85 L412.7 502.17 L413.1 502.12 L413.5 501.33 L413.9 498.24 L414.3 499.4 L414.7 499.93 L415.1 502.87 L415.5 500.76 L415.9 498.27 L416.3 501.71 L416.7 499.66 L417.1 496.62 L417.5 501.07 L417.9 503.04 L418.3 499.8 L418.7 499.35 L419.1 495.38 L419.5 500.9 L419.9 501.41 L420.3 501.03 L420.7 498.62 L421.1 502.02 L421.5 501.93 L421.9 502.47 L422.3 502.37 L422.7 502.61 L423.1 497.39 L423.5 499.66 L423.9 502.28 L424.3 500.24 L424.7 496.52 L425.1 500.29 L425.5 497.36 L425.9 499.74 L426.3 501.81 L426.7 497.35 L427.1 502.77 L427.5 498.56 L427.9 503.08 L428.3 499.33 L428.7 499.5 L429.1 500.23 L429.5 498.98 L429.9 499.8 L430.3 498.59 L430.7 500.88 L431.1 500.01 L431.5 500.08 L431.9 501.95 L432.3 502.84 L432.7 502.32 L433.1 503.11 L433.5 501.28 L433.9 499.55 L434.3 499.72 L434.7 503.15 L435.1 500.83 L435.5 502.14 L435.9 500.45 L436.3 502.76 L436.7 502.27 L437.1 503.18 L437.5 497.97 L437.9 502.93 L438.3 501.78 L438.7 503.47 L439.1 498.78 L439.5 499.85 L439.9 500.92 L440.3 502.96 L440.7 499.73 L441.1 501.99 L441.5 499.55 L441.9 502.24 L442.3 500.79 L442.7 499.84 L443.1 502.89 L443.5 502.77 L443.9 503.36 L444.3 503.46 L444.7 500.59 L445.1 501.85 L445.5 501.18 L445.9 502.11 L446.3 502.06 L446.7 501.78 L447.1 502.6 L447.5 503.81 L447.9 501.68 L448.3 502.62 L448.7 503.78 L449.1 501.18 L449.5 502.74 L449.9 502.73 L450.3 503.62 L450.7 503.4 L451.1 502.06 L451.5 502.13 L451.9 503.14 L452.3 502.92 L452.7 502.36 L453.1 502.45 L453.5 503.82 L453.9 502.15 L454.3 502.84 L454.7 501.89 L455.1 502.11 L455.1 504.1" fill="#0a22b4"/>
<path d="M389.9 517.7 L389.9 517.07 L390.3 516.71 L390.7 516.76 L391.1 517.24 L391.5 517.06 L391.9 516.75 L392.3 516.65 L392.7 517.13 L393.1 517.27 L393.5 516.59 L393.9 516.83 L394.3 517.09 L394.7 516.97 L395.1 516.78 L395.5 516.66 L395.9 517.22 L396.3 516.99 L396.7 516.5 L397.1 516.39 L397.5 516.52 L397.9 516.56 L398.3 516.37 L398.7 516.64 L399.1 516.89 L399.5 516.09 L399.9 516.09 L400.3 516.15 L400.7 516.09 L401.1 516.39 L401.5 516.53 L401.9 516.24 L402.3 516.27 L402.7 516.56 L403.1 515.79 L403.5 516.03 L403.9 515.97 L404.3 516.02 L404.7 515.58 L405.1 515.21 L405.5 515.66 L405.9 515.62 L406.3 515.42 L406.7 516.3 L407.1 515.21 L407.5 514.63 L407.9 515.42 L408.3 514.96 L408.7 515.29 L409.1 515.99 L409.5 514.15 L409.9 514.35 L410.3 515.7 L410.7 514.69 L411.1 515.38 L411.5 515.31 L411.9 515.86 L412.3 514.22 L412.7 515.17 L413.1 515.77 L413.5 515.77 L413.9 513.44 L414.3 514.51 L414.7 514 L415.1 514.52 L415.5 515.52 L415.9 512.75 L416.3 513.1 L416.7 515.62 L417.1 512.27 L417.5 512.74 L417.9 515.77 L418.3 513.02 L418.7 514.37 L419.1 515.57 L419.5 513.07 L419.9 513.24 L420.3 513.03 L420.7 512.58 L421.1 513.23 L421.5 514.01 L421.9 512.14 L422.3 512.84 L422.7 514.64 L423.1 512.66 L423.5 515.24 L423.9 513.36 L424.3 514.76 L424.7 512.41 L425.1 511.18 L425.5 512.84 L425.9 512.71 L426.3 511.65 L426.7 512.47 L427.1 515.26 L427.5 515.23 L427.9 513.6 L428.3 512.69 L428.7 512.07 L429.1 511.53 L429.5 514.8 L429.9 512.13 L430.3 512.9 L430.7 514.52 L431.1 513.88 L431.5 511.66 L431.9 513.04 L432.3 510.17 L432.7 514.82 L433.1 512.67 L433.5 511.72 L433.9 512.36 L434.3 512.34 L434.7 511.79 L435.1 511.68 L435.5 512.69 L435.9 512.79 L436.3 512.85 L436.7 514.62 L437.1 514.87 L437.5 513.98 L437.9 514.24 L438.3 514.43 L438.7 513.34 L439.1 515.99 L439.5 515.73 L439.9 514.78 L440.3 514.45 L440.7 514.52 L441.1 515.73 L441.5 514.6 L441.9 515.27 L442.3 516.48 L442.7 516.18 L443.1 516.19 L443.5 516.44 L443.9 515.43 L444.3 514.84 L444.7 515.14 L445.1 516.57 L445.5 516.42 L445.9 515.78 L446.3 516.18 L446.7 516 L447.1 516.37 L447.5 516.78 L447.9 516.07 L448.3 515.72 L448.7 516.98 L449.1 515.83 L449.5 516.88 L449.9 516.67 L450.3 516.63 L450.7 517.02 L451.1 516.9 L451.5 516.19 L451.9 516.84 L452.3 516.91 L452.7 516.32 L453.1 516.87 L453.5 517.12 L453.9 516.43 L454.3 516.4 L454.7 516.58 L455.1 517.25 L455.1 517.7" fill="#a40c0c"/>
<path d="M389.9 529.5 L389.9 528.84 L390.3 529.03 L390.7 528.91 L391.1 528.97 L391.5 528.79 L391.9 529.08 L392.3 528.9 L392.7 528.83 L393.1 529.24 L393.5 528.97 L393.9 528.9 L394.3 528.84 L394.7 528.85 L395.1 528.89 L395.5 529.19 L395.9 528.99 L396.3 528.83 L396.7 528.97 L397.1 529.11 L397.5 529.22 L397.9 528.95 L398.3 528.91 L398.7 528.7 L399.1 529.12 L399.5 528.9 L399.9 528.82 L400.3 528.91 L400.7 528.83 L401.1 528.84 L401.5 528.7 L401.9 528.85 L402.3 528.66 L402.7 528.51 L403.1 528.47 L403.5 528.52 L403.9 528.28 L404.3 528.43 L404.7 528.17 L405.1 528.06 L405.5 528.59 L405.9 527.88 L406.3 528.09 L406.7 528.59 L407.1 527.55 L407.5 528.53 L407.9 527.06 L408.3 527.26 L408.7 527.47 L409.1 527.45 L409.5 527.97 L409.9 528.19 L410.3 525.73 L410.7 526.13 L411.1 526.8 L411.5 525.24 L411.9 526.22 L412.3 527.51 L412.7 525.89 L413.1 525.81 L413.5 523.59 L413.9 526.77 L414.3 523.84 L414.7 526.08 L415.1 523.6 L415.5 523.71 L415.9 526.52 L416.3 525.87 L416.7 523.05 L417.1 526.15 L417.5 521.07 L417.9 521.37 L418.3 524.36 L418.7 520.74 L419.1 524.13 L419.5 523.01 L419.9 524.52 L420.3 524.94 L420.7 523.44 L421.1 521.53 L421.5 524.51 L421.9 522.99 L422.3 522.05 L422.7 524.41 L423.1 523.11 L423.5 521.85 L423.9 524.15 L424.3 525.71 L424.7 522.93 L425.1 522.28 L425.5 522.58 L425.9 520.53 L426.3 524.69 L426.7 523.94 L427.1 520.91 L427.5 520.54 L427.9 524.43 L428.3 524.41 L428.7 522.41 L429.1 521.71 L429.5 521.72 L429.9 525.81 L430.3 521.63 L430.7 522.92 L431.1 525.3 L431.5 522.25 L431.9 526.29 L432.3 526.1 L432.7 523.29 L433.1 526.79 L433.5 524.61 L433.9 525.83 L434.3 526.39 L434.7 526 L435.1 527.38 L435.5 527.28 L435.9 524.83 L436.3 525.69 L436.7 525.49 L437.1 527.27 L437.5 526.45 L437.9 527.98 L438.3 527.19 L438.7 527.51 L439.1 528.16 L439.5 527.74 L439.9 527.06 L440.3 527.57 L440.7 527.67 L441.1 528.13 L441.5 527.72 L441.9 528.35 L442.3 528.72 L442.7 528.08 L443.1 528.01 L443.5 528.43 L443.9 528.52 L444.3 528.54 L444.7 528.88 L445.1 528.9 L445.5 528.71 L445.9 529.12 L446.3 528.83 L446.7 528.8 L447.1 528.67 L447.5 528.98 L447.9 529.12 L448.3 528.67 L448.7 528.74 L449.1 528.81 L449.5 528.95 L449.9 529.18 L450.3 528.7 L450.7 529.23 L451.1 528.78 L451.5 529.1 L451.9 528.97 L452.3 529.04 L452.7 528.99 L453.1 528.8 L453.5 528.97 L453.9 529.2 L454.3 529.08 L454.7 528.87 L455.1 529.03 L455.1 529.5" fill="#a40c0c"/>
<line x1="389.4" y1="466.2" x2="455.6" y2="466.2" stroke="#bdbdbd" stroke-width="0.6"/>
<line x1="389.4" y1="478.5" x2="455.6" y2="478.5" stroke="#bdbdbd" stroke-width="0.6"/>
<line x1="389.4" y1="490.8" x2="455.6" y2="490.8" stroke="#bdbdbd" stroke-width="0.6"/>
<line x1="389.4" y1="504.6" x2="455.6" y2="504.6" stroke="#bdbdbd" stroke-width="0.6"/>
<line x1="389.4" y1="518.2" x2="455.6" y2="518.2" stroke="#bdbdbd" stroke-width="0.6"/>
<line x1="389.4" y1="530" x2="455.6" y2="530" stroke="#bdbdbd" stroke-width="0.6"/>
<line x1="389.4" y1="543.5" x2="455.6" y2="543.5" stroke="#bdbdbd" stroke-width="0.6"/>
<line x1="389.4" y1="555.4" x2="455.6" y2="555.4" stroke="#bdbdbd" stroke-width="0.6"/>
<text x="390.2" y="456.2" font-size="4.4" fill="#4cb84c" stroke="#4cb84c" stroke-width="0.2">25</text>
<text x="390.2" y="470.4" font-size="4.4" fill="#c8203a" stroke="#c8203a" stroke-width="0.2">25</text>
<text x="390.2" y="482.7" font-size="4.4" fill="#2a5ea8" stroke="#2a5ea8" stroke-width="0.2">25</text>
<text x="390.2" y="495" font-size="4.4" fill="#2a5ea8" stroke="#2a5ea8" stroke-width="0.2">25</text>
<text x="390.2" y="508.8" font-size="4.4" fill="#c8203a" stroke="#c8203a" stroke-width="0.2">25</text>
<text x="390.2" y="522.4" font-size="4.4" fill="#c8203a" stroke="#c8203a" stroke-width="0.2">25</text>
<text x="390.2" y="534.2" font-size="4.4" fill="#6b3d8f" stroke="#6b3d8f" stroke-width="0.2">17</text>
<text x="390.2" y="547.7" font-size="4.4" fill="#6b3d8f" stroke="#6b3d8f" stroke-width="0.2">17</text>
<path d="M409.6 542.6 L411.5 537 L412.3 534.2 L413.3 538 L414.2 537.8 L415.2 540.5 L416.5 542.6" fill="#ff80e0"/>
<path d="M410.2 542.6 L411.2 540.5 L412 539.8 L412.5 542.6" fill="#3a1458"/>
<path d="M413 542.6 L413.8 540.5 L414.8 542.6" fill="#3a1458"/>
<text x="417.6" y="538" font-size="5.4" fill="#222" textLength="7.8" lengthAdjust="spacingAndGlyphs" stroke="#222" stroke-width="0.2">x1.6</text>
<path d="M409.6 554.6 L410.5 551.5 L411.3 550 L412 552.5 L413 551 L414 553.2 L416.5 554.6" fill="#ff80e0"/>
<path d="M410.8 554.6 L411.6 553 L412.4 554.6" fill="#3a1458"/>
<path d="M413.8 554.6 L414.8 553.4 L415.8 554.6" fill="#3a1458"/>
<text x="417.6" y="551.3" font-size="5.4" fill="#222" textLength="7.8" lengthAdjust="spacingAndGlyphs" stroke="#222" stroke-width="0.2">x2.1</text>
<line x1="407.8" y1="558.8" x2="455" y2="558.8" stroke="#4a5ee8" stroke-width="0.8"/>
<rect x="407.8" y="557.6" width="8.7" height="2.4" fill="#3a4ad8" rx="1"/>
<rect x="389.4" y="452" width="66.2" height="110.6" fill="none" stroke="#8c8c8c" stroke-width="1.1"/>
<rect x="457.5" y="484.3" width="6.1" height="5.5" fill="#2ea4ee"/>
<text x="466.6" y="488.9" fill="#231f20" textLength="16.4" lengthAdjust="spacingAndGlyphs" stroke="#231f20" stroke-width="0.17">DMSO</text>
<rect x="457.5" y="492.1" width="6.1" height="5.5" fill="#0a1fb0"/>
<text x="466.6" y="496.7" fill="#231f20" textLength="26.8" lengthAdjust="spacingAndGlyphs" stroke="#231f20" stroke-width="0.17">KDM5-inh1</text>
<rect x="457.5" y="507.5" width="6.1" height="5.5" fill="#d6aa10"/>
<text x="466.6" y="512.1" fill="#231f20" textLength="16.4" lengthAdjust="spacingAndGlyphs" stroke="#231f20" stroke-width="0.17">DMSO</text>
<rect x="457.5" y="515.4" width="6.1" height="5.5" fill="#9c0b0b"/>
<text x="466.6" y="520" fill="#231f20" textLength="26.8" lengthAdjust="spacingAndGlyphs" stroke="#231f20" stroke-width="0.17">KDM5-inh1</text>
<rect x="457.5" y="531.7" width="6.1" height="5.5" fill="#3a1458"/>
<text x="466.6" y="536.3" fill="#231f20" textLength="16.4" lengthAdjust="spacingAndGlyphs" stroke="#231f20" stroke-width="0.17">DMSO</text>
<rect x="457.5" y="539.6" width="6.1" height="5.5" fill="#ff78e8"/>
<text x="466.6" y="544.2" fill="#231f20" textLength="26.8" lengthAdjust="spacingAndGlyphs" stroke="#231f20" stroke-width="0.17">KDM5-inh1</text>
</svg>
<div id="b"></div>
</div>
</body></html>
